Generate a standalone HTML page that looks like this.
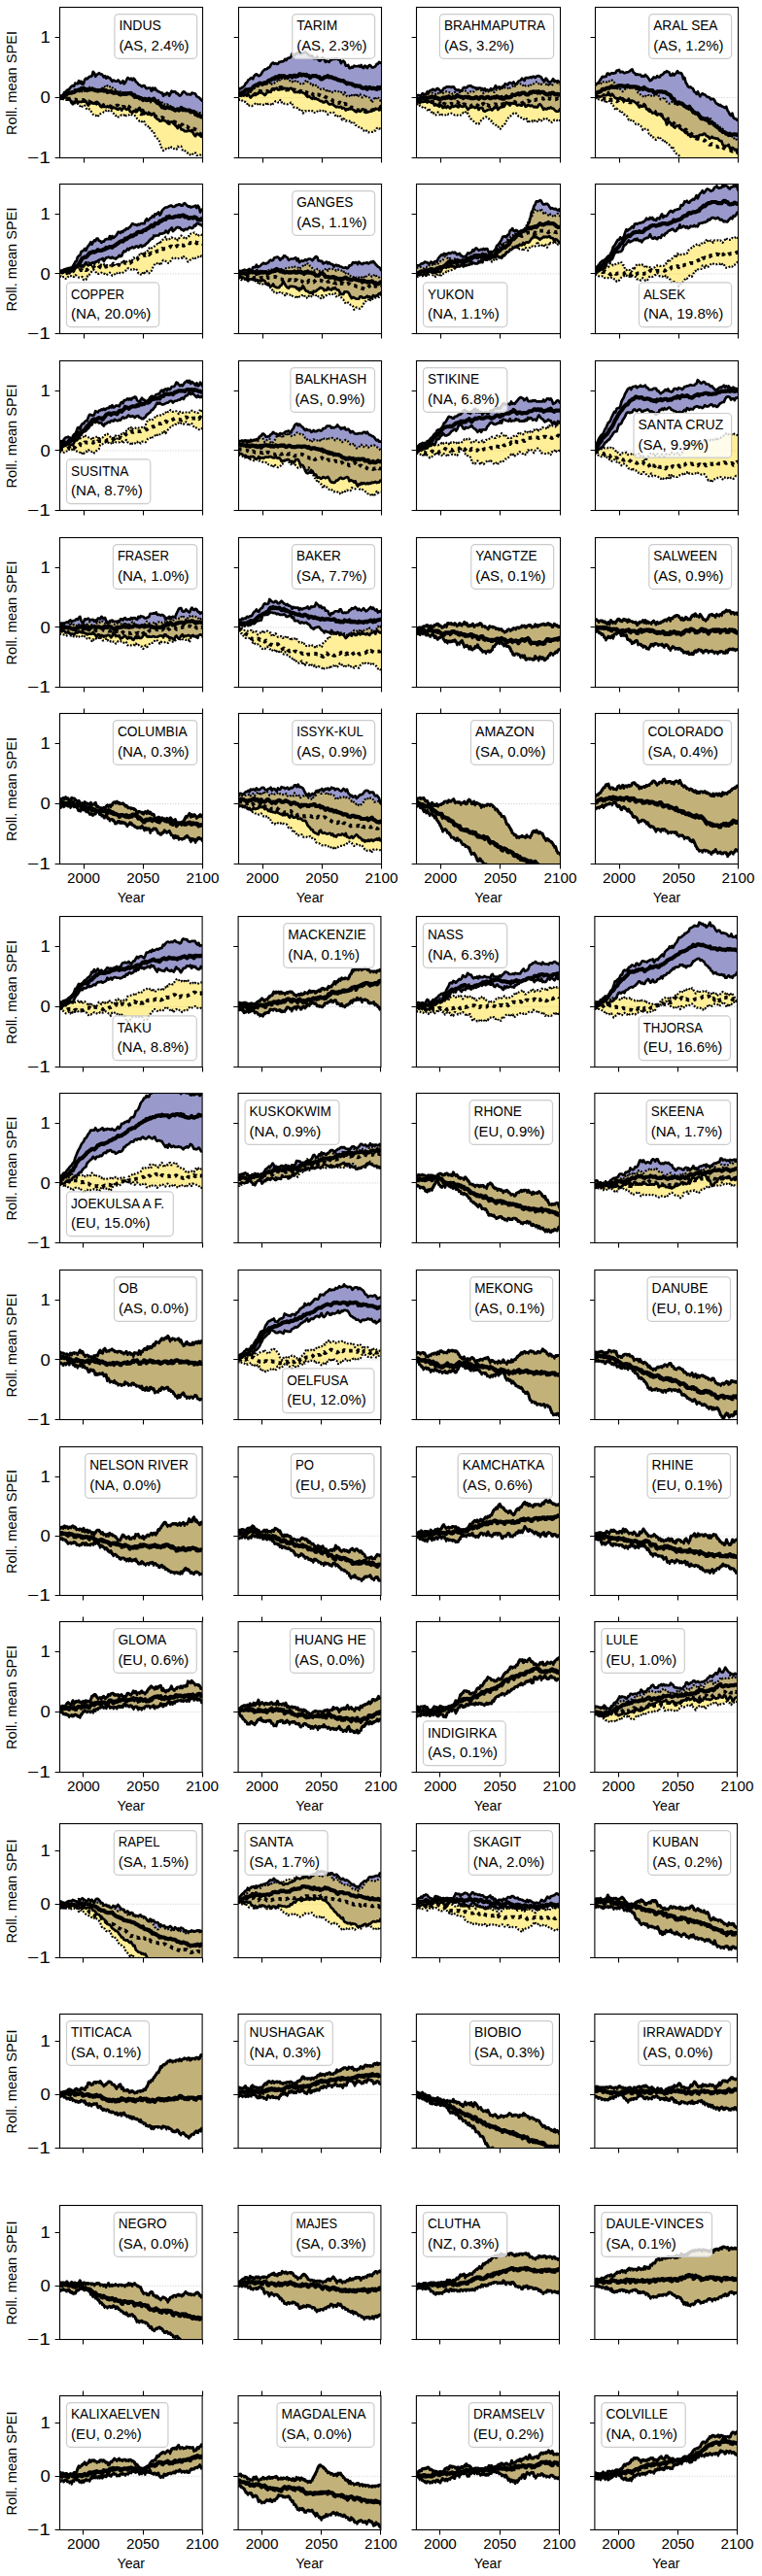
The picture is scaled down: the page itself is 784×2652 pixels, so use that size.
<!DOCTYPE html>
<html><head><meta charset="utf-8"><title>SPEI</title>
<style>html,body{margin:0;padding:0;background:#fff;width:784px;height:2652px;overflow:hidden}
svg{display:block;font-family:"Liberation Sans",sans-serif;fill:#000}
.s1,.s2,.d1,.d2{fill:none;stroke:#000;stroke-linejoin:round;vector-effect:non-scaling-stroke}
.s1{stroke-width:2.7}.s2{stroke-width:4.2}.s1.t{stroke-width:3}.s2.t{stroke-width:4.4}.d1{stroke-width:2.2;stroke-dasharray:1.8 1.7}.d2{stroke-width:3.8;stroke-dasharray:3.6 4.4}</style></head>
<body><svg width="784" height="2652" viewBox="0 0 784 2652">
<rect width="784" height="2652" fill="#fff"/>
<clipPath id="c0_0"><rect x="61.5" y="7.5" width="147.0" height="155.0"/></clipPath>
<g clip-path="url(#c0_0)">
<line x1="61.5" y1="100.5" x2="208.5" y2="100.5" stroke="#aaa" stroke-width="0.6" stroke-dasharray="1,1.7"/>
<g transform="matrix(1.2250 0 0 0.6200 61.50 100.50)">
<path d="M0 0l 1-3 1 0 1-2 1-4 1 0 1-3 1-1 1-1 1-3 1-2 1-1 1 1 1-5 1 1 1 0 1-5 1 4 1-3 1 5 1-1 1-7 1-2 1 1 1-2 1-2 1 0 1-1 1-7 1 2 1 6 1-3 1-1 1-2 1 2 1 0 1 2 1 3 1-2 1 4 1-3 1 2 1 0 1 3 1 3 1-2 1 1 1 1 1 0 1-2 1 2 1 3 1-1 1-3 1 5 1-2 1-4 1-4 1 1 1 2 1-2 1 3 1-3 1 2 1 4 1 1 1 3 1 1 1 1 1 2 1-2 1 0 1 3 1 2 1-1 1 0 1 0 1 5 1-5 1 3 1-3 1 3 1 2 1 1 1 1 1 1 1 0 1 5 1-3 1 1 1-3 1 1 1 4 1-4 1-4 1 2 1-1 1 0 1 3 1 0 1 3 1 1 1-2 1-3 1-2 1 1 1 2 1 2 1-1 1 1 1 0 1-3 1 1 1 0 1 1 1 4 1 1 1 1 1 2 1 2 1 2 0 56-1 3-1-2-1-1-1-2-1 0-1 4-1-2-1-3-1-5-1 2-1-1-1-1-1 2-1 0-1 0-1-2-1-1-1 0-1-5-1-2-1 5-1-3-1-2-1-2-1-2-1-2-1 1-1 0-1-2-1 2-1-2-1-1-1 0-1-1-1 2-1 0-1-3-1 0-1-2-1-2-1-6-1 1-1 2-1-2-1-1-1 2-1-2-1-1-1 2-1-6-1-1-1 2-1-5-1 2-1 4-1 1-1-1-1-1-1 3-1-1-1-1-1-5-1 1-1 1-1-2-1-1-1 1-1 3-1-3-1 0-1 2-1-1-1-1-1-1-1-1-1 2-1-1-1-2-1 1-1-2-1 2-1-1-1 0-1 0-1 1-1-2-1-4-1-1-1 2-1-1-1-1-1 1-1-2-1-1-1 2-1 4-1-3-1-4-1-1-1 1-1 1-1 0-1 0-1 0-1 2-1-4-1 3-1-1-1 4-1-2-1-4-1-3-1 1-1-3-1 0-1 0-1 1-1 1-1-1-1 0z" fill="#9999cc"/>
<path d="M0 1l 1-2 1-1 1-3 1 3 1-2 1-1 1-2 1-2 1-3 1 2 1-2 1-1 1 0 1 3 1-2 1 0 1 3 1-2 1 1 1-2 1 1 1-1 1-3 1-2 1 0 1-1 1 0 1 4 1 0 1 0 1 2 1-2 1 2 1-3 1-1 1 1 1-3 1 0 1 1 1-3 1 2 1 0 1-1 1 2 1 2 1 0 1 3 1 3 1-1 1 0 1 0 1 0 1 2 1-1 1 1 1 1 1 2 1-1 1-3 1 0 1 5 1 0 1-2 1 4 1 2 1-1 1 4 1-4 1 3 1 1 1 1 1 1 1 1 1-2 1 4 1 0 1-1 1 0 1-2 1 2 1-3 1 2 1-2 1 3 1 3 1-2 1 3 1 0 1 1 1-1 1 1 1 2 1 0 1 6 1-1 1 1 1-1 1 1 1 0 1 0 1-2 1 2 1 2 1 0 1-2 1 2 1 1 1-1 1-1 1 2 1 1 1-1 1-1 1 2 1 0 1 1 1 1 1-1 1 2 1 3 0 69-1-2-1-2-1 1-1 0-1 0-1-4-1-1-1 2-1 2-1 1-1-2-1 0-1-3-1-1-1-2-1-2-1 1-1-6-1 0-1 1-1-1-1 5-1 0-1-1-1-2-1 0-1-2-1 2-1 2-1 1-1-1-1 1-1 2-1-3-1-4-1-6-1-6-1-1-1-2-1-2-1-7-1 0-1-3-1-2-1-5-1 1-1-2-1-1-1-5-1-2-1 2-1-2-1 1-1-2-1-2-1-4-1-1-1 0-1-1-1-1-1-1-1 2-1 0-1 0-1 3-1-3-1 1-1-1-1 1-1 2-1 0-1-3-1 1-1-3-1-1-1-2-1-3-1 1-1 0-1-2-1 1-1 3-1 0-1 1-1 1-1 1-1 0-1 5-1-1-1-2-1 0-1-1-1-3-1-3-1-3-1 1-1 0-1-3-1-4-1 2-1 0-1-3-1 2-1-1-1-3-1 0-1 0-1-2-1-1-1-1-1-2-1-1-1-1-1 2-1 0-1 0-1-1-1-3-1 0-1 0z" fill="#ffd700" fill-opacity="0.4"/>
<path class="d1" d="M0 1l 1-2 1-1 1-3 1 3 1-2 1-1 1-2 1-2 1-3 1 2 1-2 1-1 1 0 1 3 1-2 1 0 1 3 1-2 1 1 1-2 1 1 1-1 1-3 1-2 1 0 1-1 1 0 1 4 1 0 1 0 1 2 1-2 1 2 1-3 1-1 1 1 1-3 1 0 1 1 1-3 1 2 1 0 1-1 1 2 1 2 1 0 1 3 1 3 1-1 1 0 1 0 1 0 1 2 1-1 1 1 1 1 1 2 1-1 1-3 1 0 1 5 1 0 1-2 1 4 1 2 1-1 1 4 1-4 1 3 1 1 1 1 1 1 1 1 1-2 1 4 1 0 1-1 1 0 1-2 1 2 1-3 1 2 1-2 1 3 1 3 1-2 1 3 1 0 1 1 1-1 1 1 1 2 1 0 1 6 1-1 1 1 1-1 1 1 1 0 1 0 1-2 1 2 1 2 1 0 1-2 1 2 1 1 1-1 1-1 1 2 1 1 1-1 1-1 1 2 1 0 1 1 1 1 1-1 1 2 1 3"/>
<path class="d1" d="M0 0l 1 0 1 0 1 3 1 1 1 0 1 0 1-2 1 1 1 1 1 2 1 1 1 1 1 2 1 0 1 0 1 3 1 1 1-2 1 3 1 0 1-2 1 4 1 3 1 0 1-1 1 3 1 3 1 3 1 1 1 0 1 2 1 1 1-5 1 0 1-1 1-1 1-1 1 0 1-3 1-1 1 2 1 0 1-1 1 3 1 2 1 1 1 3 1-1 1 3 1 0 1-2 1-1 1 1 1-1 1 3 1-3 1 0 1 0 1-2 1 1 1 1 1 1 1 0 1 1 1 4 1 2 1 2 1-1 1 2 1-2 1 2 1 5 1 1 1 2 1-1 1 5 1 2 1 3 1 0 1 7 1 2 1 2 1 1 1 6 1 6 1 4 1 3 1-2 1-1 1 1 1-1 1-2 1-2 1 2 1 0 1 2 1 1 1 0 1-5 1 1 1-1 1 0 1 6 1-1 1 2 1 2 1 1 1 3 1 0 1 2 1-1 1-2 1-2 1 1 1 4 1 0 1 0 1-1 1 2 1 2"/>
<path class="d2" d="M0 0l 1 1 1-1 1 1 1 0 1 1 1 0 1 0 1 0 1 0 1 0 1 0 1 1 1 0 1 1 1 0 1-1 1 1 1 0 1 0 1 0 1 2 1-2 1 2 1 0 1 1 1 2 1 0 1 0 1 1 1-1 1-1 1 1 1 1 1-1 1 1 1 2 1 1 1 0 1 1 1 0 1-1 1 1 1 1 1 1 1-2 1 0 1 0 1-1 1 0 1 2 1-1 1 2 1-1 1 0 1 3 1-2 1-2 1 1 1 2 1 2 1 0 1 0 1 2 1 0 1 3 1 0 1 2 1 1 1 0 1-1 1-1 1 0 1-1 1 1 1 1 1 1 1 0 1 2 1 0 1 1 1 2 1 1 1 1 1 0 1 0 1-1 1 1 1 1 1 2 1 2 1 3 1 1 1-2 1 1 1-1 1-1 1 1 1 1 1 0 1 0 1 2 1 1 1 0 1 3 1-1 1 1 1 0 1 2 1 1 1 0 1-1 1 2 1 0 1 1 1 1 1 2 1 3 1 1 1 2 1 1"/>
<path class="s1" d="M0 0l 1-3 1 0 1-2 1-4 1 0 1-3 1-1 1-1 1-3 1-2 1-1 1 1 1-5 1 1 1 0 1-5 1 4 1-3 1 5 1-1 1-7 1-2 1 1 1-2 1-2 1 0 1-1 1-7 1 2 1 6 1-3 1-1 1-2 1 2 1 0 1 2 1 3 1-2 1 4 1-3 1 2 1 0 1 3 1 3 1-2 1 1 1 1 1 0 1-2 1 2 1 3 1-1 1-3 1 5 1-2 1-4 1-4 1 1 1 2 1-2 1 3 1-3 1 2 1 4 1 1 1 3 1 1 1 1 1 2 1-2 1 0 1 3 1 2 1-1 1 0 1 0 1 5 1-5 1 3 1-3 1 3 1 2 1 1 1 1 1 1 1 0 1 5 1-3 1 1 1-3 1 1 1 4 1-4 1-4 1 2 1-1 1 0 1 3 1 0 1 3 1 1 1-2 1-3 1-2 1 1 1 2 1 2 1-1 1 1 1 0 1-3 1 1 1 0 1 1 1 4 1 1 1 1 1 2 1 2 1 2"/>
<path class="s1" d="M0 1l 1 0 1 1 1-1 1-1 1 0 1 0 1 3 1-1 1 3 1 4 1 2 1-4 1 1 1-3 1 4 1-2 1 0 1 0 1 0 1-1 1-1 1 1 1 4 1 3 1-4 1-2 1 1 1 2 1-1 1 1 1 1 1-2 1 1 1 4 1 2 1-1 1 0 1 0 1 1 1-2 1 2 1-1 1 2 1 1 1-2 1 1 1 1 1 1 1 1 1-2 1 0 1 3 1-3 1-1 1 1 1 2 1-1 1-1 1 5 1 1 1 1 1-3 1 1 1 1 1-1 1-4 1-2 1 5 1-2 1 1 1 6 1-2 1 1 1 2 1-2 1 1 1 2 1-2 1-1 1 6 1 2 1 2 1 0 1 3 1 0 1-2 1 1 1 0 1 1 1 2 1-2 1 2 1 0 1-1 1 2 1 2 1 2 1 2 1 3 1-5 1 2 1 5 1 0 1 1 1 2 1 0 1 0 1-2 1 1 1 1 1-2 1 5 1 3 1 2 1-4 1 0 1 2 1 1 1 2 1-3"/>
<path class="s2" d="M0 -1l 1 0 1-1 1-1 1-1 1-1 1-1 1-1 1-1 1 0 1 0 1-1 1 0 1-2 1-1 1 0 1-1 1 1 1-3 1 0 1-1 1 3 1-1 1 2 1-2 1 1 1-1 1 0 1 1 1 0 1 1 1 0 1 1 1-1 1 0 1 0 1-2 1 3 1-1 1 0 1 3 1-1 1 0 1-1 1 2 1 1 1 0 1-1 1 1 1 0 1 2 1 1 1-1 1-1 1 1 1-1 1 1 1-1 1 0 1 0 1 0 1 2 1 1 1 3 1-1 1 1 1 0 1 2 1 0 1 1 1 2 1-2 1 0 1 2 1 0 1-2 1 2 1 0 1-1 1-1 1 3 1 2 1 2 1-1 1 3 1 2 1 3 1-1 1 2 1 0 1-1 1 0 1 1 1 0 1 0 1 1 1 2 1 1 1-1 1-1 1 2 1-1 1-3 1 2 1 0 1 1 1 1 1 0 1 0 1 0 1 3 1-1 1 0 1 1 1 4 1 0 1 2 1-1 1 2 1 1 1-2"/>
</g></g>
<rect x="61.5" y="7.5" width="147.0" height="155.0" fill="none" stroke="#000" stroke-width="1.1"/>
<path d="M56.6 38.5H61.5 M56.6 100.5H61.5 M56.6 162.5H61.5 M86.5 162.5V167.4 M147.5 162.5V167.4 M208.5 162.5V167.4" stroke="#000" stroke-width="1.1" fill="none"/>
<text x="51.8" y="44.1" text-anchor="end" font-size="16.67" textLength="10.3" lengthAdjust="spacingAndGlyphs">1</text>
<text x="51.8" y="106.1" text-anchor="end" font-size="16.67" textLength="10.3" lengthAdjust="spacingAndGlyphs">0</text>
<text x="51.8" y="168.1" text-anchor="end" font-size="16.67" textLength="23.8" lengthAdjust="spacingAndGlyphs">−1</text>
<text transform="translate(17.2,85.5) rotate(-90)" text-anchor="middle" font-size="13.89" textLength="106.9" lengthAdjust="spacingAndGlyphs">Roll. mean SPEI</text>
<rect x="117.9" y="14.6" width="84.8" height="45.7" rx="4" ry="4" fill="#fff" fill-opacity="0.8" stroke="#cccccc" stroke-width="1.2"/>
<text x="122.4" y="31.2" font-size="13.89" textLength="43.5" lengthAdjust="spacingAndGlyphs">INDUS</text>
<text x="122.4" y="52.0" font-size="13.89" textLength="72.2" lengthAdjust="spacingAndGlyphs">(AS, 2.4%)</text>
<clipPath id="c0_1"><rect x="245.5" y="7.5" width="147.0" height="155.0"/></clipPath>
<g clip-path="url(#c0_1)">
<line x1="245.5" y1="100.5" x2="392.5" y2="100.5" stroke="#aaa" stroke-width="0.6" stroke-dasharray="1,1.7"/>
<g transform="matrix(1.2250 0 0 0.6200 245.50 100.50)">
<path d="M0 -12l 1-3 1 0 1-2 1-1 1-2 1-4 1-1 1-4 1-1 1-2 1-1 1 2 1-5 1-2 1-1 1 2 1 1 1-1 1-2 1-4 1-2 1-2 1 0 1-1 1-2 1 0 1-4 1-3 1-1 1 2 1-1 1 1 1 0 1-3 1 0 1-1 1 0 1-1 1-3 1 2 1-3 1-1 1 0 1-2 1-5 1 4 1-1 1-3 1 0 1-2 1 0 1 3 1-2 1 0 1-1 1-1 1 2 1 1 1 3 1 0 1 1 1 0 1 4 1 0 1 0 1-3 1 5 1 2 1-1 1-4 1 0 1 3 1 4 1-2 1 1 1 1 1-3 1-1 1-1 1 0 1 0 1-1 1 1 1 1 1 0 1 6 1-3 1-1 1 2 1 6 1 0 1-1 1 5 1 0 1-2 1 1 1-3 1 1 1 0 1 0 1-1 1 2 1-3 1 4 1 1 1-4 1 1 1 3 1-3 1-2 1 1 1 3 1 0 1-1 1-1 1-4 1 0 1-3 1 1 1 1 0 70-1 2-1 3-1 1-1 0-1-1-1 3-1 0-1 1-1 1-1 0-1 1-1 0-1-3-1-1-1 0-1-1-1 3-1 1-1-2-1 0-1 3-1-1-1-2-1-1-1-2-1 1-1-1-1 2-1-1-1 2-1-3-1-1-1 1-1-3-1 1-1 0-1-1-1 1-1-2-1-1-1-3-1 1-1 0-1 0-1-2-1-3-1 0-1 2-1 0-1-2-1 0-1-1-1-2-1 0-1-2-1 1-1-3-1 3-1-1-1-2-1-1-1 1-1-2-1-3-1-1-1-1-1-1-1 0-1-1-1 1-1 0-1 0-1 0-1-3-1-2-1-2-1 1-1 1-1-1-1 0-1 0-1-1-1 2-1 0-1 0-1 1-1 0-1-3-1 1-1 1-1-1-1 1-1 5-1-1-1 0-1 1-1 3-1 2-1-2-1-1-1-2-1 1-1-1-1 3-1 0-1-1-1 2-1 1-1 2-1 2-1-3-1-2-1-1-1 1-1 1-1 1-1-2-1 0-1 2-1-1z" fill="#9999cc"/>
<path d="M0 -5l 1-1 1-1 1 0 1-1 1-1 1 2 1 0 1-2 1-2 1 2 1-6 1 0 1 0 1-2 1 0 1-4 1 0 1-3 1-1 1 2 1 0 1 1 1-2 1 1 1 1 1-2 1-2 1 4 1-1 1-1 1-2 1-1 1-1 1 1 1-5 1 1 1-1 1 0 1 1 1-1 1 0 1 4 1 0 1 0 1 2 1-2 1-1 1 3 1-1 1 1 1 2 1 1 1-1 1 1 1-1 1-3 1-2 1 3 1 1 1 1 1 2 1 2 1-2 1 0 1 2 1 3 1 0 1 0 1 3 1-1 1 0 1 1 1 0 1 5 1-3 1-1 1 4 1 1 1-1 1 0 1-2 1 1 1 0 1 0 1 2 1-1 1 1 1 3 1-4 1 3 1 4 1 0 1-1 1 2 1-3 1 2 1-2 1 2 1-5 1 6 1-3 1-2 1 5 1 1 1-1 1-4 1 3 1 2 1 0 1 0 1 3 1 5 1-3 1-4 1 2 1-4 1 1 1 2 1 3 1-5 0 51-1 0-1 1-1-2-1 1-1 4-1 0-1 2-1 0-1 0-1 0-1 1-1-1-1-3-1-1-1 2-1-2-1-3-1 0-1-1-1-2-1-1-1 0-1-4-1 0-1 1-1-5-1 1-1-1-1 0-1 1-1-3-1-1-1 2-1-4-1-4-1 1-1 1-1 1-1-3-1-4-1-1-1 1-1 0-1 1-1 2-1-2-1-3-1 1-1-2-1 1-1 0-1-2-1 0-1 2-1 2-1 0-1 0-1-3-1 1-1-1-1 0-1 1-1 0-1-1-1 2-1 2-1-6-1-1-1 1-1-3-1 0-1-1-1 0-1 0-1-6-1-2-1 2-1 0-1 1-1-1-1 0-1 0-1-3-1 1-1-4-1 4-1 0-1-2-1 0-1 3-1 1-1 3-1-2-1-1-1 0-1 3-1-3-1 2-1 0-1 0-1 0-1-1-1 2-1-2-1 1-1-2-1 2-1 1-1 1-1-1-1 0-1 1-1-5-1-2-1 0-1 0-1-2-1-1-1-1-1 2z" fill="#ffd700" fill-opacity="0.4"/>
<path class="d1" d="M0 -5l 1-1 1-1 1 0 1-1 1-1 1 2 1 0 1-2 1-2 1 2 1-6 1 0 1 0 1-2 1 0 1-4 1 0 1-3 1-1 1 2 1 0 1 1 1-2 1 1 1 1 1-2 1-2 1 4 1-1 1-1 1-2 1-1 1-1 1 1 1-5 1 1 1-1 1 0 1 1 1-1 1 0 1 4 1 0 1 0 1 2 1-2 1-1 1 3 1-1 1 1 1 2 1 1 1-1 1 1 1-1 1-3 1-2 1 3 1 1 1 1 1 2 1 2 1-2 1 0 1 2 1 3 1 0 1 0 1 3 1-1 1 0 1 1 1 0 1 5 1-3 1-1 1 4 1 1 1-1 1 0 1-2 1 1 1 0 1 0 1 2 1-1 1 1 1 3 1-4 1 3 1 4 1 0 1-1 1 2 1-3 1 2 1-2 1 2 1-5 1 6 1-3 1-2 1 5 1 1 1-1 1-4 1 3 1 2 1 0 1 0 1 3 1 5 1-3 1-4 1 2 1-4 1 1 1 2 1 3 1-5"/>
<path class="d1" d="M0 5l 1-2 1 1 1 1 1 2 1 0 1 0 1 2 1 5 1-1 1 0 1 1 1-1 1-1 1-2 1 2 1-1 1 2 1-2 1 1 1 0 1 0 1 0 1-2 1 3 1-3 1 0 1 1 1 2 1-3 1-1 1-3 1 0 1 2 1 0 1-4 1 4 1-1 1 3 1 0 1 0 1 1 1-1 1 0 1-2 1 2 1 6 1 0 1 0 1 1 1 0 1 3 1-1 1 1 1 6 1-2 1-2 1 1 1 0 1-1 1 0 1 1 1-1 1 3 1 0 1 0 1-2 1-2 1 0 1 2 1 0 1-1 1 2 1-1 1 3 1 2 1-2 1-1 1 0 1-1 1 1 1 4 1 3 1-1 1-1 1-1 1 4 1 4 1-2 1 1 1 3 1-1 1 0 1 1 1-1 1 5 1-1 1 0 1 4 1 0 1 1 1 2 1 1 1 0 1 3 1 2 1-2 1 1 1 3 1 1 1-1 1 0 1 0 1 0 1-2 1 0 1-4 1-1 1 2 1-1 1 0"/>
<path class="d2" d="M0 -3l 1-1 1 0 1-1 1 0 1 0 1 0 1 1 1-2 1 1 1 0 1 0 1-1 1 1 1 0 1-3 1-2 1 0 1-1 1 1 1 0 1 1 1 0 1-1 1-1 1 1 1-2 1 1 1-3 1 0 1 0 1 1 1-1 1-1 1 0 1-2 1 0 1 2 1 0 1 0 1 2 1-1 1 1 1-1 1 1 1 2 1-2 1 0 1 2 1 1 1 1 1 0 1-2 1 1 1 1 1-2 1 2 1 0 1 2 1-1 1 2 1-1 1 1 1 2 1-1 1 2 1-2 1 0 1 1 1 1 1-1 1 0 1 2 1 1 1 1 1 1 1 1 1 0 1 1 1 2 1 1 1 0 1 1 1 2 1 0 1-1 1 1 1 3 1-1 1-1 1 1 1 0 1 0 1 5 1 1 1-1 1 2 1 0 1 1 1 1 1 1 1 0 1 0 1 1 1 0 1 0 1 1 1 1 1-1 1 0 1 0 1-1 1-1 1-1 1 1 1-1 1 0 1 0 1 0 1-1 1 1"/>
<path class="s1" d="M0 -12l 1-3 1 0 1-2 1-1 1-2 1-4 1-1 1-4 1-1 1-2 1-1 1 2 1-5 1-2 1-1 1 2 1 1 1-1 1-2 1-4 1-2 1-2 1 0 1-1 1-2 1 0 1-4 1-3 1-1 1 2 1-1 1 1 1 0 1-3 1 0 1-1 1 0 1-1 1-3 1 2 1-3 1-1 1 0 1-2 1-5 1 4 1-1 1-3 1 0 1-2 1 0 1 3 1-2 1 0 1-1 1-1 1 2 1 1 1 3 1 0 1 1 1 0 1 4 1 0 1 0 1-3 1 5 1 2 1-1 1-4 1 0 1 3 1 4 1-2 1 1 1 1 1-3 1-1 1-1 1 0 1 0 1-1 1 1 1 1 1 0 1 6 1-3 1-1 1 2 1 6 1 0 1-1 1 5 1 0 1-2 1 1 1-3 1 1 1 0 1 0 1-1 1 2 1-3 1 4 1 1 1-4 1 1 1 3 1-3 1-2 1 1 1 3 1 0 1-1 1-1 1-4 1 0 1-3 1 1 1 1"/>
<path class="s1" d="M0 -4l 1 1 1-2 1 0 1 2 1-1 1-1 1-1 1 1 1 2 1 3 1-2 1-2 1-1 1-2 1 1 1 0 1-3 1 1 1-1 1 2 1 1 1 2 1-2 1-3 1-1 1 0 1 1 1-5 1-1 1 1 1-1 1-1 1 3 1 0 1-1 1 0 1 0 1-2 1 1 1 0 1 0 1 1 1-1 1-1 1 2 1 2 1 3 1 0 1 0 1 0 1-1 1 1 1 0 1 1 1 1 1 1 1 3 1 2 1-1 1 1 1 2 1 1 1-3 1 3 1-1 1 2 1 0 1 2 1 1 1 0 1 2 1 0 1-2 1 0 1 3 1 2 1 0 1 0 1-1 1 3 1 1 1 2 1-1 1 1 1 0 1-1 1 3 1-1 1 1 1 3 1-2 1 1 1-2 1 1 1-1 1 2 1 1 1 2 1 1 1-3 1 0 1 2 1-1 1-3 1 1 1 0 1 1 1 3 1 0 1-1 1 0 1-1 1-1 1 0 1-3 1 1 1 0 1-1 1-3 1-2"/>
<path class="s2" d="M0 -6l 1 0 1-2 1 0 1-1 1-2 1-2 1 0 1 0 1-1 1 2 1-3 1-2 1-2 1-1 1-1 1 1 1-3 1-1 1 1 1 1 1-2 1-1 1 1 1-2 1-2 1-1 1 0 1-2 1-1 1 1 1-3 1 0 1 1 1-3 1 1 1-1 1 1 1-1 1 1 1 1 1 0 1-1 1-1 1 0 1 2 1-2 1-1 1 2 1-1 1 0 1-3 1 0 1 2 1-1 1 0 1 1 1-1 1 2 1 0 1 3 1-2 1-1 1 0 1 0 1 0 1 1 1 1 1 0 1 3 1 0 1-1 1-2 1 0 1-1 1-1 1 2 1 0 1 0 1 1 1 1 1 0 1 1 1 1 1 1 1 0 1 1 1 0 1 0 1 2 1 1 1 2 1-1 1 1 1 0 1 0 1 2 1 0 1 2 1-1 1 1 1 0 1 0 1 2 1 1 1 0 1 0 1-1 1 3 1-2 1-1 1 1 1 1 1-1 1 1 1 0 1 1 1-3 1 2 1-2 1 2"/>
</g></g>
<rect x="245.5" y="7.5" width="147.0" height="155.0" fill="none" stroke="#000" stroke-width="1.1"/>
<path d="M240.6 38.5H245.5 M240.6 100.5H245.5 M240.6 162.5H245.5 M270.5 162.5V167.4 M331.5 162.5V167.4 M392.5 162.5V167.4" stroke="#000" stroke-width="1.1" fill="none"/>
<rect x="300.8" y="14.6" width="84.8" height="45.7" rx="4" ry="4" fill="#fff" fill-opacity="0.8" stroke="#cccccc" stroke-width="1.2"/>
<text x="305.2" y="31.2" font-size="13.89" textLength="42.0" lengthAdjust="spacingAndGlyphs">TARIM</text>
<text x="305.2" y="52.0" font-size="13.89" textLength="72.2" lengthAdjust="spacingAndGlyphs">(AS, 2.3%)</text>
<clipPath id="c0_2"><rect x="428.5" y="7.5" width="148.0" height="155.0"/></clipPath>
<g clip-path="url(#c0_2)">
<line x1="428.5" y1="100.5" x2="576.5" y2="100.5" stroke="#aaa" stroke-width="0.6" stroke-dasharray="1,1.7"/>
<g transform="matrix(1.2333 0 0 0.6200 428.50 100.50)">
<path d="M0 -3l 1-1 1 0 1 1 1-1 1-3 1 1 1 1 1-1 1-4 1 3 1-4 1-1 1-1 1-1 1 2 1 0 1-3 1 0 1 2 1 2 1 1 1-3 1-3 1 0 1-2 1 0 1 0 1 0 1 1 1-1 1 0 1 3 1 2 1 1 1-1 1 1 1 1 1-1 1-4 1-1 1 1 1-1 1-2 1 0 1-1 1 1 1 2 1 0 1 1 1 0 1 1 1-1 1 0 1 1 1 0 1 3 1-3 1 3 1-1 1 1 1 0 1-3 1 2 1-1 1-2 1-4 1 4 1-1 1-1 1 1 1 1 1-3 1 0 1-4 1 1 1 1 1-3 1-1 1 1 1 1 1-3 1 3 1 1 1-2 1-3 1-1 1-1 1-3 1 2 1 2 1-5 1 0 1 0 1 0 1-1 1 1 1-2 1 0 1 2 1-2 1-1 1 0 1 1 1 1 1 4 1 1 1 1 1-4 1 2 1 4 1 0 1 0 1-2 1-3 1 3 1 0 1 2 1-2 1 2 1 0 0 44-1 4-1 1-1 0-1-1-1-2-1-2-1 0-1-2-1 2-1-1-1 2-1 0-1-1-1 2-1-4-1-3-1-2-1 1-1 4-1 0-1-1-1 1-1-2-1-1-1 1-1-1-1-1-1 2-1 1-1-5-1-1-1 4-1 0-1-1-1 0-1 1-1-2-1-1-1 0-1-1-1 1-1 3-1-2-1-2-1-1-1 4-1 3-1 0-1 1-1 0-1 2-1 2-1-5-1 2-1-1-1 3-1 2-1-2-1 1-1 0-1 1-1 1-1 1-1-1-1-5-1 0-1 0-1 3-1-3-1-2-1 2-1-1-1-1-1 1-1 0-1 2-1 2-1-3-1-3-1-1-1 2-1 0-1-1-1-2-1 4-1-1-1-2-1 1-1 1-1 0-1 0-1 3-1-2-1-2-1 3-1-2-1 1-1 1-1-4-1 0-1 2-1-2-1 0-1-2-1 2-1-5-1-3-1 2-1 0-1-1-1 2-1-2-1 0-1 1-1 0-1-1-1 3-1-2-1 1-1 0z" fill="#9999cc"/>
<path d="M0 -1l 1 1 1 0 1-1 1-1 1-1 1-1 1 3 1-1 1-2 1-3 1-4 1 1 1 2 1 1 1 1 1 0 1-2 1 1 1-3 1 2 1 1 1 0 1-2 1-1 1 0 1 1 1 0 1 1 1 0 1 2 1-2 1-1 1 3 1 1 1-1 1-3 1-2 1 0 1 1 1-1 1 0 1 1 1 3 1-2 1-1 1 1 1-1 1 0 1-2 1-1 1-3 1 2 1 0 1 2 1 3 1 2 1-2 1-2 1 2 1-1 1-2 1 0 1 2 1 0 1 1 1-3 1-1 1 0 1-1 1 0 1-2 1 0 1-2 1 2 1 1 1 0 1-3 1 2 1-1 1-1 1-3 1 2 1-1 1-3 1 1 1 0 1-1 1 0 1 3 1 2 1-2 1-1 1 1 1 1 1 0 1-4 1 0 1 0 1-2 1-1 1 3 1 0 1-1 1 2 1-2 1-2 1 3 1 1 1-2 1 3 1-3 1 3 1 1 1-3 1-3 1 0 1 1 1 1 1 0 1 2 0 61-1-3-1 1-1 1-1-1-1 0-1 3-1 1-1 0-1-2-1-4-1 0-1 1-1 1-1-2-1 1-1 3-1 0-1-3-1 3-1 2-1-2-1-1-1 2-1-2-1 0-1 2-1 2-1-7-1 2-1 0-1-3-1 0-1-1-1-1-1-1-1-3-1-2-1 1-1-1-1 2-1 2-1 1-1 1-1 4-1 3-1 4-1 2-1 1-1 4-1 2-1 0-1-4-1 0-1-3-1-2-1 0-1-4-1 0-1-2-1-3-1-1-1-1-1 1-1 1-1 3-1 1-1 2-1 4-1 0-1-1-1-1-1-2-1-2-1-2-1-1-1-4-1-4-1-4-1 1-1 2-1-1-1 3-1 1-1 0-1 1-1-1-1-1-1 1-1-1-1-1-1-1-1 1-1 0-1 1-1-1-1 2-1 0-1 0-1-1-1 2-1-3-1-3-1 3-1 2-1 0-1-4-1 1-1-4-1-2-1 3-1-3-1-2-1-1-1 1-1-2-1-1-1-2-1 1-1-3-1 0z" fill="#ffd700" fill-opacity="0.4"/>
<path class="d1" d="M0 -1l 1 1 1 0 1-1 1-1 1-1 1-1 1 3 1-1 1-2 1-3 1-4 1 1 1 2 1 1 1 1 1 0 1-2 1 1 1-3 1 2 1 1 1 0 1-2 1-1 1 0 1 1 1 0 1 1 1 0 1 2 1-2 1-1 1 3 1 1 1-1 1-3 1-2 1 0 1 1 1-1 1 0 1 1 1 3 1-2 1-1 1 1 1-1 1 0 1-2 1-1 1-3 1 2 1 0 1 2 1 3 1 2 1-2 1-2 1 2 1-1 1-2 1 0 1 2 1 0 1 1 1-3 1-1 1 0 1-1 1 0 1-2 1 0 1-2 1 2 1 1 1 0 1-3 1 2 1-1 1-1 1-3 1 2 1-1 1-3 1 1 1 0 1-1 1 0 1 3 1 2 1-2 1-1 1 1 1 1 1 0 1-4 1 0 1 0 1-2 1-1 1 3 1 0 1-1 1 2 1-2 1-2 1 3 1 1 1-2 1 3 1-3 1 3 1 1 1-3 1-3 1 0 1 1 1 1 1 0 1 2"/>
<path class="d1" d="M0 11l 1 0 1 3 1-1 1 2 1 1 1 2 1-1 1 1 1 2 1 3 1-3 1 2 1 4 1-1 1 4 1 0 1-2 1-3 1 3 1 3 1-2 1 1 1 0 1 0 1-2 1 1 1-1 1 0 1-1 1 1 1 1 1 1 1-1 1 1 1 1 1-1 1 0 1-1 1-3 1 1 1-2 1-1 1 4 1 4 1 4 1 1 1 2 1 2 1 2 1 1 1 1 1 0 1-4 1-2 1-1 1-3 1-1 1-1 1 1 1 1 1 3 1 2 1 0 1 4 1 0 1 2 1 3 1 0 1 4 1 0 1-2 1-4 1-1 1-2 1-4 1-3 1-4 1-1 1-1 1-2 1-2 1 1 1-1 1 2 1 3 1 1 1 1 1 1 1 0 1 3 1 0 1-2 1 7 1-2 1-2 1 0 1 2 1-2 1 1 1 2 1-2 1-3 1 3 1 0 1-3 1-1 1 2 1-1 1-1 1 0 1 4 1 2 1 0 1-1 1-3 1 0 1 1 1-1 1-1 1 3"/>
<path class="d2" d="M0 3l 1 1 1 0 1-1 1 1 1-1 1 1 1 1 1 0 1 1 1 0 1 1 1 0 1 1 1-1 1 0 1 1 1 2 1 1 1 0 1-2 1 3 1 1 1-3 1 1 1 1 1-1 1 0 1 0 1-1 1 1 1 0 1-1 1-2 1-1 1 2 1 1 1 1 1 2 1-2 1 0 1 1 1 1 1 0 1 2 1 0 1-2 1-1 1 2 1-1 1 1 1-1 1-3 1 3 1-1 1-1 1-1 1 4 1 0 1-2 1 1 1 1 1-1 1 0 1-1 1-1 1 0 1 1 1-1 1 2 1-2 1 0 1 0 1-1 1 2 1 1 1-1 1-2 1 0 1 1 1-1 1-1 1-2 1 2 1 1 1 0 1-1 1 1 1-1 1-1 1-1 1 0 1 0 1-2 1 1 1-3 1 0 1 0 1 1 1 0 1-1 1 0 1-1 1-1 1 0 1 0 1 1 1-1 1-2 1 2 1 0 1 1 1-1 1 1 1 1 1 0 1 0 1-1 1-1 1 1 1 0"/>
<path class="s1" d="M0 -3l 1-1 1 0 1 1 1-1 1-3 1 1 1 1 1-1 1-4 1 3 1-4 1-1 1-1 1-1 1 2 1 0 1-3 1 0 1 2 1 2 1 1 1-3 1-3 1 0 1-2 1 0 1 0 1 0 1 1 1-1 1 0 1 3 1 2 1 1 1-1 1 1 1 1 1-1 1-4 1-1 1 1 1-1 1-2 1 0 1-1 1 1 1 2 1 0 1 1 1 0 1 1 1-1 1 0 1 1 1 0 1 3 1-3 1 3 1-1 1 1 1 0 1-3 1 2 1-1 1-2 1-4 1 4 1-1 1-1 1 1 1 1 1-3 1 0 1-4 1 1 1 1 1-3 1-1 1 1 1 1 1-3 1 3 1 1 1-2 1-3 1-1 1-1 1-3 1 2 1 2 1-5 1 0 1 0 1 0 1-1 1 1 1-2 1 0 1 2 1-2 1-1 1 0 1 1 1 1 1 4 1 1 1 1 1-4 1 2 1 4 1 0 1 0 1-2 1-3 1 3 1 0 1 2 1-2 1 2 1 0"/>
<path class="s1" d="M0 8l 1 0 1-1 1 2 1-3 1 1 1 0 1-1 1 0 1 2 1-2 1 1 1 0 1-2 1 3 1 5 1-2 1 2 1 0 1 2 1-2 1 0 1 4 1-1 1-1 1 2 1-3 1 2 1 2 1-3 1 0 1 0 1-1 1-1 1 2 1 1 1-4 1 2 1 1 1 0 1-2 1 1 1 3 1 3 1-2 1-2 1 0 1-1 1 1 1 1 1-2 1 2 1 3 1-3 1 0 1 0 1 5 1 1 1-1 1-1 1-1 1 0 1-1 1 2 1-2 1-3 1 1 1-2 1 5 1-2 1-2 1 0 1-1 1 0 1-3 1-4 1 1 1 2 1 2 1-3 1-1 1 1 1 0 1 1 1 2 1-1 1 0 1 1 1 0 1-4 1 1 1 5 1-1 1-2 1 1 1 1 1-1 1 1 1 2 1-1 1 1 1 0 1-4 1-1 1 2 1 3 1 4 1-2 1 1 1 0 1-2 1 1 1-2 1 2 1 0 1 2 1 2 1 1 1 0 1-1 1-4"/>
<path class="s2" d="M0 2l 1 0 1 0 1 0 1-1 1 0 1 0 1-1 1 0 1 1 1-1 1 0 1-1 1-1 1 1 1 2 1-2 1 2 1 0 1 2 1-1 1 0 1-2 1 0 1 1 1-2 1 1 1-2 1 2 1 1 1-1 1-1 1 1 1-2 1-2 1 2 1 0 1 1 1 0 1 2 1-2 1 0 1 0 1 1 1-1 1 2 1 0 1 0 1 0 1-1 1-1 1 2 1 1 1-2 1-1 1 0 1 2 1 0 1-1 1-1 1 0 1 2 1 0 1-1 1 0 1-1 1 1 1-2 1 1 1 1 1 1 1-2 1 3 1 0 1-2 1-2 1 2 1 0 1-1 1 0 1-4 1 1 1 0 1-1 1-1 1-1 1 2 1-1 1-2 1 0 1 0 1 2 1 1 1 0 1-2 1-2 1 1 1-2 1 0 1 1 1-1 1 2 1-2 1 2 1-1 1 0 1 0 1 2 1 1 1 1 1-1 1-1 1 1 1-2 1 0 1 2 1 1 1-1 1 0 1 1 1 0"/>
</g></g>
<rect x="428.5" y="7.5" width="148.0" height="155.0" fill="none" stroke="#000" stroke-width="1.1"/>
<path d="M423.6 38.5H428.5 M423.6 100.5H428.5 M423.6 162.5H428.5 M453.5 162.5V167.4 M514.5 162.5V167.4 M576.5 162.5V167.4" stroke="#000" stroke-width="1.1" fill="none"/>
<rect x="452.4" y="14.6" width="117.2" height="45.7" rx="4" ry="4" fill="#fff" fill-opacity="0.8" stroke="#cccccc" stroke-width="1.2"/>
<text x="456.9" y="31.2" font-size="13.89" textLength="104.1" lengthAdjust="spacingAndGlyphs">BRAHMAPUTRA</text>
<text x="456.9" y="52.0" font-size="13.89" textLength="72.2" lengthAdjust="spacingAndGlyphs">(AS, 3.2%)</text>
<clipPath id="c0_3"><rect x="612.5" y="7.5" width="147.0" height="155.0"/></clipPath>
<g clip-path="url(#c0_3)">
<line x1="612.5" y1="100.5" x2="759.5" y2="100.5" stroke="#aaa" stroke-width="0.6" stroke-dasharray="1,1.7"/>
<g transform="matrix(1.2250 0 0 0.6200 612.50 100.50)">
<path d="M0 -21l 1-2 1-1 1-2 1-3 1-3 1-3 1 1 1-1 1 0 1-5 1 0 1 2 1-2 1-1 1 1 1-1 1 0 1-4 1 0 1-1 1 4 1-1 1 0 1 2 1 0 1-1 1 0 1-1 1-1 1-2 1-1 1 5 1 1 1 3 1-1 1 1 1 0 1 0 1 3 1-1 1 1 1-3 1 2 1 2 1 3 1 3 1-1 1-2 1-3 1 1 1 0 1-3 1 2 1 0 1-3 1-1 1-1 1-3 1 0 1-2 1 1 1 1 1 5 1 0 1-3 1 3 1-2 1-2 1-3 1 3 1 0 1 0 1 3 1 7 1-2 1 8 1 3 1 4 1 1 1-1 1 2 1 1 1 5 1 1 1 3 1-4 1 4 1 4 1-3 1-2 1 2 1 0 1 2 1 2 1 0 1 1 1 3 1-1 1 0 1 2 1 4 1 2 1 1 1 2 1-1 1 2 1 1 1 1 1 1 1-2 1 6 1 3 1 4 1 2 1-4 1 7 1 2 1 0 1 2 1 1 0 50-1-1-1-1-1 1-1-3-1-1-1 4-1-3-1-6-1 2-1 0-1 0-1 0-1-2-1-6-1 0-1-1-1-3-1 0-1 0-1-1-1 0-1-2-1 2-1 1-1-3-1-1-1-1-1-3-1 0-1 2-1 0-1 0-1 1-1 6-1-5-1 1-1 0-1-1-1 0-1 1-1-3-1 0-1-5-1 2-1-2-1-3-1 0-1-2-1-1-1-4-1 0-1 0-1 3-1-1-1-4-1 1-1-4-1-2-1 2-1 3-1-7-1-2-1-2-1-5-1-2-1 1-1-1-1 2-1-2-1-1-1-1-1 1-1-3-1-1-1 0-1-3-1 0-1-6-1-2-1 3-1 1-1-2-1 3-1-3-1-3-1-1-1-2-1-1-1-1-1 0-1 2-1-5-1 3-1 0-1-1-1-1-1-2-1 2-1-3-1 1-1 1-1-1-1 0-1-2-1-3-1-2-1 3-1-1-1-5-1 5-1 0-1 0-1-1-1 2-1 1-1 1-1-1-1 0-1 1-1 0z" fill="#9999cc"/>
<path d="M0 -21l 1 0 1 0 1-3 1 2 1-2 1-3 1 1 1-1 1 1 1 0 1-2 1 1 1 0 1-2 1 3 1 1 1 2 1 5 1 4 1 1 1-1 1 2 1 2 1-2 1-2 1-3 1 1 1 2 1-2 1 2 1-4 1 1 1-1 1 3 1 4 1 3 1 1 1 2 1 2 1 1 1-1 1 1 1-3 1 1 1 0 1 2 1-1 1 0 1-1 1 2 1-2 1-2 1 2 1 5 1 2 1-1 1-1 1-2 1 5 1 3 1 1 1 2 1-1 1-2 1 1 1 1 1 2 1 1 1 0 1-1 1-1 1-3 1 3 1 0 1 4 1 1 1 5 1-1 1 1 1 1 1 0 1 5 1-1 1 0 1 3 1-1 1 2 1 2 1 4 1-3 1 0 1 2 1 0 1 0 1 3 1 0 1-2 1 4 1 1 1 2 1 1 1 1 1 3 1 0 1 3 1 1 1 1 1 3 1 3 1 0 1 2 1 0 1-1 1 4 1 2 1 0 1 4 1-1 1 3 1 0 0 54-1-6-1 1-1 1-1 4-1-1-1-3-1 1-1-1-1-1-1-2-1 0-1-1-1 3-1-2-1-1-1 0-1 0-1 3-1-2-1 3-1-5-1-2-1 3-1-1-1-2-1 1-1 3-1 0-1 0-1 1-1-1-1 0-1-2-1-1-1-1-1-1-1-2-1 0-1-3-1 2-1-3-1 0-1 5-1-4-1-1-1-3-1 0-1 0-1-3-1-6-1-1-1-1-1-3-1-2-1-7-1 2-1-2-1-3-1-1-1-2-1 1-1-5-1 1-1-3-1 0-1-4-1 1-1 2-1 2-1-1-1-3-1 0-1-2-1-4-1 0-1-7-1-1-1 0-1 0-1 2-1-5-1-2-1-1-1-2-1-1-1 1-1-2-1-3-1 1-1-2-1-2-1 1-1-5-1-3-1-1-1 0-1-2-1-4-1 1-1-2-1-1-1-2-1 2-1-3-1-4-1-1-1-5-1-1-1-1-1 0-1 4-1-3-1-1-1 0-1-1-1-1-1 0-1-2-1 0-1-2z" fill="#ffd700" fill-opacity="0.4"/>
<path class="d1" d="M0 -21l 1 0 1 0 1-3 1 2 1-2 1-3 1 1 1-1 1 1 1 0 1-2 1 1 1 0 1-2 1 3 1 1 1 2 1 5 1 4 1 1 1-1 1 2 1 2 1-2 1-2 1-3 1 1 1 2 1-2 1 2 1-4 1 1 1-1 1 3 1 4 1 3 1 1 1 2 1 2 1 1 1-1 1 1 1-3 1 1 1 0 1 2 1-1 1 0 1-1 1 2 1-2 1-2 1 2 1 5 1 2 1-1 1-1 1-2 1 5 1 3 1 1 1 2 1-1 1-2 1 1 1 1 1 2 1 1 1 0 1-1 1-1 1-3 1 3 1 0 1 4 1 1 1 5 1-1 1 1 1 1 1 0 1 5 1-1 1 0 1 3 1-1 1 2 1 2 1 4 1-3 1 0 1 2 1 0 1 0 1 3 1 0 1-2 1 4 1 1 1 2 1 1 1 1 1 3 1 0 1 3 1 1 1 1 1 3 1 3 1 0 1 2 1 0 1-1 1 4 1 2 1 0 1 4 1-1 1 3 1 0"/>
<path class="d1" d="M0 -1l 1 2 1 0 1 2 1 0 1 1 1 1 1 0 1 1 1 3 1-4 1 0 1 1 1 1 1 5 1 1 1 4 1 3 1-2 1 2 1 1 1 2 1-1 1 4 1 2 1 0 1 1 1 3 1 5 1-1 1 2 1 2 1-1 1 3 1 2 1-1 1 1 1 2 1 1 1 2 1 5 1-2 1 0 1 0 1 1 1 7 1 0 1 4 1 2 1 0 1 3 1 1 1-2 1-2 1-1 1 4 1 0 1 3 1-1 1 5 1-1 1 2 1 1 1 3 1 2 1-2 1 7 1 2 1 3 1 1 1 1 1 6 1 3 1 0 1 0 1 3 1 1 1 4 1-5 1 0 1 3 1-2 1 3 1 0 1 2 1 1 1 1 1 1 1 2 1 0 1 1 1-1 1 0 1 0 1-3 1-1 1 2 1 1 1-3 1 2 1 5 1-3 1 2 1-3 1 0 1 0 1 1 1 2 1-3 1 1 1 0 1 2 1 1 1 1 1-1 1 3 1 1 1-4 1-1 1-1 1 6"/>
<path class="d2" d="M0 -2l 1 0 1 1 1 1 1 1 1 0 1 1 1 0 1-1 1 0 1 0 1 2 1 1 1-1 1 1 1 0 1-1 1 2 1 1 1-1 1-1 1 3 1 1 1-1 1-2 1 2 1 0 1-1 1 1 1 1 1 0 1 0 1 1 1 2 1 0 1-1 1-1 1 1 1-1 1 1 1 1 1 2 1 4 1 1 1 1 1 1 1 2 1-2 1 2 1 0 1 1 1 3 1-1 1 2 1 0 1 1 1 2 1 0 1 0 1 1 1 2 1 3 1 1 1 1 1 2 1 0 1 3 1 2 1-2 1 1 1 2 1 2 1 2 1 1 1 2 1 1 1-1 1 2 1 0 1 1 1 3 1 2 1 1 1 2 1 2 1 2 1 0 1 0 1 0 1 1 1 1 1 1 1 0 1 3 1 1 1 1 1 2 1 0 1-1 1 1 1 1 1 2 1 0 1 1 1-1 1-1 1 2 1 0 1 2 1 0 1 1 1 1 1 1 1 0 1 1 1 1 1-1 1 2 1 2 1-1 1 1"/>
<path class="s1" d="M0 -21l 1-2 1-1 1-2 1-3 1-3 1-3 1 1 1-1 1 0 1-5 1 0 1 2 1-2 1-1 1 1 1-1 1 0 1-4 1 0 1-1 1 4 1-1 1 0 1 2 1 0 1-1 1 0 1-1 1-1 1-2 1-1 1 5 1 1 1 3 1-1 1 1 1 0 1 0 1 3 1-1 1 1 1-3 1 2 1 2 1 3 1 3 1-1 1-2 1-3 1 1 1 0 1-3 1 2 1 0 1-3 1-1 1-1 1-3 1 0 1-2 1 1 1 1 1 5 1 0 1-3 1 3 1-2 1-2 1-3 1 3 1 0 1 0 1 3 1 7 1-2 1 8 1 3 1 4 1 1 1-1 1 2 1 1 1 5 1 1 1 3 1-4 1 4 1 4 1-3 1-2 1 2 1 0 1 2 1 2 1 0 1 1 1 3 1-1 1 0 1 2 1 4 1 2 1 1 1 2 1-1 1 2 1 1 1 1 1 1 1-2 1 6 1 3 1 4 1 2 1-4 1 7 1 2 1 0 1 2 1 1"/>
<path class="s1" d="M0 -1l 1 0 1-1 1 0 1 1 1-1 1-1 1-2 1 1 1 0 1 0 1-5 1 5 1 1 1-3 1 2 1 3 1 2 1 0 1 1 1-1 1-1 1 3 1-2 1 2 1 1 1 1 1 0 1-3 1 5 1-2 1 0 1 1 1 1 1 2 1 1 1 3 1 3 1-3 1 2 1-1 1-3 1 2 1 6 1 0 1 3 1 0 1 1 1 3 1-1 1 1 1 1 1 2 1-2 1 1 1-1 1 2 1 5 1 2 1 2 1 7 1-3 1-2 1 2 1 4 1-1 1 4 1 1 1-3 1 0 1 0 1 4 1 1 1 2 1 0 1 3 1 2 1-2 1 5 1 0 1 3 1-1 1 0 1 1 1 0 1-1 1 5 1-6 1-1 1 0 1 0 1-2 1 0 1 3 1 1 1 1 1 3 1-1 1-2 1 2 1 0 1 1 1 0 1 0 1 3 1 1 1 0 1 6 1 2 1 0 1 0 1 0 1-2 1 6 1 3 1-4 1 1 1 3 1-1 1 1 1 1"/>
<path class="s2" d="M0 -6l 1-1 1-2 1 0 1-1 1-1 1-3 1 0 1 0 1-1 1-1 1 0 1 0 1-2 1-1 1 2 1 0 1-1 1 1 1-2 1-1 1 1 1-1 1 1 1 0 1 1 1-1 1-1 1 1 1 1 1 0 1 0 1 0 1 0 1 0 1 2 1-1 1 3 1-1 1 0 1 1 1-3 1 2 1 1 1 1 1 1 1 0 1 0 1 0 1 3 1 1 1 0 1-2 1 0 1 0 1 0 1 0 1 1 1 0 1 0 1 2 1 1 1 1 1 1 1 4 1 2 1 0 1 5 1 1 1 2 1-2 1 1 1 1 1 0 1 2 1 2 1 1 1 1 1 1 1-2 1 3 1 2 1 3 1 1 1 2 1 0 1 0 1 3 1 3 1 3 1 0 1 0 1 1 1 1 1-2 1 4 1 3 1-1 1 1 1 1 1 2 1 2 1 1 1 2 1 1 1 3 1 0 1 3 1 0 1 1 1 2 1 0 1 2 1-2 1 2 1 0 1-1 1 0 1 0 1 1 1-1"/>
</g></g>
<rect x="612.5" y="7.5" width="147.0" height="155.0" fill="none" stroke="#000" stroke-width="1.1"/>
<path d="M607.6 38.5H612.5 M607.6 100.5H612.5 M607.6 162.5H612.5 M637.5 162.5V167.4 M698.5 162.5V167.4 M759.5 162.5V167.4" stroke="#000" stroke-width="1.1" fill="none"/>
<rect x="667.8" y="14.6" width="84.8" height="45.7" rx="4" ry="4" fill="#fff" fill-opacity="0.8" stroke="#cccccc" stroke-width="1.2"/>
<text x="672.2" y="31.2" font-size="13.89" textLength="66.3" lengthAdjust="spacingAndGlyphs">ARAL SEA</text>
<text x="672.2" y="52.0" font-size="13.89" textLength="72.2" lengthAdjust="spacingAndGlyphs">(AS, 1.2%)</text>
<clipPath id="c1_0"><rect x="61.5" y="189.5" width="147.0" height="154.0"/></clipPath>
<g clip-path="url(#c1_0)">
<line x1="61.5" y1="281.9" x2="208.5" y2="281.9" stroke="#aaa" stroke-width="0.6" stroke-dasharray="1,1.7"/>
<g transform="matrix(1.2250 0 0 0.6160 61.50 281.90)">
<path d="M0 -3l 1 0 1-1 1-1 1-2 1-1 1 1 1 0 1 0 1-1 1 0 1-5 1-3 1-4 1-1 1-7 1-2 1-1 1-6 1-1 1-1 1-3 1 3 1-5 1-3 1-2 1-4 1 4 1-4 1-3 1 1 1-4 1 0 1 4 1 0 1 3 1-2 1 0 1-3 1-1 1 0 1 0 1-5 1 5 1-5 1 3 1-2 1-1 1-3 1-4 1 0 1 2 1-3 1 1 1-3 1 0 1-3 1 1 1-2 1-1 1-3 1-3 1 1 1 1 1 0 1 1 1-2 1 1 1-2 1 0 1 0 1 0 1-5 1-3 1 3 1-2 1-2 1-1 1-3 1 2 1-5 1 1 1-2 1-2 1 5 1-3 1-5 1-2 1-2 1-1 1 0 1-1 1-1 1-1 1 0 1 2 1 0 1-1 1-2 1 0 1-1 1 0 1 2 1 0 1-3 1-1 1 2 1 2 1 2 1-1 1 2 1-1 1 0 1-1 1-1 1 4 1-4 1 3 1 8 1-4 1-1 0 29-1-3-1 0-1-1-1-1-1 0-1 4-1-1-1 4-1 1-1-1-1-1-1 2-1 2-1-1-1 1-1 2-1-2-1 0-1-3-1 0-1-1-1 1-1 2-1 2-1 2-1-6-1 3-1 1-1 5-1-2-1-2-1 4-1 0-1 1-1 0-1 0-1 3-1 0-1 0-1 1-1-1-1 5-1 0-1 2-1 2-1 3-1 1-1 2-1 2-1 0-1 2-1-3-1 2-1 2-1-2-1 0-1 2-1 1-1-2-1 2-1 0-1 3-1-2-1 3-1 2-1-1-1 3-1 5-1 1-1-2-1 3-1 1-1 2-1-1-1 0-1-2-1 2-1-1-1-1-1 1-1 0-1 3-1 3-1-5-1 2-1 0-1 1-1 1-1 2-1 0-1 3-1-2-1 1-1 1-1 2-1 1-1-1-1-4-1 3-1 4-1-2-1 3-1-2-1 0-1 1-1 0-1 3-1 2-1 1-1 2-1 0-1 3-1-2-1 1-1-1-1-1-1 2-1 0-1-1-1 0z" fill="#9999cc"/>
<path d="M0 -2l 1-3 1 2 1-1 1 0 1 1 1-1 1 0 1-2 1 1 1-1 1-3 1-2 1-2 1-1 1 3 1 1 1-1 1-3 1-1 1 1 1 1 1-1 1-2 1-3 1 1 1 3 1 1 1-1 1 0 1-5 1 1 1 1 1-1 1 7 1-4 1-1 1 1 1-1 1 2 1 1 1 0 1 0 1 0 1 1 1-4 1 2 1 2 1-3 1 0 1 2 1-3 1-2 1 2 1-1 1-3 1 1 1-1 1-1 1 0 1-2 1 1 1-4 1 1 1 0 1-1 1-1 1-4 1 1 1-5 1 2 1 2 1-4 1 0 1-3 1-4 1 2 1-2 1-1 1-1 1-2 1-1 1-2 1 1 1-6 1 2 1-3 1-2 1-2 1-2 1 5 1-1 1 0 1-2 1-1 1 2 1 0 1 0 1-1 1 4 1-3 1-3 1-2 1 2 1 1 1 3 1-1 1-3 1-1 1 0 1-4 1 0 1-1 1-1 1 1 1 3 1 2 1-2 1-1 1 1 1-1 0 38-1-2-1 1-1-1-1 2-1 0-1 2-1-2-1 2-1 0-1 2-1 2-1 2-1-1-1-5-1 0-1-3-1 3-1-1-1 0-1 1-1 1-1-1-1 0-1-1-1 0-1 3-1 3-1 3-1 0-1-3-1 0-1-1-1-1-1 2-1 6-1-2-1 2-1-2-1-1-1 1-1 4-1 3-1 5-1 1-1 3-1 0-1-4-1 2-1 2-1-2-1 5-1-1-1-2-1 0-1-5-1-2-1-1-1 2-1-1-1 1-1-1-1-1-1 0-1 3-1 1-1 1-1 2-1 1-1 0-1-1-1-1-1 2-1-1-1 3-1 1-1 1-1-4-1-1-1 1-1 2-1 1-1-2-1 0-1 0-1-2-1 1-1 1-1 0-1 0-1-4-1-2-1-1-1 2-1 4-1 2-1 4-1-1-1 6-1 0-1 0-1-5-1 1-1 0-1 0-1-1-1-2-1-1-1 3-1-1-1 1-1-2-1 0-1 2-1 3-1 0-1-3-1 0-1 1-1-2-1 1z" fill="#ffd700" fill-opacity="0.4"/>
<path class="d1" d="M0 -2l 1-3 1 2 1-1 1 0 1 1 1-1 1 0 1-2 1 1 1-1 1-3 1-2 1-2 1-1 1 3 1 1 1-1 1-3 1-1 1 1 1 1 1-1 1-2 1-3 1 1 1 3 1 1 1-1 1 0 1-5 1 1 1 1 1-1 1 7 1-4 1-1 1 1 1-1 1 2 1 1 1 0 1 0 1 0 1 1 1-4 1 2 1 2 1-3 1 0 1 2 1-3 1-2 1 2 1-1 1-3 1 1 1-1 1-1 1 0 1-2 1 1 1-4 1 1 1 0 1-1 1-1 1-4 1 1 1-5 1 2 1 2 1-4 1 0 1-3 1-4 1 2 1-2 1-1 1-1 1-2 1-1 1-2 1 1 1-6 1 2 1-3 1-2 1-2 1-2 1 5 1-1 1 0 1-2 1-1 1 2 1 0 1 0 1-1 1 4 1-3 1-3 1-2 1 2 1 1 1 3 1-1 1-3 1-1 1 0 1-4 1 0 1-1 1-1 1 1 1 3 1 2 1-2 1-1 1 1 1-1"/>
<path class="d1" d="M0 5l 1-1 1 2 1-1 1 0 1 3 1 0 1-3 1-2 1 0 1 2 1-1 1 1 1-3 1 1 1 2 1 1 1 0 1 0 1-1 1 5 1 0 1 0 1-6 1 1 1-4 1-2 1-4 1-2 1 1 1 2 1 4 1 0 1 0 1-1 1-1 1 2 1 0 1 0 1 2 1-1 1-2 1-1 1 1 1 4 1-1 1-1 1-3 1 1 1-2 1 1 1 1 1 0 1-1 1-2 1-1 1-1 1-3 1 0 1 1 1 1 1-1 1 1 1-2 1 1 1 2 1 5 1 0 1 2 1 1 1-5 1 2 1-2 1-2 1 4 1 0 1-3 1-1 1-5 1-3 1-4 1-1 1 1 1 2 1-2 1 2 1-6 1-2 1 1 1 1 1 0 1 3 1 0 1-3 1-3 1-3 1 0 1 1 1 0 1 1 1-1 1-1 1 0 1 1 1-3 1 3 1 0 1 5 1 1 1-2 1-2 1-2 1 0 1-2 1 2 1-2 1 0 1-2 1 1 1-1 1 2"/>
<path class="d2" d="M0 -3l 1 0 1 1 1-2 1 0 1 2 1 1 1-2 1 0 1 2 1-2 1-1 1-2 1 1 1 1 1-1 1 0 1-1 1 0 1 0 1 2 1-3 1 1 1-1 1-2 1-1 1 1 1-1 1-1 1 0 1 2 1 0 1 1 1-3 1 0 1 1 1 2 1-3 1-1 1 0 1-1 1 1 1 0 1-2 1 0 1-3 1 2 1 0 1 1 1-1 1 0 1 1 1-3 1 0 1-3 1 2 1-1 1 1 1 0 1 0 1-2 1-1 1-1 1 0 1-1 1-1 1-3 1-1 1-1 1 0 1-1 1-2 1 1 1-1 1-2 1 2 1-2 1-1 1 1 1-2 1 0 1-1 1-1 1 0 1-1 1-1 1-2 1 1 1-1 1 0 1 0 1-1 1-1 1-2 1 0 1 1 1-2 1 2 1-1 1-1 1 2 1-2 1-1 1 0 1 1 1-1 1-1 1-2 1-1 1 1 1-1 1 0 1 1 1-2 1 0 1 2 1-1 1 1 1 1 1-1 1 1"/>
<path class="s1" d="M0 -3l 1 0 1-1 1-1 1-2 1-1 1 1 1 0 1 0 1-1 1 0 1-5 1-3 1-4 1-1 1-7 1-2 1-1 1-6 1-1 1-1 1-3 1 3 1-5 1-3 1-2 1-4 1 4 1-4 1-3 1 1 1-4 1 0 1 4 1 0 1 3 1-2 1 0 1-3 1-1 1 0 1 0 1-5 1 5 1-5 1 3 1-2 1-1 1-3 1-4 1 0 1 2 1-3 1 1 1-3 1 0 1-3 1 1 1-2 1-1 1-3 1-3 1 1 1 1 1 0 1 1 1-2 1 1 1-2 1 0 1 0 1 0 1-5 1-3 1 3 1-2 1-2 1-1 1-3 1 2 1-5 1 1 1-2 1-2 1 5 1-3 1-5 1-2 1-2 1-1 1 0 1-1 1-1 1-1 1 0 1 2 1 0 1-1 1-2 1 0 1-1 1 0 1 2 1 0 1-3 1-1 1 2 1 2 1 2 1-1 1 2 1-1 1 0 1-1 1-1 1 4 1-4 1 3 1 8 1-4 1-1"/>
<path class="s1" d="M0 -3l 1 0 1 1 1 0 1-2 1 1 1 1 1-1 1 2 1-3 1 0 1-2 1-1 1-2 1-3 1 0 1-1 1 0 1 2 1-3 1 2 1-4 1-3 1 4 1 1 1-1 1-2 1-1 1-1 1 2 1-3 1 0 1-2 1-1 1-1 1 0 1-2 1 5 1-3 1-3 1 0 1-1 1 1 1 1 1-2 1 2 1 0 1 1 1-2 1-1 1-3 1 2 1-1 1-5 1-3 1 1 1-2 1-3 1 2 1-3 1 0 1-2 1 2 1-1 1-2 1 0 1 2 1-2 1-2 1 3 1-2 1 0 1-2 1-2 1-1 1-3 1-2 1-2 1 0 1-5 1 1 1-1 1 0 1 0 1-3 1 0 1 0 1-1 1 0 1-4 1 2 1 2 1-5 1-1 1-3 1 6 1-2 1-2 1-2 1-1 1 1 1 0 1 3 1 0 1 2 1-2 1-1 1 1 1-2 1-2 1 1 1 1 1-1 1-4 1 1 1-4 1 0 1 1 1 1 1 0 1 3"/>
<path class="s2" d="M0 -3l 1-1 1 0 1-1 1-1 1 0 1-1 1-1 1 0 1-1 1 0 1-1 1-1 1-1 1 0 1-2 1-2 1-3 1-4 1-3 1-1 1-1 1 0 1-2 1-2 1-3 1 0 1-1 1-1 1 1 1-1 1-1 1-2 1 1 1 0 1 0 1-1 1-1 1 0 1-3 1 1 1-1 1-1 1 0 1 1 1-2 1-1 1-1 1-2 1-1 1-2 1-1 1-1 1 1 1-2 1-3 1 1 1-2 1-1 1-1 1-2 1 1 1-1 1-2 1 0 1-3 1-1 1 0 1 0 1 0 1-2 1-1 1 0 1-2 1-1 1-1 1-2 1-2 1 2 1-1 1-4 1 0 1 0 1-1 1-3 1 0 1-1 1-2 1 0 1 0 1-4 1 1 1-2 1 2 1 0 1 0 1-1 1-1 1 0 1 0 1-1 1 1 1-1 1-1 1 0 1 3 1-1 1 1 1 2 1 0 1-1 1 0 1 1 1-2 1 1 1 1 1 3 1 0 1 0 1-2 1 1"/>
</g></g>
<rect x="61.5" y="189.5" width="147.0" height="154.0" fill="none" stroke="#000" stroke-width="1.1"/>
<path d="M56.6 220.5H61.5 M56.6 281.5H61.5 M56.6 343.5H61.5 M86.5 343.5V348.4 M147.5 343.5V348.4 M208.5 343.5V348.4" stroke="#000" stroke-width="1.1" fill="none"/>
<text x="51.8" y="225.9" text-anchor="end" font-size="16.67" textLength="10.3" lengthAdjust="spacingAndGlyphs">1</text>
<text x="51.8" y="287.5" text-anchor="end" font-size="16.67" textLength="10.3" lengthAdjust="spacingAndGlyphs">0</text>
<text x="51.8" y="349.1" text-anchor="end" font-size="16.67" textLength="23.8" lengthAdjust="spacingAndGlyphs">−1</text>
<text transform="translate(17.2,267.0) rotate(-90)" text-anchor="middle" font-size="13.89" textLength="106.9" lengthAdjust="spacingAndGlyphs">Roll. mean SPEI</text>
<rect x="68.5" y="290.9" width="95.2" height="45.7" rx="4" ry="4" fill="#fff" fill-opacity="0.8" stroke="#cccccc" stroke-width="1.2"/>
<text x="73.0" y="307.5" font-size="13.89" textLength="55.0" lengthAdjust="spacingAndGlyphs">COPPER</text>
<text x="73.0" y="328.3" font-size="13.89" textLength="82.4" lengthAdjust="spacingAndGlyphs">(NA, 20.0%)</text>
<clipPath id="c1_1"><rect x="245.5" y="189.5" width="147.0" height="154.0"/></clipPath>
<g clip-path="url(#c1_1)">
<line x1="245.5" y1="281.9" x2="392.5" y2="281.9" stroke="#aaa" stroke-width="0.6" stroke-dasharray="1,1.7"/>
<g transform="matrix(1.2250 0 0 0.6160 245.50 281.90)">
<path d="M0 -3l 1-2 1 1 1-1 1-1 1-1 1 1 1 2 1-3 1-1 1 4 1-2 1-5 1 0 1 0 1-4 1 4 1-1 1-1 1-2 1-2 1-1 1 1 1 0 1-1 1-1 1-3 1-1 1 1 1-1 1-4 1 0 1-1 1 0 1 2 1 3 1-3 1 0 1-4 1 0 1 2 1 1 1 4 1-1 1-1 1 0 1 0 1-1 1-1 1 5 1-3 1 6 1-2 1-1 1 1 1-1 1-2 1 2 1-2 1-1 1 0 1 1 1 2 1-3 1-2 1-2 1 1 1 6 1 0 1 1 1 0 1 4 1-1 1-1 1-1 1 3 1-2 1 2 1 1 1 0 1 4 1-2 1-1 1 2 1-1 1 2 1 0 1 1 1 1 1 0 1-1 1 2 1-1 1-4 1 0 1-1 1-4 1 1 1-1 1 0 1 3 1-4 1 2 1 1 1 1 1-2 1 0 1 0 1-1 1 2 1-1 1-2 1 1 1-2 1 2 1 3 1 2 1 2 1 1 1 2 1 4 0 35-1 4-1-1-1 2-1 2-1 0-1 1-1-2-1 4-1 1-1-3-1 1-1-2-1 2-1 1-1 0-1 0-1-2-1 0-1 4-1 0-1 0-1-1-1-1-1-1-1 2-1-3-1-4-1-3-1-1-1 0-1 0-1 4-1 0-1 0-1-3-1-4-1 0-1-1-1-3-1 2-1-1-1 3-1-1-1 0-1-3-1 4-1 0-1 1-1-3-1-1-1-1-1 1-1 2-1 1-1 2-1 1-1-1-1 4-1-2-1 1-1-1-1-2-1 0-1-2-1-4-1-3-1 5-1-1-1 4-1-4-1 1-1-3-1 0-1-1-1 0-1 0-1 0-1 3-1-1-1-2-1-3-1-4-1 1-1 4-1 1-1 3-1 0-1 0-1-1-1-1-1-4-1 3-1 1-1-1-1-4-1 2-1-2-1-4-1-1-1-1-1 2-1 0-1-1-1 0-1-1-1 1-1-1-1-2-1 1-1 0-1 0-1 3-1-2-1-2-1 0-1-2-1 0-1-1-1-1-1-1z" fill="#9999cc"/>
<path d="M0 -3l 1 0 1-1 1 1 1 1 1 1 1 0 1 0 1-1 1-4 1 3 1 2 1 0 1-1 1 1 1-5 1 0 1-1 1 2 1 1 1-1 1 2 1-1 1 0 1 0 1-2 1 1 1-2 1 0 1 0 1-1 1 0 1 1 1-1 1 0 1 1 1-1 1 2 1 0 1-4 1 1 1-1 1 0 1-1 1 1 1-1 1-2 1 1 1 1 1 0 1 1 1 2 1-2 1-1 1-2 1-3 1 1 1 1 1-3 1 0 1 4 1 1 1 3 1 2 1 2 1-1 1-2 1 0 1 3 1 0 1 0 1 0 1 0 1-3 1-1 1 4 1-3 1-1 1 1 1 0 1 1 1 0 1 2 1-2 1 0 1 0 1 1 1 2 1-1 1 5 1-1 1 2 1-1 1 0 1 4 1 1 1 0 1 1 1 2 1-2 1 1 1-1 1 1 1 0 1-3 1 0 1 3 1-2 1-3 1 0 1-1 1 2 1 2 1-1 1-2 1-1 1 4 1 0 1 1 1-2 1 1 0 31-1-1-1 4-1-1-1 1-1 1-1 1-1 0-1 3-1-1-1 3-1-3-1 1-1 2-1 0-1 4-1 4-1 2-1 2-1 0-1-1-1-1-1 3-1 1-1-6-1-2-1 0-1-3-1-1-1 1-1 1-1-3-1-4-1-1-1-3-1-1-1-3-1 2-1 1-1-6-1 1-1 1-1-1-1 1-1 0-1 1-1 1-1 0-1 2-1 2-1-4-1 5-1-3-1 0-1-3-1 1-1-2-1 1-1-1-1 4-1 1-1-2-1 4-1-1-1 0-1-5-1 1-1 0-1 2-1 0-1-2-1 5-1-2-1-1-1 0-1-1-1 1-1-3-1 0-1-1-1-1-1 3-1-3-1-1-1 1-1-2-1 0-1-1-1 2-1-2-1 0-1 1-1-6-1-1-1-3-1-2-1-2-1 0-1 0-1 2-1-2-1 1-1-1-1-4-1 2-1-2-1-1-1 0-1-2-1 2-1-3-1-2-1 2-1 0-1 0-1 1-1 1-1-1-1 0-1-3-1 1z" fill="#ffd700" fill-opacity="0.4"/>
<path class="d1" d="M0 -3l 1 0 1-1 1 1 1 1 1 1 1 0 1 0 1-1 1-4 1 3 1 2 1 0 1-1 1 1 1-5 1 0 1-1 1 2 1 1 1-1 1 2 1-1 1 0 1 0 1-2 1 1 1-2 1 0 1 0 1-1 1 0 1 1 1-1 1 0 1 1 1-1 1 2 1 0 1-4 1 1 1-1 1 0 1-1 1 1 1-1 1-2 1 1 1 1 1 0 1 1 1 2 1-2 1-1 1-2 1-3 1 1 1 1 1-3 1 0 1 4 1 1 1 3 1 2 1 2 1-1 1-2 1 0 1 3 1 0 1 0 1 0 1 0 1-3 1-1 1 4 1-3 1-1 1 1 1 0 1 1 1 0 1 2 1-2 1 0 1 0 1 1 1 2 1-1 1 5 1-1 1 2 1-1 1 0 1 4 1 1 1 0 1 1 1 2 1-2 1 1 1-1 1 1 1 0 1-3 1 0 1 3 1-2 1-3 1 0 1-1 1 2 1 2 1-1 1-2 1-1 1 4 1 0 1 1 1-2 1 1"/>
<path class="d1" d="M0 8l 1-1 1 3 1 0 1 1 1-1 1-1 1 0 1 0 1-2 1 2 1 3 1-2 1 2 1 0 1 1 1 2 1-2 1 4 1 1 1-1 1 2 1-2 1 0 1 0 1 2 1 2 1 3 1 1 1 6 1-1 1 0 1 2 1-2 1 1 1 0 1 2 1-1 1 1 1 3 1-3 1 1 1 1 1 0 1 3 1-1 1 1 1 0 1 1 1 2 1-5 1 2 1 0 1-2 1 0 1-1 1 5 1 0 1 1 1-4 1 2 1-1 1-4 1 1 1-1 1 2 1-1 1 3 1 0 1 3 1-5 1 4 1-2 1-2 1 0 1-1 1-1 1 0 1-1 1 1 1-1 1-1 1 6 1-1 1-2 1 3 1 1 1 3 1 1 1 4 1 3 1-1 1-1 1 1 1 3 1 0 1 2 1 6 1-1 1-3 1 1 1 1 1 0 1-2 1-2 1-4 1-4 1 0 1-2 1-1 1 3 1-3 1 1 1-3 1 0 1-1 1-1 1-1 1 1 1-4 1 1"/>
<path class="d2" d="M0 4l 1 1 1 0 1-1 1 0 1 1 1 1 1 0 1-1 1 1 1 1 1-2 1 1 1 1 1-1 1 0 1 1 1 1 1-1 1 0 1-1 1 0 1 0 1 1 1-2 1 2 1 0 1 0 1-1 1-1 1 0 1 0 1 1 1 1 1 2 1 0 1 0 1 1 1 0 1-1 1 0 1 1 1 1 1-1 1 0 1 2 1-2 1 1 1-1 1 1 1 2 1-2 1 1 1 0 1 2 1 1 1-2 1 0 1 1 1-3 1 1 1 0 1 2 1 0 1-2 1-2 1 1 1 1 1-1 1 0 1 1 1 1 1 0 1-1 1-1 1 2 1 0 1-1 1 0 1 1 1 2 1 0 1 1 1-2 1 0 1 2 1 0 1 0 1 0 1 2 1-1 1 0 1-1 1 1 1 2 1 1 1 0 1 0 1 0 1 1 1 0 1 1 1 1 1 1 1 0 1 1 1 1 1-1 1-1 1-2 1-2 1-1 1-1 1 3 1-1 1 1 1-1 1 1 1 1 1 1 1-1"/>
<path class="s1" d="M0 -3l 1-2 1 1 1-1 1-1 1-1 1 1 1 2 1-3 1-1 1 4 1-2 1-5 1 0 1 0 1-4 1 4 1-1 1-1 1-2 1-2 1-1 1 1 1 0 1-1 1-1 1-3 1-1 1 1 1-1 1-4 1 0 1-1 1 0 1 2 1 3 1-3 1 0 1-4 1 0 1 2 1 1 1 4 1-1 1-1 1 0 1 0 1-1 1-1 1 5 1-3 1 6 1-2 1-1 1 1 1-1 1-2 1 2 1-2 1-1 1 0 1 1 1 2 1-3 1-2 1-2 1 1 1 6 1 0 1 1 1 0 1 4 1-1 1-1 1-1 1 3 1-2 1 2 1 1 1 0 1 4 1-2 1-1 1 2 1-1 1 2 1 0 1 1 1 1 1 0 1-1 1 2 1-1 1-4 1 0 1-1 1-4 1 1 1-1 1 0 1 3 1-4 1 2 1 1 1 1 1-2 1 0 1 0 1-1 1 2 1-1 1-2 1 1 1-2 1 2 1 3 1 2 1 2 1 1 1 2 1 4"/>
<path class="s1" d="M0 3l 1 1 1 1 1 1 1 0 1 2 1 0 1 2 1 2 1-3 1 0 1 0 1-1 1 2 1 1 1-1 1 1 1 0 1 1 1 0 1-2 1 1 1 1 1 4 1 2 1-2 1 4 1 1 1-1 1-3 1 4 1 1 1 1 1 0 1 0 1-3 1-1 1-4 1-1 1 4 1 3 1 2 1 1 1-3 1 0 1 0 1 0 1 1 1 0 1 3 1-1 1 4 1-4 1 1 1-5 1 3 1 4 1 2 1 0 1 2 1 1 1-1 1 2 1-4 1 1 1-1 1-2 1-1 1-2 1-1 1 1 1 1 1 3 1-1 1 0 1-4 1 3 1 0 1 1 1-3 1 1 1-2 1 3 1 1 1 0 1 4 1 3 1 0 1 0 1-4 1 0 1 0 1 1 1 3 1 4 1 3 1-2 1 1 1 1 1 1 1 0 1 0 1-4 1 0 1 2 1 0 1 0 1-1 1-2 1 2 1-1 1 3 1-1 1-4 1 2 1-1 1 0 1-2 1-2 1 1 1-4"/>
<path class="s2" d="M0 -1l 1 0 1 0 1 0 1 0 1 0 1 1 1 0 1-2 1 0 1-1 1 0 1 0 1 0 1 0 1 3 1-3 1 2 1-2 1 1 1-1 1 1 1-1 1 0 1 2 1 0 1-1 1-1 1-1 1 0 1-2 1 1 1-3 1 2 1 0 1 2 1-1 1 2 1 0 1 1 1-1 1 0 1 1 1-1 1 1 1-1 1 0 1-1 1 2 1 0 1-2 1 1 1-1 1 2 1 0 1 2 1-3 1 1 1-2 1 2 1 0 1 0 1 1 1 0 1 2 1 2 1 0 1 0 1-2 1-2 1 0 1 1 1 2 1 3 1 0 1 0 1 1 1 0 1 0 1-1 1 0 1 3 1-1 1 1 1 1 1-1 1 3 1-3 1 0 1-1 1-1 1 2 1 1 1 0 1 1 1 0 1-1 1 0 1 0 1 1 1 0 1 1 1 0 1 0 1 3 1-3 1 1 1 1 1 1 1-1 1 1 1-1 1-1 1 2 1 1 1 0 1 1 1 1 1-1 1-2 1-1"/>
</g></g>
<rect x="245.5" y="189.5" width="147.0" height="154.0" fill="none" stroke="#000" stroke-width="1.1"/>
<path d="M240.6 220.5H245.5 M240.6 281.5H245.5 M240.6 343.5H245.5 M270.5 343.5V348.4 M331.5 343.5V348.4 M392.5 343.5V348.4" stroke="#000" stroke-width="1.1" fill="none"/>
<rect x="300.8" y="196.6" width="84.8" height="45.7" rx="4" ry="4" fill="#fff" fill-opacity="0.8" stroke="#cccccc" stroke-width="1.2"/>
<text x="305.2" y="213.2" font-size="13.89" textLength="58.1" lengthAdjust="spacingAndGlyphs">GANGES</text>
<text x="305.2" y="234.0" font-size="13.89" textLength="72.2" lengthAdjust="spacingAndGlyphs">(AS, 1.1%)</text>
<clipPath id="c1_2"><rect x="428.5" y="189.5" width="148.0" height="154.0"/></clipPath>
<g clip-path="url(#c1_2)">
<line x1="428.5" y1="281.9" x2="576.5" y2="281.9" stroke="#aaa" stroke-width="0.6" stroke-dasharray="1,1.7"/>
<g transform="matrix(1.2333 0 0 0.6160 428.50 281.90)">
<path d="M0 -13l 1-1 1 0 1-1 1-2 1 0 1-1 1-2 1 1 1 0 1 2 1 0 1-3 1 1 1 2 1-3 1-1 1 1 1-5 1-3 1-2 1-2 1 1 1-3 1 1 1 1 1-2 1-1 1 1 1-1 1-1 1 1 1-1 1 2 1 2 1-1 1-1 1 4 1 0 1 2 1-1 1 0 1-3 1-3 1 1 1-1 1-1 1-4 1 2 1-4 1-1 1 2 1 2 1-1 1-1 1 1 1-2 1 2 1-2 1 0 1 5 1 2 1-2 1 1 1-1 1-2 1-2 1-6 1-1 1-3 1-3 1-3 1-5 1 0 1-1 1 2 1-4 1 0 1-7 1-1 1-3 1 4 1 1 1-2 1 1 1 2 1 0 1-2 1 1 1 1 1-3 1 0 1-4 1-6 1-3 1-8 1-9 1-3 1-7 1-3 1-5 1 0 1 0 1-2 1 1 1 4 1 2 1 0 1-1 1 0 1 2 1 3 1 3 1-1 1 1 1 1 1-1 1 2 1 1 1-2 1 4 0 52-1-1-1-2-1-2-1-1-1 4-1-5-1-1-1 0-1-3-1 1-1 1-1-1-1 1-1-1-1 2-1 1-1 2-1-2-1-1-1-2-1 1-1-4-1 5-1 1-1 3-1 3-1 1-1-1-1 1-1 3-1-3-1 4-1 0-1-1-1 3-1-1-1 2-1 1-1 1-1 1-1 2-1 0-1 3-1 1-1 0-1 4-1 2-1 0-1 4-1-2-1 1-1-2-1-2-1 3-1 1-1 0-1-1-1 3-1 1-1-2-1 3-1 0-1-3-1 2-1 5-1-2-1 2-1-2-1 4-1 0-1 0-1-1-1 0-1 2-1-2-1 3-1 0-1 1-1 0-1 1-1 1-1-4-1 2-1 2-1 0-1 0-1 1-1 1-1-3-1 1-1 0-1-2-1 3-1-3-1 4-1-1-1 0-1-1-1 5-1 4-1 0-1-1-1 0-1 3-1-1-1 0-1-1-1-2-1 1-1 1-1 3-1 3-1-3-1 1-1 1-1-1-1 0-1 1-1 0-1 1z" fill="#9999cc"/>
<path d="M0 -10l 1 0 1 0 1-1 1 0 1 1 1 1 1-2 1 0 1-1 1 0 1-3 1 0 1 0 1-1 1 1 1-2 1-1 1 1 1-3 1-1 1 0 1-2 1-4 1-2 1 1 1 2 1 2 1-2 1 3 1 1 1-2 1-1 1-2 1 3 1 0 1 2 1-3 1 1 1 2 1 1 1 1 1-1 1 2 1 1 1-4 1-1 1-3 1-2 1 1 1-4 1 4 1 0 1-1 1 1 1-4 1-1 1-2 1 1 1 1 1-1 1-1 1-1 1 1 1-1 1-4 1 3 1-3 1-3 1 0 1-8 1 1 1-1 1-1 1 1 1-4 1-3 1-2 1-2 1-1 1-1 1-3 1 0 1-3 1 2 1-3 1 0 1 0 1-3 1 1 1-3 1-2 1-5 1-4 1-4 1-5 1 2 1-8 1-3 1-3 1-1 1 3 1 1 1-1 1-4 1 4 1 4 1-2 1 2 1 2 1 1 1-3 1 2 1 0 1 3 1 1 1-3 1-1 1-2 1 3 1 2 0 46-1-2-1 3-1-4-1 1-1 2-1-2-1 0-1 1-1-2-1 7-1 2-1-4-1-2-1 5-1-2-1-2-1 0-1 2-1-7-1 6-1 2-1 1-1-1-1 0-1 0-1 4-1 3-1-1-1-4-1 1-1 5-1-3-1-1-1 0-1 2-1-4-1 1-1-3-1 2-1-1-1 2-1 2-1 1-1 4-1 2-1 3-1-1-1 1-1 3-1-2-1 2-1 1-1 3-1-2-1 2-1 2-1 2-1-3-1-2-1 2-1 0-1-2-1 0-1-1-1 1-1 2-1-1-1-2-1-1-1-1-1 1-1-5-1 1-1 4-1 2-1-1-1 4-1-2-1 1-1-1-1-1-1 3-1 1-1 4-1-2-1 3-1 4-1 3-1 2-1 0-1 1-1 1-1 0-1 2-1-1-1 3-1 0-1 1-1 0-1 5-1-5-1 1-1 1-1 3-1-2-1 1-1-6-1 2-1 0-1 2-1 1-1-1-1 1-1 0-1 1-1-1-1 0-1-1-1 3-1-1z" fill="#ffd700" fill-opacity="0.4"/>
<path class="d1" d="M0 -10l 1 0 1 0 1-1 1 0 1 1 1 1 1-2 1 0 1-1 1 0 1-3 1 0 1 0 1-1 1 1 1-2 1-1 1 1 1-3 1-1 1 0 1-2 1-4 1-2 1 1 1 2 1 2 1-2 1 3 1 1 1-2 1-1 1-2 1 3 1 0 1 2 1-3 1 1 1 2 1 1 1 1 1-1 1 2 1 1 1-4 1-1 1-3 1-2 1 1 1-4 1 4 1 0 1-1 1 1 1-4 1-1 1-2 1 1 1 1 1-1 1-1 1-1 1 1 1-1 1-4 1 3 1-3 1-3 1 0 1-8 1 1 1-1 1-1 1 1 1-4 1-3 1-2 1-2 1-1 1-1 1-3 1 0 1-3 1 2 1-3 1 0 1 0 1-3 1 1 1-3 1-2 1-5 1-4 1-4 1-5 1 2 1-8 1-3 1-3 1-1 1 3 1 1 1-1 1-4 1 4 1 4 1-2 1 2 1 2 1 1 1-3 1 2 1 0 1 3 1 1 1-3 1-1 1-2 1 3 1 2"/>
<path class="d1" d="M0 4l 1 1 1-3 1 1 1 0 1 1 1-1 1 0 1-1 1 1 1-1 1-2 1 0 1-2 1 6 1-1 1 2 1-3 1-1 1-1 1 5 1-5 1 0 1-1 1 0 1-3 1 1 1-2 1 0 1-1 1-1 1 0 1-2 1-3 1-4 1-3 1 2 1-4 1-1 1-3 1 1 1 1 1-1 1 2 1-4 1 1 1-2 1-4 1-1 1 5 1-1 1 1 1 1 1 2 1 1 1-2 1-1 1 1 1 0 1 2 1 0 1-2 1 2 1 3 1-2 1-2 1-2 1 2 1-3 1-1 1-2 1 2 1-3 1-1 1 1 1-3 1-2 1-4 1-1 1-2 1-2 1 1 1-2 1 3 1-1 1 4 1-2 1 0 1 1 1 3 1-5 1-1 1 4 1 1 1-3 1-4 1 0 1 0 1 1 1-1 1-2 1-6 1 7 1-2 1 0 1 2 1 2 1-5 1 2 1 4 1-2 1-7 1 2 1-1 1 0 1 2 1-2 1-1 1 4 1-3 1 2"/>
<path class="d2" d="M0 0l 1 0 1-1 1 0 1 0 1-1 1 0 1-2 1-1 1 0 1-1 1 0 1-2 1 0 1 2 1 0 1-2 1 1 1-1 1-2 1 1 1-3 1-1 1 0 1 0 1-3 1-1 1 2 1-1 1 0 1-1 1 0 1 2 1 1 1-2 1-2 1-1 1 0 1 1 1 0 1 1 1-1 1 0 1-2 1 0 1 0 1 0 1-1 1-2 1 0 1-3 1-2 1 1 1-2 1-2 1-2 1 1 1 0 1-1 1 0 1 0 1-2 1-1 1 0 1-2 1 0 1-2 1-1 1 0 1-3 1-1 1-2 1-1 1 0 1-4 1 0 1-1 1-2 1-3 1 0 1-2 1-1 1-2 1-1 1 0 1-1 1 0 1 1 1 1 1-1 1-1 1-2 1-1 1-1 1 0 1 0 1-2 1 1 1 1 1 0 1 1 1-1 1-3 1 0 1 0 1 0 1 0 1 0 1 0 1 1 1 2 1-2 1 0 1 0 1 0 1 1 1 0 1 1 1-1 1 0 1-1"/>
<path class="s1" d="M0 -13l 1-1 1 0 1-1 1-2 1 0 1-1 1-2 1 1 1 0 1 2 1 0 1-3 1 1 1 2 1-3 1-1 1 1 1-5 1-3 1-2 1-2 1 1 1-3 1 1 1 1 1-2 1-1 1 1 1-1 1-1 1 1 1-1 1 2 1 2 1-1 1-1 1 4 1 0 1 2 1-1 1 0 1-3 1-3 1 1 1-1 1-1 1-4 1 2 1-4 1-1 1 2 1 2 1-1 1-1 1 1 1-2 1 2 1-2 1 0 1 5 1 2 1-2 1 1 1-1 1-2 1-2 1-6 1-1 1-3 1-3 1-3 1-5 1 0 1-1 1 2 1-4 1 0 1-7 1-1 1-3 1 4 1 1 1-2 1 1 1 2 1 0 1-2 1 1 1 1 1-3 1 0 1-4 1-6 1-3 1-8 1-9 1-3 1-7 1-3 1-5 1 0 1 0 1-2 1 1 1 4 1 2 1 0 1-1 1 0 1 2 1 3 1 3 1-1 1 1 1 1 1-1 1 2 1 1 1-2 1 4"/>
<path class="s1" d="M0 3l 1-1 1 0 1-1 1 0 1 1 1-1 1-1 1 3 1-3 1-3 1-1 1-1 1 2 1 1 1 0 1 1 1-3 1 0 1 1 1 0 1-4 1-5 1 1 1 0 1 1 1-4 1 3 1-3 1 2 1 0 1-1 1 3 1-1 1-1 1 0 1 0 1-2 1-2 1 4 1-1 1-1 1 0 1-1 1 0 1-3 1 2 1-2 1 0 1 1 1 0 1 0 1-4 1 2 1-2 1 2 1-5 1-2 1 3 1 0 1-3 1 2 1-1 1-3 1 1 1 0 1-1 1-3 1 2 1 2 1-1 1 2 1-4 1 0 1-2 1-4 1 0 1-1 1-3 1 0 1-2 1-1 1-1 1-1 1-2 1 1 1-3 1 1 1 0 1-4 1 3 1-3 1-1 1 1 1-1 1-3 1-3 1-1 1-5 1 4 1-1 1 2 1 1 1 2 1-2 1-1 1-2 1 1 1-1 1 1 1-1 1-1 1 3 1 0 1 1 1 5 1-4 1 1 1 2 1 2 1 1"/>
<path class="s2" d="M0 -1l 1 0 1-1 1-1 1-1 1 0 1 0 1 0 1-2 1 1 1-1 1-1 1 2 1-1 1-1 1 1 1-1 1-2 1 0 1-1 1-1 1 0 1 0 1-2 1-1 1-2 1-2 1-2 1-1 1 1 1 0 1 1 1-2 1 1 1-2 1 0 1 1 1 0 1 0 1-1 1 1 1 0 1-5 1 2 1-1 1-2 1-1 1 1 1-2 1 0 1-2 1 1 1-1 1 1 1 2 1 0 1-3 1 0 1 2 1-1 1 1 1 0 1-1 1 0 1 0 1 0 1-3 1-2 1-4 1 1 1-2 1-2 1-1 1-3 1 2 1-2 1-2 1-1 1-3 1-4 1-2 1 0 1-2 1-2 1-3 1 0 1-3 1-1 1-2 1-1 1 0 1-3 1 0 1-2 1 1 1-1 1 1 1-2 1 0 1-1 1 1 1-2 1-2 1-2 1 1 1 1 1 0 1-1 1-1 1 0 1-2 1 2 1 0 1 0 1 0 1 1 1 2 1 2 1 1 1 0 1 0"/>
</g></g>
<rect x="428.5" y="189.5" width="148.0" height="154.0" fill="none" stroke="#000" stroke-width="1.1"/>
<path d="M423.6 220.5H428.5 M423.6 281.5H428.5 M423.6 343.5H428.5 M453.5 343.5V348.4 M514.5 343.5V348.4 M576.5 343.5V348.4" stroke="#000" stroke-width="1.1" fill="none"/>
<rect x="435.5" y="290.9" width="86.3" height="45.7" rx="4" ry="4" fill="#fff" fill-opacity="0.8" stroke="#cccccc" stroke-width="1.2"/>
<text x="440.0" y="307.5" font-size="13.89" textLength="47.6" lengthAdjust="spacingAndGlyphs">YUKON</text>
<text x="440.0" y="328.3" font-size="13.89" textLength="73.7" lengthAdjust="spacingAndGlyphs">(NA, 1.1%)</text>
<clipPath id="c1_3"><rect x="612.5" y="189.5" width="147.0" height="154.0"/></clipPath>
<g clip-path="url(#c1_3)">
<line x1="612.5" y1="281.9" x2="759.5" y2="281.9" stroke="#aaa" stroke-width="0.6" stroke-dasharray="1,1.7"/>
<g transform="matrix(1.2250 0 0 0.6160 612.50 281.90)">
<path d="M0 -8l 1-3 1-2 1-2 1-3 1-2 1-2 1 0 1-2 1-1 1-3 1-2 1 1 1-5 1-4 1-7 1-2 1-3 1-4 1-3 1 0 1-4 1 3 1-2 1-2 1-7 1-5 1 2 1-2 1-1 1-2 1-2 1 2 1-6 1-1 1 1 1-1 1-1 1 0 1-1 1 0 1-2 1-1 1-4 1 2 1 0 1-3 1 2 1-2 1 4 1-1 1 2 1-4 1 0 1 1 1-5 1-3 1 6 1-3 1 1 1-1 1-3 1-3 1-2 1 0 1 2 1-2 1-2 1 0 1-1 1 0 1-1 1-6 1 1 1-2 1-5 1 1 1-2 1 3 1 0 1-3 1-1 1-2 1 1 1-3 1-4 1 5 1-5 1-3 1-2 1-3 1 4 1-2 1-3 1-2 1 1 1 1 1 2 1-1 1-1 1-4 1-1 1-2 1 3 1 1 1-1 1 0 1-4 1 2 1-3 1 2 1 1 1 3 1 1 1-3 1 0 1-2 1 1 1-2 1 2 1 7 0 36-1 1-1 4-1 2-1-1-1 5-1-2-1 2-1 2-1 3-1 0-1-1-1 1-1-2-1-2-1 1-1-2-1-2-1 1-1 1-1-1-1-1-1 0-1 2-1 2-1-1-1 3-1 1-1 1-1 0-1 1-1 0-1 1-1 0-1 5-1-1-1 1-1-2-1 2-1 0-1-1-1 3-1 1-1-3-1 2-1-2-1-1-1 2-1 1-1-5-1 6-1 0-1 4-1 1-1-2-1-2-1 1-1 1-1 1-1 1-1 3-1 0-1 4-1-1-1 0-1 5-1-1-1 0-1 3-1-1-1-2-1 2-1 0-1-2-1-5-1 4-1 2-1 0-1 1-1 1-1 2-1 3-1-3-1 1-1-1-1-3-1 3-1-2-1 2-1 1-1 1-1 1-1-3-1 3-1 3-1 2-1 0-1 7-1 3-1 1-1 0-1 1-1-1-1 2-1 1-1 6-1 4-1 0-1 4-1-1-1 1-1 6-1 5-1 0-1 1-1 1-1 1-1 1-1 0-1 2-1 2z" fill="#9999cc"/>
<path d="M0 -4l 1 1 1-2 1 1 1-1 1-2 1-1 1-3 1-3 1 1 1 2 1 0 1-5 1-2 1 2 1 2 1-1 1-1 1-1 1 0 1-2 1-1 1 1 1 4 1 1 1 6 1 2 1-2 1 1 1 1 1 3 1-2 1-6 1 2 1-4 1-3 1 0 1 1 1-1 1 0 1 2 1 0 1 4 1-2 1 1 1-1 1 1 1 4 1-2 1-1 1-1 1-2 1-1 1 0 1 1 1 0 1 0 1 0 1-1 1-3 1 0 1-5 1 2 1-3 1-1 1-3 1-1 1-3 1 2 1-5 1 2 1-1 1 1 1 0 1-1 1 0 1-1 1 0 1-5 1-1 1-1 1-3 1 0 1-3 1-1 1-1 1-1 1 2 1 0 1-3 1 0 1-2 1 1 1-4 1-2 1 5 1-1 1-2 1 1 1 3 1-4 1 0 1 0 1 0 1 1 1-1 1 2 1 2 1-4 1-1 1-3 1 3 1 0 1 0 1 0 1-3 1 1 1-1 1-2 1 2 1 0 0 40-1 1-1 2-1 2-1 0-1 3-1-1-1 1-1 1-1 1-1 0-1-1-1-5-1 1-1-3-1 2-1-1-1 0-1 1-1 0-1 0-1-1-1-1-1 2-1 2-1 2-1 1-1-3-1 4-1-4-1 0-1 6-1 0-1 0-1 1-1 3-1-1-1 2-1 5-1 3-1-1-1-1-1 3-1 2-1-1-1 3-1 3-1 2-1 2-1 0-1 4-1-5-1-1-1 0-1-2-1 1-1 1-1-5-1-3-1-1-1 0-1-3-1 3-1-1-1-1-1 0-1 0-1-4-1-1-1 3-1 0-1 2-1 1-1 0-1-1-1 2-1 4-1-1-1 2-1-2-1-2-1 1-1 3-1-2-1 0-1 0-1-4-1 0-1-1-1-1-1 1-1 1-1-1-1 1-1-3-1 0-1 2-1 1-1 1-1 2-1 3-1 1-1 1-1-4-1 0-1-2-1 0-1-1-1 1-1 0-1 0-1 0-1 0-1-3-1 0-1 0-1 0-1 0-1-1-1-2-1 1z" fill="#ffd700" fill-opacity="0.4"/>
<path class="d1" d="M0 -4l 1 1 1-2 1 1 1-1 1-2 1-1 1-3 1-3 1 1 1 2 1 0 1-5 1-2 1 2 1 2 1-1 1-1 1-1 1 0 1-2 1-1 1 1 1 4 1 1 1 6 1 2 1-2 1 1 1 1 1 3 1-2 1-6 1 2 1-4 1-3 1 0 1 1 1-1 1 0 1 2 1 0 1 4 1-2 1 1 1-1 1 1 1 4 1-2 1-1 1-1 1-2 1-1 1 0 1 1 1 0 1 0 1 0 1-1 1-3 1 0 1-5 1 2 1-3 1-1 1-3 1-1 1-3 1 2 1-5 1 2 1-1 1 1 1 0 1-1 1 0 1-1 1 0 1-5 1-1 1-1 1-3 1 0 1-3 1-1 1-1 1-1 1 2 1 0 1-3 1 0 1-2 1 1 1-4 1-2 1 5 1-1 1-2 1 1 1 3 1-4 1 0 1 0 1 0 1 1 1-1 1 2 1 2 1-4 1-1 1-3 1 3 1 0 1 0 1 0 1-3 1 1 1-1 1-2 1 2 1 0"/>
<path class="d1" d="M0 2l 1-1 1 2 1 1 1 0 1 0 1 0 1 0 1 3 1 0 1 0 1 0 1 0 1-1 1 1 1 0 1 2 1 0 1 4 1-1 1-1 1-3 1-2 1-1 1-1 1-2 1 0 1 3 1-1 1 1 1-1 1-1 1 1 1 1 1 0 1 4 1 0 1 0 1 2 1-3 1-1 1 2 1 2 1-2 1 1 1-4 1-2 1 1 1 0 1-1 1-2 1 0 1-3 1 1 1 4 1 0 1 0 1 1 1 1 1-3 1 3 1 0 1 1 1 3 1 5 1-1 1-1 1 2 1 0 1 1 1 5 1-4 1 0 1-2 1-2 1-3 1-3 1 1 1-2 1-3 1 1 1 1 1-3 1-5 1-2 1 1 1-3 1-1 1 0 1 0 1-6 1 0 1 4 1-4 1 3 1-1 1-2 1-2 1-2 1 1 1 1 1 0 1 0 1-1 1 0 1 1 1-2 1 3 1-1 1 5 1 1 1 0 1-1 1-1 1-1 1 1 1-3 1 0 1-2 1-2 1-1"/>
<path class="d2" d="M0 -3l 1 0 1-1 1 1 1-1 1-1 1 2 1 0 1-1 1 2 1 0 1 0 1 2 1 1 1-1 1 0 1-2 1 2 1 0 1-1 1 0 1 0 1 1 1 0 1 0 1-2 1-1 1 2 1 0 1 1 1 3 1-1 1-1 1 0 1 0 1-1 1-1 1 0 1 2 1-1 1 0 1 0 1-1 1 0 1-3 1 1 1-2 1-1 1 1 1 0 1 1 1-1 1 0 1 0 1 0 1 0 1 0 1-1 1 1 1-1 1-2 1 0 1 1 1-1 1-3 1 0 1-1 1 1 1-1 1-1 1 2 1-3 1 0 1 0 1 0 1-1 1 0 1 0 1-2 1 0 1-1 1 0 1 0 1 0 1-1 1-2 1-1 1-1 1-1 1 2 1-4 1 0 1-1 1 1 1-2 1-1 1 0 1-2 1 0 1-1 1 0 1 0 1-1 1 1 1 0 1 3 1-3 1 0 1-1 1-2 1 1 1 2 1-1 1 0 1-1 1 0 1 1 1-1 1-1 1-1 1 3"/>
<path class="s1" d="M0 -8l 1-3 1-2 1-2 1-3 1-2 1-2 1 0 1-2 1-1 1-3 1-2 1 1 1-5 1-4 1-7 1-2 1-3 1-4 1-3 1 0 1-4 1 3 1-2 1-2 1-7 1-5 1 2 1-2 1-1 1-2 1-2 1 2 1-6 1-1 1 1 1-1 1-1 1 0 1-1 1 0 1-2 1-1 1-4 1 2 1 0 1-3 1 2 1-2 1 4 1-1 1 2 1-4 1 0 1 1 1-5 1-3 1 6 1-3 1 1 1-1 1-3 1-3 1-2 1 0 1 2 1-2 1-2 1 0 1-1 1 0 1-1 1-6 1 1 1-2 1-5 1 1 1-2 1 3 1 0 1-3 1-1 1-2 1 1 1-3 1-4 1 5 1-5 1-3 1-2 1-3 1 4 1-2 1-3 1-2 1 1 1 1 1 2 1-1 1-1 1-4 1-1 1-2 1 3 1 1 1-1 1 0 1-4 1 2 1-3 1 2 1 1 1 3 1 1 1-3 1 0 1-2 1 1 1-2 1 2 1 7"/>
<path class="s1" d="M0 -1l 1-2 1-2 1 0 1-1 1-1 1-1 1-1 1 0 1-5 1-6 1-1 1 1 1-4 1 0 1-4 1-6 1-1 1-2 1 1 1-1 1 0 1-1 1-3 1-7 1 0 1-2 1-3 1-3 1 3 1-1 1-1 1-1 1-2 1 2 1-3 1 3 1 1 1-1 1 3 1-3 1-2 1-1 1-1 1 0 1-2 1-4 1 5 1 2 1 0 1-2 1 2 1 1 1-3 1 0 1 1 1-5 1 0 1 1 1-4 1 0 1-3 1-1 1-1 1-1 1-1 1 2 1 2 1-1 1-4 1 0 1-6 1 5 1-1 1-2 1 1 1 2 1-2 1 3 1-1 1-3 1 1 1 0 1-2 1 2 1-1 1 1 1-5 1 0 1-1 1 0 1-1 1 0 1-1 1-1 1-3 1 1 1-2 1-2 1 0 1 1 1 1 1-1 1-1 1 2 1 2 1-1 1 2 1 2 1-1 1 1 1 0 1-3 1-2 1-2 1 2 1-5 1 1 1-2 1-4 1-1"/>
<path class="s2" d="M0 -3l 1-2 1-2 1-2 1-1 1-2 1-2 1-2 1-2 1-4 1-3 1-2 1-1 1-3 1-4 1-1 1-2 1-3 1-1 1-2 1-2 1-4 1-1 1-2 1-3 1-3 1-2 1-2 1-1 1 1 1-2 1-2 1-2 1 0 1-1 1 0 1 0 1-1 1 1 1 0 1 0 1-2 1-3 1 0 1-1 1-1 1-2 1-1 1-1 1 0 1 0 1 1 1-1 1 0 1-2 1 1 1-2 1 0 1 0 1 0 1 1 1 0 1-2 1 0 1-1 1-1 1-3 1 2 1-1 1-1 1 0 1-1 1-1 1-2 1-2 1-1 1 0 1-1 1-3 1-1 1 1 1-1 1-1 1 0 1 0 1-1 1-1 1 0 1-4 1-1 1-2 1-2 1 1 1-2 1-2 1-1 1 0 1-1 1-1 1 0 1 0 1 0 1 1 1 1 1 0 1 0 1 0 1-2 1-2 1 0 1 2 1 0 1 3 1 1 1 0 1-1 1 0 1-2 1 1 1 1 1 0"/>
</g></g>
<rect x="612.5" y="189.5" width="147.0" height="154.0" fill="none" stroke="#000" stroke-width="1.1"/>
<path d="M607.6 220.5H612.5 M607.6 281.5H612.5 M607.6 343.5H612.5 M637.5 343.5V348.4 M698.5 343.5V348.4 M759.5 343.5V348.4" stroke="#000" stroke-width="1.1" fill="none"/>
<rect x="657.4" y="290.9" width="95.2" height="45.7" rx="4" ry="4" fill="#fff" fill-opacity="0.8" stroke="#cccccc" stroke-width="1.2"/>
<text x="661.9" y="307.5" font-size="13.89" textLength="43.3" lengthAdjust="spacingAndGlyphs">ALSEK</text>
<text x="661.9" y="328.3" font-size="13.89" textLength="82.4" lengthAdjust="spacingAndGlyphs">(NA, 19.8%)</text>
<clipPath id="c2_0"><rect x="61.5" y="371.5" width="147.0" height="154.0"/></clipPath>
<g clip-path="url(#c2_0)">
<line x1="61.5" y1="463.9" x2="208.5" y2="463.9" stroke="#aaa" stroke-width="0.6" stroke-dasharray="1,1.7"/>
<g transform="matrix(1.2250 0 0 0.6160 61.50 463.90)">
<path d="M0 -13l 1-3 1 1 1-2 1-3 1-2 1 0 1-1 1 1 1 1 1 4 1-7 1-3 1-1 1-4 1-6 1-1 1 3 1-6 1-3 1 0 1-3 1-2 1 0 1-6 1-4 1 0 1 1 1 0 1-1 1-6 1 1 1 1 1-3 1 0 1-2 1 1 1-2 1 2 1-2 1-1 1 0 1-3 1 2 1-4 1 4 1-1 1-2 1 0 1 0 1 1 1-5 1-2 1 2 1-5 1 0 1-1 1-2 1 2 1-2 1 2 1-3 1 0 1-2 1 1 1 5 1 2 1 0 1-3 1-3 1 3 1 0 1 3 1-1 1-1 1-2 1-3 1-2 1 0 1 1 1-1 1-3 1 0 1-1 1-1 1-4 1-1 1 3 1-4 1-1 1 2 1-3 1 2 1-1 1-4 1 0 1 0 1-3 1-4 1 1 1 3 1 2 1-2 1 2 1-3 1-3 1-1 1-2 1 3 1-3 1 5 1-3 1 2 1 1 1 3 1-4 1 5 1-1 1-5 1 2 1 5 0 19-1-3-1 2-1-1-1-2-1 3-1-2-1-2-1-2-1-1-1 2-1-4-1 3-1 3-1 0-1 2-1 4-1-2-1 1-1 2-1 0-1 1-1 1-1 0-1 1-1 2-1-3-1 0-1 1-1 2-1 0-1 1-1 1-1 1-1 0-1-1-1-2-1 2-1-2-1 3-1 4-1 2-1 3-1 0-1 4-1 1-1 2-1 1-1 4-1 1-1 2-1 0-1-2-1 0-1-3-1 0-1 1-1 2-1-2-1-1-1 1-1 0-1-2-1 1-1 3-1 0-1 1-1-2-1 2-1 3-1-1-1 2-1 0-1-1-1-1-1 3-1-1-1 0-1 3-1-1-1 1-1 2-1 0-1 4-1-2-1-3-1-1-1 1-1-2-1-1-1 2-1-2-1 1-1 5-1-1-1 4-1 3-1 1-1 3-1 1-1 0-1 2-1 4-1 1-1 4-1 2-1 2-1 0-1 3-1 5-1-1-1 1-1-2-1 0-1 1-1 1-1 1-1 1-1 0-1 1-1 1z" fill="#9999cc"/>
<path d="M0 -3l 1-3 1 1 1-2 1 0 1-1 1-3 1-2 1-1 1 0 1 1 1 0 1 0 1-1 1-5 1-3 1 2 1 0 1-2 1-1 1 0 1-3 1 2 1 1 1 1 1 1 1 0 1 3 1-3 1-1 1-1 1 0 1-1 1 6 1-3 1-1 1 0 1-3 1-1 1 0 1-2 1 2 1 2 1 2 1 2 1-4 1 3 1-4 1 5 1-4 1-1 1 0 1-3 1 1 1-3 1-2 1-1 1 0 1-4 1 1 1-3 1 3 1-2 1 1 1-1 1-1 1 1 1 0 1 0 1-1 1-1 1 2 1-4 1-6 1-2 1-2 1 1 1 1 1-2 1-2 1-2 1-3 1 1 1 0 1-1 1 0 1 0 1-2 1-3 1 0 1 2 1-3 1 0 1-3 1 1 1 2 1 0 1-1 1 0 1 3 1 2 1-4 1 0 1 2 1-1 1 0 1 0 1 0 1 1 1-1 1 0 1-3 1 1 1 1 1 1 1 0 1 1 1-1 1-5 1 2 1 3 0 27-1 0-1 0-1 2-1-2-1-1-1 0-1 0-1-4-1-3-1-1-1 2-1 3-1-6-1-1-1 0-1 4-1-1-1-1-1 2-1-2-1 0-1 2-1 0-1 2-1 0-1 3-1 0-1 2-1 2-1 2-1 4-1-3-1 4-1-2-1 1-1 2-1-1-1 2-1-2-1 3-1 2-1 1-1-2-1 3-1 0-1 1-1 4-1 2-1-1-1 0-1 0-1 3-1-1-1 1-1-3-1 2-1 1-1 1-1-1-1 3-1-4-1 0-1-1-1-4-1 2-1 1-1 3-1-4-1 0-1 2-1 0-1 0-1 0-1 2-1-1-1-2-1 3-1 1-1-2-1-1-1 1-1-1-1 2-1 1-1 1-1 0-1 7-1 2-1 1-1 2-1 2-1-3-1 1-1 0-1-2-1-1-1 3-1-1-1 2-1 2-1-2-1 3-1-3-1 0-1-1-1-1-1 0-1-3-1-2-1 3-1 0-1-1-1 3-1 0-1 0-1 2-1 0-1 0-1-1-1 1z" fill="#ffd700" fill-opacity="0.4"/>
<path class="d1" d="M0 -3l 1-3 1 1 1-2 1 0 1-1 1-3 1-2 1-1 1 0 1 1 1 0 1 0 1-1 1-5 1-3 1 2 1 0 1-2 1-1 1 0 1-3 1 2 1 1 1 1 1 1 1 0 1 3 1-3 1-1 1-1 1 0 1-1 1 6 1-3 1-1 1 0 1-3 1-1 1 0 1-2 1 2 1 2 1 2 1 2 1-4 1 3 1-4 1 5 1-4 1-1 1 0 1-3 1 1 1-3 1-2 1-1 1 0 1-4 1 1 1-3 1 3 1-2 1 1 1-1 1-1 1 1 1 0 1 0 1-1 1-1 1 2 1-4 1-6 1-2 1-2 1 1 1 1 1-2 1-2 1-2 1-3 1 1 1 0 1-1 1 0 1 0 1-2 1-3 1 0 1 2 1-3 1 0 1-3 1 1 1 2 1 0 1-1 1 0 1 3 1 2 1-4 1 0 1 2 1-1 1 0 1 0 1 0 1 1 1-1 1 0 1-3 1 1 1 1 1 1 1 0 1 1 1-1 1-5 1 2 1 3"/>
<path class="d1" d="M0 3l 1-1 1 1 1 0 1 0 1-2 1 0 1 0 1-3 1 1 1 0 1-3 1 2 1 3 1 0 1 1 1 1 1 0 1 3 1-3 1 2 1-2 1-2 1 1 1-3 1 1 1 2 1 0 1-1 1 3 1-2 1-2 1-1 1-2 1-7 1 0 1-1 1-1 1-2 1 1 1-1 1 1 1 2 1-1 1-3 1 2 1 1 1-2 1 0 1 0 1 0 1-2 1 0 1 4 1-3 1-1 1-2 1 4 1 1 1 0 1 4 1-3 1 1 1-1 1-1 1-2 1 3 1-1 1 1 1-3 1 0 1 0 1 1 1-2 1-4 1-1 1 0 1-3 1 2 1-1 1-2 1-3 1 2 1-2 1 1 1-2 1-1 1 2 1-4 1 3 1-4 1-2 1-2 1-2 1 0 1-3 1 0 1-2 1 0 1-2 1 0 1 2 1-2 1 1 1 1 1-4 1 0 1 1 1 6 1-3 1-2 1 1 1 3 1 4 1 0 1 0 1 1 1 2 1-2 1 0 1 0"/>
<path class="d2" d="M0 -1l 1-1 1 0 1 0 1 0 1-1 1 0 1-1 1-1 1 3 1-3 1 0 1 0 1-1 1-3 1 1 1-1 1-2 1 2 1 0 1-1 1-4 1 0 1 1 1 0 1-1 1 0 1 0 1 1 1-2 1 0 1 2 1-3 1 0 1 0 1 0 1 0 1 0 1 1 1-1 1-2 1 0 1 0 1 0 1 1 1-2 1-1 1-2 1-1 1 1 1 1 1-1 1 1 1-3 1 0 1-2 1-2 1-1 1 1 1-2 1-2 1 1 1 0 1-1 1 1 1-1 1 0 1 0 1 0 1-1 1 0 1-1 1-1 1 0 1-2 1-2 1 0 1 0 1-1 1 0 1-1 1-2 1-2 1 0 1 0 1 0 1-1 1 0 1 0 1-3 1 1 1 1 1-2 1-1 1-1 1-1 1-1 1-1 1 1 1 1 1 0 1 0 1 1 1-2 1 0 1-2 1-1 1 1 1 2 1-1 1 1 1-1 1 0 1 0 1 0 1 0 1-1 1 2 1-3 1 4 1-1"/>
<path class="s1" d="M0 -13l 1-3 1 1 1-2 1-3 1-2 1 0 1-1 1 1 1 1 1 4 1-7 1-3 1-1 1-4 1-6 1-1 1 3 1-6 1-3 1 0 1-3 1-2 1 0 1-6 1-4 1 0 1 1 1 0 1-1 1-6 1 1 1 1 1-3 1 0 1-2 1 1 1-2 1 2 1-2 1-1 1 0 1-3 1 2 1-4 1 4 1-1 1-2 1 0 1 0 1 1 1-5 1-2 1 2 1-5 1 0 1-1 1-2 1 2 1-2 1 2 1-3 1 0 1-2 1 1 1 5 1 2 1 0 1-3 1-3 1 3 1 0 1 3 1-1 1-1 1-2 1-3 1-2 1 0 1 1 1-1 1-3 1 0 1-1 1-1 1-4 1-1 1 3 1-4 1-1 1 2 1-3 1 2 1-1 1-4 1 0 1 0 1-3 1-4 1 1 1 3 1 2 1-2 1 2 1-3 1-3 1-1 1-2 1 3 1-3 1 5 1-3 1 2 1 1 1 3 1-4 1 5 1-1 1-5 1 2 1 5"/>
<path class="s1" d="M0 -5l 1-1 1-1 1 0 1-1 1-1 1-1 1-1 1 0 1 2 1-1 1 1 1-5 1-3 1 0 1-2 1-2 1-4 1-1 1-4 1-2 1 0 1-1 1-3 1-1 1-3 1-4 1 1 1-5 1-1 1 2 1-2 1 1 1 2 1-1 1 1 1 3 1 2 1-4 1 0 1-2 1-1 1 1 1-3 1 0 1 1 1-3 1 1 1 1 1 0 1-2 1 1 1-3 1-2 1 2 1-1 1 0 1-3 1-1 1 2 1 0 1-1 1 1 1 2 1-2 1-1 1 0 1 3 1 0 1 2 1 0 1-2 1-1 1-4 1-1 1-2 1-1 1-4 1 0 1-3 1-2 1-4 1-3 1 2 1-2 1 2 1 1 1 0 1-1 1-1 1-1 1 0 1-2 1-1 1 0 1 3 1-2 1-1 1 0 1-1 1-1 1 0 1-2 1-1 1 2 1-4 1-2 1 0 1-3 1-3 1 4 1-2 1 1 1 2 1 2 1 2 1-3 1 2 1 1 1-2 1 3"/>
<path class="s2" d="M0 -8l 1-1 1-1 1-1 1-3 1 1 1 0 1 1 1-5 1 0 1-1 1 0 1-2 1-3 1-4 1 0 1-3 1 1 1-1 1-3 1 0 1-2 1-3 1-3 1-1 1-4 1-1 1-3 1-2 1-1 1 1 1 0 1-2 1-1 1 1 1 0 1 2 1-3 1-2 1-3 1-1 1-1 1 0 1 2 1-2 1 0 1-1 1 1 1 1 1-3 1-2 1-1 1 2 1-3 1-1 1-4 1 1 1 0 1 2 1-2 1-1 1-1 1 0 1 0 1 0 1-2 1 1 1-2 1-2 1 2 1-1 1 0 1-2 1-1 1 1 1-1 1-2 1-3 1 0 1 0 1-1 1 0 1 0 1-1 1 1 1-4 1 0 1 0 1-3 1 0 1-1 1 1 1 0 1-1 1 0 1 1 1-2 1-2 1 0 1-1 1-1 1 0 1 0 1 0 1 0 1 1 1-2 1-1 1 0 1 1 1-1 1 0 1 2 1-2 1 1 1 0 1 1 1 1 1 0 1 1 1-1"/>
</g></g>
<rect x="61.5" y="371.5" width="147.0" height="154.0" fill="none" stroke="#000" stroke-width="1.1"/>
<path d="M56.6 402.5H61.5 M56.6 463.5H61.5 M56.6 525.5H61.5 M86.5 525.5V530.4 M147.5 525.5V530.4 M208.5 525.5V530.4" stroke="#000" stroke-width="1.1" fill="none"/>
<text x="51.8" y="407.9" text-anchor="end" font-size="16.67" textLength="10.3" lengthAdjust="spacingAndGlyphs">1</text>
<text x="51.8" y="469.5" text-anchor="end" font-size="16.67" textLength="10.3" lengthAdjust="spacingAndGlyphs">0</text>
<text x="51.8" y="531.1" text-anchor="end" font-size="16.67" textLength="23.8" lengthAdjust="spacingAndGlyphs">−1</text>
<text transform="translate(17.2,449.0) rotate(-90)" text-anchor="middle" font-size="13.89" textLength="106.9" lengthAdjust="spacingAndGlyphs">Roll. mean SPEI</text>
<rect x="68.5" y="472.9" width="86.3" height="45.7" rx="4" ry="4" fill="#fff" fill-opacity="0.8" stroke="#cccccc" stroke-width="1.2"/>
<text x="73.0" y="489.5" font-size="13.89" textLength="59.4" lengthAdjust="spacingAndGlyphs">SUSITNA</text>
<text x="73.0" y="510.3" font-size="13.89" textLength="73.7" lengthAdjust="spacingAndGlyphs">(NA, 8.7%)</text>
<clipPath id="c2_1"><rect x="245.5" y="371.5" width="147.0" height="154.0"/></clipPath>
<g clip-path="url(#c2_1)">
<line x1="245.5" y1="463.9" x2="392.5" y2="463.9" stroke="#aaa" stroke-width="0.6" stroke-dasharray="1,1.7"/>
<g transform="matrix(1.2250 0 0 0.6160 245.50 463.90)">
<path d="M0 -16l 1 0 1 0 1-1 1 2 1-2 1 0 1 4 1-3 1 2 1-4 1 2 1-1 1-1 1 1 1-2 1 1 1-4 1-2 1-1 1-3 1 0 1 2 1 3 1 0 1-1 1 0 1-3 1-1 1-3 1 2 1 1 1 0 1 3 1-2 1-2 1 1 1 0 1-1 1-2 1-1 1 0 1-1 1 2 1 1 1-5 1-2 1-5 1-2 1-1 1 3 1-2 1 2 1 2 1 1 1 3 1 2 1-2 1 2 1 0 1 0 1 3 1-1 1-2 1 2 1 0 1-1 1-1 1 0 1 1 1-1 1-3 1 0 1-1 1-3 1 0 1 0 1 0 1 3 1-1 1 1 1-1 1-1 1-3 1 3 1 1 1 3 1-2 1 1 1-2 1 4 1 0 1-1 1 2 1 4 1-2 1 0 1 3 1 1 1 0 1 0 1-1 1 0 1 0 1 0 1-2 1 0 1 2 1-2 1 3 1 2 1 0 1 2 1 0 1 2 1 3 1 2 1-1 1 3 1 0 1 0 0 66-1-1-1 3-1 0-1 1-1-2-1 1-1 1-1-1-1 2-1-1-1 2-1-2-1 2-1-1-1-1-1 2-1-2-1 3-1-1-1 3-1-3-1-5-1 2-1-2-1-1-1-1-1 2-1-6-1-1-1 1-1 1-1 1-1 0-1-2-1 1-1 2-1 2-1 0-1 3-1 1-1-1-1 0-1-2-1-4-1-3-1 1-1 1-1-1-1-1-1 2-1 1-1-2-1 0-1 0-1-5-1 1-1-3-1-4-1 3-1-1-1 1-1 1-1-1-1-3-1-6-1-3-1-1-1 1-1-6-1-4-1 0-1 0-1 4-1 1-1-2-1 1-1-2-1-2-1 0-1 1-1 0-1 1-1 0-1 1-1-4-1-2-1 1-1-1-1-1-1 1-1 0-1-1-1-1-1 0-1 1-1 0-1 0-1 0-1 2-1-1-1 0-1 1-1-3-1 3-1 1-1 0-1-3-1-1-1 0-1 0-1 3-1-2-1 0-1-3-1 1-1-1-1-2-1-1-1 0-1-2z" fill="#9999cc"/>
<path d="M0 -14l 1 1 1 0 1 1 1-3 1 0 1-2 1 0 1 0 1-1 1 3 1-3 1 2 1-2 1 0 1 2 1 0 1-1 1-6 1-2 1 2 1 6 1 3 1-2 1-2 1-1 1-1 1 7 1 1 1-2 1-3 1-2 1-5 1-2 1 4 1-3 1-1 1 5 1-5 1 0 1-3 1 2 1-3 1 5 1 1 1-1 1 0 1-1 1-1 1-3 1 0 1 1 1 2 1 0 1 0 1 3 1 3 1 0 1 4 1 0 1 0 1 3 1-2 1-3 1 2 1 0 1 0 1 2 1-1 1-4 1 3 1-2 1-1 1 1 1 0 1-3 1 2 1 0 1-1 1 0 1 1 1 3 1-2 1-1 1 2 1 0 1 2 1 2 1-2 1-1 1-1 1 1 1 2 1 3 1 2 1 0 1-1 1-1 1 6 1 2 1 0 1-1 1-4 1-1 1 3 1 1 1-3 1 0 1 2 1 2 1-3 1 0 1 0 1 0 1-1 1 2 1 1 1 1 1 1 1 3 1 1 0 69-1 0-1 1-1 1-1-3-1 5-1 1-1-2-1 4-1-2-1 0-1 0-1-4-1-1-1-1-1-1-1-2-1 1-1-1-1-2-1-3-1 2-1 2-1 0-1-1-1-1-1 5-1 1-1-1-1-1-1 2-1 0-1-1-1 3-1-1-1 3-1-1-1-2-1-1-1 0-1 1-1-1-1-3-1-1-1 1-1-3-1-1-1 0-1-2-1 4-1-4-1-4-1-2-1-1-1 1-1-7-1 0-1-4-1-2-1-8-1 1-1-5-1 5-1 2-1-3-1-3-1-1-1-1-1 1-1 0-1 1-1-2-1-2-1-5-1 2-1-1-1 2-1-3-1-1-1-2-1-2-1 0-1 6-1 1-1 0-1 4-1 1-1 1-1-1-1-2-1-2-1 5-1-2-1-2-1-1-1 0-1-3-1 0-1 0-1 0-1-1-1-1-1-1-1 0-1-2-1 0-1 1-1 1-1-1-1 0-1-1-1-3-1-2-1 1-1 0-1 1-1-1-1-2-1 0-1-1-1-1z" fill="#ffd700" fill-opacity="0.4"/>
<path class="d1" d="M0 -14l 1 1 1 0 1 1 1-3 1 0 1-2 1 0 1 0 1-1 1 3 1-3 1 2 1-2 1 0 1 2 1 0 1-1 1-6 1-2 1 2 1 6 1 3 1-2 1-2 1-1 1-1 1 7 1 1 1-2 1-3 1-2 1-5 1-2 1 4 1-3 1-1 1 5 1-5 1 0 1-3 1 2 1-3 1 5 1 1 1-1 1 0 1-1 1-1 1-3 1 0 1 1 1 2 1 0 1 0 1 3 1 3 1 0 1 4 1 0 1 0 1 3 1-2 1-3 1 2 1 0 1 0 1 2 1-1 1-4 1 3 1-2 1-1 1 1 1 0 1-3 1 2 1 0 1-1 1 0 1 1 1 3 1-2 1-1 1 2 1 0 1 2 1 2 1-2 1-1 1-1 1 1 1 2 1 3 1 2 1 0 1-1 1-1 1 6 1 2 1 0 1-1 1-4 1-1 1 3 1 1 1-3 1 0 1 2 1 2 1-3 1 0 1 0 1 0 1-1 1 2 1 1 1 1 1 1 1 3 1 1"/>
<path class="d1" d="M0 7l 1 1 1 1 1 0 1 2 1 1 1-1 1 0 1-1 1 2 1 3 1 1 1 0 1 1 1-1 1-1 1 0 1 2 1 0 1 1 1 1 1 1 1 0 1 0 1 0 1 3 1 0 1 1 1 2 1 2 1-5 1 2 1 2 1 1 1-1 1-1 1-4 1 0 1-1 1-6 1 0 1 2 1 2 1 1 1 3 1-2 1 1 1-2 1 5 1 2 1 2 1-1 1 0 1-1 1 1 1 1 1 3 1 3 1-2 1-5 1 5 1-1 1 8 1 2 1 4 1 0 1 7 1-1 1 1 1 2 1 4 1 4 1-4 1 2 1 0 1 1 1 3 1-1 1 1 1 3 1 1 1-1 1 0 1 1 1 2 1 1 1-3 1 1 1-3 1 1 1 0 1-2 1 1 1 1 1-1 1-5 1 1 1 1 1 0 1-2 1-2 1 3 1 2 1 1 1-1 1 2 1 1 1 1 1 1 1 4 1 0 1 0 1 2 1-4 1 2 1-1 1-5 1 3 1-1 1-1 1 0"/>
<path class="d2" d="M0 -4l 1 2 1 0 1 0 1 0 1 1 1 0 1 0 1 2 1 1 1 1 1-1 1-1 1 1 1 1 1 0 1 1 1-1 1 0 1 0 1 1 1-2 1 2 1 0 1-1 1 0 1 1 1 0 1 0 1 2 1 0 1 1 1-1 1 0 1-2 1 2 1 0 1-1 1-1 1-1 1 2 1 1 1 0 1-1 1 1 1 0 1 1 1 2 1-1 1 0 1-2 1 0 1 0 1 0 1 1 1 1 1 1 1 2 1 0 1 1 1 1 1 0 1-2 1 2 1 2 1-1 1-1 1 0 1 1 1-1 1-1 1 2 1 1 1 1 1 1 1-2 1 1 1 0 1 1 1 0 1 1 1-1 1 1 1 0 1 3 1 0 1-1 1 0 1 3 1 1 1-1 1 0 1 0 1 2 1-1 1-1 1-1 1-2 1 1 1 2 1 4 1 0 1-2 1 0 1 2 1 1 1-1 1 1 1 2 1 1 1 0 1-1 1 0 1 1 1-1 1 0 1-2 1 0 1 2 1 0 1 0"/>
<path class="s1" d="M0 -16l 1 0 1 0 1-1 1 2 1-2 1 0 1 4 1-3 1 2 1-4 1 2 1-1 1-1 1 1 1-2 1 1 1-4 1-2 1-1 1-3 1 0 1 2 1 3 1 0 1-1 1 0 1-3 1-1 1-3 1 2 1 1 1 0 1 3 1-2 1-2 1 1 1 0 1-1 1-2 1-1 1 0 1-1 1 2 1 1 1-5 1-2 1-5 1-2 1-1 1 3 1-2 1 2 1 2 1 1 1 3 1 2 1-2 1 2 1 0 1 0 1 3 1-1 1-2 1 2 1 0 1-1 1-1 1 0 1 1 1-1 1-3 1 0 1-1 1-3 1 0 1 0 1 0 1 3 1-1 1 1 1-1 1-1 1-3 1 3 1 1 1 3 1-2 1 1 1-2 1 4 1 0 1-1 1 2 1 4 1-2 1 0 1 3 1 1 1 0 1 0 1-1 1 0 1 0 1 0 1-2 1 0 1 2 1-2 1 3 1 2 1 0 1 2 1 0 1 2 1 3 1 2 1-1 1 3 1 0 1 0"/>
<path class="s1" d="M0 3l 1 2 1 0 1 1 1 2 1 1 1-1 1 3 1 0 1 2 1-3 1 0 1 0 1 1 1 3 1 0 1-1 1-3 1 3 1-1 1 0 1 1 1-2 1 0 1 0 1 0 1-1 1 0 1 1 1 1 1 0 1-1 1 1 1 1 1-1 1 2 1 4 1-1 1 0 1-1 1 0 1-1 1 0 1 2 1 2 1-1 1 2 1-1 1-4 1 0 1 0 1 4 1 6 1-1 1 1 1 3 1 6 1 3 1 1 1-1 1-1 1 1 1-3 1 4 1 3 1-1 1 5 1 0 1 0 1 2 1-1 1-2 1 1 1 1 1-1 1-1 1 3 1 4 1 2 1 0 1 1 1-1 1-3 1 0 1-2 1-2 1-1 1 2 1 0 1-1 1-1 1-1 1 1 1 6 1-2 1 1 1 1 1 2 1-2 1 5 1 3 1-3 1 1 1-3 1 2 1-2 1 1 1 1 1-2 1 2 1-2 1 1 1-2 1 1 1-1 1-1 1 2 1-1 1 0 1-3 1 1"/>
<path class="s2" d="M0 -9l 1-1 1 1 1-1 1 1 1 0 1 1 1 0 1 0 1 1 1 0 1-2 1 1 1 0 1 1 1-1 1 2 1-1 1-1 1 3 1-3 1 0 1-1 1 0 1 0 1 1 1-1 1 2 1-1 1 1 1 0 1-2 1 1 1 1 1-1 1 0 1-1 1 1 1-1 1 2 1 1 1-1 1-1 1 0 1 1 1 1 1 0 1 0 1 0 1-1 1 0 1 0 1 0 1 1 1-1 1 0 1 0 1 1 1 1 1-1 1 2 1 1 1-1 1 0 1 0 1 1 1 0 1 1 1 0 1 1 1-1 1 3 1-1 1 2 1 0 1 2 1-1 1 2 1-1 1 1 1 2 1-1 1 1 1 0 1 0 1 1 1 1 1 2 1 1 1 0 1 2 1-1 1 1 1-2 1 1 1 1 1-1 1 2 1-1 1 1 1-1 1 0 1 1 1-1 1 0 1 0 1 3 1 0 1-1 1 0 1 4 1 0 1-1 1-1 1 2 1 0 1-1 1-2 1 1 1 0 1 2"/>
</g></g>
<rect x="245.5" y="371.5" width="147.0" height="154.0" fill="none" stroke="#000" stroke-width="1.1"/>
<path d="M240.6 402.5H245.5 M240.6 463.5H245.5 M240.6 525.5H245.5 M270.5 525.5V530.4 M331.5 525.5V530.4 M392.5 525.5V530.4" stroke="#000" stroke-width="1.1" fill="none"/>
<rect x="298.9" y="378.6" width="86.6" height="45.7" rx="4" ry="4" fill="#fff" fill-opacity="0.8" stroke="#cccccc" stroke-width="1.2"/>
<text x="303.4" y="395.2" font-size="13.89" textLength="74.0" lengthAdjust="spacingAndGlyphs">BALKHASH</text>
<text x="303.4" y="416.0" font-size="13.89" textLength="72.2" lengthAdjust="spacingAndGlyphs">(AS, 0.9%)</text>
<clipPath id="c2_2"><rect x="428.5" y="371.5" width="148.0" height="154.0"/></clipPath>
<g clip-path="url(#c2_2)">
<line x1="428.5" y1="463.9" x2="576.5" y2="463.9" stroke="#aaa" stroke-width="0.6" stroke-dasharray="1,1.7"/>
<g transform="matrix(1.2333 0 0 0.6160 428.50 463.90)">
<path d="M0 -6l 1-1 1-2 1-2 1 0 1-2 1 1 1-1 1 2 1-5 1 0 1-2 1-3 1-1 1-3 1-3 1 0 1-5 1-2 1 0 1-1 1-2 1-3 1-5 1-1 1-3 1-4 1-3 1 1 1 0 1 2 1 0 1-3 1 0 1-1 1-2 1 0 1-1 1-2 1-3 1-2 1 2 1 0 1 3 1-1 1 2 1-4 1 1 1-4 1-1 1 6 1-4 1 4 1-1 1 0 1 5 1-3 1-1 1-1 1 3 1 0 1-3 1-2 1 0 1 0 1-3 1-1 1 1 1-2 1 2 1-1 1-4 1-3 1-1 1 2 1 0 1-1 1 0 1 1 1-5 1 4 1-1 1 1 1-3 1-2 1-3 1-2 1-1 1 1 1 1 1 3 1-2 1-2 1 5 1 1 1-1 1 1 1-2 1 1 1-1 1 2 1 0 1 0 1 0 1 0 1 0 1-3 1 3 1-2 1-3 1 0 1 2 1-2 1 3 1 6 1-1 1-1 1-3 1-1 1 2 1 3 0 34-1-3-1-1-1 5-1 0-1-4-1 3-1-1-1-4-1 0-1-2-1 2-1 1-1 1-1-3-1-2-1-1-1-3-1-2-1 4-1 5-1-2-1 0-1 1-1-3-1-1-1 2-1-2-1 5-1-2-1 3-1-1-1 1-1 0-1 0-1-3-1 1-1-2-1 3-1 0-1 0-1 1-1-4-1 4-1-1-1 0-1-1-1-1-1 0-1 6-1-4-1 4-1 0-1 1-1 1-1 0-1-1-1-2-1 0-1 2-1 3-1 2-1 5-1 0-1 0-1 0-1 4-1-4-1 2-1 2-1-3-1-2-1-1-1-2-1-3-1 2-1 1-1 1-1 0-1-1-1 3-1-1-1-4-1-2-1 0-1 2-1 5-1 3-1-3-1 1-1 2-1 1-1 3-1 2-1 1-1 1-1 0-1-2-1-2-1 4-1 1-1 4-1 1-1 0-1 6-1 4-1-2-1 1-1 2-1 0-1 1-1 3-1 0-1 1-1 0-1 1-1 2-1-1-1 1-1 0-1 2z" fill="#9999cc"/>
<path d="M0 -3l 1-1 1 1 1-1 1 0 1 0 1-3 1-1 1-3 1 1 1-4 1 2 1 1 1-2 1 1 1 2 1 0 1 0 1 1 1-1 1 0 1-3 1 2 1-2 1-1 1 1 1 0 1 2 1-4 1 2 1 0 1-1 1 2 1 0 1-3 1 2 1-1 1-1 1 1 1-1 1-4 1 1 1-1 1 0 1-1 1 4 1 3 1 0 1-2 1-3 1 1 1 1 1 2 1-1 1 0 1-2 1 3 1-1 1-3 1 0 1 0 1-2 1 0 1-3 1 1 1 1 1 0 1-4 1 1 1 1 1-2 1-4 1 2 1 2 1-2 1 3 1 3 1 0 1-1 1 1 1-1 1-2 1-2 1 1 1 1 1-5 1 2 1-2 1 0 1 2 1-4 1-1 1-1 1 3 1 1 1-3 1 2 1-2 1-3 1 2 1-1 1-3 1 4 1 0 1-4 1-2 1 1 1 1 1 0 1-4 1 2 1-3 1 2 1-2 1 1 1 1 1 0 1 1 1-8 1 2 1-1 0 46-1 0-1 2-1 0-1-4-1 3-1 2-1-1-1 5-1 0-1-3-1 1-1 0-1 0-1-1-1 0-1 0-1-4-1-2-1-2-1 2-1 2-1 4-1-3-1-2-1 2-1-1-1-1-1 6-1 2-1-3-1 1-1 0-1-2-1-1-1 3-1 1-1 0-1 3-1-3-1 2-1-2-1 3-1 2-1 1-1 2-1 0-1 2-1 3-1-1-1 1-1 3-1 0-1-3-1 3-1 1-1-2-1-2-1-2-1 2-1-3-1 1-1 2-1 2-1 2-1-1-1-3-1 3-1-3-1-2-1 2-1 3-1-2-1 1-1-5-1-5-1-1-1 0-1-4-1 0-1-3-1-5-1 0-1 0-1 2-1 4-1 4-1-2-1 1-1 0-1 0-1-2-1-3-1 4-1 4-1-2-1-2-1-1-1 4-1-1-1-2-1 0-1 1-1-1-1-3-1 4-1 1-1 2-1 0-1 2-1-3-1-1-1-2-1 0-1 4-1-4-1 1-1-1-1-1-1 0-1-1z" fill="#ffd700" fill-opacity="0.4"/>
<path class="d1" d="M0 -3l 1-1 1 1 1-1 1 0 1 0 1-3 1-1 1-3 1 1 1-4 1 2 1 1 1-2 1 1 1 2 1 0 1 0 1 1 1-1 1 0 1-3 1 2 1-2 1-1 1 1 1 0 1 2 1-4 1 2 1 0 1-1 1 2 1 0 1-3 1 2 1-1 1-1 1 1 1-1 1-4 1 1 1-1 1 0 1-1 1 4 1 3 1 0 1-2 1-3 1 1 1 1 1 2 1-1 1 0 1-2 1 3 1-1 1-3 1 0 1 0 1-2 1 0 1-3 1 1 1 1 1 0 1-4 1 1 1 1 1-2 1-4 1 2 1 2 1-2 1 3 1 3 1 0 1-1 1 1 1-1 1-2 1-2 1 1 1 1 1-5 1 2 1-2 1 0 1 2 1-4 1-1 1-1 1 3 1 1 1-3 1 2 1-2 1-3 1 2 1-1 1-3 1 4 1 0 1-4 1-2 1 1 1 1 1 0 1-4 1 2 1-3 1 2 1-2 1 1 1 1 1 0 1 1 1-8 1 2 1-1"/>
<path class="d1" d="M0 4l 1 1 1 0 1 1 1 1 1-1 1 4 1-4 1 0 1 2 1 1 1 3 1-2 1 0 1-2 1-1 1-4 1 3 1 1 1-1 1 0 1 2 1 1 1-4 1 1 1 2 1 2 1-4 1-4 1 3 1 2 1 0 1 0 1-1 1 2 1-4 1-4 1-2 1 0 1 0 1 5 1 3 1 0 1 4 1 0 1 1 1 5 1 5 1-1 1 2 1-3 1-2 1 2 1 3 1-3 1 3 1 1 1-2 1-2 1-2 1-1 1 3 1-2 1 2 1 2 1 2 1-1 1-3 1 3 1 0 1-3 1-1 1 1 1-3 1-2 1 0 1-2 1-1 1-2 1-3 1 2 1-2 1 3 1-3 1 0 1-1 1-3 1 1 1 2 1 0 1-1 1 3 1-2 1-6 1 1 1 1 1-2 1 2 1 3 1-4 1-2 1-2 1 2 1 2 1 4 1 0 1 0 1 1 1 0 1 0 1-1 1 3 1 0 1-5 1 1 1-2 1-3 1 4 1 0 1-2 1 0"/>
<path class="d2" d="M0 1l 1 0 1 0 1 1 1 0 1 1 1 0 1 0 1 2 1-1 1 0 1-1 1 0 1-2 1 1 1 1 1 1 1-2 1 1 1-1 1-1 1 0 1 0 1-1 1-3 1 1 1 1 1-1 1 0 1 0 1 2 1-1 1-2 1 0 1 0 1 0 1-1 1-2 1 2 1 2 1 1 1-2 1-2 1 3 1 0 1 1 1-2 1 1 1 0 1 2 1 0 1-1 1 2 1 1 1-2 1-1 1-1 1-1 1 0 1 0 1 0 1 0 1-2 1 1 1 0 1-3 1 0 1 0 1 0 1 1 1-1 1 1 1 0 1-3 1 0 1-1 1 1 1-2 1 0 1-3 1 1 1-3 1 1 1 0 1 1 1 0 1 0 1-1 1 0 1-2 1 1 1-2 1-2 1-1 1 0 1 0 1-1 1 0 1 0 1 0 1 0 1 0 1 1 1-1 1-1 1 1 1-1 1 0 1 0 1 1 1-2 1 1 1 1 1 1 1-1 1-1 1 0 1 1 1-3 1 0 1 2"/>
<path class="s1" d="M0 -6l 1-1 1-2 1-2 1 0 1-2 1 1 1-1 1 2 1-5 1 0 1-2 1-3 1-1 1-3 1-3 1 0 1-5 1-2 1 0 1-1 1-2 1-3 1-5 1-1 1-3 1-4 1-3 1 1 1 0 1 2 1 0 1-3 1 0 1-1 1-2 1 0 1-1 1-2 1-3 1-2 1 2 1 0 1 3 1-1 1 2 1-4 1 1 1-4 1-1 1 6 1-4 1 4 1-1 1 0 1 5 1-3 1-1 1-1 1 3 1 0 1-3 1-2 1 0 1 0 1-3 1-1 1 1 1-2 1 2 1-1 1-4 1-3 1-1 1 2 1 0 1-1 1 0 1 1 1-5 1 4 1-1 1 1 1-3 1-2 1-3 1-2 1-1 1 1 1 1 1 3 1-2 1-2 1 5 1 1 1-1 1 1 1-2 1 1 1-1 1 2 1 0 1 0 1 0 1 0 1 0 1-3 1 3 1-2 1-3 1 0 1 2 1-2 1 3 1 6 1-1 1-1 1-3 1-1 1 2 1 3"/>
<path class="s1" d="M0 2l 1-2 1 0 1-1 1 1 1-2 1-1 1 0 1-1 1 0 1-3 1-1 1 0 1-2 1-1 1 2 1-4 1-6 1 0 1-1 1-4 1-1 1-4 1 2 1 2 1 0 1-1 1-1 1-2 1-3 1-1 1-2 1-1 1 3 1-3 1-5 1-2 1 0 1 2 1 4 1 1 1-3 1 1 1 0 1-1 1-1 1-2 1 3 1 2 1 1 1 2 1 3 1-2 1-2 1 4 1-4 1 0 1 0 1 0 1-5 1-2 1-3 1-2 1 0 1 2 1 1 1 0 1-1 1-1 1 0 1-4 1 4 1-6 1 0 1 1 1 1 1 0 1 1 1-4 1 4 1-1 1 0 1 0 1-3 1 2 1-1 1 3 1 0 1 0 1-1 1 1 1-3 1 2 1-5 1 2 1-2 1 1 1 3 1-1 1 0 1 2 1-5 1-4 1 2 1 3 1 1 1 2 1 3 1-1 1-1 1-2 1 2 1 0 1 4 1 1 1-3 1 4 1 0 1-5 1 1 1 3"/>
<path class="s2" d="M0 -4l 1 1 1-1 1-1 1-1 1 0 1-2 1 1 1-2 1-2 1 1 1-2 1-4 1-1 1-3 1-3 1-1 1-1 1-2 1-2 1-3 1-2 1-3 1-1 1-1 1-1 1 0 1 0 1-1 1 1 1-1 1-2 1-1 1-2 1 0 1-1 1 0 1-2 1 2 1-2 1 1 1 0 1-3 1 0 1-2 1 3 1 2 1-3 1-1 1-2 1 1 1-1 1-1 1 0 1 1 1 0 1 0 1-1 1-1 1 0 1 0 1 0 1 2 1 0 1-1 1-1 1-2 1-1 1 0 1 2 1 0 1-3 1 1 1-2 1-1 1 0 1 0 1 0 1-1 1-2 1 0 1-3 1 2 1 2 1 2 1-2 1 0 1 1 1 1 1-1 1 0 1 0 1 0 1-1 1-2 1 0 1 0 1-1 1-2 1 0 1 1 1-1 1 0 1 2 1-2 1 2 1 2 1-1 1-1 1 0 1-2 1 2 1-3 1 3 1 1 1 1 1-2 1 0 1 0 1 0 1-1"/>
</g></g>
<rect x="428.5" y="371.5" width="148.0" height="154.0" fill="none" stroke="#000" stroke-width="1.1"/>
<path d="M423.6 402.5H428.5 M423.6 463.5H428.5 M423.6 525.5H428.5 M453.5 525.5V530.4 M514.5 525.5V530.4 M576.5 525.5V530.4" stroke="#000" stroke-width="1.1" fill="none"/>
<rect x="435.5" y="378.6" width="86.3" height="45.7" rx="4" ry="4" fill="#fff" fill-opacity="0.8" stroke="#cccccc" stroke-width="1.2"/>
<text x="440.0" y="395.2" font-size="13.89" textLength="53.0" lengthAdjust="spacingAndGlyphs">STIKINE</text>
<text x="440.0" y="416.0" font-size="13.89" textLength="73.7" lengthAdjust="spacingAndGlyphs">(NA, 6.8%)</text>
<clipPath id="c2_3"><rect x="612.5" y="371.5" width="147.0" height="154.0"/></clipPath>
<g clip-path="url(#c2_3)">
<line x1="612.5" y1="463.9" x2="759.5" y2="463.9" stroke="#aaa" stroke-width="0.6" stroke-dasharray="1,1.7"/>
<g transform="matrix(1.2250 0 0 0.6160 612.50 463.90)">
<path d="M0 -8l 1-4 1-3 1-5 1-3 1-3 1-1 1-3 1-5 1-3 1-5 1-4 1-1 1-4 1-5 1-4 1-4 1 1 1-6 1-1 1 0 1-3 1-8 1-4 1-3 1-6 1-3 1-4 1-2 1-1 1 3 1-4 1-1 1 0 1-1 1 3 1-2 1 0 1-2 1 2 1 0 1-1 1-1 1 4 1 0 1 3 1 0 1 0 1 0 1-2 1 0 1 0 1 4 1 0 1 3 1 2 1-2 1-1 1-2 1-2 1 2 1-3 1 4 1 0 1 1 1-1 1-4 1-1 1 1 1 1 1-3 1 1 1 0 1 2 1-2 1-3 1 0 1-1 1 0 1-1 1-1 1 1 1 0 1 0 1-2 1-1 1-6 1 2 1 2 1 2 1-2 1-1 1 1 1 3 1 0 1 0 1 2 1 2 1-1 1 3 1 2 1 2 1-1 1-1 1-2 1-1 1 0 1-1 1-2 1 3 1-2 1 2 1-2 1 3 1 4 1-4 1-1 1 2 1 0 1 4 1-5 0 16-1 1-1 0-1 4-1-3-1 0-1 2-1-4-1-1-1 0-1 1-1 3-1 5-1 0-1 1-1 1-1 2-1 3-1 1-1-2-1 0-1 1-1-3-1 0-1 1-1 2-1 0-1 0-1-2-1 3-1 2-1-1-1-1-1 1-1-2-1 0-1 1-1 1-1 3-1 0-1-1-1 2-1-2-1-1-1 5-1-2-1 2-1 2-1 1-1-2-1 1-1 0-1-1-1-1-1 0-1-2-1 0-1-3-1-1-1 1-1 2-1 0-1-2-1 3-1-2-1 2-1 0-1 6-1-1-1 3-1-2-1-2-1-1-1-1-1 1-1-2-1-2-1 1-1 1-1 0-1 2-1 0-1-3-1-1-1 1-1 2-1-1-1-2-1 1-1 4-1 0-1 1-1-1-1 0-1 2-1 5-1 3-1 3-1 5-1 2-1 0-1 5-1 7-1 0-1 1-1 2-1 4-1 2-1 4-1 1-1 2-1 2-1 1-1 4-1 3-1 1-1 1-1 2-1 0-1 3-1 0z" fill="#9999cc"/>
<path d="M0 -2l 1-2 1 1 1 1 1-2 1 1 1 0 1-2 1 1 1 0 1 0 1-1 1 1 1-1 1 2 1-1 1 2 1 2 1 4 1-1 1 2 1 2 1-3 1 0 1 0 1 0 1-1 1 3 1 1 1 0 1-1 1-2 1 1 1 4 1-2 1 0 1-1 1-1 1 4 1 1 1-1 1 4 1 4 1-3 1-2 1-4 1-3 1 0 1-1 1 2 1 3 1-4 1 0 1 4 1 1 1-2 1-2 1 3 1 1 1-3 1-1 1 1 1 0 1-2 1-2 1 3 1 0 1 0 1 0 1-2 1 3 1 0 1-2 1-2 1-4 1-2 1-4 1-1 1 0 1-1 1-3 1 1 1 0 1-1 1-4 1 1 1-2 1 3 1-1 1 1 1-1 1-1 1 0 1 1 1-2 1 0 1 0 1-1 1 1 1-1 1-2 1 0 1 3 1-2 1-2 1 0 1-2 1-1 1-1 1 0 1-4 1 1 1 1 1 1 1 0 1-3 1 0 1 2 1 0 1 1 1 3 0 66-1 0-1-1-1 3-1 2-1-2-1 0-1 2-1 0-1-2-1-1-1 1-1 0-1 3-1-4-1 0-1 0-1 1-1 2-1 0-1 1-1 0-1 5-1-2-1-2-1 1-1-3-1-4-1-3-1-1-1 0-1 1-1-1-1 0-1-2-1 2-1-1-1 0-1 1-1 0-1 0-1-1-1 2-1-4-1 2-1 1-1-2-1 3-1 1-1 0-1 1-1 2-1 0-1-1-1 0-1 2-1-4-1 5-1-5-1 7-1-1-1-2-1 0-1 2-1-2-1 2-1-2-1-1-1-1-1 0-1-1-1 1-1 0-1-5-1 3-1 2-1-1-1-1-1-4-1-1-1 0-1 3-1 0-1-2-1 0-1-1-1-3-1-1-1-1-1 3-1-4-1 0-1 0-1-3-1-2-1-1-1-2-1 1-1 2-1-4-1-1-1-2-1 1-1-3-1-1-1 2-1 1-1-3-1 0-1-2-1-2-1 1-1-3-1 1-1 0-1 0-1-2-1 0-1-1-1-3-1 1z" fill="#ffd700" fill-opacity="0.4"/>
<path class="d1" d="M0 -2l 1-2 1 1 1 1 1-2 1 1 1 0 1-2 1 1 1 0 1 0 1-1 1 1 1-1 1 2 1-1 1 2 1 2 1 4 1-1 1 2 1 2 1-3 1 0 1 0 1 0 1-1 1 3 1 1 1 0 1-1 1-2 1 1 1 4 1-2 1 0 1-1 1-1 1 4 1 1 1-1 1 4 1 4 1-3 1-2 1-4 1-3 1 0 1-1 1 2 1 3 1-4 1 0 1 4 1 1 1-2 1-2 1 3 1 1 1-3 1-1 1 1 1 0 1-2 1-2 1 3 1 0 1 0 1 0 1-2 1 3 1 0 1-2 1-2 1-4 1-2 1-4 1-1 1 0 1-1 1-3 1 1 1 0 1-1 1-4 1 1 1-2 1 3 1-1 1 1 1-1 1-1 1 0 1 1 1-2 1 0 1 0 1-1 1 1 1-1 1-2 1 0 1 3 1-2 1-2 1 0 1-2 1-1 1-1 1 0 1-4 1 1 1 1 1 1 1 0 1-3 1 0 1 2 1 0 1 1 1 3"/>
<path class="d1" d="M0 5l 1-1 1 3 1 1 1 0 1 2 1 0 1 0 1-1 1 3 1-1 1 2 1 2 1 0 1 3 1-1 1-2 1 1 1 3 1-1 1 2 1 1 1 4 1-2 1-1 1 2 1 1 1 2 1 3 1 0 1 0 1 4 1-3 1 1 1 1 1 3 1 1 1 0 1 2 1 0 1-3 1 0 1 1 1 4 1 1 1 1 1-2 1-3 1 5 1 0 1-1 1 1 1 0 1 1 1 1 1 2 1-2 1 2 1-2 1 0 1 2 1 1 1-7 1 5 1-5 1 4 1-2 1 0 1 1 1 0 1-2 1-1 1 0 1-1 1-3 1 2 1-1 1-2 1 4 1-2 1 1 1 0 1 0 1-1 1 0 1 1 1-2 1 2 1 0 1 1 1-1 1 0 1 1 1 3 1 4 1 3 1-1 1 2 1 2 1-5 1 0 1-1 1 0 1-2 1-1 1 0 1 0 1 4 1-3 1 0 1-1 1 1 1 2 1 0 1-2 1 0 1 2 1-2 1-3 1 1 1 0"/>
<path class="d2" d="M0 1l 1 1 1 0 1 0 1 1 1 0 1 2 1 0 1 1 1-1 1 2 1 1 1 0 1 4 1 1 1 0 1 0 1-1 1 0 1 3 1-1 1 0 1 0 1 1 1 1 1-1 1-1 1 1 1 0 1 2 1 1 1 2 1-1 1 0 1 1 1 1 1-1 1-1 1 0 1 1 1-1 1 3 1 1 1 1 1-2 1 2 1 4 1-4 1 1 1 0 1 1 1-3 1 2 1 2 1 0 1 1 1 0 1-1 1 1 1 2 1-2 1 1 1 2 1-2 1-1 1-2 1 1 1 1 1-1 1 0 1-2 1 2 1-3 1 0 1 0 1 0 1-2 1-1 1 1 1 1 1-1 1 0 1 1 1-1 1 1 1 1 1 1 1-2 1 0 1 1 1 2 1-2 1-1 1 2 1-2 1 0 1-1 1 0 1 1 1-1 1 0 1 0 1-2 1 2 1 0 1 0 1 0 1 0 1-2 1 0 1 1 1-1 1 1 1 1 1-1 1 0 1 3 1-1 1-1 1-3 1 0"/>
<path class="s1" d="M0 -8l 1-4 1-3 1-5 1-3 1-3 1-1 1-3 1-5 1-3 1-5 1-4 1-1 1-4 1-5 1-4 1-4 1 1 1-6 1-1 1 0 1-3 1-8 1-4 1-3 1-6 1-3 1-4 1-2 1-1 1 3 1-4 1-1 1 0 1-1 1 3 1-2 1 0 1-2 1 2 1 0 1-1 1-1 1 4 1 0 1 3 1 0 1 0 1 0 1-2 1 0 1 0 1 4 1 0 1 3 1 2 1-2 1-1 1-2 1-2 1 2 1-3 1 4 1 0 1 1 1-1 1-4 1-1 1 1 1 1 1-3 1 1 1 0 1 2 1-2 1-3 1 0 1-1 1 0 1-1 1-1 1 1 1 0 1 0 1-2 1-1 1-6 1 2 1 2 1 2 1-2 1-1 1 1 1 3 1 0 1 0 1 2 1 2 1-1 1 3 1 2 1 2 1-1 1-1 1-2 1-1 1 0 1-1 1-2 1 3 1-2 1 2 1-2 1 3 1 4 1-4 1-1 1 2 1 0 1 4 1-5"/>
<path class="s1" d="M0 1l 1 0 1-3 1 0 1-2 1-1 1-1 1-3 1-4 1-1 1-2 1-2 1-1 1-4 1-2 1-4 1-2 1-1 1 0 1-7 1-5 1 0 1-2 1-5 1-3 1-3 1-5 1-2 1 0 1 1 1-1 1 0 1-4 1-1 1 2 1 1 1-2 1-1 1 1 1 3 1 0 1-2 1 0 1-1 1-1 1 2 1 2 1-1 1 1 1 1 1 2 1 2 1-3 1 1 1-6 1 0 1-2 1 2 1-3 1 2 1 0 1-2 1-1 1 1 1 3 1 0 1 2 1 0 1 1 1 1 1 0 1-1 1 2 1-1 1-2 1-2 1 2 1-5 1 1 1 2 1-2 1 1 1 0 1-3 1-1 1-1 1 0 1 2 1-1 1 1 1 1 1-2 1-3 1 2 1 0 1 0 1-2 1-1 1 0 1 3 1-1 1 0 1 2 1-1 1-3 1-2 1-1 1-1 1 0 1-5 1-3 1-1 1 0 1 1 1 4 1-2 1 0 1 3 1-4 1 0 1-1"/>
<path class="s2" d="M0 -3l 1-2 1-3 1-3 1-3 1-2 1-5 1-1 1-2 1-2 1-2 1-3 1-4 1-2 1-3 1-3 1-5 1-4 1-3 1-4 1-3 1-3 1-2 1-3 1-3 1-2 1-2 1 0 1-3 1-3 1-1 1-2 1 0 1-2 1-2 1 1 1 0 1 1 1-1 1 0 1 2 1 1 1 0 1-1 1 0 1 1 1 0 1 2 1 0 1 1 1-1 1 2 1-3 1 1 1-1 1-1 1 2 1-1 1-1 1 0 1 0 1 2 1-1 1-1 1 1 1-2 1-1 1-1 1 1 1-3 1 1 1 2 1-3 1-1 1 1 1 0 1 0 1-1 1 1 1 2 1 0 1 1 1-1 1-2 1-1 1-1 1-1 1 2 1-2 1 0 1 0 1-1 1-1 1 0 1 0 1 2 1-1 1 1 1 0 1-1 1 0 1 0 1-1 1-1 1-1 1 0 1-2 1 1 1 0 1-1 1 1 1-1 1-1 1 2 1-1 1 0 1-1 1 2 1-1 1 0 1 0"/>
</g></g>
<rect x="612.5" y="371.5" width="147.0" height="154.0" fill="none" stroke="#000" stroke-width="1.1"/>
<path d="M607.6 402.5H612.5 M607.6 463.5H612.5 M607.6 525.5H612.5 M637.5 525.5V530.4 M698.5 525.5V530.4 M759.5 525.5V530.4" stroke="#000" stroke-width="1.1" fill="none"/>
<rect x="652.0" y="425.5" width="100.6" height="45.7" rx="4" ry="4" fill="#fff" fill-opacity="0.8" stroke="#cccccc" stroke-width="1.2"/>
<text x="656.5" y="442.1" font-size="13.89" textLength="87.7" lengthAdjust="spacingAndGlyphs">SANTA CRUZ</text>
<text x="656.5" y="462.9" font-size="13.89" textLength="72.4" lengthAdjust="spacingAndGlyphs">(SA, 9.9%)</text>
<clipPath id="c3_0"><rect x="61.5" y="553.5" width="147.0" height="154.0"/></clipPath>
<g clip-path="url(#c3_0)">
<line x1="61.5" y1="645.9" x2="208.5" y2="645.9" stroke="#aaa" stroke-width="0.6" stroke-dasharray="1,1.7"/>
<g transform="matrix(1.2250 0 0 0.6160 61.50 645.90)">
<path d="M0 -5l 1-2 1 0 1 0 1 0 1-1 1-1 1 1 1-3 1-1 1 3 1-2 1 0 1-1 1-2 1 1 1-3 1-2 1 7 1 3 1-1 1-5 1 1 1-1 1-1 1 2 1 1 1-1 1 0 1 3 1-2 1 2 1-5 1 0 1 1 1-4 1 2 1 2 1-2 1 5 1 4 1-1 1-3 1 0 1-1 1 2 1 0 1 0 1 1 1-2 1 2 1-5 1 0 1 2 1-3 1-1 1 3 1 0 1-1 1 1 1-3 1 2 1-2 1 0 1 2 1 1 1-5 1 2 1-3 1 1 1 0 1 2 1 1 1-1 1-1 1-1 1-5 1 0 1 0 1-1 1 1 1-2 1 4 1 0 1 0 1 1 1-1 1 1 1 2 1 5 1-3 1 0 1-2 1 2 1-1 1-1 1 1 1-1 1-5 1-4 1-4 1-1 1 0 1 5 1 1 1-1 1-3 1 2 1 2 1 1 1-5 1-3 1 3 1 1 1-2 1 1 1 4 1 0 1 3 1-2 1 1 0 37-1 0-1-1-1 1-1 2-1 2-1-2-1 0-1-2-1 1-1 2-1-2-1-1-1 1-1 1-1-1-1 2-1-4-1 2-1 3-1 2-1-2-1-3-1 2-1 5-1-2-1-1-1-1-1 1-1-3-1 0-1-3-1 0-1 5-1-3-1 0-1 0-1 1-1 1-1 0-1 0-1-1-1 0-1 1-1 0-1-1-1 1-1-1-1-4-1 0-1 3-1 3-1 1-1 0-1-3-1 3-1-3-1 3-1 3-1-1-1-3-1 1-1-2-1 3-1-2-1-3-1 1-1 2-1 1-1 1-1-5-1 1-1-1-1 1-1-4-1-2-1 6-1 2-1-3-1-1-1 0-1 2-1-1-1 2-1-2-1-1-1 3-1-4-1 0-1 4-1-3-1-2-1-3-1 3-1 0-1 0-1 0-1 1-1-2-1 0-1-2-1 1-1-1-1 0-1-2-1 3-1-1-1 2-1 2-1-1-1 0-1 0-1-2-1-2-1 2-1 0-1-3-1-1-1 2-1-1-1-2z" fill="#9999cc"/>
<path d="M0 -3l 1-2 1 2 1-3 1 3 1 0 1 1 1 1 1-3 1-4 1 4 1 1 1-2 1 1 1 1 1 1 1-3 1 0 1 5 1-7 1 1 1-1 1 5 1-3 1-3 1-1 1 3 1 2 1-1 1 2 1-2 1-2 1-2 1 0 1 1 1-2 1 0 1 1 1 2 1 2 1-2 1-2 1 2 1-2 1-1 1 4 1 1 1-1 1 0 1-2 1-3 1 4 1 2 1-2 1 1 1 2 1-4 1 5 1-1 1-3 1 0 1-2 1 3 1-1 1 3 1 1 1 2 1 0 1-1 1 0 1 0 1-3 1-1 1-4 1 0 1 3 1 2 1 2 1-2 1-3 1-1 1 6 1-5 1-1 1 1 1-1 1 1 1-1 1 0 1 2 1-1 1-4 1-2 1-2 1 5 1-1 1 0 1-3 1 0 1-1 1 1 1 0 1-3 1 2 1-2 1 3 1 3 1-2 1-3 1-2 1 2 1 0 1-2 1 0 1 1 1 1 1 0 1 4 1-1 1-1 1-2 0 33-1 0-1-3-1 0-1 5-1-4-1 1-1 0-1 1-1 2-1 0-1 7-1-5-1 1-1 0-1-1-1 0-1 0-1-2-1 2-1-3-1 2-1 1-1 2-1 0-1 2-1 0-1-2-1 0-1 4-1-1-1-1-1 1-1 0-1 0-1-1-1 3-1-3-1-2-1-1-1 0-1 4-1 1-1 0-1 0-1 3-1 3-1 1-1-3-1 3-1 3-1-4-1 0-1-1-1-2-1 1-1-3-1 3-1-1-1 1-1 0-1 0-1-1-1 1-1-5-1 2-1-1-1-2-1 0-1-1-1 0-1 0-1 4-1 0-1-3-1 0-1-1-1 1-1-2-1-2-1 2-1-3-1 2-1 1-1 0-1-3-1-3-1 2-1-1-1 0-1 3-1 2-1-2-1 3-1-2-1-3-1 2-1-1-1-3-1-1-1 2-1-2-1-1-1 0-1 2-1 1-1-2-1 1-1 0-1-3-1 1-1 0-1-4-1 2-1 2-1-2-1 0-1 0-1-1-1 0-1-1z" fill="#ffd700" fill-opacity="0.4"/>
<path class="d1" d="M0 -3l 1-2 1 2 1-3 1 3 1 0 1 1 1 1 1-3 1-4 1 4 1 1 1-2 1 1 1 1 1 1 1-3 1 0 1 5 1-7 1 1 1-1 1 5 1-3 1-3 1-1 1 3 1 2 1-1 1 2 1-2 1-2 1-2 1 0 1 1 1-2 1 0 1 1 1 2 1 2 1-2 1-2 1 2 1-2 1-1 1 4 1 1 1-1 1 0 1-2 1-3 1 4 1 2 1-2 1 1 1 2 1-4 1 5 1-1 1-3 1 0 1-2 1 3 1-1 1 3 1 1 1 2 1 0 1-1 1 0 1 0 1-3 1-1 1-4 1 0 1 3 1 2 1 2 1-2 1-3 1-1 1 6 1-5 1-1 1 1 1-1 1 1 1-1 1 0 1 2 1-1 1-4 1-2 1-2 1 5 1-1 1 0 1-3 1 0 1-1 1 1 1 0 1-3 1 2 1-2 1 3 1 3 1-2 1-3 1-2 1 2 1 0 1-2 1 0 1 1 1 1 1 0 1 4 1-1 1-1 1-2"/>
<path class="d1" d="M0 10l 1 1 1 0 1 1 1 0 1 0 1 2 1-2 1-2 1 4 1 0 1-1 1 3 1 0 1-1 1 2 1-1 1-2 1 0 1 1 1 2 1-2 1 1 1 3 1 1 1-2 1 3 1 2 1-3 1 2 1-2 1-3 1 0 1 1 1-2 1 3 1 3 1 0 1-1 1-2 1 3 1-2 1 2 1 2 1-1 1 1 1 0 1 3 1 0 1-4 1 0 1 0 1 1 1 0 1 2 1 1 1-2 1 5 1-1 1 1 1 0 1 0 1-1 1 1 1-3 1 3 1-1 1 2 1 1 1 0 1 4 1-3 1-3 1 3 1-1 1-3 1-3 1 0 1 0 1-1 1-4 1 0 1 1 1 2 1 3 1-3 1 1 1 0 1 0 1-1 1 1 1 1 1-4 1 0 1 2 1 0 1-2 1 0 1-2 1-1 1-2 1 3 1-2 1 2 1 0 1 0 1 1 1 0 1-1 1 5 1-7 1 0 1-2 1-1 1 0 1-1 1 4 1-5 1 0 1 3 1 0"/>
<path class="d2" d="M0 2l 1 0 1 0 1 1 1 0 1 0 1-1 1-1 1-1 1 1 1 1 1 0 1 0 1 1 1-1 1 1 1 2 1-1 1 0 1 0 1-3 1 0 1 1 1 1 1 1 1 0 1 1 1 2 1-1 1 1 1-2 1 0 1 0 1 0 1 0 1-1 1-1 1 2 1 1 1 0 1-1 1 1 1 0 1 0 1-2 1 0 1 1 1 2 1-1 1 1 1 0 1 1 1 2 1-2 1 2 1 0 1-1 1 0 1 0 1 1 1 0 1-1 1 0 1 2 1-1 1 0 1-1 1 2 1 1 1 0 1-2 1-1 1-1 1-2 1 2 1-2 1-1 1 0 1 1 1-1 1-2 1 0 1 1 1-1 1 0 1 0 1 1 1-2 1 4 1-1 1 0 1-2 1 0 1-2 1 0 1 1 1-1 1 0 1 2 1-1 1 0 1-2 1 0 1 0 1-1 1 1 1-1 1-1 1 0 1 0 1 0 1 1 1 0 1-2 1 2 1 2 1-1 1-1 1 0 1 1 1-1"/>
<path class="s1" d="M0 -5l 1-2 1 0 1 0 1 0 1-1 1-1 1 1 1-3 1-1 1 3 1-2 1 0 1-1 1-2 1 1 1-3 1-2 1 7 1 3 1-1 1-5 1 1 1-1 1-1 1 2 1 1 1-1 1 0 1 3 1-2 1 2 1-5 1 0 1 1 1-4 1 2 1 2 1-2 1 5 1 4 1-1 1-3 1 0 1-1 1 2 1 0 1 0 1 1 1-2 1 2 1-5 1 0 1 2 1-3 1-1 1 3 1 0 1-1 1 1 1-3 1 2 1-2 1 0 1 2 1 1 1-5 1 2 1-3 1 1 1 0 1 2 1 1 1-1 1-1 1-1 1-5 1 0 1 0 1-1 1 1 1-2 1 4 1 0 1 0 1 1 1-1 1 1 1 2 1 5 1-3 1 0 1-2 1 2 1-1 1-1 1 1 1-1 1-5 1-4 1-4 1-1 1 0 1 5 1 1 1-1 1-3 1 2 1 2 1 1 1-5 1-3 1 3 1 1 1-2 1 1 1 4 1 0 1 3 1-2 1 1"/>
<path class="s1" d="M0 4l 1 2 1 1 1-2 1 1 1 3 1 0 1-2 1 2 1 2 1 0 1 0 1 1 1-2 1-2 1 1 1-3 1 2 1 0 1 1 1-1 1 2 1 0 1 2 1-1 1 0 1 0 1 0 1-3 1 3 1 2 1 3 1-4 1 0 1 4 1-3 1 1 1 2 1-2 1 1 1-2 1 0 1 1 1 3 1-2 1-6 1 2 1 4 1-1 1 1 1-1 1 5 1-1 1-1 1-2 1-1 1 3 1 2 1-3 1 2 1-1 1 3 1 1 1-3 1-3 1 3 1-3 1 3 1 0 1-1 1-3 1-3 1 0 1 4 1 1 1-1 1 1 1 0 1-1 1 0 1 1 1 0 1 0 1-1 1-1 1 0 1 0 1 3 1-5 1 0 1 3 1 0 1 3 1-1 1 1 1 1 1 2 1-5 1-2 1 3 1 2 1-2 1-3 1-2 1 4 1-2 1 1 1-1 1-1 1 1 1 2 1-2 1-1 1 2 1 0 1 2 1-2 1-2 1-1 1 1 1 0"/>
<path class="s2" d="M0 1l 1-2 1 1 1 0 1 0 1 0 1 0 1 1 1 0 1 0 1 1 1 1 1-1 1 2 1-2 1-2 1 0 1-1 1-1 1 0 1 0 1 3 1 1 1-2 1-1 1 2 1-1 1-1 1 0 1 0 1 0 1 1 1-1 1 0 1 1 1 1 1 0 1-2 1-1 1 2 1 0 1-2 1 1 1 0 1 2 1 1 1 2 1-3 1-1 1 0 1 0 1 0 1-1 1 0 1-1 1 1 1 0 1 0 1 1 1-2 1 1 1 0 1-1 1-1 1 0 1 1 1 0 1 1 1-1 1-1 1 1 1 1 1-1 1 0 1 0 1-1 1 1 1 1 1 0 1 1 1 0 1-1 1 1 1 0 1 0 1 0 1-1 1-2 1 1 1-1 1-2 1 1 1-2 1-2 1 2 1 2 1-1 1 0 1-2 1 0 1-1 1 0 1 0 1 0 1 2 1-2 1-1 1-1 1 0 1 0 1 0 1-1 1 1 1 1 1 2 1-2 1 1 1-1 1 0 1 1 1 0"/>
</g></g>
<rect x="61.5" y="553.5" width="147.0" height="154.0" fill="none" stroke="#000" stroke-width="1.1"/>
<path d="M56.6 584.5H61.5 M56.6 645.5H61.5 M56.6 707.5H61.5 M86.5 707.5V712.4 M147.5 707.5V712.4 M208.5 707.5V712.4" stroke="#000" stroke-width="1.1" fill="none"/>
<text x="51.8" y="589.9" text-anchor="end" font-size="16.67" textLength="10.3" lengthAdjust="spacingAndGlyphs">1</text>
<text x="51.8" y="651.5" text-anchor="end" font-size="16.67" textLength="10.3" lengthAdjust="spacingAndGlyphs">0</text>
<text x="51.8" y="713.1" text-anchor="end" font-size="16.67" textLength="23.8" lengthAdjust="spacingAndGlyphs">−1</text>
<text transform="translate(17.2,631.0) rotate(-90)" text-anchor="middle" font-size="13.89" textLength="106.9" lengthAdjust="spacingAndGlyphs">Roll. mean SPEI</text>
<rect x="116.4" y="560.6" width="86.3" height="45.7" rx="4" ry="4" fill="#fff" fill-opacity="0.8" stroke="#cccccc" stroke-width="1.2"/>
<text x="120.9" y="577.2" font-size="13.89" textLength="53.0" lengthAdjust="spacingAndGlyphs">FRASER</text>
<text x="120.9" y="598.0" font-size="13.89" textLength="73.7" lengthAdjust="spacingAndGlyphs">(NA, 1.0%)</text>
<clipPath id="c3_1"><rect x="245.5" y="553.5" width="147.0" height="154.0"/></clipPath>
<g clip-path="url(#c3_1)">
<line x1="245.5" y1="645.9" x2="392.5" y2="645.9" stroke="#aaa" stroke-width="0.6" stroke-dasharray="1,1.7"/>
<g transform="matrix(1.2250 0 0 0.6160 245.50 645.90)">
<path d="M0 -11l 1-2 1 1 1-3 1 1 1-1 1 0 1-3 1 1 1-1 1-1 1 0 1-4 1-3 1-1 1-3 1 3 1 1 1-4 1-2 1-1 1-5 1-2 1 1 1 0 1-1 1-7 1 2 1 2 1 1 1 0 1-2 1 1 1 3 1 0 1-2 1-2 1 2 1 2 1 1 1 2 1-2 1 3 1 0 1 1 1 4 1-3 1 1 1 0 1 0 1 0 1 4 1-3 1 2 1-1 1-1 1 0 1-1 1-2 1 4 1-1 1-3 1 1 1-1 1 0 1-6 1 2 1 2 1 3 1-2 1 4 1-1 1 0 1 5 1 0 1 1 1 5 1 2 1-4 1 1 1-2 1-2 1 0 1 0 1 1 1-4 1 0 1 5 1 1 1-1 1 1 1-1 1 0 1-4 1 0 1-3 1 1 1-1 1-2 1 2 1 3 1-2 1 2 1 1 1-2 1-2 1 3 1 2 1-1 1-2 1-2 1-2 1 3 1-2 1 3 1 2 1-2 1 5 1-2 1 1 1-3 0 37-1 1-1-1-1-2-1-1-1 6-1-3-1 0-1 1-1 1-1 3-1-1-1-2-1 2-1-1-1 0-1-3-1 3-1 1-1-3-1 1-1 3-1 0-1-3-1 0-1 4-1-1-1-2-1 3-1 2-1 2-1-3-1-3-1 0-1-1-1 2-1-4-1-1-1 3-1-2-1 2-1-3-1-3-1 5-1-2-1 0-1-1-1-1-1 3-1-3-1-1-1-2-1-3-1-1-1 1-1 0-1 1-1 2-1-2-1 0-1-4-1-2-1-1-1-2-1 0-1 1-1-1-1-1-1 2-1-1-1-3-1 0-1 0-1 0-1-6-1 1-1-4-1 1-1 0-1 1-1 0-1-3-1-1-1 1-1 0-1 0-1-1-1-1-1 1-1-2-1 0-1 0-1-1-1 0-1 1-1 2-1 1-1-2-1 1-1 0-1 3-1 7-1 0-1 1-1 0-1 1-1 2-1 2-1 0-1-1-1 3-1 0-1 1-1-2-1 0-1 3-1-2-1 1-1-1-1 0-1 1z" fill="#9999cc"/>
<path d="M0 -1l 1 2 1 1 1-1 1 1 1 3 1 0 1 1 1 0 1 0 1-1 1 0 1 3 1-2 1 1 1 0 1 5 1-2 1-1 1 1 1-3 1 3 1-3 1-1 1 0 1 2 1 1 1 0 1 6 1-2 1 0 1-3 1 2 1 4 1-1 1 0 1 0 1 3 1-1 1 1 1-4 1 2 1 2 1 0 1 4 1-3 1 1 1-1 1-2 1 3 1 2 1 3 1 0 1 0 1 3 1-1 1 4 1 0 1 0 1-1 1 2 1-1 1-1 1 0 1 3 1-3 1 2 1-1 1-1 1-1 1 3 1-6 1-2 1-1 1-2 1-3 1 1 1-4 1-4 1 0 1-3 1 3 1-1 1 2 1-1 1 1 1-3 1 1 1 0 1 0 1 0 1 3 1 2 1-3 1-1 1-3 1-1 1-2 1 1 1 0 1 1 1 0 1-4 1 3 1-2 1 1 1-1 1-1 1 0 1 1 1-3 1 3 1 1 1 2 1-1 1-3 1-1 1-4 1 2 1-2 1 3 0 74-1-5-1-2-1 1-1-3-1-3-1-1-1-1-1 2-1-2-1 1-1-2-1 0-1 1-1-2-1-1-1 3-1 1-1 2-1 4-1-1-1-2-1 0-1 3-1-2-1 1-1-2-1 1-1-3-1 2-1 0-1 2-1-4-1 1-1-4-1 0-1 4-1 2-1 1-1-5-1 2-1 0-1 0-1 5-1-3-1 0-1 2-1 0-1 0-1 3-1-3-1-1-1-1-1-1-1 2-1-1-1-3-1 2-1-2-1 0-1 2-1-3-1-2-1-1-1 4-1-4-1 4-1-7-1 2-1 2-1-1-1 0-1-4-1 1-1-5-1 1-1-3-1 0-1-1-1-1-1-5-1-1-1 4-1-1-1-3-1-2-1 2-1-3-1 2-1-3-1 3-1 0-1-3-1 1-1-3-1-1-1-2-1 2-1 2-1-1-1 1-1-2-1-3-1 0-1-3-1 0-1 0-1-3-1 1-1-5-1-4-1 1-1 0-1 0-1 0-1-2-1-2-1-4-1 0-1-3-1-2z" fill="#ffd700" fill-opacity="0.4"/>
<path class="d1" d="M0 -1l 1 2 1 1 1-1 1 1 1 3 1 0 1 1 1 0 1 0 1-1 1 0 1 3 1-2 1 1 1 0 1 5 1-2 1-1 1 1 1-3 1 3 1-3 1-1 1 0 1 2 1 1 1 0 1 6 1-2 1 0 1-3 1 2 1 4 1-1 1 0 1 0 1 3 1-1 1 1 1-4 1 2 1 2 1 0 1 4 1-3 1 1 1-1 1-2 1 3 1 2 1 3 1 0 1 0 1 3 1-1 1 4 1 0 1 0 1-1 1 2 1-1 1-1 1 0 1 3 1-3 1 2 1-1 1-1 1-1 1 3 1-6 1-2 1-1 1-2 1-3 1 1 1-4 1-4 1 0 1-3 1 3 1-1 1 2 1-1 1 1 1-3 1 1 1 0 1 0 1 0 1 3 1 2 1-3 1-1 1-3 1-1 1-2 1 1 1 0 1 1 1 0 1-4 1 3 1-2 1 1 1-1 1-1 1 0 1 1 1-3 1 3 1 1 1 2 1-1 1-3 1-1 1-4 1 2 1-2 1 3"/>
<path class="d1" d="M0 5l 1 2 1 3 1 0 1 4 1 2 1 2 1 0 1 0 1 0 1-1 1 4 1 5 1-1 1 3 1 0 1 0 1 3 1 0 1 3 1 2 1-1 1 1 1-2 1-2 1 2 1 1 1 3 1-1 1 3 1 0 1-3 1 3 1-2 1 3 1-2 1 2 1 3 1 1 1-4 1 1 1 5 1 1 1 1 1 0 1 3 1-1 1 5 1-1 1 4 1 0 1 1 1-2 1-2 1 7 1-4 1 4 1-4 1 1 1 2 1 3 1-2 1 0 1 2 1-2 1 3 1 1 1-2 1 1 1 1 1 1 1 3 1-3 1 0 1 0 1-2 1 0 1 3 1-5 1 0 1 0 1-2 1 5 1-1 1-2 1-4 1 0 1 4 1-1 1 4 1-2 1 0 1-2 1 3 1-1 1 2 1-1 1 2 1-3 1 0 1 2 1 1 1-4 1-2 1-1 1-3 1 1 1 2 1-1 1 0 1 2 1-1 1 2 1-2 1 1 1 1 1 3 1 3 1-1 1 2 1 5"/>
<path class="d2" d="M0 2l 1 1 1 2 1 2 1 1 1 1 1 2 1 1 1 1 1 0 1 4 1 2 1 1 1-1 1-1 1 1 1 0 1 0 1 2 1-1 1 1 1 2 1 1 1-2 1 1 1 3 1 2 1 1 1 0 1 1 1 0 1-2 1 0 1 0 1 3 1 3 1-1 1 3 1-1 1 2 1 0 1-1 1 3 1 1 1-1 1 2 1 1 1-2 1 0 1 1 1 3 1 0 1-1 1 0 1 1 1-1 1 2 1 1 1-1 1 0 1 0 1 0 1 0 1-1 1 0 1 0 1 1 1 0 1 3 1-1 1 1 1 1 1-4 1-1 1-1 1 2 1-2 1 0 1 1 1 2 1 1 1 0 1-1 1-2 1-1 1 1 1-2 1 0 1 0 1 0 1 3 1-2 1 1 1-1 1 2 1 1 1-2 1-1 1-1 1 1 1 3 1-2 1 1 1-1 1 0 1-1 1 0 1-1 1-2 1 2 1-2 1-1 1 1 1 1 1 1 1 0 1-2 1 0 1 0 1 0 1-2"/>
<path class="s1" d="M0 -11l 1-2 1 1 1-3 1 1 1-1 1 0 1-3 1 1 1-1 1-1 1 0 1-4 1-3 1-1 1-3 1 3 1 1 1-4 1-2 1-1 1-5 1-2 1 1 1 0 1-1 1-7 1 2 1 2 1 1 1 0 1-2 1 1 1 3 1 0 1-2 1-2 1 2 1 2 1 1 1 2 1-2 1 3 1 0 1 1 1 4 1-3 1 1 1 0 1 0 1 0 1 4 1-3 1 2 1-1 1-1 1 0 1-1 1-2 1 4 1-1 1-3 1 1 1-1 1 0 1-6 1 2 1 2 1 3 1-2 1 4 1-1 1 0 1 5 1 0 1 1 1 5 1 2 1-4 1 1 1-2 1-2 1 0 1 0 1 1 1-4 1 0 1 5 1 1 1-1 1 1 1-1 1 0 1-4 1 0 1-3 1 1 1-1 1-2 1 2 1 3 1-2 1 2 1 1 1-2 1-2 1 3 1 2 1-1 1-2 1-2 1-2 1 3 1-2 1 3 1 2 1-2 1 5 1-2 1 1 1-3"/>
<path class="s1" d="M0 -3l 1-1 1 0 1 1 1-1 1 2 1-3 1 0 1 2 1-1 1 0 1-3 1 1 1 0 1-2 1-2 1-1 1 0 1-1 1 0 1-7 1-3 1 0 1-1 1 2 1-1 1-2 1-1 1 0 1 1 1 0 1 0 1 2 1-1 1 1 1 1 1 0 1 0 1-1 1 1 1 3 1 0 1-1 1 0 1-1 1 4 1-1 1 6 1 0 1 0 1 0 1 3 1 1 1-2 1 1 1 1 1-1 1 0 1 2 1 1 1 2 1 4 1 0 1 2 1-2 1-1 1 0 1-1 1 1 1 3 1 2 1 1 1 3 1-3 1 1 1 1 1 0 1 2 1-5 1 3 1 3 1-2 1 2 1-3 1 1 1 4 1-2 1 1 1 0 1 3 1 3 1-2 1-2 1-3 1 2 1 1 1-4 1 0 1 3 1 0 1-3 1-1 1 3 1-1 1-3 1 3 1 0 1 1 1-2 1 2 1 1 1-3 1-1 1-1 1 0 1 3 1-6 1 1 1 2 1 1 1-1"/>
<path class="s2" d="M0 -6l 1 0 1-1 1 0 1 0 1 0 1 0 1 0 1-2 1 0 1-2 1 1 1-1 1 1 1-3 1-2 1-2 1-1 1-2 1 1 1-3 1-1 1 1 1-3 1-1 1-1 1-4 1-2 1 1 1-2 1 2 1-1 1 1 1 0 1-1 1 2 1 2 1 0 1-2 1 3 1-1 1 2 1 0 1 1 1 3 1-1 1 0 1 1 1 1 1 0 1 1 1-1 1 2 1 0 1 1 1-2 1 0 1 1 1 1 1 3 1-2 1 0 1 1 1 1 1-1 1 1 1 1 1 0 1 1 1 1 1-2 1 1 1 1 1-1 1 0 1 0 1 0 1 1 1 0 1 0 1-1 1 1 1 3 1 0 1-1 1 2 1-1 1 1 1 0 1-3 1 1 1 1 1 0 1-2 1 3 1-1 1 1 1-1 1 1 1 0 1 1 1-2 1 1 1 0 1 0 1 1 1-2 1 0 1 1 1-1 1-1 1-1 1 2 1 1 1-3 1 2 1-2 1 0 1-1 1 0 1-1"/>
</g></g>
<rect x="245.5" y="553.5" width="147.0" height="154.0" fill="none" stroke="#000" stroke-width="1.1"/>
<path d="M240.6 584.5H245.5 M240.6 645.5H245.5 M240.6 707.5H245.5 M270.5 707.5V712.4 M331.5 707.5V712.4 M392.5 707.5V712.4" stroke="#000" stroke-width="1.1" fill="none"/>
<rect x="300.5" y="560.6" width="85.0" height="45.7" rx="4" ry="4" fill="#fff" fill-opacity="0.8" stroke="#cccccc" stroke-width="1.2"/>
<text x="305.0" y="577.2" font-size="13.89" textLength="45.9" lengthAdjust="spacingAndGlyphs">BAKER</text>
<text x="305.0" y="598.0" font-size="13.89" textLength="72.4" lengthAdjust="spacingAndGlyphs">(SA, 7.7%)</text>
<clipPath id="c3_2"><rect x="428.5" y="553.5" width="148.0" height="154.0"/></clipPath>
<g clip-path="url(#c3_2)">
<line x1="428.5" y1="645.9" x2="576.5" y2="645.9" stroke="#aaa" stroke-width="0.6" stroke-dasharray="1,1.7"/>
<g transform="matrix(1.2333 0 0 0.6160 428.50 645.90)">
<path d="M0 1l 1 1 1-2 1 0 1 0 1 0 1-2 1 0 1-1 1-1 1 3 1-1 1-1 1 2 1 0 1-3 1 0 1-2 1 0 1 3 1 0 1 2 1 1 1-2 1-2 1 2 1-5 1 0 1 1 1-1 1 2 1 0 1-2 1 2 1 2 1-1 1-3 1 2 1 1 1-2 1-3 1 3 1-1 1 4 1 1 1-2 1 1 1-3 1 4 1-1 1-1 1-1 1 1 1-3 1 1 1 4 1 0 1 0 1 2 1 1 1 1 1-4 1 1 1 0 1 0 1 1 1 1 1 1 1 0 1 1 1 0 1 0 1 3 1 1 1 0 1 0 1-3 1-1 1 1 1 1 1-2 1-2 1 1 1 0 1-2 1 0 1 0 1 0 1-3 1 1 1-1 1 3 1-2 1-1 1-1 1 0 1 3 1 0 1 0 1-4 1 1 1 3 1-3 1 1 1-2 1 0 1-1 1 1 1 1 1-2 1-1 1 2 1 0 1 3 1 0 1-4 1 3 1-1 1 3 1-1 1 2 0 36-1 1-1 1-1 4-1-1-1 3-1 1-1-1-1-1-1 3-1 2-1 4-1 0-1 3-1-4-1-1-1 2-1-3-1 5-1-3-1 0-1-3-1 6-1-1-1 0-1-1-1 0-1 0-1 1-1 0-1-6-1 2-1-2-1 2-1-3-1-1-1-1-1 0-1 1-1 1-1-4-1-3-1-5-1-2-1 0-1-2-1-2-1 2-1-2-1-3-1-1-1 2-1-1-1 0-1 4-1 2-1 1-1 6-1 1-1 2-1-2-1 1-1 2-1-2-1 0-1 0-1-3-1-2-1-1-1-5-1 4-1-1-1 4-1 0-1 1-1-5-1 3-1-3-1-2-1 2-1 0-1-5-1-5-1 2-1 3-1-1-1 2-1-4-1-3-1 2-1-1-1 2-1-1-1 0-1 2-1-3-1 1-1-2-1-4-1-1-1 0-1 1-1 2-1-1-1-3-1 1-1-4-1 0-1 2-1 0-1-1-1-2-1 2-1-4-1 0-1 1-1-1-1 2-1 0-1-1-1-2z" fill="#c2b27a"/>
</g><g transform="matrix(1.2333 0 0 0.6160 428.50 647.10)">
<path class="d1" d="M0 1l 1 1 1-2 1 0 1 0 1 0 1-2 1 0 1-1 1-1 1 3 1-1 1-1 1 2 1 0 1-3 1 0 1-2 1 0 1 3 1 0 1 2 1 1 1-2 1-2 1 2 1-5 1 0 1 1 1-1 1 2 1 0 1-2 1 2 1 2 1-1 1-3 1 2 1 1 1-2 1-3 1 3 1-1 1 4 1 1 1-2 1 1 1-3 1 4 1-1 1-1 1-1 1 1 1-3 1 1 1 4 1 0 1 0 1 2 1 1 1 1 1-4 1 1 1 0 1 0 1 1 1 1 1 1 1 0 1 1 1 0 1 0 1 3 1 1 1 0 1 0 1-3 1-1 1 1 1 1 1-2 1-2 1 1 1 0 1-2 1 0 1 0 1 0 1-3 1 1 1-1 1 3 1-2 1-1 1-1 1 0 1 3 1 0 1 0 1-4 1 1 1 3 1-3 1 1 1-2 1 0 1-1 1 1 1 1 1-2 1-1 1 2 1 0 1 3 1 0 1-4 1 3 1-1 1 3 1-1 1 2"/>
<path class="d1" d="M0 8l 1 2 1 1 1 0 1-2 1 1 1-1 1 0 1 4 1-2 1 2 1 1 1 0 1-2 1 0 1 4 1-1 1 3 1 1 1-2 1-1 1 0 1 1 1 4 1 2 1-1 1 3 1-2 1 0 1 1 1-2 1 1 1-2 1 3 1 4 1-2 1 1 1-3 1-2 1 5 1 5 1 0 1-2 1 2 1 3 1-3 1 5 1-1 1 0 1-4 1 1 1-4 1 5 1 1 1 2 1 3 1 0 1 0 1 2 1-2 1-1 1 2 1-2 1-1 1-6 1-1 1-2 1-4 1 0 1 1 1-2 1 1 1 3 1 2 1-2 1 2 1 2 1 0 1 2 1 5 1 3 1 4 1-1 1-1 1 0 1 1 1 1 1 3 1-2 1 2 1-2 1 6 1 0 1-1 1 0 1 0 1 1 1 0 1 1 1-6 1 3 1 0 1 3 1-5 1 3 1-2 1 1 1 4 1-3 1 0 1-4 1-2 1-3 1 1 1 1 1-1 1-3 1 1 1-4 1-1 1-1"/>
<path class="d2" d="M0 4l 1 2 1-1 1 0 1 0 1 0 1-1 1 3 1 1 1-1 1-2 1-1 1-1 1 2 1 2 1-1 1 0 1 0 1 0 1 2 1 1 1 2 1 0 1 0 1-2 1 0 1 0 1 0 1 1 1-2 1-1 1 0 1 1 1 1 1 0 1 1 1 1 1-1 1 2 1 0 1 0 1 1 1 0 1 1 1-1 1-1 1 0 1 3 1-1 1 1 1 0 1 2 1 1 1-1 1-2 1 0 1 3 1 1 1 0 1 1 1 1 1 0 1 0 1 0 1 0 1 0 1 0 1-2 1 0 1 1 1-1 1-1 1 2 1 0 1 1 1 3 1 0 1-1 1-1 1-1 1 2 1 0 1 0 1-1 1 1 1 2 1-2 1-1 1-2 1 1 1 0 1-1 1 0 1-2 1 3 1 3 1 2 1 0 1 0 1 0 1 0 1 1 1-2 1 0 1 2 1-1 1 0 1-1 1-2 1-3 1 0 1 1 1 0 1 0 1 0 1-1 1 0 1-1 1 0 1-1 1 1"/>
</g><g transform="matrix(1.2333 0 0 0.6160 428.50 645.90)">
<path class="s1 t" d="M0 1l 1 1 1-2 1 0 1 0 1 0 1-2 1 0 1-1 1-1 1 3 1-1 1-1 1 2 1 0 1-3 1 0 1-2 1 0 1 3 1 0 1 2 1 1 1-2 1-2 1 2 1-5 1 0 1 1 1-1 1 2 1 0 1-2 1 2 1 2 1-1 1-3 1 2 1 1 1-2 1-3 1 3 1-1 1 4 1 1 1-2 1 1 1-3 1 4 1-1 1-1 1-1 1 1 1-3 1 1 1 4 1 0 1 0 1 2 1 1 1 1 1-4 1 1 1 0 1 0 1 1 1 1 1 1 1 0 1 1 1 0 1 0 1 3 1 1 1 0 1 0 1-3 1-1 1 1 1 1 1-2 1-2 1 1 1 0 1-2 1 0 1 0 1 0 1-3 1 1 1-1 1 3 1-2 1-1 1-1 1 0 1 3 1 0 1 0 1-4 1 1 1 3 1-3 1 1 1-2 1 0 1-1 1 1 1 1 1-2 1-1 1 2 1 0 1 3 1 0 1-4 1 3 1-1 1 3 1-1 1 2"/>
<path class="s1 t" d="M0 8l 1 2 1 1 1 0 1-2 1 1 1-1 1 0 1 4 1-2 1 2 1 1 1 0 1-2 1 0 1 4 1-1 1 3 1 1 1-2 1-1 1 0 1 1 1 4 1 2 1-1 1 3 1-2 1 0 1 1 1-2 1 1 1-2 1 3 1 4 1-2 1 1 1-3 1-2 1 5 1 5 1 0 1-2 1 2 1 3 1-3 1 5 1-1 1 0 1-4 1 1 1-4 1 5 1 1 1 2 1 3 1 0 1 0 1 2 1-2 1-1 1 2 1-2 1-1 1-6 1-1 1-2 1-4 1 0 1 1 1-2 1 1 1 3 1 2 1-2 1 2 1 2 1 0 1 2 1 5 1 3 1 4 1-1 1-1 1 0 1 1 1 1 1 3 1-2 1 2 1-2 1 6 1 0 1-1 1 0 1 0 1 1 1 0 1 1 1-6 1 3 1 0 1 3 1-5 1 3 1-2 1 1 1 4 1-3 1 0 1-4 1-2 1-3 1 1 1 1 1-1 1-3 1 1 1-4 1-1 1-1"/>
<path class="s2 t" d="M0 4l 1 2 1-1 1 0 1 0 1 0 1-1 1 3 1 1 1-1 1-2 1-1 1-1 1 2 1 2 1-1 1 0 1 0 1 0 1 2 1 1 1 2 1 0 1 0 1-2 1 0 1 0 1 0 1 1 1-2 1-1 1 0 1 1 1 1 1 0 1 1 1 1 1-1 1 2 1 0 1 0 1 1 1 0 1 1 1-1 1-1 1 0 1 3 1-1 1 1 1 0 1 2 1 1 1-1 1-2 1 0 1 3 1 1 1 0 1 1 1 1 1 0 1 0 1 0 1 0 1 0 1 0 1-2 1 0 1 1 1-1 1-1 1 2 1 0 1 1 1 3 1 0 1-1 1-1 1-1 1 2 1 0 1 0 1-1 1 1 1 2 1-2 1-1 1-2 1 1 1 0 1-1 1 0 1-2 1 3 1 3 1 2 1 0 1 0 1 0 1 0 1 1 1-2 1 0 1 2 1-1 1 0 1-1 1-2 1-3 1 0 1 1 1 0 1 0 1 0 1-1 1 0 1-1 1 0 1-1 1 1"/>
</g></g>
<rect x="428.5" y="553.5" width="148.0" height="154.0" fill="none" stroke="#000" stroke-width="1.1"/>
<path d="M423.6 584.5H428.5 M423.6 645.5H428.5 M423.6 707.5H428.5 M453.5 707.5V712.4 M514.5 707.5V712.4 M576.5 707.5V712.4" stroke="#000" stroke-width="1.1" fill="none"/>
<rect x="484.8" y="560.6" width="84.8" height="45.7" rx="4" ry="4" fill="#fff" fill-opacity="0.8" stroke="#cccccc" stroke-width="1.2"/>
<text x="489.2" y="577.2" font-size="13.89" textLength="63.4" lengthAdjust="spacingAndGlyphs">YANGTZE</text>
<text x="489.2" y="598.0" font-size="13.89" textLength="72.2" lengthAdjust="spacingAndGlyphs">(AS, 0.1%)</text>
<clipPath id="c3_3"><rect x="612.5" y="553.5" width="147.0" height="154.0"/></clipPath>
<g clip-path="url(#c3_3)">
<line x1="612.5" y1="645.9" x2="759.5" y2="645.9" stroke="#aaa" stroke-width="0.6" stroke-dasharray="1,1.7"/>
<g transform="matrix(1.2250 0 0 0.6160 612.50 645.90)">
<path d="M0 -14l 1 1 1 2 1 1 1-1 1 0 1 0 1 2 1-1 1 3 1 0 1-2 1 3 1-6 1 2 1 2 1-1 1 1 1-3 1-3 1 0 1 2 1 2 1-2 1-2 1 1 1 0 1 3 1-3 1 2 1 1 1 0 1 1 1 1 1-1 1 4 1-1 1-3 1 0 1 0 1-3 1 3 1-3 1 4 1-2 1 2 1 0 1 1 1-2 1-2 1 3 1 2 1-3 1 2 1 0 1-2 1 0 1-2 1-1 1-1 1 1 1-2 1-2 1 4 1-3 1-1 1-2 1-1 1-1 1 0 1 1 1 3 1 2 1-2 1 3 1 0 1-4 1 1 1 2 1 1 1-2 1-4 1-2 1 1 1-3 1 3 1 1 1 1 1-4 1 3 1 3 1 3 1 0 1 1 1-2 1-3 1-4 1 0 1-1 1 2 1 0 1 2 1-4 1 2 1 0 1-2 1 1 1-4 1-1 1 0 1-3 1 2 1-1 1 0 1 4 1-1 1 0 1 2 1-1 1 0 1 4 0 57-1 0-1 0-1 1-1-2-1 0-1 1-1-1-1 1-1 4-1-2-1 4-1-1-1-1-1-1-1 0-1 1-1 2-1-2-1 0-1 1-1-1-1-2-1 1-1 0-1 1-1-2-1-1-1 1-1 2-1 0-1-3-1 0-1-1-1 1-1 3-1-2-1 2-1 4-1-2-1 2-1 0-1-4-1 1-1-1-1 1-1-1-1-3-1-1-1-2-1 0-1 1-1-1-1 0-1-2-1-1-1 3-1 2-1-2-1-4-1-2-1 0-1 3-1-1-1-3-1 1-1 0-1 0-1-1-1-1-1 0-1 3-1-2-1 0-1 4-1 3-1 1-1-2-1-2-1-1-1 1-1-2-1-2-1 0-1 0-1-6-1 0-1 2-1 1-1 2-1-4-1-2-1 0-1-2-1-6-1 1-1-1-1-1-1 2-1-4-1-2-1-1-1 3-1 1-1 0-1 6-1-3-1 2-1 1-1-2-1 3-1 2-1-3-1-3-1-3-1 0-1-2-1-1-1-1-1-1-1-1z" fill="#c2b27a"/>
</g><g transform="matrix(1.2250 0 0 0.6160 612.50 647.10)">
<path class="d1" d="M0 -14l 1 1 1 2 1 1 1-1 1 0 1 0 1 2 1-1 1 3 1 0 1-2 1 3 1-6 1 2 1 2 1-1 1 1 1-3 1-3 1 0 1 2 1 2 1-2 1-2 1 1 1 0 1 3 1-3 1 2 1 1 1 0 1 1 1 1 1-1 1 4 1-1 1-3 1 0 1 0 1-3 1 3 1-3 1 4 1-2 1 2 1 0 1 1 1-2 1-2 1 3 1 2 1-3 1 2 1 0 1-2 1 0 1-2 1-1 1-1 1 1 1-2 1-2 1 4 1-3 1-1 1-2 1-1 1-1 1 0 1 1 1 3 1 2 1-2 1 3 1 0 1-4 1 1 1 2 1 1 1-2 1-4 1-2 1 1 1-3 1 3 1 1 1 1 1-4 1 3 1 3 1 3 1 0 1 1 1-2 1-3 1-4 1 0 1-1 1 2 1 0 1 2 1-4 1 2 1 0 1-2 1 1 1-4 1-1 1 0 1-3 1 2 1-1 1 0 1 4 1-1 1 0 1 2 1-1 1 0 1 4"/>
<path class="d1" d="M0 5l 1 1 1 1 1 1 1 1 1 2 1 0 1 3 1 3 1 3 1-2 1-3 1 2 1-1 1-2 1 3 1-6 1 0 1-1 1-3 1 1 1 2 1 4 1-2 1 1 1 1 1-1 1 6 1 2 1 0 1 2 1 4 1-2 1-1 1-2 1 0 1 6 1 0 1 0 1 2 1 2 1-1 1 1 1 2 1 2 1-1 1-3 1-4 1 0 1 2 1-3 1 0 1 1 1 1 1 0 1 0 1-1 1 3 1 1 1-3 1 0 1 2 1 4 1 2 1-2 1-3 1 1 1 2 1 0 1 1 1-1 1 0 1 2 1 1 1 3 1 1 1-1 1 1 1-1 1 4 1 0 1-2 1 2 1-4 1-2 1 2 1-3 1-1 1 1 1 0 1 3 1 0 1-2 1-1 1 1 1 2 1-1 1 0 1-1 1 2 1 1 1-1 1 0 1 2 1-2 1-1 1 0 1 1 1 1 1 1 1-4 1 2 1-4 1-1 1 1 1-1 1 0 1 2 1-1 1 0 1 0"/>
<path class="d2" d="M0 -1l 1 1 1 0 1 1 1-1 1 1 1-1 1 0 1 0 1 1 1 0 1 2 1-1 1 1 1 1 1-1 1 0 1 1 1-1 1 2 1 2 1-1 1 2 1-3 1 1 1 1 1-2 1 0 1-1 1 2 1 1 1-1 1 0 1 0 1 1 1 1 1 0 1-3 1-1 1 2 1-1 1 0 1 0 1-1 1 1 1-1 1 1 1 0 1 0 1 1 1 2 1 0 1 0 1 0 1 1 1 0 1-1 1-1 1 2 1 2 1-1 1 1 1 0 1-3 1 1 1 0 1-2 1 1 1 1 1 0 1 0 1 1 1 2 1-2 1-2 1-1 1-2 1 0 1 1 1-1 1-2 1 0 1 1 1 1 1 2 1 0 1 0 1 0 1-2 1-2 1 0 1 2 1-1 1 1 1 3 1 1 1-3 1 0 1-1 1-1 1 1 1-1 1 2 1-2 1 0 1 3 1-2 1 0 1 0 1-1 1 2 1 0 1 0 1-2 1 1 1-1 1 1 1 0 1 3 1 1 1-2"/>
</g><g transform="matrix(1.2250 0 0 0.6160 612.50 645.90)">
<path class="s1 t" d="M0 -14l 1 1 1 2 1 1 1-1 1 0 1 0 1 2 1-1 1 3 1 0 1-2 1 3 1-6 1 2 1 2 1-1 1 1 1-3 1-3 1 0 1 2 1 2 1-2 1-2 1 1 1 0 1 3 1-3 1 2 1 1 1 0 1 1 1 1 1-1 1 4 1-1 1-3 1 0 1 0 1-3 1 3 1-3 1 4 1-2 1 2 1 0 1 1 1-2 1-2 1 3 1 2 1-3 1 2 1 0 1-2 1 0 1-2 1-1 1-1 1 1 1-2 1-2 1 4 1-3 1-1 1-2 1-1 1-1 1 0 1 1 1 3 1 2 1-2 1 3 1 0 1-4 1 1 1 2 1 1 1-2 1-4 1-2 1 1 1-3 1 3 1 1 1 1 1-4 1 3 1 3 1 3 1 0 1 1 1-2 1-3 1-4 1 0 1-1 1 2 1 0 1 2 1-4 1 2 1 0 1-2 1 1 1-4 1-1 1 0 1-3 1 2 1-1 1 0 1 4 1-1 1 0 1 2 1-1 1 0 1 4"/>
<path class="s1 t" d="M0 5l 1 1 1 1 1 1 1 1 1 2 1 0 1 3 1 3 1 3 1-2 1-3 1 2 1-1 1-2 1 3 1-6 1 0 1-1 1-3 1 1 1 2 1 4 1-2 1 1 1 1 1-1 1 6 1 2 1 0 1 2 1 4 1-2 1-1 1-2 1 0 1 6 1 0 1 0 1 2 1 2 1-1 1 1 1 2 1 2 1-1 1-3 1-4 1 0 1 2 1-3 1 0 1 1 1 1 1 0 1 0 1-1 1 3 1 1 1-3 1 0 1 2 1 4 1 2 1-2 1-3 1 1 1 2 1 0 1 1 1-1 1 0 1 2 1 1 1 3 1 1 1-1 1 1 1-1 1 4 1 0 1-2 1 2 1-4 1-2 1 2 1-3 1-1 1 1 1 0 1 3 1 0 1-2 1-1 1 1 1 2 1-1 1 0 1-1 1 2 1 1 1-1 1 0 1 2 1-2 1-1 1 0 1 1 1 1 1 1 1-4 1 2 1-4 1-1 1 1 1-1 1 0 1 2 1-1 1 0 1 0"/>
<path class="s2 t" d="M0 -1l 1 1 1 0 1 1 1-1 1 1 1-1 1 0 1 0 1 1 1 0 1 2 1-1 1 1 1 1 1-1 1 0 1 1 1-1 1 2 1 2 1-1 1 2 1-3 1 1 1 1 1-2 1 0 1-1 1 2 1 1 1-1 1 0 1 0 1 1 1 1 1 0 1-3 1-1 1 2 1-1 1 0 1 0 1-1 1 1 1-1 1 1 1 0 1 0 1 1 1 2 1 0 1 0 1 0 1 1 1 0 1-1 1-1 1 2 1 2 1-1 1 1 1 0 1-3 1 1 1 0 1-2 1 1 1 1 1 0 1 0 1 1 1 2 1-2 1-2 1-1 1-2 1 0 1 1 1-1 1-2 1 0 1 1 1 1 1 2 1 0 1 0 1 0 1-2 1-2 1 0 1 2 1-1 1 1 1 3 1 1 1-3 1 0 1-1 1-1 1 1 1-1 1 2 1-2 1 0 1 3 1-2 1 0 1 0 1-1 1 2 1 0 1 0 1-2 1 1 1-1 1 1 1 0 1 3 1 1 1-2"/>
</g></g>
<rect x="612.5" y="553.5" width="147.0" height="154.0" fill="none" stroke="#000" stroke-width="1.1"/>
<path d="M607.6 584.5H612.5 M607.6 645.5H612.5 M607.6 707.5H612.5 M637.5 707.5V712.4 M698.5 707.5V712.4 M759.5 707.5V712.4" stroke="#000" stroke-width="1.1" fill="none"/>
<rect x="667.8" y="560.6" width="84.8" height="45.7" rx="4" ry="4" fill="#fff" fill-opacity="0.8" stroke="#cccccc" stroke-width="1.2"/>
<text x="672.2" y="577.2" font-size="13.89" textLength="65.7" lengthAdjust="spacingAndGlyphs">SALWEEN</text>
<text x="672.2" y="598.0" font-size="13.89" textLength="72.2" lengthAdjust="spacingAndGlyphs">(AS, 0.9%)</text>
<clipPath id="c4_0"><rect x="61.5" y="734.5" width="147.0" height="155.0"/></clipPath>
<g clip-path="url(#c4_0)">
<line x1="61.5" y1="827.5" x2="208.5" y2="827.5" stroke="#aaa" stroke-width="0.6" stroke-dasharray="1,1.7"/>
<g transform="matrix(1.2250 0 0 0.6200 61.50 827.50)">
<path d="M0 -8l 1 0 1 0 1-2 1 2 1-3 1 3 1-1 1 4 1-1 1-4 1 1 1 0 1 2 1 2 1 4 1-4 1 3 1 2 1-1 1 1 1-3 1 2 1 0 1 2 1 0 1-3 1 4 1-1 1-1 1-2 1 7 1-1 1 2 1 1 1 0 1 1 1-2 1 1 1-3 1-2 1 2 1-2 1 2 1-3 1-3 1-1 1 1 1-2 1 3 1-1 1 2 1 0 1-1 1 2 1 2 1 0 1 2 1 2 1 0 1 0 1 1 1 0 1 1 1 2 1 4 1-2 1 0 1 1 1 0 1 3 1-3 1-1 1 2 1-3 1 4 1-2 1 3 1 0 1 1 1 6 1 3 1-4 1-1 1 1 1 2 1-2 1 3 1-1 1 2 1-3 1 2 1-1 1-2 1 3 1 2 1-1 1-1 1 5 1 2 1 0 1 1 1 0 1-1 1-4 1-4 1-4 1 0 1-2 1-3 1 5 1-3 1 3 1-3 1 2 1 3 1-1 1-2 1-2 1 2 1 0 0 42-1-4-1 0-1-2-1 1-1 3-1 3-1-4-1 0-1-1-1 4-1-5-1-1-1-3-1 1-1 2-1 2-1 0-1 0-1 0-1 0-1-4-1 1-1-2-1 4-1-4-1-1-1-3-1-4-1 2-1 0-1-1-1-2-1 4-1 0-1 3-1-2-1 0-1-3-1-4-1-1-1 0-1 2-1 1-1 3-1-6-1 0-1 1-1-2-1 3-1-4-1-2-1 2-1 0-1 1-1-1-1 0-1-2-1-1-1-1-1-3-1-1-1 3-1 2-1-1-1-3-1-1-1 1-1-2-1 2-1-3-1 0-1 2-1 2-1-3-1-3-1-1-1 0-1 1-1-3-1-1-1-5-1 4-1 0-1-3-1 0-1-1-1-3-1-3-1-1-1 5-1 1-1 1-1 0-1-1-1-1-1-2-1-5-1 3-1-2-1-1-1 1-1 0-1 2-1-1-1-3-1-4-1 1-1-1-1-1-1 0-1 2-1-3-1 1-1 0-1-3-1 3-1 1-1 0-1 1-1 0z" fill="#c2b27a"/>
</g><g transform="matrix(1.2250 0 0 0.6200 61.50 828.70)">
<path class="d1" d="M0 -8l 1 0 1 0 1-2 1 2 1-3 1 3 1-1 1 4 1-1 1-4 1 1 1 0 1 2 1 2 1 4 1-4 1 3 1 2 1-1 1 1 1-3 1 2 1 0 1 2 1 0 1-3 1 4 1-1 1-1 1-2 1 7 1-1 1 2 1 1 1 0 1 1 1-2 1 1 1-3 1-2 1 2 1-2 1 2 1-3 1-3 1-1 1 1 1-2 1 3 1-1 1 2 1 0 1-1 1 2 1 2 1 0 1 2 1 2 1 0 1 0 1 1 1 0 1 1 1 2 1 4 1-2 1 0 1 1 1 0 1 3 1-3 1-1 1 2 1-3 1 4 1-2 1 3 1 0 1 1 1 6 1 3 1-4 1-1 1 1 1 2 1-2 1 3 1-1 1 2 1-3 1 2 1-1 1-2 1 3 1 2 1-1 1-1 1 5 1 2 1 0 1 1 1 0 1-1 1-4 1-4 1-4 1 0 1-2 1-3 1 5 1-3 1 3 1-3 1 2 1 3 1-1 1-2 1-2 1 2 1 0"/>
<path class="d1" d="M0 5l 1 0 1-1 1 0 1-1 1-3 1 3 1 0 1-1 1 3 1-2 1 0 1 1 1 1 1-1 1 4 1 3 1 1 1-2 1 0 1-1 1 1 1 2 1-3 1 5 1 2 1 1 1 1 1 0 1-1 1-1 1-5 1 1 1 3 1 3 1 1 1 0 1 3 1 0 1-4 1 5 1 1 1 3 1-1 1 0 1 1 1 3 1 3 1-2 1-2 1 0 1 3 1-2 1 2 1-1 1 1 1 3 1 1 1-2 1-3 1 1 1 3 1 1 1 1 1 2 1 0 1 1 1-1 1 0 1-2 1 2 1 4 1-3 1 2 1-1 1 0 1 6 1-3 1-1 1-2 1 0 1 1 1 4 1 3 1 0 1 2 1-3 1 0 1-4 1 2 1 1 1 0 1-2 1 4 1 3 1 1 1 4 1-4 1 2 1-1 1 4 1 0 1 0 1 0 1 0 1-2 1-2 1-1 1 3 1 1 1 5 1-4 1 1 1 0 1 4 1-3 1-3 1-1 1 2 1 0 1 4"/>
<path class="d2" d="M0 -3l 1 0 1 1 1 0 1 1 1 1 1-1 1 2 1-1 1-2 1 1 1-1 1 3 1 1 1 0 1 0 1 1 1 0 1 1 1 1 1 1 1-2 1 2 1 3 1-1 1-2 1 2 1 2 1-1 1 1 1 1 1 1 1 0 1 0 1 0 1 0 1 0 1 0 1 0 1 0 1 2 1-3 1 1 1 3 1-1 1 1 1 2 1 0 1 1 1 1 1 1 1-1 1 0 1 0 1 1 1 1 1-2 1 2 1 1 1-2 1 1 1-3 1 0 1 0 1 2 1 0 1 3 1 0 1 2 1 2 1 2 1 0 1-2 1-1 1 1 1-1 1-1 1 1 1 1 1-1 1 0 1 2 1 0 1 0 1 1 1-2 1-1 1 0 1 0 1 1 1 2 1-1 1 1 1 2 1 1 1 1 1-2 1 2 1 2 1-3 1 0 1 0 1 0 1-1 1 1 1 1 1 1 1-2 1 0 1-1 1 1 1 1 1-1 1 1 1 0 1 0 1 1 1 2 1 0 1-1 1 1"/>
</g><g transform="matrix(1.2250 0 0 0.6200 61.50 827.50)">
<path class="s1 t" d="M0 -8l 1 0 1 0 1-2 1 2 1-3 1 3 1-1 1 4 1-1 1-4 1 1 1 0 1 2 1 2 1 4 1-4 1 3 1 2 1-1 1 1 1-3 1 2 1 0 1 2 1 0 1-3 1 4 1-1 1-1 1-2 1 7 1-1 1 2 1 1 1 0 1 1 1-2 1 1 1-3 1-2 1 2 1-2 1 2 1-3 1-3 1-1 1 1 1-2 1 3 1-1 1 2 1 0 1-1 1 2 1 2 1 0 1 2 1 2 1 0 1 0 1 1 1 0 1 1 1 2 1 4 1-2 1 0 1 1 1 0 1 3 1-3 1-1 1 2 1-3 1 4 1-2 1 3 1 0 1 1 1 6 1 3 1-4 1-1 1 1 1 2 1-2 1 3 1-1 1 2 1-3 1 2 1-1 1-2 1 3 1 2 1-1 1-1 1 5 1 2 1 0 1 1 1 0 1-1 1-4 1-4 1-4 1 0 1-2 1-3 1 5 1-3 1 3 1-3 1 2 1 3 1-1 1-2 1-2 1 2 1 0"/>
<path class="s1 t" d="M0 5l 1 0 1-1 1 0 1-1 1-3 1 3 1 0 1-1 1 3 1-2 1 0 1 1 1 1 1-1 1 4 1 3 1 1 1-2 1 0 1-1 1 1 1 2 1-3 1 5 1 2 1 1 1 1 1 0 1-1 1-1 1-5 1 1 1 3 1 3 1 1 1 0 1 3 1 0 1-4 1 5 1 1 1 3 1-1 1 0 1 1 1 3 1 3 1-2 1-2 1 0 1 3 1-2 1 2 1-1 1 1 1 3 1 1 1-2 1-3 1 1 1 3 1 1 1 1 1 2 1 0 1 1 1-1 1 0 1-2 1 2 1 4 1-3 1 2 1-1 1 0 1 6 1-3 1-1 1-2 1 0 1 1 1 4 1 3 1 0 1 2 1-3 1 0 1-4 1 2 1 1 1 0 1-2 1 4 1 3 1 1 1 4 1-4 1 2 1-1 1 4 1 0 1 0 1 0 1 0 1-2 1-2 1-1 1 3 1 1 1 5 1-4 1 1 1 0 1 4 1-3 1-3 1-1 1 2 1 0 1 4"/>
<path class="s2 t" d="M0 -3l 1 0 1 1 1 0 1 1 1 1 1-1 1 2 1-1 1-2 1 1 1-1 1 3 1 1 1 0 1 0 1 1 1 0 1 1 1 1 1 1 1-2 1 2 1 3 1-1 1-2 1 2 1 2 1-1 1 1 1 1 1 1 1 0 1 0 1 0 1 0 1 0 1 0 1 0 1 0 1 2 1-3 1 1 1 3 1-1 1 1 1 2 1 0 1 1 1 1 1 1 1-1 1 0 1 0 1 1 1 1 1-2 1 2 1 1 1-2 1 1 1-3 1 0 1 0 1 2 1 0 1 3 1 0 1 2 1 2 1 2 1 0 1-2 1-1 1 1 1-1 1-1 1 1 1 1 1-1 1 0 1 2 1 0 1 0 1 1 1-2 1-1 1 0 1 0 1 1 1 2 1-1 1 1 1 2 1 1 1 1 1-2 1 2 1 2 1-3 1 0 1 0 1 0 1-1 1 1 1 1 1 1 1-2 1 0 1-1 1 1 1 1 1-1 1 1 1 0 1 0 1 1 1 2 1 0 1-1 1 1"/>
</g></g>
<rect x="61.5" y="734.5" width="147.0" height="155.0" fill="none" stroke="#000" stroke-width="1.1"/>
<path d="M56.6 765.5H61.5 M56.6 827.5H61.5 M56.6 889.5H61.5 M86.5 889.5V894.4 M86.5 729.6V734.5 M147.5 889.5V894.4 M147.5 729.6V734.5 M208.5 889.5V894.4 M208.5 729.6V734.5" stroke="#000" stroke-width="1.1" fill="none"/>
<text x="51.8" y="771.1" text-anchor="end" font-size="16.67" textLength="10.3" lengthAdjust="spacingAndGlyphs">1</text>
<text x="51.8" y="833.1" text-anchor="end" font-size="16.67" textLength="10.3" lengthAdjust="spacingAndGlyphs">0</text>
<text x="51.8" y="895.1" text-anchor="end" font-size="16.67" textLength="23.8" lengthAdjust="spacingAndGlyphs">−1</text>
<text transform="translate(17.2,812.5) rotate(-90)" text-anchor="middle" font-size="13.89" textLength="106.9" lengthAdjust="spacingAndGlyphs">Roll. mean SPEI</text>
<text x="86.0" y="909.0" text-anchor="middle" font-size="13.89" textLength="33.9" lengthAdjust="spacingAndGlyphs">2000</text>
<text x="147.2" y="909.0" text-anchor="middle" font-size="13.89" textLength="33.9" lengthAdjust="spacingAndGlyphs">2050</text>
<text x="208.5" y="909.0" text-anchor="middle" font-size="13.89" textLength="33.9" lengthAdjust="spacingAndGlyphs">2100</text>
<text x="135.0" y="929.0" text-anchor="middle" font-size="13.89" textLength="28.5" lengthAdjust="spacingAndGlyphs">Year</text>
<rect x="116.4" y="741.6" width="86.3" height="45.7" rx="4" ry="4" fill="#fff" fill-opacity="0.8" stroke="#cccccc" stroke-width="1.2"/>
<text x="120.9" y="758.2" font-size="13.89" textLength="71.9" lengthAdjust="spacingAndGlyphs">COLUMBIA</text>
<text x="120.9" y="779.0" font-size="13.89" textLength="73.7" lengthAdjust="spacingAndGlyphs">(NA, 0.3%)</text>
<clipPath id="c4_1"><rect x="245.5" y="734.5" width="147.0" height="155.0"/></clipPath>
<g clip-path="url(#c4_1)">
<line x1="245.5" y1="827.5" x2="392.5" y2="827.5" stroke="#aaa" stroke-width="0.6" stroke-dasharray="1,1.7"/>
<g transform="matrix(1.2250 0 0 0.6200 245.50 827.50)">
<path d="M0 -15l 1-2 1 0 1 1 1 0 1-2 1-2 1 0 1-2 1 2 1-4 1 1 1-1 1 0 1 2 1-4 1 2 1 1 1-1 1-2 1-1 1 0 1 3 1 1 1 0 1-2 1 0 1-2 1 5 1-3 1 0 1 2 1 2 1-5 1 2 1 0 1-4 1 1 1 0 1 2 1-1 1-1 1 3 1-1 1-2 1 1 1-2 1-3 1 0 1 3 1-4 1 4 1 0 1 1 1 1 1 4 1 4 1 3 1 2 1-4 1 4 1-2 1-2 1 2 1-2 1-4 1-1 1 1 1-2 1 0 1-2 1 3 1-1 1-2 1 1 1-2 1 3 1-1 1-3 1 1 1 0 1 3 1-2 1 0 1 1 1 2 1 1 1-1 1-3 1 1 1 3 1-3 1 6 1 2 1 3 1-1 1 3 1-1 1-1 1 4 1-2 1-2 1-2 1 0 1-1 1-2 1-3 1-1 1 0 1 1 1 3 1-1 1 0 1 0 1 4 1 2 1-1 1 2 1 3 1 7 1 3 0 60-1 0-1-4-1 3-1-2-1 2-1 0-1 2-1-2-1 0-1 2-1-2-1 2-1-1-1 2-1-3-1 1-1-3-1-2-1 0-1-3-1-2-1 2-1 2-1 2-1-3-1 2-1 1-1-2-1 0-1-6-1 4-1-2-1-1-1 2-1 0-1-1-1 1-1 3-1-2-1 1-1-4-1 2-1-3-1 0-1 1-1 0-1-1-1-1-1 1-1-1-1-4-1 1-1 6-1-1-1-1-1-1-1-1-1-4-1 0-1-3-1-2-1-2-1-5-1-3-1 0-1 0-1-2-1-2-1 1-1 0-1-3-1 0-1 1-1 0-1-3-1-1-1 4-1-2-1-4-1 0-1 2-1-1-1 1-1-2-1 0-1-1-1-1-1-3-1 3-1-1-1 0-1-1-1 0-1-1-1 0-1-3-1-1-1 1-1-4-1 1-1-1-1 1-1 0-1 2-1 0-1 1-1-2-1 1-1 3-1-1-1-3-1 2-1-3-1 0-1 0-1-2-1-1-1 1-1-1-1-1z" fill="#9999cc"/>
<path d="M0 -13l 1-1 1-1 1 2 1 0 1-1 1 0 1-1 1 0 1-1 1 3 1-3 1-1 1 4 1-1 1-2 1-3 1 0 1 5 1-4 1-1 1 3 1-3 1 1 1-2 1 3 1 3 1-1 1-2 1-1 1 2 1 0 1 0 1-2 1-1 1 3 1 1 1 0 1-1 1 1 1-2 1 4 1 0 1 1 1-2 1-1 1 2 1-5 1 3 1 3 1 0 1-2 1 4 1-2 1-1 1 0 1-2 1 2 1 2 1 2 1 1 1 0 1 1 1-5 1-1 1-1 1-7 1 2 1-1 1 3 1 0 1-3 1 0 1 3 1 0 1 2 1-3 1 1 1 2 1 1 1 0 1 4 1 3 1-2 1 0 1-2 1 1 1-1 1 0 1-1 1 2 1-1 1 2 1 0 1 1 1 4 1-1 1 3 1 0 1 3 1-1 1 3 1 0 1-2 1-2 1-2 1-4 1-1 1 1 1-3 1-1 1 2 1 0 1 2 1 4 1 0 1 0 1-1 1 1 1 1 1 3 0 77-1-1-1 0-1 0-1-1-1-1-1 1-1 0-1 4-1-4-1 2-1 0-1 0-1-2-1 0-1-4-1-2-1-2-1 1-1 0-1 0-1-2-1 1-1 2-1-1-1-4-1-1-1-1-1 0-1 3-1 2-1 0-1 2-1 0-1 0-1 0-1 1-1 2-1-1-1 3-1-2-1 2-1-1-1-3-1 1-1-2-1 0-1-1-1 1-1-1-1 0-1-1-1-2-1 0-1-1-1-1-1-5-1 0-1-2-1 0-1-3-1 1-1 1-1-1-1-1-1 1-1 0-1-4-1 0-1 0-1 2-1-1-1-5-1-1-1 2-1-4-1-4-1-1-1 1-1-5-1-1-1 0-1-1-1 0-1-2-1 2-1 0-1-1-1 2-1-1-1 1-1-1-1-2-1-4-1 0-1-4-1-3-1 1-1-1-1 1-1-4-1-1-1 1-1 1-1-2-1 0-1 0-1-2-1 0-1-2-1-2-1 0-1 0-1-2-1-2-1-3-1 1-1 2-1 0-1-1-1-1z" fill="#ffd700" fill-opacity="0.4"/>
<path class="d1" d="M0 -13l 1-1 1-1 1 2 1 0 1-1 1 0 1-1 1 0 1-1 1 3 1-3 1-1 1 4 1-1 1-2 1-3 1 0 1 5 1-4 1-1 1 3 1-3 1 1 1-2 1 3 1 3 1-1 1-2 1-1 1 2 1 0 1 0 1-2 1-1 1 3 1 1 1 0 1-1 1 1 1-2 1 4 1 0 1 1 1-2 1-1 1 2 1-5 1 3 1 3 1 0 1-2 1 4 1-2 1-1 1 0 1-2 1 2 1 2 1 2 1 1 1 0 1 1 1-5 1-1 1-1 1-7 1 2 1-1 1 3 1 0 1-3 1 0 1 3 1 0 1 2 1-3 1 1 1 2 1 1 1 0 1 4 1 3 1-2 1 0 1-2 1 1 1-1 1 0 1-1 1 2 1-1 1 2 1 0 1 1 1 4 1-1 1 3 1 0 1 3 1-1 1 3 1 0 1-2 1-2 1-2 1-4 1-1 1 1 1-3 1-1 1 2 1 0 1 2 1 4 1 0 1 0 1-1 1 1 1 1 1 3"/>
<path class="d1" d="M0 4l 1 1 1 1 1 0 1-2 1-1 1 3 1 2 1 2 1 0 1 0 1 2 1 2 1 0 1 2 1 0 1 0 1 2 1-1 1-1 1 1 1 4 1-1 1 1 1-1 1 3 1 4 1 0 1 4 1 2 1 1 1-1 1 1 1-2 1 1 1 0 1-2 1 2 1 0 1 1 1 0 1 1 1 5 1-1 1 1 1 4 1 4 1-2 1 1 1 5 1 1 1-2 1 0 1 0 1 4 1 0 1-1 1 1 1 1 1-1 1-1 1 3 1 0 1 2 1 0 1 5 1 1 1 1 1 0 1 2 1 1 1 0 1 1 1-1 1 1 1 0 1 2 1-1 1 3 1 1 1-2 1 2 1-3 1 1 1-2 1-1 1 0 1 0 1 0 1-2 1 0 1-2 1-3 1 0 1 1 1 1 1 4 1 1 1-2 1-1 1 2 1 0 1 0 1-1 1 2 1 2 1 4 1 0 1 2 1 0 1 0 1-2 1 4 1-4 1 0 1-1 1 1 1 1 1 0 1 0 1 1"/>
<path class="d2" d="M0 -3l 1 0 1 0 1 0 1 3 1 0 1-1 1 1 1-1 1 1 1 0 1 2 1-2 1 3 1 0 1 0 1-1 1 1 1-1 1 0 1 2 1 3 1-3 1 2 1-1 1 0 1 3 1 1 1-1 1 0 1-1 1-1 1 1 1 2 1 1 1 2 1 1 1 0 1 2 1-1 1 0 1-1 1 0 1-1 1 0 1 3 1-1 1 1 1 1 1 2 1 1 1-1 1 1 1 2 1 0 1-1 1 1 1-1 1 0 1 0 1 0 1 1 1 1 1-1 1-1 1 2 1 1 1-2 1 1 1 0 1 1 1 0 1-1 1 1 1 2 1 1 1 0 1 1 1 2 1 1 1 1 1-1 1 1 1 1 1-2 1 1 1 0 1-2 1 3 1 0 1 1 1 2 1-1 1 1 1 2 1-1 1 0 1 0 1 1 1 0 1 0 1-1 1 1 1-2 1 3 1 0 1 1 1 0 1 0 1-2 1 1 1 1 1-1 1-1 1 1 1 2 1 1 1 0 1-2 1 0 1 0"/>
<path class="s1" d="M0 -15l 1-2 1 0 1 1 1 0 1-2 1-2 1 0 1-2 1 2 1-4 1 1 1-1 1 0 1 2 1-4 1 2 1 1 1-1 1-2 1-1 1 0 1 3 1 1 1 0 1-2 1 0 1-2 1 5 1-3 1 0 1 2 1 2 1-5 1 2 1 0 1-4 1 1 1 0 1 2 1-1 1-1 1 3 1-1 1-2 1 1 1-2 1-3 1 0 1 3 1-4 1 4 1 0 1 1 1 1 1 4 1 4 1 3 1 2 1-4 1 4 1-2 1-2 1 2 1-2 1-4 1-1 1 1 1-2 1 0 1-2 1 3 1-1 1-2 1 1 1-2 1 3 1-1 1-3 1 1 1 0 1 3 1-2 1 0 1 1 1 2 1 1 1-1 1-3 1 1 1 3 1-3 1 6 1 2 1 3 1-1 1 3 1-1 1-1 1 4 1-2 1-2 1-2 1 0 1-1 1-2 1-3 1-1 1 0 1 1 1 3 1-1 1 0 1 0 1 4 1 2 1-1 1 2 1 3 1 7 1 3"/>
<path class="s1" d="M0 2l 1 1 1 1 1-1 1 1 1 2 1 0 1 0 1 3 1-2 1 3 1 1 1-3 1-1 1 2 1-1 1 0 1-2 1 0 1-1 1 1 1-1 1 4 1-1 1 1 1 3 1 0 1 1 1 0 1 1 1 0 1 1 1-3 1 3 1 1 1 1 1 0 1 2 1-1 1 1 1-2 1 0 1 4 1 2 1-4 1 1 1 3 1 0 1-1 1 0 1 3 1 0 1-1 1 2 1 2 1 0 1 0 1 3 1 5 1 2 1 2 1 3 1 0 1 4 1 1 1 1 1 1 1 1 1-6 1-1 1 4 1 1 1-1 1 1 1 1 1 0 1-1 1 0 1 3 1-2 1 4 1-1 1 2 1-3 1-1 1 1 1 0 1-2 1 1 1 2 1-4 1 6 1 0 1 2 1-1 1-2 1 3 1-2 1-2 1-2 1 2 1 3 1 0 1 2 1 3 1-1 1 3 1-2 1 1 1-2 1 2 1-2 1 0 1 2 1-2 1 0 1-2 1 2 1-3 1 4 1 0"/>
<path class="s2" d="M0 -8l 1 1 1-1 1 1 1 0 1 1 1 1 1 0 1 1 1-2 1 0 1 0 1-2 1-1 1 3 1-1 1 0 1 3 1 0 1-3 1 3 1 0 1 1 1-2 1-2 1 0 1 2 1 2 1 2 1-2 1 0 1 2 1-3 1-1 1-1 1 1 1 2 1 0 1 0 1-2 1 0 1 1 1 1 1 1 1 3 1-2 1-1 1 0 1 2 1 0 1 1 1 2 1 2 1-3 1 1 1-1 1 0 1 0 1 2 1 0 1-2 1 0 1 0 1-1 1 0 1 3 1 0 1 0 1-1 1 3 1-1 1 1 1 2 1 2 1-2 1 0 1 2 1 1 1-1 1 1 1 2 1-1 1 0 1 2 1 0 1 1 1 0 1 2 1 1 1-1 1 1 1 0 1 3 1 0 1 1 1-2 1 0 1 0 1 2 1-1 1 1 1 0 1 1 1 2 1 0 1 0 1 0 1 0 1-1 1 3 1-1 1-2 1-1 1 3 1 1 1 1 1 2 1 0 1 1 1-2 1 0"/>
</g></g>
<rect x="245.5" y="734.5" width="147.0" height="155.0" fill="none" stroke="#000" stroke-width="1.1"/>
<path d="M240.6 765.5H245.5 M240.6 827.5H245.5 M240.6 889.5H245.5 M270.5 889.5V894.4 M270.5 729.6V734.5 M331.5 889.5V894.4 M331.5 729.6V734.5 M392.5 889.5V894.4 M392.5 729.6V734.5" stroke="#000" stroke-width="1.1" fill="none"/>
<text x="270.0" y="909.0" text-anchor="middle" font-size="13.89" textLength="33.9" lengthAdjust="spacingAndGlyphs">2000</text>
<text x="331.2" y="909.0" text-anchor="middle" font-size="13.89" textLength="33.9" lengthAdjust="spacingAndGlyphs">2050</text>
<text x="392.5" y="909.0" text-anchor="middle" font-size="13.89" textLength="33.9" lengthAdjust="spacingAndGlyphs">2100</text>
<text x="319.0" y="929.0" text-anchor="middle" font-size="13.89" textLength="28.5" lengthAdjust="spacingAndGlyphs">Year</text>
<rect x="300.8" y="741.6" width="84.8" height="45.7" rx="4" ry="4" fill="#fff" fill-opacity="0.8" stroke="#cccccc" stroke-width="1.2"/>
<text x="305.2" y="758.2" font-size="13.89" textLength="68.5" lengthAdjust="spacingAndGlyphs">ISSYK-KUL</text>
<text x="305.2" y="779.0" font-size="13.89" textLength="72.2" lengthAdjust="spacingAndGlyphs">(AS, 0.9%)</text>
<clipPath id="c4_2"><rect x="428.5" y="734.5" width="148.0" height="155.0"/></clipPath>
<g clip-path="url(#c4_2)">
<line x1="428.5" y1="827.5" x2="576.5" y2="827.5" stroke="#aaa" stroke-width="0.6" stroke-dasharray="1,1.7"/>
<g transform="matrix(1.2333 0 0 0.6200 428.50 827.50)">
<path d="M0 -9l 1 0 1 0 1-1 1 1 1 0 1-1 1 4 1 1 1 0 1 5 1 2 1-2 1-2 1 4 1-1 1 2 1-3 1 3 1-1 1-1 1-1 1 0 1-3 1-1 1 0 1 2 1-4 1 2 1-1 1-1 1-2 1 5 1 1 1-1 1 0 1 0 1 3 1-1 1-1 1-2 1 3 1 1 1-5 1-2 1 2 1 4 1 1 1-4 1 5 1-3 1 1 1 1 1 1 1 4 1-3 1 1 1 0 1 0 1-2 1 0 1 1 1-1 1 1 1 2 1 2 1 3 1 0 1 3 1 3 1 1 1 4 1 1 1 0 1 4 1 7 1 2 1 2 1 4 1 3 1 5 1 2 1 1 1 1 1 4 1-1 1 0 1 0 1-2 1 1 1 1 1 0 1-3 1 3 1 0 1 0 1-4 1-5 1-1 1 2 1-3 1 2 1 3 1-2 1 2 1 0 1 5 1 3 1 3 1-2 1 1 1 3 1 0 1 2 1 3 1 4 1 0 1 7 1 3 1 1 1 2 0 55-1 4-1-3-1 2-1-2-1 0-1-3-1 2-1 1-1-2-1 3-1-1-1 1-1 4-1 0-1-1-1-5-1 2-1 0-1-1-1 0-1-2-1 0-1-1-1-1-1 2-1 2-1 0-1 2-1-1-1 0-1-3-1-1-1 4-1-3-1-5-1-2-1 1-1-3-1-1-1 4-1 1-1-5-1-1-1 0-1 1-1-1-1-4-1-2-1 2-1 0-1 0-1-2-1-2-1-3-1-2-1-3-1-2-1-1-1-1-1-3-1 1-1-5-1 1-1-2-1-3-1-2-1-3-1 3-1 1-1-6-1-4-1-3-1 1-1 0-1-4-1-6-1-1-1-1-1-1-1-2-1-1-1-1-1-4-1-2-1 0-1-3-1 3-1-1-1-3-1 0-1-1-1-4-1-3-1 0-1-4-1-2-1 1-1 2-1-5-1-4-1-4-1-3-1-2-1-6-1 1-1-3-1-3-1 1-1 1-1-3-1-4-1 3-1-3-1 1-1-5-1 0-1-2-1-2-1 0-1-1z" fill="#c2b27a"/>
</g><g transform="matrix(1.2333 0 0 0.6200 428.50 828.70)">
<path class="d1" d="M0 -9l 1 0 1 0 1-1 1 1 1 0 1-1 1 4 1 1 1 0 1 5 1 2 1-2 1-2 1 4 1-1 1 2 1-3 1 3 1-1 1-1 1-1 1 0 1-3 1-1 1 0 1 2 1-4 1 2 1-1 1-1 1-2 1 5 1 1 1-1 1 0 1 0 1 3 1-1 1-1 1-2 1 3 1 1 1-5 1-2 1 2 1 4 1 1 1-4 1 5 1-3 1 1 1 1 1 1 1 4 1-3 1 1 1 0 1 0 1-2 1 0 1 1 1-1 1 1 1 2 1 2 1 3 1 0 1 3 1 3 1 1 1 4 1 1 1 0 1 4 1 7 1 2 1 2 1 4 1 3 1 5 1 2 1 1 1 1 1 4 1-1 1 0 1 0 1-2 1 1 1 1 1 0 1-3 1 3 1 0 1 0 1-4 1-5 1-1 1 2 1-3 1 2 1 3 1-2 1 2 1 0 1 5 1 3 1 3 1-2 1 1 1 3 1 0 1 2 1 3 1 4 1 0 1 7 1 3 1 1 1 2"/>
<path class="d1" d="M0 2l 1 1 1 0 1 2 1 2 1 0 1 5 1-1 1 3 1-3 1 4 1 3 1-1 1-1 1 3 1 3 1-1 1 6 1 2 1 3 1 4 1 4 1 5 1-2 1-1 1 2 1 4 1 0 1 3 1 4 1 1 1 0 1 3 1 1 1-3 1 3 1 0 1 2 1 4 1 1 1 1 1 2 1 1 1 1 1 1 1 6 1 4 1 0 1-1 1 3 1 4 1 6 1-1 1-3 1 3 1 2 1 3 1 2 1-1 1 5 1-1 1 3 1 1 1 1 1 2 1 3 1 2 1 3 1 2 1 2 1 0 1 0 1-2 1 2 1 4 1 1 1-1 1 0 1 1 1 5 1-1 1-4 1 1 1 3 1-1 1 2 1 5 1 3 1-4 1 1 1 3 1 0 1 1 1-2 1 0 1-2 1-2 1 1 1 1 1 0 1 2 1 0 1 1 1 0 1-2 1 5 1 1 1 0 1-4 1-1 1 1 1-3 1 2 1-1 1-2 1 3 1 0 1 2 1-2 1 3 1-4"/>
<path class="d2" d="M0 -3l 1 1 1 1 1 2 1 0 1 0 1 2 1 0 1 1 1 1 1 0 1-1 1 2 1 5 1-1 1 2 1 1 1 2 1 1 1 1 1 0 1 0 1 5 1 0 1 1 1 1 1 0 1 2 1 1 1 2 1 0 1 3 1 2 1 1 1 1 1 2 1-1 1 5 1 1 1 0 1 1 1-1 1 0 1 2 1 2 1 1 1-1 1 0 1 2 1-1 1 4 1 1 1 0 1 2 1 0 1 1 1-2 1 3 1-1 1 0 1 3 1 3 1 2 1 0 1 0 1 2 1 1 1 1 1 3 1 1 1 0 1 3 1 1 1-2 1 1 1 1 1 2 1 1 1 0 1 1 1 1 1 3 1 1 1 0 1 1 1 3 1-1 1 3 1 0 1 2 1-1 1 1 1 1 1 1 1 2 1-2 1 1 1 2 1 0 1-2 1 3 1 2 1 1 1 1 1 1 1 0 1 1 1 0 1 4 1 0 1 3 1 1 1 1 1 1 1 1 1-2 1 1 1 1 1 1 1 2 1-1"/>
</g><g transform="matrix(1.2333 0 0 0.6200 428.50 827.50)">
<path class="s1 t" d="M0 -9l 1 0 1 0 1-1 1 1 1 0 1-1 1 4 1 1 1 0 1 5 1 2 1-2 1-2 1 4 1-1 1 2 1-3 1 3 1-1 1-1 1-1 1 0 1-3 1-1 1 0 1 2 1-4 1 2 1-1 1-1 1-2 1 5 1 1 1-1 1 0 1 0 1 3 1-1 1-1 1-2 1 3 1 1 1-5 1-2 1 2 1 4 1 1 1-4 1 5 1-3 1 1 1 1 1 1 1 4 1-3 1 1 1 0 1 0 1-2 1 0 1 1 1-1 1 1 1 2 1 2 1 3 1 0 1 3 1 3 1 1 1 4 1 1 1 0 1 4 1 7 1 2 1 2 1 4 1 3 1 5 1 2 1 1 1 1 1 4 1-1 1 0 1 0 1-2 1 1 1 1 1 0 1-3 1 3 1 0 1 0 1-4 1-5 1-1 1 2 1-3 1 2 1 3 1-2 1 2 1 0 1 5 1 3 1 3 1-2 1 1 1 3 1 0 1 2 1 3 1 4 1 0 1 7 1 3 1 1 1 2"/>
<path class="s1 t" d="M0 2l 1 1 1 0 1 2 1 2 1 0 1 5 1-1 1 3 1-3 1 4 1 3 1-1 1-1 1 3 1 3 1-1 1 6 1 2 1 3 1 4 1 4 1 5 1-2 1-1 1 2 1 4 1 0 1 3 1 4 1 1 1 0 1 3 1 1 1-3 1 3 1 0 1 2 1 4 1 1 1 1 1 2 1 1 1 1 1 1 1 6 1 4 1 0 1-1 1 3 1 4 1 6 1-1 1-3 1 3 1 2 1 3 1 2 1-1 1 5 1-1 1 3 1 1 1 1 1 2 1 3 1 2 1 3 1 2 1 2 1 0 1 0 1-2 1 2 1 4 1 1 1-1 1 0 1 1 1 5 1-1 1-4 1 1 1 3 1-1 1 2 1 5 1 3 1-4 1 1 1 3 1 0 1 1 1-2 1 0 1-2 1-2 1 1 1 1 1 0 1 2 1 0 1 1 1 0 1-2 1 5 1 1 1 0 1-4 1-1 1 1 1-3 1 2 1-1 1-2 1 3 1 0 1 2 1-2 1 3 1-4"/>
<path class="s2 t" d="M0 -3l 1 1 1 1 1 2 1 0 1 0 1 2 1 0 1 1 1 1 1 0 1-1 1 2 1 5 1-1 1 2 1 1 1 2 1 1 1 1 1 0 1 0 1 5 1 0 1 1 1 1 1 0 1 2 1 1 1 2 1 0 1 3 1 2 1 1 1 1 1 2 1-1 1 5 1 1 1 0 1 1 1-1 1 0 1 2 1 2 1 1 1-1 1 0 1 2 1-1 1 4 1 1 1 0 1 2 1 0 1 1 1-2 1 3 1-1 1 0 1 3 1 3 1 2 1 0 1 0 1 2 1 1 1 1 1 3 1 1 1 0 1 3 1 1 1-2 1 1 1 1 1 2 1 1 1 0 1 1 1 1 1 3 1 1 1 0 1 1 1 3 1-1 1 3 1 0 1 2 1-1 1 1 1 1 1 1 1 2 1-2 1 1 1 2 1 0 1-2 1 3 1 2 1 1 1 1 1 1 1 0 1 1 1 0 1 4 1 0 1 3 1 1 1 1 1 1 1 1 1-2 1 1 1 1 1 1 1 2 1-1"/>
</g></g>
<rect x="428.5" y="734.5" width="148.0" height="155.0" fill="none" stroke="#000" stroke-width="1.1"/>
<path d="M423.6 765.5H428.5 M423.6 827.5H428.5 M423.6 889.5H428.5 M453.5 889.5V894.4 M453.5 729.6V734.5 M514.5 889.5V894.4 M514.5 729.6V734.5 M576.5 889.5V894.4 M576.5 729.6V734.5" stroke="#000" stroke-width="1.1" fill="none"/>
<text x="453.2" y="909.0" text-anchor="middle" font-size="13.89" textLength="33.9" lengthAdjust="spacingAndGlyphs">2000</text>
<text x="514.8" y="909.0" text-anchor="middle" font-size="13.89" textLength="33.9" lengthAdjust="spacingAndGlyphs">2050</text>
<text x="576.5" y="909.0" text-anchor="middle" font-size="13.89" textLength="33.9" lengthAdjust="spacingAndGlyphs">2100</text>
<text x="502.5" y="929.0" text-anchor="middle" font-size="13.89" textLength="28.5" lengthAdjust="spacingAndGlyphs">Year</text>
<rect x="484.5" y="741.6" width="85.0" height="45.7" rx="4" ry="4" fill="#fff" fill-opacity="0.8" stroke="#cccccc" stroke-width="1.2"/>
<text x="489.0" y="758.2" font-size="13.89" textLength="60.9" lengthAdjust="spacingAndGlyphs">AMAZON</text>
<text x="489.0" y="779.0" font-size="13.89" textLength="72.4" lengthAdjust="spacingAndGlyphs">(SA, 0.0%)</text>
<clipPath id="c4_3"><rect x="612.5" y="734.5" width="147.0" height="155.0"/></clipPath>
<g clip-path="url(#c4_3)">
<line x1="612.5" y1="827.5" x2="759.5" y2="827.5" stroke="#aaa" stroke-width="0.6" stroke-dasharray="1,1.7"/>
<g transform="matrix(1.2250 0 0 0.6200 612.50 827.50)">
<path d="M0 -12l 1-3 1 0 1-2 1-1 1-3 1-3 1-3 1-1 1-4 1 0 1-1 1 7 1 0 1-1 1 1 1 2 1 0 1-1 1-4 1-1 1 3 1 0 1-4 1 4 1-3 1 0 1 1 1-2 1 1 1 0 1-4 1-1 1 0 1 3 1 1 1 1 1 4 1-2 1 1 1-1 1-1 1 1 1-3 1 1 1-1 1-2 1-1 1-3 1-1 1 1 1 3 1 2 1-1 1-3 1 0 1 0 1-4 1-1 1 4 1 2 1-2 1 0 1 0 1 2 1-1 1 2 1-3 1-1 1 1 1 2 1-4 1 5 1 3 1 2 1-1 1 2 1 2 1 1 1 1 1-1 1 1 1 2 1 2 1-2 1 3 1-1 1 2 1-2 1 0 1 0 1 1 1-2 1 3 1-1 1 2 1 0 1 3 1 1 1-4 1 3 1-2 1-1 1 3 1-3 1 1 1 3 1-6 1 2 1-1 1 1 1-1 1-2 1-1 1-1 1-3 1 0 1-2 1 0 1-3 1 0 0 107-1 0-1-1-1 3-1 3-1-1-1-1-1 2-1 3-1 1-1-5-1 0-1 0-1 1-1 1-1-3-1 1-1 0-1-1-1-4-1 3-1 0-1 3-1 0-1-2-1-1-1-1-1 0-1-1-1 0-1 2-1-1-1 0-1-1-1-2-1-3-1-4-1-5-1-3-1 2-1 0-1-4-1-2-1 0-1 0-1 1-1-3-1-2-1 1-1-1-1 1-1-1-1-5-1 0-1 0-1 0-1 0-1 0-1 1-1 0-1-3-1-1-1-2-1 1-1-1-1 3-1-2-1-1-1 0-1 3-1-3-1-3-1-1-1-1-1 1-1-3-1-4-1 1-1-3-1-1-1-1-1 0-1 2-1 1-1-1-1-5-1-2-1-1-1 1-1-4-1-4-1 0-1-5-1 2-1-2-1-2-1-2-1 1-1 4-1-4-1-3-1 2-1-3-1-4-1-1-1 2-1 2-1-1-1-1-1 2-1 0-1 0-1 2-1 2-1-3-1 3-1 0-1 1-1 0-1 1-1 0z" fill="#c2b27a"/>
</g><g transform="matrix(1.2250 0 0 0.6200 612.50 828.70)">
<path class="d1" d="M0 -12l 1-3 1 0 1-2 1-1 1-3 1-3 1-3 1-1 1-4 1 0 1-1 1 7 1 0 1-1 1 1 1 2 1 0 1-1 1-4 1-1 1 3 1 0 1-4 1 4 1-3 1 0 1 1 1-2 1 1 1 0 1-4 1-1 1 0 1 3 1 1 1 1 1 4 1-2 1 1 1-1 1-1 1 1 1-3 1 1 1-1 1-2 1-1 1-3 1-1 1 1 1 3 1 2 1-1 1-3 1 0 1 0 1-4 1-1 1 4 1 2 1-2 1 0 1 0 1 2 1-1 1 2 1-3 1-1 1 1 1 2 1-4 1 5 1 3 1 2 1-1 1 2 1 2 1 1 1 1 1-1 1 1 1 2 1 2 1-2 1 3 1-1 1 2 1-2 1 0 1 0 1 1 1-2 1 3 1-1 1 2 1 0 1 3 1 1 1-4 1 3 1-2 1-1 1 3 1-3 1 1 1 3 1-6 1 2 1-1 1 1 1-1 1-2 1-1 1-1 1-3 1 0 1-2 1 0 1-3 1 0"/>
<path class="d1" d="M0 7l 1 0 1-1 1 0 1-1 1 0 1-3 1 3 1-2 1-2 1 0 1 0 1-2 1 1 1 1 1-2 1-2 1 1 1 4 1 3 1-2 1 3 1 4 1-4 1-1 1 2 1 2 1 2 1-2 1 5 1 0 1 4 1 4 1-1 1 1 1 2 1 5 1 1 1-1 1-2 1 0 1 1 1 1 1 3 1-1 1 4 1 3 1-1 1 1 1 1 1 3 1 3 1-3 1 0 1 1 1 2 1-3 1 1 1-1 1 2 1 1 1 3 1 0 1-1 1 0 1 0 1 0 1 0 1 0 1 5 1 1 1-1 1 1 1-1 1 2 1 3 1-1 1 0 1 0 1 2 1 4 1 0 1-2 1 3 1 5 1 4 1 3 1 2 1 1 1 0 1 1 1-2 1 0 1 1 1 0 1 1 1 1 1 2 1 0 1-3 1 0 1-3 1 4 1 1 1 0 1-1 1 3 1-1 1-1 1 0 1 0 1 5 1-1 1-3 1-2 1 1 1 1 1-3 1-3 1 1 1 0"/>
<path class="d2" d="M0 -2l 1-2 1-1 1-1 1-1 1-1 1 1 1 0 1 0 1-1 1 0 1-1 1-1 1 0 1 1 1-2 1 2 1-1 1 1 1 0 1 1 1-2 1 3 1-2 1 1 1-1 1-1 1 0 1 2 1 1 1-2 1 1 1-1 1 2 1 2 1 0 1 0 1 0 1 0 1 0 1 2 1 0 1 1 1-2 1 0 1 1 1 0 1 0 1 0 1 1 1 2 1-1 1 1 1 0 1-2 1 0 1 3 1 2 1 1 1-1 1 0 1 0 1 2 1 0 1 1 1 1 1 1 1 1 1-2 1 4 1 1 1 0 1 0 1 1 1 0 1 2 1 2 1 0 1-1 1 1 1 1 1 2 1 1 1-1 1 1 1-2 1 2 1 2 1-2 1 0 1 2 1 2 1 3 1 2 1 2 1 0 1 0 1 3 1-1 1 1 1 1 1 0 1 0 1 0 1 1 1 0 1-2 1 0 1-2 1 1 1-1 1 2 1 1 1-3 1-1 1-2 1-2 1 1 1 2 1-1 1-1"/>
</g><g transform="matrix(1.2250 0 0 0.6200 612.50 827.50)">
<path class="s1 t" d="M0 -12l 1-3 1 0 1-2 1-1 1-3 1-3 1-3 1-1 1-4 1 0 1-1 1 7 1 0 1-1 1 1 1 2 1 0 1-1 1-4 1-1 1 3 1 0 1-4 1 4 1-3 1 0 1 1 1-2 1 1 1 0 1-4 1-1 1 0 1 3 1 1 1 1 1 4 1-2 1 1 1-1 1-1 1 1 1-3 1 1 1-1 1-2 1-1 1-3 1-1 1 1 1 3 1 2 1-1 1-3 1 0 1 0 1-4 1-1 1 4 1 2 1-2 1 0 1 0 1 2 1-1 1 2 1-3 1-1 1 1 1 2 1-4 1 5 1 3 1 2 1-1 1 2 1 2 1 1 1 1 1-1 1 1 1 2 1 2 1-2 1 3 1-1 1 2 1-2 1 0 1 0 1 1 1-2 1 3 1-1 1 2 1 0 1 3 1 1 1-4 1 3 1-2 1-1 1 3 1-3 1 1 1 3 1-6 1 2 1-1 1 1 1-1 1-2 1-1 1-1 1-3 1 0 1-2 1 0 1-3 1 0"/>
<path class="s1 t" d="M0 7l 1 0 1-1 1 0 1-1 1 0 1-3 1 3 1-2 1-2 1 0 1 0 1-2 1 1 1 1 1-2 1-2 1 1 1 4 1 3 1-2 1 3 1 4 1-4 1-1 1 2 1 2 1 2 1-2 1 5 1 0 1 4 1 4 1-1 1 1 1 2 1 5 1 1 1-1 1-2 1 0 1 1 1 1 1 3 1-1 1 4 1 3 1-1 1 1 1 1 1 3 1 3 1-3 1 0 1 1 1 2 1-3 1 1 1-1 1 2 1 1 1 3 1 0 1-1 1 0 1 0 1 0 1 0 1 0 1 5 1 1 1-1 1 1 1-1 1 2 1 3 1-1 1 0 1 0 1 2 1 4 1 0 1-2 1 3 1 5 1 4 1 3 1 2 1 1 1 0 1 1 1-2 1 0 1 1 1 0 1 1 1 1 1 2 1 0 1-3 1 0 1-3 1 4 1 1 1 0 1-1 1 3 1-1 1-1 1 0 1 0 1 5 1-1 1-3 1-2 1 1 1 1 1-3 1-3 1 1 1 0"/>
<path class="s2 t" d="M0 -2l 1-2 1-1 1-1 1-1 1-1 1 1 1 0 1 0 1-1 1 0 1-1 1-1 1 0 1 1 1-2 1 2 1-1 1 1 1 0 1 1 1-2 1 3 1-2 1 1 1-1 1-1 1 0 1 2 1 1 1-2 1 1 1-1 1 2 1 2 1 0 1 0 1 0 1 0 1 0 1 2 1 0 1 1 1-2 1 0 1 1 1 0 1 0 1 0 1 1 1 2 1-1 1 1 1 0 1-2 1 0 1 3 1 2 1 1 1-1 1 0 1 0 1 2 1 0 1 1 1 1 1 1 1 1 1-2 1 4 1 1 1 0 1 0 1 1 1 0 1 2 1 2 1 0 1-1 1 1 1 1 1 2 1 1 1-1 1 1 1-2 1 2 1 2 1-2 1 0 1 2 1 2 1 3 1 2 1 2 1 0 1 0 1 3 1-1 1 1 1 1 1 0 1 0 1 0 1 1 1 0 1-2 1 0 1-2 1 1 1-1 1 2 1 1 1-3 1-1 1-2 1-2 1 1 1 2 1-1 1-1"/>
</g></g>
<rect x="612.5" y="734.5" width="147.0" height="155.0" fill="none" stroke="#000" stroke-width="1.1"/>
<path d="M607.6 765.5H612.5 M607.6 827.5H612.5 M607.6 889.5H612.5 M637.5 889.5V894.4 M637.5 729.6V734.5 M698.5 889.5V894.4 M698.5 729.6V734.5 M759.5 889.5V894.4 M759.5 729.6V734.5" stroke="#000" stroke-width="1.1" fill="none"/>
<text x="637.0" y="909.0" text-anchor="middle" font-size="13.89" textLength="33.9" lengthAdjust="spacingAndGlyphs">2000</text>
<text x="698.2" y="909.0" text-anchor="middle" font-size="13.89" textLength="33.9" lengthAdjust="spacingAndGlyphs">2050</text>
<text x="759.5" y="909.0" text-anchor="middle" font-size="13.89" textLength="33.9" lengthAdjust="spacingAndGlyphs">2100</text>
<text x="686.0" y="929.0" text-anchor="middle" font-size="13.89" textLength="28.5" lengthAdjust="spacingAndGlyphs">Year</text>
<rect x="662.0" y="741.6" width="90.5" height="45.7" rx="4" ry="4" fill="#fff" fill-opacity="0.8" stroke="#cccccc" stroke-width="1.2"/>
<text x="666.5" y="758.2" font-size="13.89" textLength="77.8" lengthAdjust="spacingAndGlyphs">COLORADO</text>
<text x="666.5" y="779.0" font-size="13.89" textLength="72.4" lengthAdjust="spacingAndGlyphs">(SA, 0.4%)</text>
<clipPath id="c5_0"><rect x="61.5" y="943.5" width="146.6" height="155.0"/></clipPath>
<g clip-path="url(#c5_0)">
<line x1="61.5" y1="1036.5" x2="208.1" y2="1036.5" stroke="#aaa" stroke-width="0.6" stroke-dasharray="1,1.7"/>
<g transform="matrix(1.2217 0 0 0.6200 61.50 1036.50)">
<path d="M0 -7l 1-1 1 1 1-3 1 1 1-1 1-1 1 0 1-1 1-2 1-4 1-3 1-3 1-6 1 0 1-4 1-4 1 1 1-1 1-1 1-2 1-3 1 0 1-3 1-2 1-1 1-3 1-5 1 1 1-5 1 4 1-2 1-3 1 3 1 1 1-2 1 2 1 4 1-5 1-2 1-3 1 1 1 1 1-1 1 1 1-1 1-1 1-1 1-1 1 1 1 0 1 0 1-4 1-3 1 0 1-1 1 1 1 0 1-2 1 2 1 2 1-2 1-3 1 0 1-4 1-3 1 2 1-2 1-1 1 0 1 2 1 1 1-4 1-5 1 0 1-1 1-2 1 2 1-4 1 2 1-1 1-1 1-1 1 1 1-2 1 0 1-1 1-5 1 1 1-3 1-2 1-1 1 1 1 0 1-1 1 1 1-2 1-1 1 2 1 1 1 0 1 2 1-1 1-5 1-2 1 1 1 0 1 0 1 3 1 1 1 0 1-1 1 0 1 0 1 0 1 4 1 2 1-3 1 5 1-1 1 1 0 38-1-4-1 4-1 1-1-1-1-1-1-3-1 1-1-2-1 4-1-5-1 2-1-1-1 0-1 3-1 1-1 0-1 4-1 3-1-3-1-3-1 0-1-3-1 4-1 4-1-1-1-2-1 2-1-1-1-1-1-3-1 2-1 3-1-1-1 0-1-1-1-1-1-1-1 5-1-3-1-3-1-4-1 1-1-2-1 4-1-2-1 0-1 2-1 0-1 2-1-2-1 1-1-3-1 3-1 3-1-3-1 5-1-2-1 4-1 1-1 1-1-2-1 1-1 3-1-1-1 4-1-1-1 2-1 1-1 1-1-1-1 0-1 0-1-1-1 0-1 1-1 3-1-3-1 2-1 1-1-3-1 5-1 1-1 1-1 1-1-2-1 1-1 0-1 0-1 2-1 3-1-1-1 1-1 2-1 0-1 1-1-3-1 4-1 1-1 0-1 0-1 3-1 0-1 0-1 4-1 3-1 2-1 3-1 4-1 5-1 0-1-2-1 2-1 2-1 0-1 3-1 0-1 0-1 1-1 2-1-1z" fill="#9999cc"/>
<path d="M0 -6l 1 1 1-1 1 1 1-1 1-1 1 1 1 1 1-1 1-1 1 0 1 0 1 2 1-3 1 0 1-1 1-2 1 5 1-3 1 4 1-4 1 0 1 2 1 2 1 1 1-2 1 4 1-2 1 0 1 3 1 1 1-1 1-4 1-3 1 1 1 3 1-3 1-1 1 2 1-3 1 1 1 2 1-4 1 3 1 0 1-1 1 2 1-5 1 0 1-2 1 2 1 2 1-2 1-1 1 1 1-1 1 1 1-6 1 0 1-1 1-1 1 0 1-1 1-3 1 2 1 0 1-1 1-3 1 0 1 1 1-3 1-1 1-1 1-1 1 1 1 1 1-2 1 0 1 5 1-3 1 3 1-1 1-1 1-2 1 0 1-1 1 3 1-1 1-4 1 0 1-4 1 2 1-3 1-1 1-1 1 2 1-3 1-2 1-3 1-1 1 0 1 4 1 0 1-1 1 2 1-2 1 2 1-4 1 1 1 4 1 1 1 1 1-2 1 2 1-2 1 2 1 0 1-1 1-1 1 0 1-3 0 47-1-2-1 1-1-1-1 0-1 0-1-3-1 1-1 1-1 1-1 1-1-2-1 3-1 2-1 1-1-1-1 2-1 1-1-3-1 0-1-2-1 1-1-1-1 2-1 2-1-3-1 3-1-2-1-3-1-1-1 2-1-2-1 0-1 4-1-1-1 0-1 2-1 1-1-1-1-2-1-1-1 0-1 4-1 1-1 4-1 2-1 6-1 0-1 1-1 0-1-3-1-2-1 1-1-1-1 0-1-1-1 1-1 0-1 0-1 0-1 3-1 3-1 0-1 2-1-2-1-5-1-4-1 0-1-1-1 2-1-2-1 1-1-3-1-2-1 1-1 1-1-1-1 5-1-4-1 0-1-2-1-1-1 0-1 2-1 0-1 0-1-1-1 2-1 1-1-1-1-1-1-1-1 3-1 0-1 1-1-1-1 2-1-3-1-2-1 0-1-2-1-1-1 2-1 0-1 1-1-2-1 0-1 1-1 1-1 1-1-3-1 4-1-3-1 1-1 1-1 1-1-2-1-2-1-1-1-2-1-1z" fill="#ffd700" fill-opacity="0.4"/>
<path class="d1" d="M0 -6l 1 1 1-1 1 1 1-1 1-1 1 1 1 1 1-1 1-1 1 0 1 0 1 2 1-3 1 0 1-1 1-2 1 5 1-3 1 4 1-4 1 0 1 2 1 2 1 1 1-2 1 4 1-2 1 0 1 3 1 1 1-1 1-4 1-3 1 1 1 3 1-3 1-1 1 2 1-3 1 1 1 2 1-4 1 3 1 0 1-1 1 2 1-5 1 0 1-2 1 2 1 2 1-2 1-1 1 1 1-1 1 1 1-6 1 0 1-1 1-1 1 0 1-1 1-3 1 2 1 0 1-1 1-3 1 0 1 1 1-3 1-1 1-1 1-1 1 1 1 1 1-2 1 0 1 5 1-3 1 3 1-1 1-1 1-2 1 0 1-1 1 3 1-1 1-4 1 0 1-4 1 2 1-3 1-1 1-1 1 2 1-3 1-2 1-3 1-1 1 0 1 4 1 0 1-1 1 2 1-2 1 2 1-4 1 1 1 4 1 1 1 1 1-2 1 2 1-2 1 2 1 0 1-1 1-1 1 0 1-3"/>
<path class="d1" d="M0 3l 1 1 1 2 1 1 1 2 1 2 1-1 1-1 1-1 1 3 1-4 1 3 1-1 1-1 1-1 1 0 1 2 1-1 1 0 1-2 1 1 1 2 1 0 1 2 1 3 1-2 1 1 1-1 1 0 1-3 1 1 1 1 1 1 1-1 1-2 1 1 1 0 1 0 1-2 1 0 1 1 1 2 1 0 1 4 1-5 1 1 1-1 1-1 1 2 1 3 1-1 1 2 1-2 1 1 1 0 1 4 1 5 1 2 1-2 1 0 1-3 1-3 1 0 1 0 1 0 1-1 1 1 1 0 1 1 1-1 1 2 1 3 1 0 1-1 1 0 1-6 1-2 1-4 1-1 1-4 1 0 1 1 1 2 1 1 1-1 1-2 1 0 1 1 1-4 1 0 1 2 1-2 1 1 1 3 1 2 1-3 1 3 1-2 1-2 1 1 1-1 1 2 1 0 1 3 1-1 1-2 1 1 1-1 1-2 1-3 1 2 1-1 1-1 1-1 1-1 1 3 1 0 1 0 1 1 1-1 1 2"/>
<path class="d2" d="M0 1l 1 1 1 0 1 1 1 1 1 0 1 1 1-1 1 0 1 0 1 0 1 2 1 1 1-2 1 0 1 2 1 0 1 0 1-1 1 0 1-1 1-1 1 0 1-2 1 0 1-1 1 1 1 1 1 0 1-3 1 1 1 0 1 0 1 1 1 0 1 1 1 1 1 0 1-2 1 1 1 0 1-1 1-1 1 0 1-1 1 0 1 0 1-2 1-3 1 3 1-1 1 0 1-1 1-1 1 0 1 1 1 1 1 1 1-1 1-1 1-1 1-1 1-1 1-2 1 2 1 0 1 1 1-2 1 2 1-1 1 1 1-2 1-4 1 1 1 1 1-1 1 0 1 1 1-1 1 0 1-1 1-1 1 1 1-1 1 1 1 1 1-1 1-1 1-2 1 1 1-2 1 1 1-1 1 0 1-1 1-2 1-1 1 0 1 2 1-1 1 2 1 1 1-2 1 0 1 1 1-1 1 0 1 0 1-1 1-1 1-1 1 0 1-1 1-2 1 0 1 2 1 0 1 0 1 0 1-1 1 3"/>
<path class="s1" d="M0 -7l 1-1 1 1 1-3 1 1 1-1 1-1 1 0 1-1 1-2 1-4 1-3 1-3 1-6 1 0 1-4 1-4 1 1 1-1 1-1 1-2 1-3 1 0 1-3 1-2 1-1 1-3 1-5 1 1 1-5 1 4 1-2 1-3 1 3 1 1 1-2 1 2 1 4 1-5 1-2 1-3 1 1 1 1 1-1 1 1 1-1 1-1 1-1 1-1 1 1 1 0 1 0 1-4 1-3 1 0 1-1 1 1 1 0 1-2 1 2 1 2 1-2 1-3 1 0 1-4 1-3 1 2 1-2 1-1 1 0 1 2 1 1 1-4 1-5 1 0 1-1 1-2 1 2 1-4 1 2 1-1 1-1 1-1 1 1 1-2 1 0 1-1 1-5 1 1 1-3 1-2 1-1 1 1 1 0 1-1 1 1 1-2 1-1 1 2 1 1 1 0 1 2 1-1 1-5 1-2 1 1 1 0 1 0 1 3 1 1 1 0 1-1 1 0 1 0 1 0 1 4 1 2 1-3 1 5 1-1 1 1"/>
<path class="s1" d="M0 0l 1 1 1-2 1-1 1 0 1 0 1-3 1 0 1-2 1-2 1 2 1 0 1-5 1-4 1-3 1-2 1-3 1-4 1 0 1 0 1-3 1 0 1 0 1-1 1-4 1 3 1-1 1 0 1-2 1-1 1 1 1-3 1-2 1 0 1 0 1-1 1 2 1-1 1-1 1-1 1-5 1 3 1-1 1-2 1 3 1-3 1-1 1 0 1 1 1 0 1 0 1 1 1-1 1-1 1-2 1 1 1-4 1 1 1-3 1-1 1 2 1-1 1-1 1-4 1 2 1-5 1 3 1-3 1-3 1 3 1-1 1 2 1-2 1 0 1-2 1 0 1 2 1-4 1 2 1-1 1 4 1 3 1 3 1-5 1 1 1 1 1 1 1 0 1 1 1-3 1-2 1 3 1 1 1 1 1-2 1 2 1 1 1-4 1-4 1 3 1 0 1 3 1 3 1-3 1-4 1 0 1-1 1-3 1 0 1 1 1-2 1 5 1-4 1 2 1-1 1 3 1 1 1 1 1-1 1-4 1 4"/>
<path class="s2" d="M0 -4l 1 1 1-2 1-1 1-2 1-2 1 1 1-3 1-2 1-1 1-2 1-1 1-1 1-3 1 0 1-3 1-5 1-2 1-3 1-2 1-2 1-2 1 2 1 0 1-1 1-3 1-2 1 0 1-3 1-1 1-3 1 0 1-2 1-1 1-1 1-1 1 1 1-1 1 1 1-1 1 0 1-1 1 0 1-2 1 0 1-2 1 1 1-1 1 0 1-1 1 2 1-2 1 1 1-1 1 1 1 0 1-2 1 0 1-2 1 2 1-2 1 0 1 0 1 0 1-2 1-1 1 0 1 0 1-1 1-2 1-2 1 1 1-2 1 2 1-2 1 0 1-1 1-1 1-1 1-1 1 2 1 0 1 1 1-1 1 2 1-2 1-2 1-1 1-1 1 2 1 0 1-1 1-2 1 1 1 0 1 1 1-1 1 1 1 0 1 1 1-2 1 0 1 0 1-2 1 0 1-1 1 1 1 2 1-1 1-3 1 0 1 2 1-1 1 3 1-4 1 0 1 1 1-1 1 1 1-1 1 0"/>
</g></g>
<rect x="61.5" y="943.5" width="146.6" height="155.0" fill="none" stroke="#000" stroke-width="1.1"/>
<path d="M56.6 974.5H61.5 M56.6 1036.5H61.5 M56.6 1098.5H61.5 M85.5 1098.5V1103.4 M147.5 1098.5V1103.4 M208.5 1098.5V1103.4" stroke="#000" stroke-width="1.1" fill="none"/>
<text x="51.8" y="980.1" text-anchor="end" font-size="16.67" textLength="10.3" lengthAdjust="spacingAndGlyphs">1</text>
<text x="51.8" y="1042.1" text-anchor="end" font-size="16.67" textLength="10.3" lengthAdjust="spacingAndGlyphs">0</text>
<text x="51.8" y="1104.1" text-anchor="end" font-size="16.67" textLength="23.8" lengthAdjust="spacingAndGlyphs">−1</text>
<text transform="translate(17.2,1021.5) rotate(-90)" text-anchor="middle" font-size="13.89" textLength="106.9" lengthAdjust="spacingAndGlyphs">Roll. mean SPEI</text>
<rect x="116.0" y="1045.9" width="86.3" height="45.7" rx="4" ry="4" fill="#fff" fill-opacity="0.8" stroke="#cccccc" stroke-width="1.2"/>
<text x="120.5" y="1062.5" font-size="13.89" textLength="35.3" lengthAdjust="spacingAndGlyphs">TAKU</text>
<text x="120.5" y="1083.3" font-size="13.89" textLength="73.7" lengthAdjust="spacingAndGlyphs">(NA, 8.8%)</text>
<clipPath id="c5_1"><rect x="245.1" y="943.5" width="146.8" height="155.0"/></clipPath>
<g clip-path="url(#c5_1)">
<line x1="245.1" y1="1036.5" x2="391.9" y2="1036.5" stroke="#aaa" stroke-width="0.6" stroke-dasharray="1,1.7"/>
<g transform="matrix(1.2233 0 0 0.6200 245.10 1036.50)">
<path d="M0 -5l 1-2 1 1 1 0 1 0 1-1 1 0 1 1 1 1 1 0 1 0 1-1 1 1 1 0 1 1 1-2 1-2 1-1 1-1 1-2 1-2 1 2 1 2 1-2 1 0 1-2 1-3 1-1 1-1 1-2 1-4 1 2 1-2 1 1 1-1 1 2 1-2 1 2 1 0 1 1 1 0 1-2 1 0 1-1 1 0 1 0 1 2 1 2 1 2 1 0 1-1 1-1 1 1 1-2 1 1 1 0 1-3 1 1 1 0 1-1 1-3 1 3 1-2 1 0 1 0 1 3 1-3 1 0 1-2 1 2 1-4 1-1 1 1 1 1 1-1 1 0 1-4 1 1 1 0 1-3 1-2 1-4 1 3 1-3 1-1 1-3 1 1 1-3 1 2 1-1 1-1 1 1 1 0 1-1 1-5 1-2 1-6 1 1 1-3 1 1 1-1 1 1 1-1 1 0 1 1 1 0 1-2 1 0 1 1 1 1 1 1 1 2 1 0 1 0 1 0 1 0 1 1 1-2 1 0 1-1 1-2 0 63-1 3-1-3-1-2-1-2-1 0-1-4-1 2-1 0-1-1-1 1-1-4-1-1-1-1-1 0-1 1-1 2-1-5-1 2-1-1-1-2-1 4-1 0-1-1-1 4-1-2-1 3-1 3-1 0-1 1-1 2-1 0-1 0-1-4-1 2-1-1-1-2-1 0-1-5-1 0-1 2-1 0-1-2-1 2-1 1-1 1-1 1-1 0-1 4-1 1-1 1-1-1-1-1-1 1-1-2-1-3-1 0-1 0-1-1-1 1-1 3-1-1-1-1-1 6-1 0-1-2-1 1-1 4-1-2-1-2-1-1-1 4-1-3-1 1-1 1-1 4-1-3-1-1-1-1-1 0-1 4-1 2-1 1-1-1-1 1-1-3-1 1-1 0-1-1-1-1-1 0-1 1-1 0-1-1-1 4-1 1-1 1-1 0-1 1-1 3-1 1-1-2-1 1-1-2-1-2-1-1-1 0-1-2-1-3-1 3-1-1-1 3-1-3-1 1-1 1-1 2-1-6-1 1-1 0-1-1-1 0z" fill="#c2b27a"/>
</g><g transform="matrix(1.2233 0 0 0.6200 245.10 1037.70)">
<path class="d1" d="M0 -5l 1-2 1 1 1 0 1 0 1-1 1 0 1 1 1 1 1 0 1 0 1-1 1 1 1 0 1 1 1-2 1-2 1-1 1-1 1-2 1-2 1 2 1 2 1-2 1 0 1-2 1-3 1-1 1-1 1-2 1-4 1 2 1-2 1 1 1-1 1 2 1-2 1 2 1 0 1 1 1 0 1-2 1 0 1-1 1 0 1 0 1 2 1 2 1 2 1 0 1-1 1-1 1 1 1-2 1 1 1 0 1-3 1 1 1 0 1-1 1-3 1 3 1-2 1 0 1 0 1 3 1-3 1 0 1-2 1 2 1-4 1-1 1 1 1 1 1-1 1 0 1-4 1 1 1 0 1-3 1-2 1-4 1 3 1-3 1-1 1-3 1 1 1-3 1 2 1-1 1-1 1 1 1 0 1-1 1-5 1-2 1-6 1 1 1-3 1 1 1-1 1 1 1-1 1 0 1 1 1 0 1-2 1 0 1 1 1 1 1 1 1 2 1 0 1 0 1 0 1 0 1 1 1-2 1 0 1-1 1-2"/>
<path class="d1" d="M0 4l 1 0 1 1 1 0 1-1 1 6 1-2 1-1 1-1 1 3 1-3 1 1 1-3 1 3 1 2 1 0 1 1 1 2 1 2 1-1 1 2 1-1 1-3 1-1 1 0 1-1 1-1 1-4 1 1 1 0 1-1 1 0 1 1 1 1 1 0 1-1 1 3 1-1 1 1 1-1 1-2 1-4 1 0 1 1 1 1 1 3 1-4 1-1 1-1 1 3 1-4 1 1 1 2 1 2 1-4 1-1 1 2 1 0 1-6 1 1 1 1 1-3 1-1 1 1 1 0 1 0 1 3 1 2 1-1 1 1 1 1 1-1 1-1 1-4 1 0 1-1 1-1 1-1 1-2 1 2 1 0 1-2 1 0 1 5 1 0 1 2 1 1 1-2 1 4 1 0 1 0 1-2 1-1 1 0 1-3 1-3 1 2 1-4 1 1 1 0 1-4 1 2 1 1 1-2 1 5 1-2 1-1 1 0 1 1 1 1 1 4 1-1 1 1 1 0 1-2 1 4 1 0 1 2 1 2 1 3 1-3"/>
<path class="d2" d="M0 -3l 1 1 1 0 1 0 1 2 1-1 1 0 1 0 1 3 1 2 1-4 1 1 1 0 1 1 1-1 1-1 1 0 1-3 1 0 1 0 1 1 1-1 1 1 1 1 1-3 1 0 1-2 1 0 1 1 1-2 1-1 1 1 1-1 1 1 1-2 1 2 1 0 1-2 1-1 1 0 1-1 1-1 1-1 1 1 1 1 1 1 1-2 1 1 1 0 1 1 1 1 1-3 1 0 1 2 1 1 1-1 1 1 1-1 1-1 1-1 1 0 1 1 1-1 1-2 1 1 1-1 1 0 1-1 1 0 1-1 1 1 1 0 1 0 1-1 1 0 1-1 1-4 1 0 1-2 1-2 1 0 1 2 1-1 1 0 1 0 1-1 1 1 1-1 1-2 1 0 1 0 1 1 1-1 1 0 1-2 1-1 1-2 1 0 1-1 1 3 1-3 1-1 1 0 1-2 1 0 1-2 1 0 1-1 1 0 1 0 1 1 1 1 1-1 1 1 1-1 1-1 1 0 1 0 1-2 1-2 1 0"/>
</g><g transform="matrix(1.2233 0 0 0.6200 245.10 1036.50)">
<path class="s1 t" d="M0 -5l 1-2 1 1 1 0 1 0 1-1 1 0 1 1 1 1 1 0 1 0 1-1 1 1 1 0 1 1 1-2 1-2 1-1 1-1 1-2 1-2 1 2 1 2 1-2 1 0 1-2 1-3 1-1 1-1 1-2 1-4 1 2 1-2 1 1 1-1 1 2 1-2 1 2 1 0 1 1 1 0 1-2 1 0 1-1 1 0 1 0 1 2 1 2 1 2 1 0 1-1 1-1 1 1 1-2 1 1 1 0 1-3 1 1 1 0 1-1 1-3 1 3 1-2 1 0 1 0 1 3 1-3 1 0 1-2 1 2 1-4 1-1 1 1 1 1 1-1 1 0 1-4 1 1 1 0 1-3 1-2 1-4 1 3 1-3 1-1 1-3 1 1 1-3 1 2 1-1 1-1 1 1 1 0 1-1 1-5 1-2 1-6 1 1 1-3 1 1 1-1 1 1 1-1 1 0 1 1 1 0 1-2 1 0 1 1 1 1 1 1 1 2 1 0 1 0 1 0 1 0 1 1 1-2 1 0 1-1 1-2"/>
<path class="s1 t" d="M0 4l 1 0 1 1 1 0 1-1 1 6 1-2 1-1 1-1 1 3 1-3 1 1 1-3 1 3 1 2 1 0 1 1 1 2 1 2 1-1 1 2 1-1 1-3 1-1 1 0 1-1 1-1 1-4 1 1 1 0 1-1 1 0 1 1 1 1 1 0 1-1 1 3 1-1 1 1 1-1 1-2 1-4 1 0 1 1 1 1 1 3 1-4 1-1 1-1 1 3 1-4 1 1 1 2 1 2 1-4 1-1 1 2 1 0 1-6 1 1 1 1 1-3 1-1 1 1 1 0 1 0 1 3 1 2 1-1 1 1 1 1 1-1 1-1 1-4 1 0 1-1 1-1 1-1 1-2 1 2 1 0 1-2 1 0 1 5 1 0 1 2 1 1 1-2 1 4 1 0 1 0 1-2 1-1 1 0 1-3 1-3 1 2 1-4 1 1 1 0 1-4 1 2 1 1 1-2 1 5 1-2 1-1 1 0 1 1 1 1 1 4 1-1 1 1 1 0 1-2 1 4 1 0 1 2 1 2 1 3 1-3"/>
<path class="s2 t" d="M0 -3l 1 1 1 0 1 0 1 2 1-1 1 0 1 0 1 3 1 2 1-4 1 1 1 0 1 1 1-1 1-1 1 0 1-3 1 0 1 0 1 1 1-1 1 1 1 1 1-3 1 0 1-2 1 0 1 1 1-2 1-1 1 1 1-1 1 1 1-2 1 2 1 0 1-2 1-1 1 0 1-1 1-1 1-1 1 1 1 1 1 1 1-2 1 1 1 0 1 1 1 1 1-3 1 0 1 2 1 1 1-1 1 1 1-1 1-1 1-1 1 0 1 1 1-1 1-2 1 1 1-1 1 0 1-1 1 0 1-1 1 1 1 0 1 0 1-1 1 0 1-1 1-4 1 0 1-2 1-2 1 0 1 2 1-1 1 0 1 0 1-1 1 1 1-1 1-2 1 0 1 0 1 1 1-1 1 0 1-2 1-1 1-2 1 0 1-1 1 3 1-3 1-1 1 0 1-2 1 0 1-2 1 0 1-1 1 0 1 0 1 1 1 1 1-1 1 1 1-1 1-1 1 0 1 0 1-2 1-2 1 0"/>
</g></g>
<rect x="245.1" y="943.5" width="146.8" height="155.0" fill="none" stroke="#000" stroke-width="1.1"/>
<path d="M240.2 974.5H245.1 M240.2 1036.5H245.1 M240.2 1098.5H245.1 M269.5 1098.5V1103.4 M330.5 1098.5V1103.4 M391.5 1098.5V1103.4" stroke="#000" stroke-width="1.1" fill="none"/>
<rect x="291.8" y="950.6" width="93.1" height="45.7" rx="4" ry="4" fill="#fff" fill-opacity="0.8" stroke="#cccccc" stroke-width="1.2"/>
<text x="296.3" y="967.2" font-size="13.89" textLength="80.4" lengthAdjust="spacingAndGlyphs">MACKENZIE</text>
<text x="296.3" y="988.0" font-size="13.89" textLength="73.7" lengthAdjust="spacingAndGlyphs">(NA, 0.1%)</text>
<clipPath id="c5_2"><rect x="428.4" y="943.5" width="147.1" height="155.0"/></clipPath>
<g clip-path="url(#c5_2)">
<line x1="428.4" y1="1036.5" x2="575.5" y2="1036.5" stroke="#aaa" stroke-width="0.6" stroke-dasharray="1,1.7"/>
<g transform="matrix(1.2258 0 0 0.6200 428.40 1036.50)">
<path d="M0 -5l 1-2 1 0 1 1 1 0 1-1 1 1 1 1 1-3 1-4 1 1 1 5 1-1 1 1 1-6 1 1 1-2 1-2 1-1 1-3 1-1 1-2 1 1 1-2 1 2 1-6 1-4 1-3 1-5 1-1 1 1 1-4 1 1 1 2 1-2 1-2 1-2 1 1 1-2 1-5 1 1 1 2 1-2 1-5 1 2 1 1 1 0 1 4 1 2 1-2 1 1 1-2 1 3 1-4 1 2 1 0 1 0 1-2 1 1 1 1 1 0 1 0 1 1 1-5 1-1 1 4 1 0 1 0 1 0 1 1 1-3 1 2 1-3 1-1 1-3 1-1 1 1 1 1 1 2 1 0 1 0 1-1 1 1 1-2 1 1 1 0 1 0 1 0 1-3 1-3 1-2 1 4 1-1 1-1 1-2 1-6 1-1 1-1 1-2 1 0 1-2 1 2 1 1 1 0 1 0 1 2 1-4 1 2 1 1 1 0 1 0 1 1 1-3 1 0 1 1 1-2 1-1 1 1 1 2 1 0 1 3 0 21-1 2-1-6-1 5-1 3-1-2-1-1-1-1-1 3-1-3-1 2-1 4-1 1-1-1-1 1-1-6-1 4-1-1-1-2-1 2-1 0-1 3-1-3-1-2-1 1-1-3-1 0-1 2-1 0-1 1-1 1-1 1-1 2-1-1-1 4-1 0-1 2-1 0-1 4-1-1-1 0-1-1-1 1-1 1-1-2-1 3-1-3-1 6-1-2-1-3-1 0-1-1-1-3-1 1-1 3-1-1-1-5-1 2-1 0-1-1-1-1-1 2-1 1-1-3-1 2-1 2-1-3-1 2-1 2-1 0-1 1-1-2-1 4-1-2-1 4-1-1-1-7-1 5-1 1-1 3-1-1-1 0-1 4-1-2-1-3-1 0-1 0-1 6-1-2-1 2-1-3-1 3-1 5-1 3-1-1-1-1-1-2-1 1-1 7-1 3-1 0-1-1-1 3-1 2-1 2-1-2-1 4-1 2-1 1-1 3-1-1-1 0-1 0-1-3-1-1-1 4-1-3-1 2-1 0-1-2-1 0z" fill="#9999cc"/>
<path d="M0 -3l 1 0 1 0 1 1 1-3 1 1 1 4 1-2 1-1 1 1 1 0 1 3 1 1 1-6 1-4 1 1 1-4 1 1 1-2 1-1 1-1 1 4 1 1 1 0 1-1 1 0 1-3 1 3 1-6 1 0 1-1 1-1 1-1 1 3 1 0 1-2 1 2 1-2 1 1 1 4 1-3 1-2 1-1 1 3 1-2 1 1 1 3 1-1 1 3 1-2 1 3 1 0 1-2 1-1 1-3 1 1 1-1 1 4 1 0 1 3 1 1 1 1 1 2 1-3 1 0 1 1 1-2 1-3 1 0 1-2 1 2 1 0 1-3 1 0 1-2 1 2 1 2 1 0 1-1 1-1 1 0 1-3 1-1 1-4 1 2 1-3 1 1 1-1 1-1 1-2 1 3 1 4 1 0 1-2 1-1 1-2 1 0 1-4 1 2 1 3 1-2 1 1 1-2 1 2 1 0 1-4 1 0 1 0 1 1 1-2 1 3 1-3 1-1 1 3 1-4 1 1 1-1 1-1 1 2 1-1 1 1 0 44-1 0-1-3-1 3-1-2-1 3-1 1-1 1-1-1-1 1-1 1-1-2-1 1-1-4-1 2-1-3-1-1-1 0-1-3-1 2-1-1-1-1-1-1-1 4-1-1-1 0-1 1-1 1-1 2-1-1-1 1-1-2-1 0-1 1-1 2-1 0-1 1-1 2-1 2-1-5-1 2-1-3-1 2-1-1-1-1-1 2-1 2-1 4-1-2-1 5-1-1-1 1-1-4-1 1-1 0-1-3-1 2-1-1-1 0-1 0-1 4-1-1-1 4-1-2-1-2-1 1-1 3-1-2-1-1-1 2-1-3-1 0-1-2-1 3-1-4-1-6-1 1-1-1-1 4-1-4-1-2-1-1-1 2-1 0-1 1-1 1-1-3-1-1-1 0-1 6-1-2-1 1-1-4-1 1-1-2-1 2-1 2-1-5-1 1-1-3-1-1-1 0-1 5-1-3-1 2-1 3-1-5-1 1-1 1-1-1-1 4-1-2-1-1-1 2-1-1-1 0-1 0-1-2-1 0-1 0-1-1z" fill="#ffd700" fill-opacity="0.4"/>
<path class="d1" d="M0 -3l 1 0 1 0 1 1 1-3 1 1 1 4 1-2 1-1 1 1 1 0 1 3 1 1 1-6 1-4 1 1 1-4 1 1 1-2 1-1 1-1 1 4 1 1 1 0 1-1 1 0 1-3 1 3 1-6 1 0 1-1 1-1 1-1 1 3 1 0 1-2 1 2 1-2 1 1 1 4 1-3 1-2 1-1 1 3 1-2 1 1 1 3 1-1 1 3 1-2 1 3 1 0 1-2 1-1 1-3 1 1 1-1 1 4 1 0 1 3 1 1 1 1 1 2 1-3 1 0 1 1 1-2 1-3 1 0 1-2 1 2 1 0 1-3 1 0 1-2 1 2 1 2 1 0 1-1 1-1 1 0 1-3 1-1 1-4 1 2 1-3 1 1 1-1 1-1 1-2 1 3 1 4 1 0 1-2 1-1 1-2 1 0 1-4 1 2 1 3 1-2 1 1 1-2 1 2 1 0 1-4 1 0 1 0 1 1 1-2 1 3 1-3 1-1 1 3 1-4 1 1 1-1 1-1 1 2 1-1 1 1"/>
<path class="d1" d="M0 7l 1 1 1 0 1 0 1 2 1 0 1 0 1 1 1-2 1 1 1 2 1-4 1 1 1-1 1-1 1 5 1-3 1-2 1 3 1-5 1 0 1 1 1 3 1-1 1 5 1-2 1-2 1 2 1-1 1 4 1-1 1 2 1-6 1 0 1 1 1 3 1-1 1-1 1 0 1-2 1 1 1 2 1 4 1-4 1 1 1-1 1 6 1 4 1-3 1 2 1 0 1 3 1-2 1 1 1 2 1-3 1-1 1 2 1 2 1-4 1 1 1-4 1 0 1 0 1 1 1-2 1 3 1 0 1-1 1 4 1-1 1 1 1-5 1 2 1-4 1-2 1-2 1 1 1 1 1-2 1 3 1-2 1 5 1-2 1-2 1-1 1 0 1-2 1-1 1 0 1 2 1-1 1 1 1-2 1-1 1-1 1 0 1 1 1-4 1 1 1 1 1 1 1-2 1 3 1 0 1 1 1 3 1-2 1 4 1-1 1 2 1-1 1-1 1 1 1-1 1-1 1-3 1 2 1-3 1 3 1 0"/>
<path class="d2" d="M0 1l 1 0 1 1 1 0 1 1 1 1 1 0 1 0 1 1 1-1 1 0 1 0 1-1 1 0 1 1 1 0 1 0 1-2 1 1 1-1 1 0 1 1 1 0 1 0 1-1 1 2 1 0 1-1 1-2 1 1 1 1 1-1 1 0 1-1 1-1 1-1 1 2 1 2 1-1 1-2 1 0 1 1 1-1 1 0 1-2 1 0 1 0 1 0 1 0 1 0 1 2 1-1 1 1 1 1 1-2 1 1 1 0 1-1 1 1 1 0 1-2 1 0 1-1 1 0 1 1 1 1 1 0 1 1 1-1 1 0 1-2 1 1 1-1 1 1 1 0 1 0 1-2 1 2 1-2 1-3 1 0 1-1 1 0 1 1 1 0 1-1 1 0 1-1 1 1 1-2 1 1 1 1 1-3 1 0 1 0 1 1 1 0 1-1 1 0 1-2 1 1 1 2 1-2 1 0 1 1 1-2 1-1 1 1 1 2 1 1 1-1 1-2 1-2 1 1 1 1 1-1 1-1 1-1 1 0 1-1 1 2"/>
<path class="s1" d="M0 -5l 1-2 1 0 1 1 1 0 1-1 1 1 1 1 1-3 1-4 1 1 1 5 1-1 1 1 1-6 1 1 1-2 1-2 1-1 1-3 1-1 1-2 1 1 1-2 1 2 1-6 1-4 1-3 1-5 1-1 1 1 1-4 1 1 1 2 1-2 1-2 1-2 1 1 1-2 1-5 1 1 1 2 1-2 1-5 1 2 1 1 1 0 1 4 1 2 1-2 1 1 1-2 1 3 1-4 1 2 1 0 1 0 1-2 1 1 1 1 1 0 1 0 1 1 1-5 1-1 1 4 1 0 1 0 1 0 1 1 1-3 1 2 1-3 1-1 1-3 1-1 1 1 1 1 1 2 1 0 1 0 1-1 1 1 1-2 1 1 1 0 1 0 1 0 1-3 1-3 1-2 1 4 1-1 1-1 1-2 1-6 1-1 1-1 1-2 1 0 1-2 1 2 1 1 1 0 1 0 1 2 1-4 1 2 1 1 1 0 1 0 1 1 1-3 1 0 1 1 1-2 1-1 1 1 1 2 1 0 1 3"/>
<path class="s1" d="M0 1l 1 0 1 2 1 0 1-2 1 3 1-4 1 1 1 3 1 0 1 0 1 1 1-3 1-1 1-2 1-4 1 2 1-2 1-2 1-3 1 1 1 0 1-3 1-7 1-1 1 2 1 1 1 1 1-3 1-5 1-3 1 3 1-2 1 2 1-6 1 0 1 0 1 3 1 2 1-4 1 0 1 1 1-3 1-1 1-5 1 7 1 1 1-4 1 2 1-4 1 2 1-1 1 0 1-2 1-2 1 3 1-2 1-2 1 3 1-1 1-2 1 1 1 1 1 0 1-2 1 5 1 1 1-3 1-1 1 3 1 1 1 0 1 3 1 2 1-6 1 3 1-3 1 2 1-1 1-1 1 1 1 0 1 1 1-4 1 0 1-2 1 0 1-4 1 1 1-2 1-1 1-1 1-1 1 0 1-2 1 0 1 3 1-1 1 2 1 3 1-3 1 0 1-2 1 2 1 1 1-4 1 6 1-1 1 1 1-1 1-4 1-2 1 3 1-3 1 1 1 1 1 2 1-3 1-5 1 6 1-2"/>
<path class="s2" d="M0 -2l 1 1 1-1 1 0 1-1 1 1 1 0 1-1 1 0 1 0 1 0 1 0 1 0 1-5 1 0 1-1 1 2 1-1 1 0 1-2 1 2 1-1 1-2 1-1 1-1 1-3 1-4 1-4 1-2 1-1 1-2 1 1 1 0 1-2 1 0 1-1 1-1 1-1 1-2 1 0 1-1 1 0 1 2 1 2 1-1 1 0 1 0 1 0 1 0 1-2 1 2 1-3 1 1 1-2 1-1 1-1 1-2 1 1 1-1 1-1 1 1 1 0 1-1 1-2 1-1 1 1 1-1 1 0 1 0 1 0 1 1 1 1 1 1 1 0 1 0 1 0 1 1 1 0 1 0 1 2 1-3 1 1 1-1 1-1 1-1 1 2 1-1 1 1 1 0 1-1 1-1 1 0 1-1 1-2 1 0 1-1 1 1 1-1 1 0 1-3 1 0 1 0 1 2 1-4 1 0 1-1 1 0 1 2 1-1 1 0 1 0 1 2 1 0 1-1 1 0 1-2 1 0 1 0 1-1 1 0 1 1"/>
</g></g>
<rect x="428.4" y="943.5" width="147.1" height="155.0" fill="none" stroke="#000" stroke-width="1.1"/>
<path d="M423.5 974.5H428.4 M423.5 1036.5H428.4 M423.5 1098.5H428.4 M452.5 1098.5V1103.4 M514.5 1098.5V1103.4 M575.5 1098.5V1103.4" stroke="#000" stroke-width="1.1" fill="none"/>
<rect x="435.4" y="950.6" width="86.3" height="45.7" rx="4" ry="4" fill="#fff" fill-opacity="0.8" stroke="#cccccc" stroke-width="1.2"/>
<text x="439.9" y="967.2" font-size="13.89" textLength="37.0" lengthAdjust="spacingAndGlyphs">NASS</text>
<text x="439.9" y="988.0" font-size="13.89" textLength="73.7" lengthAdjust="spacingAndGlyphs">(NA, 6.3%)</text>
<clipPath id="c5_3"><rect x="611.9" y="943.5" width="146.6" height="155.0"/></clipPath>
<g clip-path="url(#c5_3)">
<line x1="611.9" y1="1036.5" x2="758.5" y2="1036.5" stroke="#aaa" stroke-width="0.6" stroke-dasharray="1,1.7"/>
<g transform="matrix(1.2217 0 0 0.6200 611.90 1036.50)">
<path d="M0 -7l 1-1 1 0 1 2 1-3 1-1 1-2 1-2 1-2 1-2 1 3 1-1 1-2 1-3 1-4 1-5 1-5 1-7 1 0 1-3 1-1 1-3 1-4 1 0 1-6 1-2 1 1 1-1 1-2 1-3 1 0 1-3 1 0 1 1 1 1 1-5 1 0 1 3 1-1 1-3 1-3 1 0 1 1 1 0 1 1 1-2 1-1 1-1 1 0 1-1 1 5 1-3 1-2 1 1 1-3 1-2 1-2 1-2 1 3 1-7 1-2 1-2 1-1 1-4 1 2 1-3 1 3 1-4 1-3 1-2 1-4 1-4 1 0 1-1 1-2 1-1 1-3 1 0 1-2 1-1 1-5 1-1 1-1 1-1 1-2 1 1 1 0 1 0 1-6 1 1 1 2 1-1 1 3 1-1 1 4 1-2 1-2 1-4 1 6 1-1 1 1 1 3 1 4 1 2 1-2 1 0 1 3 1 2 1-1 1 1 1 0 1 1 1 2 1 2 1 0 1-4 1 5 1 0 1 0 1-2 1 5 0 55-1 4-1 2-1 0-1 4-1-2-1 1-1-3-1 1-1 3-1 0-1-5-1 1-1-2-1 1-1 0-1-1-1 0-1-3-1 1-1 1-1-4-1-1-1-4-1-1-1-3-1-1-1-2-1-4-1-1-1-2-1 1-1-3-1 0-1 1-1 1-1 2-1 0-1 4-1 3-1 1-1 0-1 0-1 3-1-3-1 1-1-3-1 1-1-1-1 3-1 1-1 0-1 0-1 3-1-1-1 3-1 1-1 3-1 1-1 0-1 3-1 1-1 0-1 5-1-3-1 3-1 1-1 0-1 4-1 1-1 0-1-4-1 3-1 2-1-3-1-3-1 2-1 2-1 4-1 0-1-2-1 1-1-3-1 0-1 3-1 2-1 2-1 1-1 2-1-1-1 1-1 1-1 2-1 1-1 1-1 4-1-2-1 1-1 2-1-2-1 1-1 4-1 5-1 0-1 3-1 2-1 0-1 1-1 1-1 4-1-5-1-1-1 0-1 2-1 1-1 2-1 2-1 1-1 1-1 0-1 1z" fill="#9999cc"/>
<path d="M0 -3l 1-2 1-2 1-2 1-2 1-1 1 0 1 0 1-2 1 1 1-4 1 3 1 1 1 1 1-1 1-2 1 4 1-2 1-3 1 2 1 1 1 1 1-3 1 1 1 1 1-3 1 3 1-1 1 0 1 0 1-2 1 4 1 1 1 0 1 1 1-1 1 1 1-2 1 2 1 2 1-3 1 0 1 1 1 4 1-2 1 2 1 0 1 0 1 0 1 2 1-1 1 1 1 1 1 0 1-2 1-2 1-5 1 0 1-1 1-2 1 1 1-1 1 1 1 2 1-3 1 1 1-1 1-3 1-1 1-3 1 1 1-3 1-1 1 2 1-2 1 1 1-5 1 1 1-2 1-1 1 2 1 1 1-3 1 3 1 2 1 4 1-2 1-3 1 2 1 0 1 0 1-1 1 1 1 1 1-2 1 2 1 1 1 2 1-1 1 2 1-3 1 2 1-1 1 4 1-2 1-2 1 1 1-3 1-1 1 1 1 2 1-2 1 5 1-1 1 2 1-5 1 2 1 2 1 4 1 4 1 1 0 1-1 0-1 3-1-2-1 2-1 2-1-1-1 4-1-2-1 4-1-6-1-1-1-2-1 3-1 1-1 3-1-2-1-1-1-1-1 0-1 2-1 1-1 2-1-1-1-3-1 3-1 0-1 4-1-1-1 3-1-1-1-2-1-1-1 0-1 1-1-1-1-2-1-2-1-2-1 0-1 2-1 1-1 1-1-1-1 3-1 0-1 1-1-3-1 5-1-4-1 0-1-1-1 4-1-1-1-1-1 0-1-2-1 0-1-4-1-3-1-1-1 4-1 0-1-3-1 5-1-1-1 3-1-2-1 4-1 4-1 3-1-2-1 0-1 2-1 1-1 1-1-1-1 0-1-4-1 2-1 3-1-3-1 1-1 1-1 1-1 0-1 3-1 0-1-1-1-1-1 1-1 1-1 2-1-3-1 0-1-2-1 1-1 3-1 0-1-2-1-3-1 4-1 1-1 3-1 1-1-3-1-4-1 2-1-1-1 1-1-2-1 1-1-4-1-2-1 0-1-1-1-1-1 0-1 0-1 0-1-1z" fill="#ffd700" fill-opacity="0.4"/>
<path class="d1" d="M0 -3l 1-2 1-2 1-2 1-2 1-1 1 0 1 0 1-2 1 1 1-4 1 3 1 1 1 1 1-1 1-2 1 4 1-2 1-3 1 2 1 1 1 1 1-3 1 1 1 1 1-3 1 3 1-1 1 0 1 0 1-2 1 4 1 1 1 0 1 1 1-1 1 1 1-2 1 2 1 2 1-3 1 0 1 1 1 4 1-2 1 2 1 0 1 0 1 0 1 2 1-1 1 1 1 1 1 0 1-2 1-2 1-5 1 0 1-1 1-2 1 1 1-1 1 1 1 2 1-3 1 1 1-1 1-3 1-1 1-3 1 1 1-3 1-1 1 2 1-2 1 1 1-5 1 1 1-2 1-1 1 2 1 1 1-3 1 3 1 2 1 4 1-2 1-3 1 2 1 0 1 0 1-1 1 1 1 1 1-2 1 2 1 1 1 2 1-1 1 2 1-3 1 2 1-1 1 4 1-2 1-2 1 1 1-3 1-1 1 1 1 2 1-2 1 5 1-1 1 2 1-5 1 2 1 2 1 4 1 4 1 1"/>
<path class="d1" d="M0 3l 1 1 1 0 1 0 1 0 1 1 1 1 1 0 1 2 1 4 1-1 1 2 1-1 1 1 1-2 1 4 1 3 1-1 1-3 1-1 1-4 1 3 1 2 1 0 1-3 1-1 1 2 1 0 1 3 1-2 1-1 1-1 1 1 1 1 1 0 1-3 1 0 1-1 1-1 1-1 1 3 1-3 1-2 1 4 1 0 1 1 1-1 1-1 1-2 1 0 1 2 1-3 1-4 1-4 1 2 1-3 1 1 1-5 1 3 1 0 1-4 1 1 1 3 1 4 1 0 1 2 1 0 1 1 1 1 1-4 1 1 1 0 1 4 1-5 1 3 1-1 1 0 1-3 1 1 1-1 1-1 1-2 1 0 1 2 1 2 1 2 1 1 1-1 1 0 1 1 1 2 1 1 1-3 1 1 1-4 1 0 1-3 1 3 1 1 1-2 1-1 1-2 1 0 1 1 1 1 1 2 1-3 1-1 1-3 1 2 1 1 1 6 1-4 1 2 1-4 1 1 1-2 1-2 1 2 1-3 1 0"/>
<path class="d2" d="M0 1l 1-1 1 1 1-1 1 0 1 1 1 0 1-2 1-1 1-1 1 0 1 2 1-2 1 1 1 0 1 1 1 2 1 0 1-1 1 1 1 0 1 1 1 1 1 0 1-1 1 1 1 0 1 1 1 0 1 1 1 0 1 0 1 1 1-1 1-2 1 0 1 1 1-2 1 2 1 0 1-1 1 1 1-2 1 0 1 0 1 0 1-2 1 2 1-1 1 0 1-2 1 0 1-2 1 0 1 2 1-2 1-1 1-1 1 0 1 1 1-1 1 0 1-2 1-2 1 2 1-3 1-1 1-2 1-2 1 1 1 3 1 0 1-1 1-3 1 0 1 2 1 1 1-1 1 1 1 1 1 0 1 0 1 1 1-1 1-1 1-1 1 0 1 0 1-1 1 0 1-1 1-2 1 0 1 1 1 0 1-1 1-1 1 3 1 2 1 1 1-2 1 3 1-1 1 3 1-2 1 1 1-2 1 0 1 0 1-3 1 0 1-1 1 0 1 2 1 0 1 0 1 2 1-2 1 0 1 0 1 1"/>
<path class="s1" d="M0 -7l 1-1 1 0 1 2 1-3 1-1 1-2 1-2 1-2 1-2 1 3 1-1 1-2 1-3 1-4 1-5 1-5 1-7 1 0 1-3 1-1 1-3 1-4 1 0 1-6 1-2 1 1 1-1 1-2 1-3 1 0 1-3 1 0 1 1 1 1 1-5 1 0 1 3 1-1 1-3 1-3 1 0 1 1 1 0 1 1 1-2 1-1 1-1 1 0 1-1 1 5 1-3 1-2 1 1 1-3 1-2 1-2 1-2 1 3 1-7 1-2 1-2 1-1 1-4 1 2 1-3 1 3 1-4 1-3 1-2 1-4 1-4 1 0 1-1 1-2 1-1 1-3 1 0 1-2 1-1 1-5 1-1 1-1 1-1 1-2 1 1 1 0 1 0 1-6 1 1 1 2 1-1 1 3 1-1 1 4 1-2 1-2 1-4 1 6 1-1 1 1 1 3 1 4 1 2 1-2 1 0 1 3 1 2 1-1 1 1 1 0 1 1 1 2 1 2 1 0 1-4 1 5 1 0 1 0 1-2 1 5"/>
<path class="s1" d="M0 1l 1-1 1 0 1-1 1-1 1-2 1-2 1-1 1-2 1 0 1 1 1 5 1-4 1-1 1-1 1 0 1-2 1-3 1 0 1-5 1-4 1-1 1 2 1-2 1-1 1 2 1-4 1-1 1-1 1-2 1-1 1-1 1 1 1-2 1-1 1-2 1-2 1-3 1 0 1 3 1-1 1 2 1 0 1-4 1-2 1-2 1 3 1 3 1-2 1-3 1 4 1 0 1-1 1-4 1 0 1-1 1-3 1 3 1-5 1 0 1-1 1-3 1 0 1-1 1-3 1-1 1-3 1 1 1-3 1 0 1 0 1-1 1-3 1 1 1-1 1 3 1-1 1 3 1-3 1 0 1 0 1-1 1-3 1-4 1 0 1-2 1-1 1-1 1 0 1 3 1-1 1 2 1 1 1 4 1 2 1 1 1 3 1 1 1 4 1 1 1 4 1-1 1-1 1 3 1 0 1 1 1 0 1-1 1 2 1-1 1 5 1 0 1-3 1-1 1 3 1-1 1 2 1-4 1 0 1-2 1-4"/>
<path class="s2" d="M0 -3l 1-1 1-1 1 0 1-2 1-1 1 0 1-1 1-2 1-2 1 0 1-3 1-3 1-3 1-4 1 0 1-2 1-4 1-2 1-1 1-4 1-2 1-2 1-3 1 0 1-2 1-2 1-2 1-2 1-5 1 1 1 0 1-1 1 1 1-1 1-2 1 1 1-2 1 0 1 0 1-1 1 1 1 3 1-2 1-1 1-1 1-1 1-3 1 2 1 0 1-2 1 0 1-1 1 2 1 0 1-3 1 0 1-2 1 0 1-2 1-1 1-3 1-1 1-1 1-1 1 0 1-2 1-1 1-2 1-1 1-1 1-1 1-3 1 0 1-1 1 0 1-1 1-1 1-1 1-2 1-1 1-1 1-1 1-3 1 2 1 0 1-2 1-1 1 1 1 0 1 1 1-1 1 1 1 1 1 1 1 0 1 1 1-1 1 3 1 0 1 0 1 0 1 0 1 2 1 0 1-2 1 1 1 1 1 0 1 0 1 1 1-1 1-1 1 1 1-1 1 1 1 0 1 0 1 0 1 1 1-3"/>
</g></g>
<rect x="611.9" y="943.5" width="146.6" height="155.0" fill="none" stroke="#000" stroke-width="1.1"/>
<path d="M607.0 974.5H611.9 M607.0 1036.5H611.9 M607.0 1098.5H611.9 M636.5 1098.5V1103.4 M697.5 1098.5V1103.4 M758.5 1098.5V1103.4" stroke="#000" stroke-width="1.1" fill="none"/>
<rect x="657.3" y="1045.9" width="94.2" height="45.7" rx="4" ry="4" fill="#fff" fill-opacity="0.8" stroke="#cccccc" stroke-width="1.2"/>
<text x="661.8" y="1062.5" font-size="13.89" textLength="61.2" lengthAdjust="spacingAndGlyphs">THJORSA</text>
<text x="661.8" y="1083.3" font-size="13.89" textLength="81.5" lengthAdjust="spacingAndGlyphs">(EU, 16.6%)</text>
<clipPath id="c6_0"><rect x="61.5" y="1125.5" width="146.6" height="154.0"/></clipPath>
<g clip-path="url(#c6_0)">
<line x1="61.5" y1="1217.9" x2="208.1" y2="1217.9" stroke="#aaa" stroke-width="0.6" stroke-dasharray="1,1.7"/>
<g transform="matrix(1.2217 0 0 0.6160 61.50 1217.90)">
<path d="M0 -8l 1-4 1-1 1-3 1-1 1 0 1-4 1-2 1-3 1-2 1-2 1-3 1-2 1-7 1-5 1-5 1-4 1-3 1-5 1-3 1-2 1-5 1-1 1-3 1-4 1-2 1-4 1 0 1 0 1 0 1-4 1 3 1 2 1-2 1 0 1-2 1-1 1 4 1-2 1 1 1-2 1 1 1 0 1 1 1-2 1 2 1 1 1-1 1-2 1-3 1 3 1-2 1-6 1 0 1-1 1-2 1 0 1-2 1 2 1-4 1-3 1-1 1 0 1-3 1-7 1-1 1-2 1-4 1-6 1-3 1-2 1-4 1 0 1-4 1 2 1 0 1-5 1-1 1-1 1-3 1-1 1 1 1-2 1 1 1-2 1-3 1 0 1-2 1-1 1 1 1 1 1 3 1 3 1 2 1-2 1-2 1-1 1 1 1 1 1 4 1 0 1 0 1 3 1-4 1 1 1 0 1 1 1 1 1-1 1 1 1 3 1 0 1-1 1 1 1-1 1-1 1 0 1 1 1 2 1-2 1-1 0 97-1-1-1-4-1-2-1 2-1 1-1-1-1 0-1-4-1-3-1-1-1 4-1 2-1-2-1 2-1 0-1 3-1-2-1-2-1 0-1-1-1 1-1 0-1 0-1-2-1 1-1 1-1-3-1-2-1 6-1-4-1 3-1-3-1-3-1-4-1 0-1-1-1 0-1 1-1-2-1-5-1 1-1 2-1-1-1-1-1-2-1 2-1 2-1 0-1-1-1-2-1 1-1 3-1-1-1 0-1 2-1-1-1 1-1 3-1 0-1 0-1 2-1 2-1 1-1 1-1 3-1 0-1 5-1 2-1 1-1-1-1 2-1 1-1 1-1-3-1 0-1 0-1-3-1 0-1 2-1-1-1 4-1-1-1 1-1 3-1 2-1-1-1 2-1 0-1 0-1 4-1-2-1-2-1 4-1 1-1 2-1 2-1 2-1 6-1 1-1 2-1 2-1 4-1 0-1 2-1 2-1 4-1-2-1 2-1 1-1 4-1 0-1 4-1-2-1 1-1 0-1 3-1 0-1 0-1-1-1 0z" fill="#9999cc"/>
<path d="M0 -5l 1-2 1 0 1-2 1 1 1-1 1 0 1-2 1 2 1-6 1-1 1 3 1 3 1 1 1 1 1-3 1-2 1 0 1 0 1 0 1 3 1-1 1 0 1-2 1 2 1 0 1-2 1-4 1 3 1 1 1-2 1 3 1 0 1 0 1 3 1 1 1-2 1 3 1 0 1 1 1-1 1-1 1 0 1 0 1 2 1-3 1 1 1-2 1 2 1 1 1 0 1 0 1-2 1 0 1 0 1 5 1-1 1 1 1-6 1-2 1-1 1-1 1-2 1 1 1-1 1-1 1 0 1-1 1-1 1-2 1-4 1 1 1-1 1-1 1 1 1-1 1-5 1 5 1-2 1-4 1 1 1 2 1 0 1 3 1-3 1-2 1-3 1 4 1 4 1-5 1 0 1 1 1-3 1-1 1 4 1 0 1-3 1-1 1 0 1 6 1 0 1 2 1 1 1 1 1 0 1 2 1 3 1-1 1 2 1-1 1-1 1 0 1 2 1 0 1-4 1-4 1 5 1-4 1-1 1 3 1 0 0 31-1 0-1 0-1-4-1-1-1 0-1 0-1-1-1-1-1 4-1-4-1 1-1 0-1 4-1 1-1-3-1-1-1 1-1 2-1-1-1 3-1-1-1 0-1-3-1-2-1 2-1 2-1 0-1-2-1-3-1 1-1 4-1-1-1-2-1-1-1 1-1 2-1 1-1 2-1-3-1-1-1-1-1 1-1 2-1-1-1 2-1 1-1-1-1-6-1 0-1 1-1-1-1 2-1-1-1-1-1-2-1 3-1 1-1-4-1-1-1 3-1-4-1 2-1-2-1 3-1-3-1 1-1 0-1 4-1 1-1 1-1 0-1 0-1 1-1-3-1 2-1 6-1 2-1 1-1-4-1 1-1-1-1-1-1 1-1-2-1 0-1 6-1-2-1 1-1-1-1-1-1 0-1 1-1 1-1 0-1 1-1 0-1-2-1 1-1 3-1 2-1-4-1-2-1-3-1 1-1 0-1-1-1 0-1 3-1 0-1 1-1-3-1 0-1-2-1-2-1-1-1 3-1-3-1 0-1-1-1 1z" fill="#ffd700" fill-opacity="0.4"/>
<path class="d1" d="M0 -5l 1-2 1 0 1-2 1 1 1-1 1 0 1-2 1 2 1-6 1-1 1 3 1 3 1 1 1 1 1-3 1-2 1 0 1 0 1 0 1 3 1-1 1 0 1-2 1 2 1 0 1-2 1-4 1 3 1 1 1-2 1 3 1 0 1 0 1 3 1 1 1-2 1 3 1 0 1 1 1-1 1-1 1 0 1 0 1 2 1-3 1 1 1-2 1 2 1 1 1 0 1 0 1-2 1 0 1 0 1 5 1-1 1 1 1-6 1-2 1-1 1-1 1-2 1 1 1-1 1-1 1 0 1-1 1-1 1-2 1-4 1 1 1-1 1-1 1 1 1-1 1-5 1 5 1-2 1-4 1 1 1 2 1 0 1 3 1-3 1-2 1-3 1 4 1 4 1-5 1 0 1 1 1-3 1-1 1 4 1 0 1-3 1-1 1 0 1 6 1 0 1 2 1 1 1 1 1 0 1 2 1 3 1-1 1 2 1-1 1-1 1 0 1 2 1 0 1-4 1-4 1 5 1-4 1-1 1 3 1 0"/>
<path class="d1" d="M0 4l 1-1 1 1 1 0 1 3 1-3 1 1 1 2 1 2 1 0 1 3 1-1 1 0 1-3 1 0 1 1 1 0 1-1 1 3 1 2 1 4 1-2 1-3 1-1 1 2 1 0 1-1 1 0 1-1 1-1 1 0 1 1 1 1 1-1 1 2 1-6 1 0 1 2 1-1 1 1 1 1 1-1 1 4 1-1 1-2 1-6 1-2 1 3 1-1 1 0 1 0 1-1 1-1 1-4 1 0 1-1 1 3 1-3 1 2 1-2 1 4 1-3 1 1 1 4 1-1 1-3 1 2 1 1 1 1 1-2 1 1 1-1 1 0 1 6 1 1 1-1 1-2 1 1 1-2 1-1 1 1 1 1 1 3 1-2 1-1 1-2 1-1 1 1 1 2 1 1 1-4 1-1 1 3 1 2 1 0 1-2 1-2 1 2 1 3 1 0 1 1 1-3 1 1 1-2 1-1 1 1 1 3 1-1 1-4 1 0 1-1 1 4 1-4 1 1 1 1 1 0 1 0 1 1 1 4 1 0 1 0"/>
<path class="d2" d="M0 0l 1 1 1-2 1 0 1 0 1 0 1-2 1 0 1-1 1-1 1 1 1 0 1 0 1 0 1 0 1 0 1 1 1 1 1 1 1-1 1 1 1-1 1 1 1 2 1 0 1 1 1 2 1 1 1 0 1 0 1 0 1 1 1-1 1 1 1 1 1 0 1-1 1-1 1-1 1 1 1-2 1 0 1 0 1 1 1 0 1 2 1-2 1-1 1-2 1-1 1-1 1-2 1 1 1-1 1 0 1 1 1-3 1 1 1 1 1-2 1 0 1-2 1 1 1 0 1-1 1 0 1 0 1 0 1-1 1-1 1-1 1 0 1-2 1 2 1 0 1-2 1 0 1-2 1 0 1 1 1 0 1-2 1 1 1 0 1 1 1 3 1-3 1 0 1 1 1 1 1 0 1 0 1-1 1 1 1 0 1 1 1 0 1-1 1-2 1 2 1-1 1 3 1 0 1 0 1 1 1-1 1 0 1 2 1-3 1 0 1 0 1 0 1-1 1-2 1 2 1-1 1 2 1-1 1-1 1 0 1 1"/>
<path class="s1" d="M0 -8l 1-4 1-1 1-3 1-1 1 0 1-4 1-2 1-3 1-2 1-2 1-3 1-2 1-7 1-5 1-5 1-4 1-3 1-5 1-3 1-2 1-5 1-1 1-3 1-4 1-2 1-4 1 0 1 0 1 0 1-4 1 3 1 2 1-2 1 0 1-2 1-1 1 4 1-2 1 1 1-2 1 1 1 0 1 1 1-2 1 2 1 1 1-1 1-2 1-3 1 3 1-2 1-6 1 0 1-1 1-2 1 0 1-2 1 2 1-4 1-3 1-1 1 0 1-3 1-7 1-1 1-2 1-4 1-6 1-3 1-2 1-4 1 0 1-4 1 2 1 0 1-5 1-1 1-1 1-3 1-1 1 1 1-2 1 1 1-2 1-3 1 0 1-2 1-1 1 1 1 1 1 3 1 3 1 2 1-2 1-2 1-1 1 1 1 1 1 4 1 0 1 0 1 3 1-4 1 1 1 0 1 1 1 1 1-1 1 1 1 3 1 0 1-1 1 1 1-1 1-1 1 0 1 1 1 2 1-2 1-1"/>
<path class="s1" d="M0 0l 1 0 1 1 1 0 1 0 1-3 1 0 1-1 1 2 1-4 1 0 1-4 1-1 1-2 1 2 1-4 1-2 1-2 1 0 1-4 1-2 1-2 1-1 1-6 1-2 1-2 1-2 1-1 1-4 1 2 1 2 1-4 1 0 1 0 1-2 1 1 1-2 1-3 1-1 1 1 1-4 1 1 1-2 1 0 1 3 1 0 1 0 1 3 1-1 1-1 1-2 1 1 1-1 1-2 1-5 1 0 1-3 1-1 1-1 1-2 1-2 1 0 1 0 1-3 1-1 1 1 1-2 1 0 1 1 1-3 1-1 1 2 1 1 1 0 1-2 1-2 1 2 1 1 1 1 1-2 1-1 1 5 1 2 1-1 1 0 1 1 1 0 1 4 1 3 1 3 1-3 1 4 1-6 1 2 1 3 1-1 1-1 1 2 1 0 1 0 1-1 1 1 1 0 1 2 1 2 1-3 1 0 1-2 1 2 1-2 1-4 1 1 1 3 1 4 1 0 1 1 1-1 1-2 1 2 1 4 1 1"/>
<path class="s2" d="M0 -2l 1-3 1-1 1-3 1-2 1 0 1-2 1-1 1-2 1-3 1-2 1 0 1-5 1-2 1-5 1-3 1-2 1-3 1 0 1-1 1-2 1-2 1-2 1-3 1-1 1-2 1-1 1-2 1 0 1 1 1-2 1-2 1-3 1 0 1-2 1 0 1-1 1 1 1-1 1-1 1-1 1-1 1-2 1 0 1-1 1-2 1 0 1-1 1-2 1-2 1 1 1-1 1 0 1-2 1-1 1-1 1-2 1-1 1-3 1-1 1 0 1-2 1 0 1 0 1-2 1-2 1-1 1-2 1-1 1-1 1-1 1-2 1 0 1-3 1 1 1-1 1-2 1 1 1-2 1 0 1 0 1-2 1 0 1-1 1 0 1 1 1-2 1 1 1 0 1 0 1 0 1 0 1 3 1-2 1-1 1-1 1 0 1 1 1-2 1 0 1 0 1 2 1-2 1 3 1-2 1 3 1 1 1 0 1 1 1 0 1-1 1-2 1 2 1 1 1-1 1-1 1 0 1-3 1 1 1 0 1-1"/>
</g></g>
<rect x="61.5" y="1125.5" width="146.6" height="154.0" fill="none" stroke="#000" stroke-width="1.1"/>
<path d="M56.6 1156.5H61.5 M56.6 1217.5H61.5 M56.6 1279.5H61.5 M85.5 1279.5V1284.4 M147.5 1279.5V1284.4 M208.5 1279.5V1284.4" stroke="#000" stroke-width="1.1" fill="none"/>
<text x="51.8" y="1161.9" text-anchor="end" font-size="16.67" textLength="10.3" lengthAdjust="spacingAndGlyphs">1</text>
<text x="51.8" y="1223.5" text-anchor="end" font-size="16.67" textLength="10.3" lengthAdjust="spacingAndGlyphs">0</text>
<text x="51.8" y="1285.1" text-anchor="end" font-size="16.67" textLength="23.8" lengthAdjust="spacingAndGlyphs">−1</text>
<text transform="translate(17.2,1203.0) rotate(-90)" text-anchor="middle" font-size="13.89" textLength="106.9" lengthAdjust="spacingAndGlyphs">Roll. mean SPEI</text>
<rect x="68.5" y="1226.9" width="109.8" height="45.7" rx="4" ry="4" fill="#fff" fill-opacity="0.8" stroke="#cccccc" stroke-width="1.2"/>
<text x="73.0" y="1243.5" font-size="13.89" textLength="96.1" lengthAdjust="spacingAndGlyphs">JOEKULSA A F.</text>
<text x="73.0" y="1264.3" font-size="13.89" textLength="81.5" lengthAdjust="spacingAndGlyphs">(EU, 15.0%)</text>
<clipPath id="c6_1"><rect x="245.1" y="1125.5" width="146.8" height="154.0"/></clipPath>
<g clip-path="url(#c6_1)">
<line x1="245.1" y1="1217.9" x2="391.9" y2="1217.9" stroke="#aaa" stroke-width="0.6" stroke-dasharray="1,1.7"/>
<g transform="matrix(1.2233 0 0 0.6160 245.10 1217.90)">
<path d="M0 -12l 1-2 1 0 1-1 1 0 1-1 1-1 1 2 1 0 1 5 1-2 1-1 1 0 1-1 1-2 1 1 1 1 1 2 1 0 1-3 1 1 1-3 1-2 1-4 1-1 1-2 1-2 1 1 1-3 1-3 1 3 1 4 1-2 1 2 1-1 1 1 1-3 1 0 1 2 1-1 1-2 1 2 1-1 1 2 1 0 1-3 1 1 1-1 1 0 1-7 1 0 1 1 1 0 1 3 1-1 1 0 1 1 1-3 1-1 1-1 1 1 1-2 1-2 1-5 1-1 1 3 1 1 1-1 1-4 1 1 1-4 1 2 1-1 1 2 1 1 1-3 1 0 1-3 1-2 1 0 1 1 1 3 1-3 1-1 1-2 1 0 1-2 1-1 1 1 1-1 1 2 1 1 1 0 1 0 1 1 1-3 1-2 1 0 1 1 1 2 1 0 1-2 1-2 1-3 1 0 1 2 1 0 1-1 1 3 1-1 1 0 1-4 1 3 1-1 1 1 1-1 1 0 1 1 1 0 1-2 1 1 0 41-1-4-1 0-1-1-1-1-1 1-1-1-1-1-1-1-1-1-1-1-1 0-1 1-1 6-1-2-1 1-1 0-1 2-1 1-1-1-1 2-1 0-1-4-1 1-1-1-1-2-1 3-1-6-1 1-1-1-1 3-1-5-1 1-1 1-1 1-1 2-1-1-1 0-1 2-1 1-1 0-1 1-1-4-1 3-1-1-1-1-1-1-1-1-1-1-1 4-1 1-1 2-1-1-1-1-1 1-1 0-1 2-1-1-1-3-1 3-1 1-1-1-1 2-1 1-1 1-1-1-1-1-1 2-1 1-1-1-1 3-1 2-1 1-1 3-1-2-1 3-1 1-1 2-1-2-1-1-1 1-1 0-1 0-1-3-1 5-1 1-1-1-1 1-1 2-1 0-1-2-1-1-1 0-1 3-1-2-1-1-1 1-1 4-1-1-1 3-1 2-1-5-1 0-1 0-1 1-1 3-1 4-1-2-1-2-1-1-1-3-1 0-1 3-1-1-1 2-1 0-1 0-1-1-1 2-1 0-1-1z" fill="#9999cc"/>
<path d="M0 -10l 1 1 1-1 1-4 1 1 1-1 1 2 1 0 1 1 1 1 1-1 1-2 1-2 1-1 1 0 1 1 1-2 1 2 1-1 1 1 1 0 1-2 1 3 1-3 1-1 1-2 1-4 1-1 1 4 1-1 1-4 1 0 1 1 1 2 1-1 1 0 1 0 1 0 1 0 1 0 1 0 1 2 1-1 1-4 1 3 1-3 1 2 1-1 1 0 1 2 1-1 1-5 1 2 1-1 1-2 1 1 1-1 1-6 1-3 1 4 1 0 1 0 1-8 1 2 1 0 1 1 1 2 1-1 1-2 1-3 1 2 1-3 1-1 1-1 1-1 1 1 1-2 1-2 1-1 1 2 1 2 1 0 1-1 1 2 1 3 1-4 1 1 1-2 1-2 1-1 1 2 1-3 1 3 1-1 1 0 1 2 1-1 1-5 1-1 1 0 1 2 1 1 1 0 1-3 1 1 1-1 1 0 1 3 1 2 1-4 1-2 1 0 1-1 1-1 1 1 1-2 1 2 1 1 1-3 1 0 1-4 0 39-1 2-1-3-1 2-1-1-1-1-1-2-1-3-1-1-1-3-1 2-1 4-1-2-1 2-1-1-1 5-1 0-1 3-1-3-1 1-1 2-1-4-1-3-1-2-1 0-1 1-1 0-1 2-1 1-1 0-1 1-1 1-1 1-1-1-1 0-1-1-1 1-1-3-1 2-1 0-1-2-1 3-1-1-1 1-1-3-1 2-1 2-1-2-1 0-1 2-1 2-1-3-1 1-1-3-1 3-1-2-1 4-1-1-1 0-1 0-1 3-1-1-1-1-1-3-1 2-1 3-1 3-1-1-1-1-1 6-1 4-1-2-1-2-1 2-1 0-1-1-1 2-1-1-1 5-1-1-1-2-1-2-1 0-1 2-1 4-1-3-1 2-1 1-1-6-1 6-1-1-1 1-1-4-1 3-1-1-1 3-1-1-1 2-1-1-1-4-1 2-1 0-1 1-1 0-1 4-1 1-1 0-1 2-1 2-1-6-1-2-1 0-1 1-1 4-1-1-1 2-1 1-1 1-1-1-1 3-1 0z" fill="#ffd700" fill-opacity="0.4"/>
<path class="d1" d="M0 -10l 1 1 1-1 1-4 1 1 1-1 1 2 1 0 1 1 1 1 1-1 1-2 1-2 1-1 1 0 1 1 1-2 1 2 1-1 1 1 1 0 1-2 1 3 1-3 1-1 1-2 1-4 1-1 1 4 1-1 1-4 1 0 1 1 1 2 1-1 1 0 1 0 1 0 1 0 1 0 1 0 1 2 1-1 1-4 1 3 1-3 1 2 1-1 1 0 1 2 1-1 1-5 1 2 1-1 1-2 1 1 1-1 1-6 1-3 1 4 1 0 1 0 1-8 1 2 1 0 1 1 1 2 1-1 1-2 1-3 1 2 1-3 1-1 1-1 1-1 1 1 1-2 1-2 1-1 1 2 1 2 1 0 1-1 1 2 1 3 1-4 1 1 1-2 1-2 1-1 1 2 1-3 1 3 1-1 1 0 1 2 1-1 1-5 1-1 1 0 1 2 1 1 1 0 1-3 1 1 1-1 1 0 1 3 1 2 1-4 1-2 1 0 1-1 1-1 1 1 1-2 1 2 1 1 1-3 1 0 1-4"/>
<path class="d1" d="M0 5l 1 0 1-3 1 1 1-1 1-1 1-2 1 1 1-4 1-1 1 0 1 2 1 6 1-2 1-2 1 0 1-1 1-4 1 0 1-1 1 0 1-2 1 4 1 1 1-2 1 1 1-3 1 1 1-3 1 4 1-1 1 1 1-6 1 6 1-1 1-2 1 3 1-4 1-2 1 0 1 2 1 2 1 1 1-5 1 1 1-2 1 1 1 0 1-2 1 2 1 2 1-4 1-6 1 1 1 1 1-3 1-3 1-2 1 3 1 1 1 1 1-3 1 0 1 0 1 1 1-4 1 2 1-3 1 3 1-1 1 3 1-2 1-2 1 0 1 2 1-2 1-2 1 3 1-1 1 1 1-3 1 2 1 0 1-2 1 3 1-1 1 1 1 0 1 1 1-1 1-1 1-1 1 0 1-1 1-2 1 0 1-1 1 0 1 2 1 3 1 4 1-2 1-1 1 3 1-3 1 0 1-5 1 1 1-2 1 2 1-4 1-2 1 3 1 1 1 3 1 2 1 1 1 1 1-2 1 3 1-2"/>
<path class="d2" d="M0 -6l 1 0 1 0 1 1 1 0 1 1 1 0 1-1 1 1 1-1 1-2 1-1 1-1 1-1 1 1 1 1 1 1 1-1 1-1 1 2 1-3 1 0 1-5 1 2 1 0 1 0 1-2 1 0 1 0 1 1 1-3 1 0 1-2 1 0 1 0 1 1 1 0 1 0 1-1 1 0 1 1 1-1 1 0 1 0 1 2 1-1 1-1 1 0 1-2 1 0 1-1 1-1 1 1 1-1 1 0 1 0 1-3 1 1 1-4 1-1 1 1 1-1 1 0 1-2 1 0 1 1 1 2 1-2 1-2 1 1 1 0 1-1 1-2 1 0 1 2 1-2 1-2 1-1 1-2 1 0 1-1 1 1 1 1 1-1 1 0 1 0 1-2 1-2 1-1 1 0 1 0 1 1 1 0 1 0 1 0 1-1 1 0 1 0 1 0 1 1 1 1 1 0 1-1 1-2 1 0 1-1 1 0 1 0 1 1 1 1 1-1 1-1 1 0 1 0 1-1 1 2 1-3 1 0 1 0 1 1 1-1"/>
<path class="s1" d="M0 -12l 1-2 1 0 1-1 1 0 1-1 1-1 1 2 1 0 1 5 1-2 1-1 1 0 1-1 1-2 1 1 1 1 1 2 1 0 1-3 1 1 1-3 1-2 1-4 1-1 1-2 1-2 1 1 1-3 1-3 1 3 1 4 1-2 1 2 1-1 1 1 1-3 1 0 1 2 1-1 1-2 1 2 1-1 1 2 1 0 1-3 1 1 1-1 1 0 1-7 1 0 1 1 1 0 1 3 1-1 1 0 1 1 1-3 1-1 1-1 1 1 1-2 1-2 1-5 1-1 1 3 1 1 1-1 1-4 1 1 1-4 1 2 1-1 1 2 1 1 1-3 1 0 1-3 1-2 1 0 1 1 1 3 1-3 1-1 1-2 1 0 1-2 1-1 1 1 1-1 1 2 1 1 1 0 1 0 1 1 1-3 1-2 1 0 1 1 1 2 1 0 1-2 1-2 1-3 1 0 1 2 1 0 1-1 1 3 1-1 1 0 1-4 1 3 1-1 1 1 1-1 1 0 1 1 1 0 1-2 1 1"/>
<path class="s1" d="M0 0l 1 1 1 0 1-2 1 1 1 0 1 0 1-2 1 1 1-3 1 0 1 3 1 1 1 2 1 2 1-4 1-3 1-1 1 0 1 0 1 5 1-2 1-3 1 1 1-4 1-1 1 1 1 2 1-3 1 0 1 1 1 2 1 0 1-2 1-1 1 1 1-1 1-5 1 3 1 0 1 0 1-1 1 1 1 2 1-2 1-1 1-3 1 2 1-3 1-1 1-2 1-3 1 1 1-1 1-2 1 1 1 1 1-1 1-1 1-2 1 1 1-1 1-3 1 3 1 1 1-2 1 0 1-1 1 1 1 1 1-2 1-1 1-4 1 1 1 1 1 1 1 1 1 1 1-3 1 4 1-1 1 0 1-1 1-2 1 0 1 1 1-2 1-1 1-1 1-1 1 5 1-3 1 1 1-1 1 6 1-3 1 2 1 1 1-1 1 4 1 0 1-2 1 1 1-1 1-2 1 0 1-1 1 2 1-6 1-1 1 0 1 1 1 1 1 1 1 1 1 1 1-1 1 1 1 1 1 0 1 4"/>
<path class="s2" d="M0 -8l 1 0 1 0 1-1 1 0 1 0 1 1 1 1 1 1 1 0 1-1 1-2 1-2 1 1 1-1 1-1 1 1 1-2 1 1 1 1 1 0 1-1 1-1 1-4 1-1 1 0 1-1 1 1 1 0 1-2 1-1 1-1 1 0 1 2 1-3 1 1 1 0 1 1 1 0 1-1 1-1 1-1 1 1 1-2 1 3 1 1 1-2 1-1 1-1 1 2 1-3 1 1 1-4 1 0 1-2 1 0 1 0 1-1 1 0 1 0 1-1 1 0 1-1 1 1 1-2 1 0 1-1 1 1 1-2 1-1 1-2 1 0 1-1 1 0 1 0 1 0 1 1 1-2 1 1 1-1 1 0 1-1 1-2 1 0 1-1 1-1 1 2 1-2 1 0 1-3 1 2 1 1 1-3 1-2 1 3 1-1 1 4 1-3 1-1 1-1 1 0 1 0 1 0 1-1 1 0 1 1 1 1 1-2 1 2 1-1 1 0 1-1 1-2 1 0 1 0 1 1 1-1 1-2 1 3 1-2 1-2"/>
</g></g>
<rect x="245.1" y="1125.5" width="146.8" height="154.0" fill="none" stroke="#000" stroke-width="1.1"/>
<path d="M240.2 1156.5H245.1 M240.2 1217.5H245.1 M240.2 1279.5H245.1 M269.5 1279.5V1284.4 M330.5 1279.5V1284.4 M391.5 1279.5V1284.4" stroke="#000" stroke-width="1.1" fill="none"/>
<rect x="252.1" y="1132.6" width="96.9" height="45.7" rx="4" ry="4" fill="#fff" fill-opacity="0.8" stroke="#cccccc" stroke-width="1.2"/>
<text x="256.6" y="1149.2" font-size="13.89" textLength="84.1" lengthAdjust="spacingAndGlyphs">KUSKOKWIM</text>
<text x="256.6" y="1170.0" font-size="13.89" textLength="73.7" lengthAdjust="spacingAndGlyphs">(NA, 0.9%)</text>
<clipPath id="c6_2"><rect x="428.4" y="1125.5" width="147.1" height="154.0"/></clipPath>
<g clip-path="url(#c6_2)">
<line x1="428.4" y1="1217.9" x2="575.5" y2="1217.9" stroke="#aaa" stroke-width="0.6" stroke-dasharray="1,1.7"/>
<g transform="matrix(1.2258 0 0 0.6160 428.40 1217.90)">
<path d="M0 -14l 1 2 1-2 1 1 1 0 1-1 1 1 1 0 1 2 1 1 1-3 1 1 1-1 1 0 1 1 1 1 1 0 1 1 1-4 1-1 1-1 1 1 1 1 1 1 1-2 1-1 1 0 1 3 1-1 1 0 1 2 1-6 1 4 1 1 1-1 1 3 1 3 1-1 1 1 1 0 1 1 1-3 1 2 1 3 1 2 1 4 1 1 1 0 1 1 1 2 1-1 1 0 1 0 1 2 1-2 1 1 1-1 1 2 1 1 1 1 1-6 1 0 1-2 1 1 1 3 1 4 1 0 1 1 1 2 1-1 1 1 1 0 1 2 1 2 1-2 1 0 1-1 1 2 1 2 1 2 1 1 1 0 1 1 1 1 1-4 1-1 1-1 1-1 1-2 1 2 1-2 1 0 1 0 1 2 1-2 1 3 1 1 1 2 1-3 1 2 1 0 1-1 1 0 1-2 1 2 1 2 1 4 1 1 1-1 1 6 1 0 1 5 1 3 1 0 1-1 1 1 1-1 1-1 1-1 1 1 1 7 0 31-1 4-1 3-1 0-1-2-1 3-1-1-1 3-1-2-1-2-1 2-1-2-1 2-1-2-1-3-1 1-1-1-1-3-1 2-1-3-1 1-1-1-1-2-1 2-1-3-1-3-1 1-1-2-1 2-1 0-1 0-1 2-1-2-1-1-1-2-1 0-1-3-1-1-1 0-1 0-1 2-1 0-1-2-1 0-1 3-1 0-1-2-1 0-1-2-1-2-1 0-1 1-1 2-1-1-1-1-1-3-1 1-1-2-1 0-1 1-1-4-1-4-1-3-1 0-1 0-1-1-1-4-1-2-1 3-1-1-1-3-1-1-1-2-1-1-1-1-1-4-1-2-1-2-1-3-1 0-1-2-1 1-1 0-1-4-1 0-1-3-1-1-1-1-1-1-1 0-1-1-1 0-1-5-1 2-1-4-1 3-1 3-1-1-1 0-1 2-1-3-1-1-1-7-1-1-1 5-1 3-1 4-1 4-1-1-1 2-1-1-1 3-1 0-1-4-1-3-1 1-1-1-1 0-1-2-1-1-1 0z" fill="#c2b27a"/>
</g><g transform="matrix(1.2258 0 0 0.6160 428.40 1219.10)">
<path class="d1" d="M0 -14l 1 2 1-2 1 1 1 0 1-1 1 1 1 0 1 2 1 1 1-3 1 1 1-1 1 0 1 1 1 1 1 0 1 1 1-4 1-1 1-1 1 1 1 1 1 1 1-2 1-1 1 0 1 3 1-1 1 0 1 2 1-6 1 4 1 1 1-1 1 3 1 3 1-1 1 1 1 0 1 1 1-3 1 2 1 3 1 2 1 4 1 1 1 0 1 1 1 2 1-1 1 0 1 0 1 2 1-2 1 1 1-1 1 2 1 1 1 1 1-6 1 0 1-2 1 1 1 3 1 4 1 0 1 1 1 2 1-1 1 1 1 0 1 2 1 2 1-2 1 0 1-1 1 2 1 2 1 2 1 1 1 0 1 1 1 1 1-4 1-1 1-1 1-1 1-2 1 2 1-2 1 0 1 0 1 2 1-2 1 3 1 1 1 2 1-3 1 2 1 0 1-1 1 0 1-2 1 2 1 2 1 4 1 1 1-1 1 6 1 0 1 5 1 3 1 0 1-1 1 1 1-1 1-1 1-1 1 1 1 7"/>
<path class="d1" d="M0 4l 1 0 1 1 1 2 1 0 1 1 1-1 1 3 1 4 1 0 1-3 1 1 1-2 1 1 1-4 1-4 1-3 1-5 1 1 1 7 1 1 1 3 1-2 1 0 1 1 1-3 1-3 1 4 1-2 1 5 1 0 1 1 1 0 1 1 1 1 1 1 1 3 1 0 1 4 1 0 1-1 1 2 1 0 1 3 1 2 1 2 1 4 1 1 1 1 1 2 1 1 1 3 1 1 1-3 1 2 1 4 1 1 1 0 1 0 1 3 1 4 1 4 1-1 1 0 1 2 1-1 1 3 1 1 1 1 1-2 1-1 1 0 1 2 1 2 1 0 1 2 1 0 1-3 1 0 1 2 1 0 1-2 1 0 1 0 1 1 1 3 1 0 1 2 1 1 1 2 1-2 1 0 1 0 1-2 1 2 1-1 1 3 1 3 1-2 1 2 1 1 1-1 1 3 1-2 1 3 1 1 1-1 1 3 1 2 1-2 1 2 1-2 1 2 1 2 1-3 1 1 1-3 1 2 1 0 1-3 1-4"/>
<path class="d2" d="M0 -6l 1 0 1 0 1 0 1 0 1 1 1-1 1 0 1-1 1 1 1-1 1 0 1-2 1 3 1-1 1-3 1 1 1 1 1 0 1 0 1 1 1 0 1 3 1 2 1 1 1 1 1 0 1 1 1-1 1 0 1 1 1-1 1 3 1 0 1 0 1 0 1 1 1 0 1 3 1-1 1 1 1 3 1 0 1 0 1 2 1 2 1 2 1 1 1 0 1 2 1 0 1 1 1 1 1 1 1-1 1 1 1 1 1 0 1-1 1 3 1 1 1 2 1-1 1 0 1 2 1 1 1 1 1 1 1-2 1 1 1-1 1 0 1 2 1-1 1 2 1 0 1 1 1 1 1-1 1 1 1 1 1-1 1 1 1 0 1 1 1 0 1 2 1-1 1 2 1 1 1 1 1-1 1 1 1 1 1-1 1 1 1 0 1 1 1-1 1 0 1 3 1-2 1 2 1 0 1-2 1-1 1 3 1-1 1 0 1 0 1 1 1 0 1 1 1 1 1 0 1 1 1 0 1 1 1 1 1 2 1 1"/>
</g><g transform="matrix(1.2258 0 0 0.6160 428.40 1217.90)">
<path class="s1 t" d="M0 -14l 1 2 1-2 1 1 1 0 1-1 1 1 1 0 1 2 1 1 1-3 1 1 1-1 1 0 1 1 1 1 1 0 1 1 1-4 1-1 1-1 1 1 1 1 1 1 1-2 1-1 1 0 1 3 1-1 1 0 1 2 1-6 1 4 1 1 1-1 1 3 1 3 1-1 1 1 1 0 1 1 1-3 1 2 1 3 1 2 1 4 1 1 1 0 1 1 1 2 1-1 1 0 1 0 1 2 1-2 1 1 1-1 1 2 1 1 1 1 1-6 1 0 1-2 1 1 1 3 1 4 1 0 1 1 1 2 1-1 1 1 1 0 1 2 1 2 1-2 1 0 1-1 1 2 1 2 1 2 1 1 1 0 1 1 1 1 1-4 1-1 1-1 1-1 1-2 1 2 1-2 1 0 1 0 1 2 1-2 1 3 1 1 1 2 1-3 1 2 1 0 1-1 1 0 1-2 1 2 1 2 1 4 1 1 1-1 1 6 1 0 1 5 1 3 1 0 1-1 1 1 1-1 1-1 1-1 1 1 1 7"/>
<path class="s1 t" d="M0 4l 1 0 1 1 1 2 1 0 1 1 1-1 1 3 1 4 1 0 1-3 1 1 1-2 1 1 1-4 1-4 1-3 1-5 1 1 1 7 1 1 1 3 1-2 1 0 1 1 1-3 1-3 1 4 1-2 1 5 1 0 1 1 1 0 1 1 1 1 1 1 1 3 1 0 1 4 1 0 1-1 1 2 1 0 1 3 1 2 1 2 1 4 1 1 1 1 1 2 1 1 1 3 1 1 1-3 1 2 1 4 1 1 1 0 1 0 1 3 1 4 1 4 1-1 1 0 1 2 1-1 1 3 1 1 1 1 1-2 1-1 1 0 1 2 1 2 1 0 1 2 1 0 1-3 1 0 1 2 1 0 1-2 1 0 1 0 1 1 1 3 1 0 1 2 1 1 1 2 1-2 1 0 1 0 1-2 1 2 1-1 1 3 1 3 1-2 1 2 1 1 1-1 1 3 1-2 1 3 1 1 1-1 1 3 1 2 1-2 1 2 1-2 1 2 1 2 1-3 1 1 1-3 1 2 1 0 1-3 1-4"/>
<path class="s2 t" d="M0 -6l 1 0 1 0 1 0 1 0 1 1 1-1 1 0 1-1 1 1 1-1 1 0 1-2 1 3 1-1 1-3 1 1 1 1 1 0 1 0 1 1 1 0 1 3 1 2 1 1 1 1 1 0 1 1 1-1 1 0 1 1 1-1 1 3 1 0 1 0 1 0 1 1 1 0 1 3 1-1 1 1 1 3 1 0 1 0 1 2 1 2 1 2 1 1 1 0 1 2 1 0 1 1 1 1 1 1 1-1 1 1 1 1 1 0 1-1 1 3 1 1 1 2 1-1 1 0 1 2 1 1 1 1 1 1 1-2 1 1 1-1 1 0 1 2 1-1 1 2 1 0 1 1 1 1 1-1 1 1 1 1 1-1 1 1 1 0 1 1 1 0 1 2 1-1 1 2 1 1 1 1 1-1 1 1 1 1 1-1 1 1 1 0 1 1 1-1 1 0 1 3 1-2 1 2 1 0 1-2 1-1 1 3 1-1 1 0 1 0 1 1 1 0 1 1 1 1 1 0 1 1 1 0 1 1 1 1 1 2 1 1"/>
</g></g>
<rect x="428.4" y="1125.5" width="147.1" height="154.0" fill="none" stroke="#000" stroke-width="1.1"/>
<path d="M423.5 1156.5H428.4 M423.5 1217.5H428.4 M423.5 1279.5H428.4 M452.5 1279.5V1284.4 M514.5 1279.5V1284.4 M575.5 1279.5V1284.4" stroke="#000" stroke-width="1.1" fill="none"/>
<rect x="483.1" y="1132.6" width="85.4" height="45.7" rx="4" ry="4" fill="#fff" fill-opacity="0.8" stroke="#cccccc" stroke-width="1.2"/>
<text x="487.6" y="1149.2" font-size="13.89" textLength="49.4" lengthAdjust="spacingAndGlyphs">RHONE</text>
<text x="487.6" y="1170.0" font-size="13.89" textLength="72.8" lengthAdjust="spacingAndGlyphs">(EU, 0.9%)</text>
<clipPath id="c6_3"><rect x="611.9" y="1125.5" width="146.6" height="154.0"/></clipPath>
<g clip-path="url(#c6_3)">
<line x1="611.9" y1="1217.9" x2="758.5" y2="1217.9" stroke="#aaa" stroke-width="0.6" stroke-dasharray="1,1.7"/>
<g transform="matrix(1.2217 0 0 0.6160 611.90 1217.90)">
<path d="M0 -2l 1-2 1 0 1 3 1 1 1-1 1 4 1-3 1 2 1-4 1 2 1-1 1 2 1-5 1-1 1-2 1-1 1 0 1-1 1 0 1-3 1-3 1 0 1 0 1 2 1-1 1-4 1 0 1-1 1 0 1-6 1 2 1 1 1-1 1-4 1 1 1-2 1-4 1-6 1 0 1 3 1-3 1 3 1 2 1-2 1 0 1 1 1 1 1-5 1-2 1 1 1 3 1-4 1 0 1 5 1 2 1 1 1-1 1 1 1-2 1 0 1 1 1-1 1 2 1 2 1 0 1 5 1 1 1 3 1-1 1-3 1 0 1 1 1 0 1 2 1 0 1-3 1-1 1 1 1 1 1 3 1-2 1-2 1-3 1 4 1-1 1 2 1-1 1-3 1-1 1 0 1-1 1-1 1 1 1-2 1 2 1 0 1 3 1-3 1-1 1-2 1-1 1 0 1-1 1-1 1 0 1-6 1 0 1 3 1-1 1 0 1 2 1-1 1 1 1-2 1 1 1 0 1-1 1 0 1 0 1 1 0 32-1 0-1 1-1-3-1 2-1 1-1-3-1-3-1 1-1 1-1 0-1 1-1 2-1 0-1-4-1 2-1 1-1 5-1 1-1 1-1 3-1 2-1-3-1-6-1 0-1-2-1-4-1-4-1 0-1 0-1 3-1 2-1-1-1 0-1 2-1 2-1-2-1-1-1 1-1 4-1 5-1-1-1 1-1 1-1-2-1 2-1-3-1 0-1 3-1 1-1 1-1 1-1-3-1 5-1 0-1 2-1-1-1 0-1-1-1 0-1 0-1-3-1 1-1-2-1 2-1 0-1 2-1-6-1 0-1 0-1 2-1-1-1 1-1-1-1 1-1 0-1 0-1-2-1 0-1 0-1 1-1 1-1-2-1 2-1-1-1-1-1-3-1 1-1 4-1 1-1-4-1-3-1 4-1 0-1 2-1-2-1 3-1 1-1 3-1-1-1-1-1-2-1 0-1 1-1 2-1 0-1-2-1 1-1 0-1-1-1 0-1-1-1-1-1 1-1 2-1 1-1-1-1-1-1 2-1 1-1 0z" fill="#9999cc"/>
<path d="M0 2l 1-1 1 1 1-2 1 2 1-1 1-2 1 2 1-3 1-1 1 0 1 1 1 1 1-1 1-2 1 0 1-1 1 0 1 2 1-5 1-2 1 3 1 0 1-2 1 1 1 1 1-5 1-2 1 2 1-3 1 2 1-1 1-2 1 2 1-3 1-1 1 2 1-5 1 1 1 1 1 0 1 3 1-1 1-3 1-2 1 0 1-1 1 2 1-2 1-1 1 1 1 1 1-2 1 3 1 2 1-1 1 1 1 2 1 5 1 3 1-1 1-4 1-1 1-1 1-1 1 5 1 0 1-1 1-1 1 0 1 2 1-1 1-1 1 2 1-2 1-2 1 1 1-2 1-4 1-4 1 1 1 0 1 0 1-5 1 4 1 3 1-3 1 5 1-1 1 1 1-2 1-2 1 2 1-2 1-2 1 1 1-3 1 3 1-4 1 1 1 0 1 2 1-4 1-5 1 1 1 0 1 2 1 2 1 4 1-4 1 0 1 1 1-1 1-1 1-3 1 2 1 0 1-4 1 0 1 3 1-4 0 42-1 0-1-1-1 0-1-2-1 2-1-3-1 1-1 1-1-2-1 1-1 0-1 1-1-4-1 5-1 0-1 1-1-1-1 1-1-1-1 1-1 0-1-2-1 3-1 1-1-2-1 2-1 0-1 3-1 1-1 0-1 3-1 2-1-2-1 1-1-2-1-1-1 1-1 0-1 0-1 3-1 2-1-4-1 2-1 0-1 0-1 6-1 0-1 3-1-1-1-3-1 0-1 0-1-2-1-1-1-2-1 1-1 1-1 0-1 5-1-1-1 1-1-1-1 0-1 0-1 0-1 2-1-2-1 0-1-1-1 0-1-1-1 0-1-1-1 1-1 0-1 0-1 0-1-1-1 0-1 3-1 0-1-2-1-5-1 0-1 2-1 1-1 1-1 1-1-2-1-4-1 0-1-1-1-2-1 1-1-1-1-2-1-3-1 2-1 2-1 0-1 4-1-2-1 2-1-1-1-2-1-2-1 1-1-1-1 3-1-1-1 1-1-1-1 1-1-1-1-3-1 1-1 0-1-2-1 1-1-1z" fill="#ffd700" fill-opacity="0.4"/>
<path class="d1" d="M0 2l 1-1 1 1 1-2 1 2 1-1 1-2 1 2 1-3 1-1 1 0 1 1 1 1 1-1 1-2 1 0 1-1 1 0 1 2 1-5 1-2 1 3 1 0 1-2 1 1 1 1 1-5 1-2 1 2 1-3 1 2 1-1 1-2 1 2 1-3 1-1 1 2 1-5 1 1 1 1 1 0 1 3 1-1 1-3 1-2 1 0 1-1 1 2 1-2 1-1 1 1 1 1 1-2 1 3 1 2 1-1 1 1 1 2 1 5 1 3 1-1 1-4 1-1 1-1 1-1 1 5 1 0 1-1 1-1 1 0 1 2 1-1 1-1 1 2 1-2 1-2 1 1 1-2 1-4 1-4 1 1 1 0 1 0 1-5 1 4 1 3 1-3 1 5 1-1 1 1 1-2 1-2 1 2 1-2 1-2 1 1 1-3 1 3 1-4 1 1 1 0 1 2 1-4 1-5 1 1 1 0 1 2 1 2 1 4 1-4 1 0 1 1 1-1 1-1 1-3 1 2 1 0 1-4 1 0 1 3 1-4"/>
<path class="d1" d="M0 7l 1 1 1-1 1 2 1 0 1-1 1 3 1 1 1-1 1 1 1-1 1 1 1-3 1 1 1-1 1 2 1 2 1 1 1-2 1 2 1-4 1 0 1-2 1-2 1 3 1 2 1 1 1-1 1 2 1 1 1 0 1 4 1 2 1-1 1-1 1-1 1-2 1 0 1 5 1 2 1 0 1-3 1 0 1 1 1 0 1 0 1 0 1-1 1 1 1 0 1 1 1 0 1 1 1 0 1 2 1-2 1 0 1 0 1 0 1 1 1-1 1 1 1-5 1 0 1-1 1-1 1 2 1 1 1 2 1 0 1 0 1 3 1 1 1-3 1 0 1-6 1 0 1 0 1-2 1 4 1-2 1-3 1 0 1 0 1-1 1 1 1 2 1-1 1 2 1-2 1-3 1 0 1-1 1-3 1 0 1-2 1 2 1-1 1-3 1 2 1 0 1-1 1 1 1-1 1 1 1-1 1 0 1-5 1 4 1-1 1 0 1-1 1 2 1-1 1-1 1 3 1-2 1 2 1 0 1 1 1 0"/>
<path class="d2" d="M0 4l 1 0 1 0 1 1 1-1 1 0 1 2 1 0 1 1 1 0 1-3 1 1 1 1 1 0 1-1 1 0 1 2 1-2 1 0 1-2 1 0 1-1 1 0 1 0 1-2 1 1 1 1 1 2 1 1 1 0 1 0 1 0 1-2 1-2 1 1 1-1 1 1 1 1 1 0 1-2 1 0 1-2 1 0 1 2 1-1 1-2 1-1 1 2 1-1 1 0 1 1 1 0 1 1 1-2 1 1 1 2 1 1 1 0 1 1 1-1 1 1 1 1 1 1 1-2 1 1 1-2 1 0 1 1 1 0 1-1 1 1 1-1 1 1 1-1 1-1 1-2 1-3 1 0 1 0 1 1 1-3 1 0 1-1 1 1 1 2 1-1 1 0 1 2 1-3 1-1 1 0 1 0 1 0 1-2 1 1 1 1 1-2 1 0 1-1 1 2 1 1 1 0 1 0 1 1 1-1 1-1 1 1 1-1 1-2 1 2 1-2 1 1 1 0 1-1 1 1 1 1 1-1 1 1 1 0 1-1 1 1"/>
<path class="s1" d="M0 -2l 1-2 1 0 1 3 1 1 1-1 1 4 1-3 1 2 1-4 1 2 1-1 1 2 1-5 1-1 1-2 1-1 1 0 1-1 1 0 1-3 1-3 1 0 1 0 1 2 1-1 1-4 1 0 1-1 1 0 1-6 1 2 1 1 1-1 1-4 1 1 1-2 1-4 1-6 1 0 1 3 1-3 1 3 1 2 1-2 1 0 1 1 1 1 1-5 1-2 1 1 1 3 1-4 1 0 1 5 1 2 1 1 1-1 1 1 1-2 1 0 1 1 1-1 1 2 1 2 1 0 1 5 1 1 1 3 1-1 1-3 1 0 1 1 1 0 1 2 1 0 1-3 1-1 1 1 1 1 1 3 1-2 1-2 1-3 1 4 1-1 1 2 1-1 1-3 1-1 1 0 1-1 1-1 1 1 1-2 1 2 1 0 1 3 1-3 1-1 1-2 1-1 1 0 1-1 1-1 1 0 1-6 1 0 1 3 1-1 1 0 1 2 1-1 1 1 1-2 1 1 1 0 1-1 1 0 1 0 1 1"/>
<path class="s1" d="M0 8l 1 0 1-1 1-2 1 1 1 1 1-1 1-2 1-1 1 1 1 1 1 0 1 1 1 0 1-1 1 2 1 0 1-2 1-1 1 0 1 2 1 1 1 1 1-3 1-1 1-3 1 2 1-2 1 0 1-4 1 3 1 4 1-1 1-4 1-1 1 3 1 1 1 1 1-2 1 2 1-1 1-1 1 0 1 0 1 2 1 0 1 0 1-1 1 1 1-1 1 1 1-2 1 0 1 0 1 6 1-2 1 0 1-2 1 2 1-1 1 3 1 0 1 0 1 1 1 0 1 1 1-2 1 0 1-5 1 3 1-1 1-1 1-1 1-3 1 0 1 3 1-2 1 2 1-1 1-1 1 1 1-5 1-4 1-1 1 1 1 2 1-2 1-2 1 0 1 1 1-2 1-3 1 0 1 0 1 4 1 4 1 2 1 0 1 6 1 3 1-2 1-3 1-1 1-1 1-5 1-1 1-2 1 4 1 0 1-2 1-1 1 0 1-1 1-1 1 3 1 3 1-1 1-2 1 3 1-1 1 0"/>
<path class="s2" d="M0 4l 1-1 1 1 1 0 1 0 1 0 1 0 1 0 1-1 1 0 1 0 1-1 1 0 1 0 1-3 1 3 1-2 1 1 1-1 1-3 1 0 1 0 1 1 1-1 1 2 1 0 1-1 1-3 1-1 1 1 1-1 1-2 1-1 1 1 1 0 1-2 1-1 1 0 1 0 1-1 1 2 1 1 1 1 1-2 1 0 1 0 1 0 1-2 1 1 1 1 1 0 1-1 1 2 1 1 1 0 1-1 1 1 1-1 1-1 1 0 1 2 1 1 1 0 1-2 1 1 1 0 1-1 1-1 1 0 1 1 1 1 1-1 1 2 1-3 1 0 1 1 1 1 1-2 1 1 1-3 1-2 1-1 1 2 1-1 1 0 1-2 1-1 1 1 1 1 1-3 1 2 1 1 1-2 1-1 1 1 1-1 1-1 1 2 1-2 1-1 1-1 1-1 1 1 1 0 1-1 1 0 1 1 1 1 1-1 1-2 1 0 1-1 1 2 1 0 1 2 1-1 1-1 1 0 1-1 1-1 1 1"/>
</g></g>
<rect x="611.9" y="1125.5" width="146.6" height="154.0" fill="none" stroke="#000" stroke-width="1.1"/>
<path d="M607.0 1156.5H611.9 M607.0 1217.5H611.9 M607.0 1279.5H611.9 M636.5 1279.5V1284.4 M697.5 1279.5V1284.4 M758.5 1279.5V1284.4" stroke="#000" stroke-width="1.1" fill="none"/>
<rect x="665.2" y="1132.6" width="86.3" height="45.7" rx="4" ry="4" fill="#fff" fill-opacity="0.8" stroke="#cccccc" stroke-width="1.2"/>
<text x="669.7" y="1149.2" font-size="13.89" textLength="54.5" lengthAdjust="spacingAndGlyphs">SKEENA</text>
<text x="669.7" y="1170.0" font-size="13.89" textLength="73.7" lengthAdjust="spacingAndGlyphs">(NA, 1.7%)</text>
<clipPath id="c7_0"><rect x="61.5" y="1307.5" width="146.6" height="154.0"/></clipPath>
<g clip-path="url(#c7_0)">
<line x1="61.5" y1="1399.9" x2="208.1" y2="1399.9" stroke="#aaa" stroke-width="0.6" stroke-dasharray="1,1.7"/>
<g transform="matrix(1.2217 0 0 0.6160 61.50 1399.90)">
<path d="M0 -13l 1 1 1 1 1 0 1 1 1 1 1-1 1 2 1 0 1-3 1 2 1-2 1-1 1 1 1 0 1 1 1-2 1-4 1 3 1-1 1 4 1 3 1 0 1-1 1 1 1 2 1 0 1 0 1 3 1-5 1 1 1-2 1 0 1-5 1-3 1 3 1 2 1-6 1-2 1 4 1 1 1-1 1-1 1 0 1-2 1 2 1 1 1 1 1 1 1-1 1 0 1 0 1 1 1 2 1 0 1 0 1-3 1 4 1-1 1-1 1 2 1 0 1 3 1-5 1 1 1 0 1 1 1-5 1 5 1-4 1-1 1-3 1-1 1 2 1-5 1 3 1-3 1 2 1-3 1-3 1 1 1-5 1 1 1 0 1-1 1-3 1-3 1 1 1 0 1-2 1 0 1-3 1 3 1 5 1-2 1-2 1 1 1 1 1 0 1 0 1-2 1 4 1-1 1 6 1 2 1 1 1-4 1-2 1 4 1-1 1 2 1 0 1-4 1 2 1-2 1-1 1 2 1-3 1 3 1-3 1-1 0 97-1 1-1 0-1 0-1-2-1-4-1-1-1 3-1 1-1-1-1 0-1 1-1-1-1 1-1-2-1-2-1-4-1 2-1 2-1 4-1-4-1 4-1-2-1-2-1-3-1-3-1 0-1-3-1 1-1-5-1 0-1 2-1 0-1-1-1-1-1 5-1-2-1 4-1 0-1 1-1 0-1-6-1 1-1-3-1 0-1 5-1-1-1-4-1 5-1-3-1 2-1-6-1 3-1-3-1 0-1 0-1-2-1 0-1-3-1 0-1 3-1 0-1 0-1-3-1 0-1-2-1 5-1 0-1 0-1-1-1 0-1 0-1-2-1-1-1-3-1 2-1 0-1-1-1 0-1-5-1 3-1-9-1 0-1 1-1-4-1 2-1-1-1 0-1 2-1-2-1 2-1-6-1-2-1 1-1-2-1 3-1 0-1-5-1 0-1-2-1-3-1 2-1-3-1 1-1 1-1 2-1-3-1 1-1-1-1-2-1-5-1 1-1 4-1-1-1 0-1 1-1-1-1 2-1-1-1-2-1 0z" fill="#c2b27a"/>
</g><g transform="matrix(1.2217 0 0 0.6160 61.50 1401.10)">
<path class="d1" d="M0 -13l 1 1 1 1 1 0 1 1 1 1 1-1 1 2 1 0 1-3 1 2 1-2 1-1 1 1 1 0 1 1 1-2 1-4 1 3 1-1 1 4 1 3 1 0 1-1 1 1 1 2 1 0 1 0 1 3 1-5 1 1 1-2 1 0 1-5 1-3 1 3 1 2 1-6 1-2 1 4 1 1 1-1 1-1 1 0 1-2 1 2 1 1 1 1 1 1 1-1 1 0 1 0 1 1 1 2 1 0 1 0 1-3 1 4 1-1 1-1 1 2 1 0 1 3 1-5 1 1 1 0 1 1 1-5 1 5 1-4 1-1 1-3 1-1 1 2 1-5 1 3 1-3 1 2 1-3 1-3 1 1 1-5 1 1 1 0 1-1 1-3 1-3 1 1 1 0 1-2 1 0 1-3 1 3 1 5 1-2 1-2 1 1 1 1 1 0 1 0 1-2 1 4 1-1 1 6 1 2 1 1 1-4 1-2 1 4 1-1 1 2 1 0 1-4 1 2 1-2 1-1 1 2 1-3 1 3 1-3 1-1"/>
<path class="d1" d="M0 5l 1 0 1 2 1 1 1-2 1 1 1-1 1 0 1 1 1-4 1-1 1 5 1 2 1 1 1-1 1 3 1-2 1-1 1-1 1 3 1-2 1 3 1 2 1 0 1 5 1 0 1-3 1 2 1-1 1 2 1 6 1-2 1 2 1-2 1 0 1 1 1-2 1 4 1-1 1 0 1 9 1-3 1 5 1 0 1 1 1 0 1-2 1 3 1 1 1 2 1 0 1 0 1 1 1 0 1 0 1-5 1 2 1 0 1 3 1 0 1 0 1-3 1 0 1 3 1 0 1 2 1 0 1 0 1 3 1-3 1 6 1-2 1 3 1-5 1 4 1 1 1-5 1 0 1 3 1-1 1 6 1 0 1-1 1 0 1-4 1 2 1-5 1 1 1 1 1 0 1-2 1 0 1 5 1-1 1 3 1 0 1 3 1 3 1 2 1 2 1-4 1 4 1-4 1-2 1-2 1 4 1 2 1 2 1-1 1 1 1-1 1 0 1 1 1-1 1-3 1 1 1 4 1 2 1 0 1 0 1-1"/>
<path class="d2" d="M0 -5l 1 0 1 0 1 1 1 1 1 0 1 0 1 2 1 0 1 0 1 2 1 0 1 1 1-1 1-2 1 3 1-1 1 1 1 0 1 0 1 1 1 0 1 0 1-1 1-1 1 3 1-2 1-2 1 0 1 1 1 1 1-2 1 4 1-2 1 2 1-1 1 0 1 2 1 0 1 1 1 1 1 0 1-1 1 1 1-1 1-1 1 2 1-1 1-1 1 1 1 0 1 1 1 0 1-1 1-1 1 0 1 0 1-1 1 2 1 0 1-1 1-2 1-2 1 1 1 0 1-1 1 3 1 1 1 0 1-1 1 0 1-3 1 1 1 2 1-1 1 0 1-2 1 1 1 0 1 1 1 1 1 0 1 0 1-1 1 1 1 1 1 0 1-1 1-1 1 0 1 0 1 1 1 0 1 1 1-3 1 2 1-1 1-1 1-1 1 0 1 1 1 1 1 0 1 0 1 1 1 0 1-1 1 0 1 0 1 2 1 0 1 0 1 0 1 1 1-1 1 1 1 1 1-1 1-2 1 1 1-1"/>
</g><g transform="matrix(1.2217 0 0 0.6160 61.50 1399.90)">
<path class="s1 t" d="M0 -13l 1 1 1 1 1 0 1 1 1 1 1-1 1 2 1 0 1-3 1 2 1-2 1-1 1 1 1 0 1 1 1-2 1-4 1 3 1-1 1 4 1 3 1 0 1-1 1 1 1 2 1 0 1 0 1 3 1-5 1 1 1-2 1 0 1-5 1-3 1 3 1 2 1-6 1-2 1 4 1 1 1-1 1-1 1 0 1-2 1 2 1 1 1 1 1 1 1-1 1 0 1 0 1 1 1 2 1 0 1 0 1-3 1 4 1-1 1-1 1 2 1 0 1 3 1-5 1 1 1 0 1 1 1-5 1 5 1-4 1-1 1-3 1-1 1 2 1-5 1 3 1-3 1 2 1-3 1-3 1 1 1-5 1 1 1 0 1-1 1-3 1-3 1 1 1 0 1-2 1 0 1-3 1 3 1 5 1-2 1-2 1 1 1 1 1 0 1 0 1-2 1 4 1-1 1 6 1 2 1 1 1-4 1-2 1 4 1-1 1 2 1 0 1-4 1 2 1-2 1-1 1 2 1-3 1 3 1-3 1-1"/>
<path class="s1 t" d="M0 5l 1 0 1 2 1 1 1-2 1 1 1-1 1 0 1 1 1-4 1-1 1 5 1 2 1 1 1-1 1 3 1-2 1-1 1-1 1 3 1-2 1 3 1 2 1 0 1 5 1 0 1-3 1 2 1-1 1 2 1 6 1-2 1 2 1-2 1 0 1 1 1-2 1 4 1-1 1 0 1 9 1-3 1 5 1 0 1 1 1 0 1-2 1 3 1 1 1 2 1 0 1 0 1 1 1 0 1 0 1-5 1 2 1 0 1 3 1 0 1 0 1-3 1 0 1 3 1 0 1 2 1 0 1 0 1 3 1-3 1 6 1-2 1 3 1-5 1 4 1 1 1-5 1 0 1 3 1-1 1 6 1 0 1-1 1 0 1-4 1 2 1-5 1 1 1 1 1 0 1-2 1 0 1 5 1-1 1 3 1 0 1 3 1 3 1 2 1 2 1-4 1 4 1-4 1-2 1-2 1 4 1 2 1 2 1-1 1 1 1-1 1 0 1 1 1-1 1-3 1 1 1 4 1 2 1 0 1 0 1-1"/>
<path class="s2 t" d="M0 -5l 1 0 1 0 1 1 1 1 1 0 1 0 1 2 1 0 1 0 1 2 1 0 1 1 1-1 1-2 1 3 1-1 1 1 1 0 1 0 1 1 1 0 1 0 1-1 1-1 1 3 1-2 1-2 1 0 1 1 1 1 1-2 1 4 1-2 1 2 1-1 1 0 1 2 1 0 1 1 1 1 1 0 1-1 1 1 1-1 1-1 1 2 1-1 1-1 1 1 1 0 1 1 1 0 1-1 1-1 1 0 1 0 1-1 1 2 1 0 1-1 1-2 1-2 1 1 1 0 1-1 1 3 1 1 1 0 1-1 1 0 1-3 1 1 1 2 1-1 1 0 1-2 1 1 1 0 1 1 1 1 1 0 1 0 1-1 1 1 1 1 1 0 1-1 1-1 1 0 1 0 1 1 1 0 1 1 1-3 1 2 1-1 1-1 1-1 1 0 1 1 1 1 1 0 1 0 1 1 1 0 1-1 1 0 1 0 1 2 1 0 1 0 1 0 1 1 1-1 1 1 1 1 1-1 1-2 1 1 1-1"/>
</g></g>
<rect x="61.5" y="1307.5" width="146.6" height="154.0" fill="none" stroke="#000" stroke-width="1.1"/>
<path d="M56.6 1338.5H61.5 M56.6 1399.5H61.5 M56.6 1461.5H61.5 M85.5 1461.5V1466.4 M147.5 1461.5V1466.4 M208.5 1461.5V1466.4" stroke="#000" stroke-width="1.1" fill="none"/>
<text x="51.8" y="1343.9" text-anchor="end" font-size="16.67" textLength="10.3" lengthAdjust="spacingAndGlyphs">1</text>
<text x="51.8" y="1405.5" text-anchor="end" font-size="16.67" textLength="10.3" lengthAdjust="spacingAndGlyphs">0</text>
<text x="51.8" y="1467.1" text-anchor="end" font-size="16.67" textLength="23.8" lengthAdjust="spacingAndGlyphs">−1</text>
<text transform="translate(17.2,1385.0) rotate(-90)" text-anchor="middle" font-size="13.89" textLength="106.9" lengthAdjust="spacingAndGlyphs">Roll. mean SPEI</text>
<rect x="117.5" y="1314.6" width="84.8" height="45.7" rx="4" ry="4" fill="#fff" fill-opacity="0.8" stroke="#cccccc" stroke-width="1.2"/>
<text x="122.0" y="1331.2" font-size="13.89" textLength="20.2" lengthAdjust="spacingAndGlyphs">OB</text>
<text x="122.0" y="1352.0" font-size="13.89" textLength="72.2" lengthAdjust="spacingAndGlyphs">(AS, 0.0%)</text>
<clipPath id="c7_1"><rect x="245.1" y="1307.5" width="146.8" height="154.0"/></clipPath>
<g clip-path="url(#c7_1)">
<line x1="245.1" y1="1399.9" x2="391.9" y2="1399.9" stroke="#aaa" stroke-width="0.6" stroke-dasharray="1,1.7"/>
<g transform="matrix(1.2233 0 0 0.6160 245.10 1399.90)">
<path d="M0 -7l 1-1 1-1 1-1 1-1 1-3 1-1 1-3 1 2 1-2 1 0 1-5 1-1 1-2 1-4 1-3 1-2 1-4 1-4 1-4 1-1 1 0 1-3 1-6 1-3 1-3 1-2 1 0 1-2 1 0 1-2 1 5 1 0 1 1 1-3 1-2 1-1 1 0 1-2 1-6 1 1 1 1 1 1 1 0 1 1 1-3 1 0 1 0 1 2 1-5 1 0 1-3 1-3 1-1 1-2 1 0 1-6 1 3 1-1 1-2 1 2 1-2 1-2 1-2 1-3 1-1 1 1 1 0 1-3 1-5 1 1 1-1 1 1 1-3 1-2 1-1 1-2 1-2 1 2 1-1 1 0 1 0 1-3 1 1 1-1 1-3 1 2 1-1 1 0 1-4 1 3 1 0 1 2 1-1 1 0 1 1 1 4 1-2 1-2 1 0 1 0 1 3 1-2 1 1 1 2 1 1 1 3 1 4 1 0 1 4 1-1 1-1 1 0 1 1 1-1 1-1 1 2 1 4 1-1 1-1 1-1 0 41-1-3-1 3-1 1-1 2-1-4-1 2-1-2-1-3-1 1-1-1-1-1-1 2-1 0-1 1-1-1-1 1-1 3-1-2-1-2-1 0-1 0-1-3-1 0-1-2-1-1-1-2-1-4-1-3-1 0-1-1-1 0-1 2-1-1-1 3-1 1-1-4-1 3-1 1-1 1-1 0-1-1-1 3-1 0-1-3-1-1-1 3-1 3-1 2-1-2-1-5-1 4-1 3-1-2-1 0-1 1-1 2-1 2-1-1-1 1-1 3-1 1-1-5-1 2-1 3-1 0-1 2-1 1-1 2-1 2-1 2-1 1-1-1-1 2-1 1-1 1-1 4-1 0-1 0-1-1-1 0-1-1-1 5-1-1-1-1-1-1-1 1-1 1-1 0-1-1-1-2-1-1-1-2-1 3-1 4-1 1-1 2-1 2-1 2-1 1-1 5-1 3-1 5-1 3-1 2-1 2-1-1-1 5-1 2-1 3-1-2-1 1-1 1-1-1-1-1-1 2-1 2-1 1-1 2-1-1-1 2z" fill="#9999cc"/>
<path d="M0 -1l 1-1 1-1 1 0 1-2 1 0 1-1 1 0 1-4 1 0 1-2 1-2 1 0 1 1 1 1 1 4 1 0 1-3 1-1 1-1 1 0 1-1 1-3 1 4 1 1 1 2 1-1 1-3 1-3 1 1 1-2 1 1 1 2 1 3 1 2 1 6 1 1 1 4 1-4 1-1 1 1 1-3 1 1 1 1 1 0 1-3 1 1 1 0 1 3 1 0 1 1 1-1 1 1 1-3 1-2 1-1 1-5 1-3 1 2 1-2 1 0 1 0 1-2 1 0 1 2 1-2 1-2 1-2 1 1 1-1 1 0 1-2 1-2 1 1 1-4 1 0 1-3 1 4 1-2 1-1 1 0 1 3 1 0 1-2 1 0 1 0 1 0 1-1 1 0 1 0 1 3 1 0 1 1 1 0 1 1 1-1 1-1 1 2 1 5 1-1 1-1 1-3 1 1 1 0 1 3 1 3 1-2 1 1 1 0 1-1 1 4 1 2 1 0 1-5 1 2 1-1 1 2 1 0 1 1 1 1 1 1 0 6-1 0-1 2-1 2-1 0-1-2-1-2-1 1-1 3-1-1-1 0-1 0-1-2-1-1-1-1-1 1-1 0-1 5-1 0-1 2-1-2-1 1-1 2-1-2-1 1-1 2-1 0-1 2-1-1-1-4-1 1-1 0-1 3-1-1-1 4-1 0-1 2-1-5-1-1-1-1-1-3-1 6-1-3-1-2-1 5-1 0-1 4-1-3-1 1-1 4-1 0-1-2-1-2-1-2-1 1-1 2-1-4-1 0-1 0-1-1-1 0-1 2-1-1-1-1-1 5-1-2-1 4-1 1-1-3-1 3-1 3-1-1-1 1-1-3-1 1-1 5-1-1-1-3-1-1-1-2-1 1-1-2-1 4-1 1-1 2-1 0-1-3-1 0-1 5-1 2-1-1-1-3-1 1-1 1-1 0-1 2-1 0-1 2-1-2-1 1-1-4-1 1-1-5-1 1-1-3-1 2-1-2-1 2-1-1-1-5-1 1-1 1-1 1-1-1-1 1-1-2-1-1-1 0-1-2-1 1-1-2z" fill="#ffd700" fill-opacity="0.4"/>
<path class="d1" d="M0 -1l 1-1 1-1 1 0 1-2 1 0 1-1 1 0 1-4 1 0 1-2 1-2 1 0 1 1 1 1 1 4 1 0 1-3 1-1 1-1 1 0 1-1 1-3 1 4 1 1 1 2 1-1 1-3 1-3 1 1 1-2 1 1 1 2 1 3 1 2 1 6 1 1 1 4 1-4 1-1 1 1 1-3 1 1 1 1 1 0 1-3 1 1 1 0 1 3 1 0 1 1 1-1 1 1 1-3 1-2 1-1 1-5 1-3 1 2 1-2 1 0 1 0 1-2 1 0 1 2 1-2 1-2 1-2 1 1 1-1 1 0 1-2 1-2 1 1 1-4 1 0 1-3 1 4 1-2 1-1 1 0 1 3 1 0 1-2 1 0 1 0 1 0 1-1 1 0 1 0 1 3 1 0 1 1 1 0 1 1 1-1 1-1 1 2 1 5 1-1 1-1 1-3 1 1 1 0 1 3 1 3 1-2 1 1 1 0 1-1 1 4 1 2 1 0 1-5 1 2 1-1 1 2 1 0 1 1 1 1 1 1"/>
<path class="d1" d="M0 2l 1 2 1-1 1 2 1 0 1 1 1 2 1-1 1 1 1-1 1-1 1-1 1 5 1 1 1-2 1 2 1-2 1 3 1-1 1 5 1-1 1 4 1-1 1 2 1-2 1 0 1-2 1 0 1-1 1-1 1 3 1 1 1-2 1-5 1 0 1 3 1 0 1-2 1-1 1-4 1 2 1-1 1 2 1 1 1 3 1 1 1-5 1-1 1 3 1-1 1 1 1-3 1-3 1 3 1-1 1-4 1 2 1-5 1 1 1 1 1-2 1 0 1 1 1 0 1 0 1 4 1-2 1-1 1 2 1 2 1 2 1 0 1-4 1-1 1 3 1-4 1 0 1-5 1 2 1 3 1-6 1 3 1 1 1 1 1 5 1-2 1 0 1-4 1 1 1-3 1 0 1-1 1 4 1 1 1-2 1 0 1-2 1-1 1 2 1-2 1-1 1 2 1-2 1 0 1-5 1 0 1-1 1 1 1 1 1 2 1 0 1 0 1 1 1-3 1-1 1 2 1 2 1 0 1-2 1-2 1 0"/>
<path class="d2" d="M0 0l 1-1 1 1 1-2 1 1 1 0 1 1 1-2 1 1 1-1 1-3 1 0 1 1 1 0 1 2 1 2 1 1 1 1 1 1 1 0 1-1 1-1 1 2 1-1 1 0 1 1 1-1 1 1 1-1 1 1 1 0 1 0 1 1 1 1 1 0 1 1 1-1 1 0 1 0 1-1 1-1 1 0 1 1 1-3 1 1 1 1 1 0 1 1 1-1 1-2 1 2 1 0 1-3 1-2 1 1 1 0 1-1 1-2 1 0 1 0 1-1 1 1 1-1 1-2 1-2 1 2 1 0 1-1 1 0 1 0 1-4 1 0 1-1 1 2 1-1 1-2 1-2 1 1 1-2 1 1 1 1 1 2 1 0 1 1 1-1 1-2 1 2 1-2 1 1 1-2 1 1 1 1 1-1 1 0 1 0 1 0 1 0 1 0 1 1 1 0 1 1 1-3 1 3 1-1 1 1 1 0 1-2 1 0 1 1 1 0 1 2 1 1 1-2 1 1 1 1 1-2 1 1 1 0 1-1 1-1 1 1"/>
<path class="s1" d="M0 -7l 1-1 1-1 1-1 1-1 1-3 1-1 1-3 1 2 1-2 1 0 1-5 1-1 1-2 1-4 1-3 1-2 1-4 1-4 1-4 1-1 1 0 1-3 1-6 1-3 1-3 1-2 1 0 1-2 1 0 1-2 1 5 1 0 1 1 1-3 1-2 1-1 1 0 1-2 1-6 1 1 1 1 1 1 1 0 1 1 1-3 1 0 1 0 1 2 1-5 1 0 1-3 1-3 1-1 1-2 1 0 1-6 1 3 1-1 1-2 1 2 1-2 1-2 1-2 1-3 1-1 1 1 1 0 1-3 1-5 1 1 1-1 1 1 1-3 1-2 1-1 1-2 1-2 1 2 1-1 1 0 1 0 1-3 1 1 1-1 1-3 1 2 1-1 1 0 1-4 1 3 1 0 1 2 1-1 1 0 1 1 1 4 1-2 1-2 1 0 1 0 1 3 1-2 1 1 1 2 1 1 1 3 1 4 1 0 1 4 1-1 1-1 1 0 1 1 1-1 1-1 1 2 1 4 1-1 1-1 1-1"/>
<path class="s1" d="M0 -1l 1-2 1 1 1-2 1-1 1-2 1-2 1 1 1 1 1-1 1-1 1 2 1-3 1-2 1-5 1 1 1-2 1-2 1-3 1-5 1-3 1-5 1-1 1-2 1-2 1-2 1-1 1-4 1-3 1 2 1 1 1 2 1 1 1 0 1-1 1-1 1 1 1 1 1 1 1-5 1 1 1 0 1 1 1 0 1 0 1-4 1-1 1-1 1-2 1 1 1-1 1-2 1-2 1-2 1-1 1-2 1 0 1-3 1-2 1 5 1-1 1-3 1-1 1 1 1-2 1-2 1-1 1 0 1 2 1-3 1-4 1 5 1 2 1-2 1-3 1-3 1 1 1 3 1 0 1-3 1 1 1 0 1-1 1-1 1-3 1 4 1-1 1-3 1 1 1-2 1 0 1 1 1 0 1 3 1 4 1 2 1 1 1 2 1 0 1 3 1 0 1 0 1 2 1 2 1-3 1-1 1 1 1-1 1 0 1-2 1 1 1 1 1-1 1 3 1 2 1-2 1 4 1-2 1-1 1-3 1 3"/>
<path class="s2" d="M0 -3l 1-1 1-1 1 0 1-2 1-1 1-1 1-1 1 0 1-2 1-3 1-3 1-3 1 0 1-2 1-4 1-3 1-1 1-2 1-3 1-5 1-2 1-3 1-1 1-1 1-2 1-3 1 1 1-2 1-1 1 0 1-2 1 1 1-1 1-1 1-1 1-1 1-2 1 0 1-1 1 0 1-1 1 1 1 0 1-2 1 0 1 0 1-1 1-2 1 1 1-1 1-2 1-1 1 1 1-2 1-3 1 1 1-2 1-1 1 0 1 0 1-2 1 0 1-1 1-1 1-2 1-2 1-1 1-1 1 0 1 0 1-2 1-1 1-1 1-1 1-1 1 1 1 0 1 1 1-2 1-2 1-1 1 1 1-1 1 1 1 1 1 0 1-1 1-1 1 0 1 1 1 0 1 3 1-2 1-2 1 1 1 0 1 0 1-1 1 0 1 1 1 4 1-2 1 2 1 0 1-2 1 1 1 0 1 0 1 2 1 0 1 0 1 0 1 0 1 1 1 1 1 0 1 2 1-1 1-1 1 0"/>
</g></g>
<rect x="245.1" y="1307.5" width="146.8" height="154.0" fill="none" stroke="#000" stroke-width="1.1"/>
<path d="M240.2 1338.5H245.1 M240.2 1399.5H245.1 M240.2 1461.5H245.1 M269.5 1461.5V1466.4 M330.5 1461.5V1466.4 M391.5 1461.5V1466.4" stroke="#000" stroke-width="1.1" fill="none"/>
<rect x="290.7" y="1408.9" width="94.2" height="45.7" rx="4" ry="4" fill="#fff" fill-opacity="0.8" stroke="#cccccc" stroke-width="1.2"/>
<text x="295.2" y="1425.5" font-size="13.89" textLength="63.2" lengthAdjust="spacingAndGlyphs">OELFUSA</text>
<text x="295.2" y="1446.3" font-size="13.89" textLength="81.5" lengthAdjust="spacingAndGlyphs">(EU, 12.0%)</text>
<clipPath id="c7_2"><rect x="428.4" y="1307.5" width="147.1" height="154.0"/></clipPath>
<g clip-path="url(#c7_2)">
<line x1="428.4" y1="1399.9" x2="575.5" y2="1399.9" stroke="#aaa" stroke-width="0.6" stroke-dasharray="1,1.7"/>
<g transform="matrix(1.2258 0 0 0.6160 428.40 1399.90)">
<path d="M0 -13l 1 1 1 0 1 1 1 0 1-1 1 0 1 1 1 4 1 2 1-1 1-2 1 0 1-2 1 0 1-1 1 0 1 1 1-3 1 2 1-4 1 0 1 2 1 0 1 1 1 0 1-1 1-3 1 1 1 0 1-1 1 1 1 1 1-1 1 1 1 3 1 3 1 4 1 0 1 3 1-4 1 4 1 2 1-3 1 1 1 0 1-2 1-1 1 2 1 3 1 3 1-3 1 0 1-1 1-1 1 1 1-1 1-1 1-1 1 0 1-1 1 4 1 4 1-3 1 0 1 2 1 1 1 0 1 1 1-3 1 1 1 2 1-2 1-3 1 4 1 1 1 1 1-4 1 1 1 1 1-4 1 2 1-2 1-1 1-2 1-3 1-1 1-2 1-3 1 1 1-2 1-1 1 2 1 0 1 0 1-2 1-1 1 1 1 0 1 2 1 1 1-1 1-2 1 1 1 0 1-1 1-4 1 2 1 1 1 2 1 3 1 2 1-2 1 1 1 3 1 0 1 2 1-3 1 0 1 0 1 0 0 101-1-4-1 0-1 1-1 1-1-1-1-2-1-4-1-6-1-1-1-2-1 0-1 2-1-4-1 1-1 1-1-2-1 0-1 0-1 0-1-3-1 0-1-1-1 0-1-2-1-3-1-8-1-3-1 2-1-2-1-1-1-4-1-3-1 1-1-2-1-1-1 0-1-3-1-2-1-3-1 2-1-4-1 0-1-2-1 1-1-2-1-8-1-1-1-1-1 0-1 3-1 1-1-1-1 0-1 2-1-1-1 2-1-1-1 2-1 0-1-1-1-2-1-3-1 0-1 0-1 1-1-2-1-3-1-1-1-2-1 2-1-1-1 1-1-4-1 4-1-1-1-4-1 2-1-4-1 3-1-3-1 0-1-3-1 1-1 3-1 4-1 3-1 3-1-2-1-3-1 2-1 2-1-2-1 2-1 1-1 1-1-3-1 1-1 1-1-1-1-1-1 0-1 0-1-2-1-2-1 2-1 1-1-1-1 2-1-3-1-2-1 1-1-2-1 1-1 1-1-3-1-2-1-2-1-3-1-3-1-1z" fill="#c2b27a"/>
</g><g transform="matrix(1.2258 0 0 0.6160 428.40 1401.10)">
<path class="d1" d="M0 -13l 1 1 1 0 1 1 1 0 1-1 1 0 1 1 1 4 1 2 1-1 1-2 1 0 1-2 1 0 1-1 1 0 1 1 1-3 1 2 1-4 1 0 1 2 1 0 1 1 1 0 1-1 1-3 1 1 1 0 1-1 1 1 1 1 1-1 1 1 1 3 1 3 1 4 1 0 1 3 1-4 1 4 1 2 1-3 1 1 1 0 1-2 1-1 1 2 1 3 1 3 1-3 1 0 1-1 1-1 1 1 1-1 1-1 1-1 1 0 1-1 1 4 1 4 1-3 1 0 1 2 1 1 1 0 1 1 1-3 1 1 1 2 1-2 1-3 1 4 1 1 1 1 1-4 1 1 1 1 1-4 1 2 1-2 1-1 1-2 1-3 1-1 1-2 1-3 1 1 1-2 1-1 1 2 1 0 1 0 1-2 1-1 1 1 1 0 1 2 1 1 1-1 1-2 1 1 1 0 1-1 1-4 1 2 1 1 1 2 1 3 1 2 1-2 1 1 1 3 1 0 1 2 1-3 1 0 1 0 1 0"/>
<path class="d1" d="M0 1l 1 1 1 3 1 3 1 2 1 2 1 3 1-1 1-1 1 2 1-1 1 2 1 3 1-2 1 1 1-1 1-2 1 2 1 2 1 0 1 0 1 1 1 1 1-1 1-1 1 3 1-1 1-1 1-2 1 2 1-2 1-2 1 3 1 2 1-3 1-3 1-4 1-3 1-1 1 3 1 0 1 3 1-3 1 4 1-2 1 4 1 1 1-4 1 4 1-1 1 1 1-2 1 2 1 1 1 3 1 2 1-1 1 0 1 0 1 3 1 2 1 1 1 0 1-2 1 1 1-2 1 1 1-2 1 0 1 1 1-1 1-3 1 0 1 1 1 1 1 8 1 2 1-1 1 2 1 0 1 4 1-2 1 3 1 2 1 3 1 0 1 1 1 2 1-1 1 3 1 4 1 1 1 2 1-2 1 3 1 8 1 3 1 2 1 0 1 1 1 0 1 3 1 0 1 0 1 0 1 2 1-1 1-1 1 4 1-2 1 0 1 2 1 1 1 6 1 4 1 2 1 1 1-1 1-1 1 0 1 4"/>
<path class="d2" d="M0 -3l 1 1 1 1 1 1 1 1 1 0 1 0 1-1 1 2 1 0 1 1 1-1 1 3 1 0 1-2 1 4 1 2 1-3 1 2 1 3 1 0 1 0 1 0 1 0 1-2 1 0 1-3 1 3 1 2 1-2 1 1 1 2 1-2 1 1 1-4 1-1 1-2 1 3 1-1 1 0 1-1 1 1 1-2 1 0 1 3 1 0 1 1 1 3 1-1 1 1 1-2 1-2 1 3 1 1 1 1 1-2 1 1 1 0 1 1 1 0 1 1 1 0 1-1 1 1 1 1 1 2 1 0 1 2 1 0 1 1 1 1 1-4 1 1 1 0 1 1 1 2 1 0 1-1 1 3 1-1 1 0 1 1 1-3 1 1 1 0 1-2 1-1 1 3 1-1 1 1 1 0 1-1 1-1 1 0 1 2 1 0 1 1 1 0 1 1 1 0 1-1 1-1 1 2 1 0 1 0 1-2 1 2 1-1 1 0 1 2 1 0 1 0 1 1 1-1 1-1 1 1 1-1 1 2 1 1 1 0 1 1"/>
</g><g transform="matrix(1.2258 0 0 0.6160 428.40 1399.90)">
<path class="s1 t" d="M0 -13l 1 1 1 0 1 1 1 0 1-1 1 0 1 1 1 4 1 2 1-1 1-2 1 0 1-2 1 0 1-1 1 0 1 1 1-3 1 2 1-4 1 0 1 2 1 0 1 1 1 0 1-1 1-3 1 1 1 0 1-1 1 1 1 1 1-1 1 1 1 3 1 3 1 4 1 0 1 3 1-4 1 4 1 2 1-3 1 1 1 0 1-2 1-1 1 2 1 3 1 3 1-3 1 0 1-1 1-1 1 1 1-1 1-1 1-1 1 0 1-1 1 4 1 4 1-3 1 0 1 2 1 1 1 0 1 1 1-3 1 1 1 2 1-2 1-3 1 4 1 1 1 1 1-4 1 1 1 1 1-4 1 2 1-2 1-1 1-2 1-3 1-1 1-2 1-3 1 1 1-2 1-1 1 2 1 0 1 0 1-2 1-1 1 1 1 0 1 2 1 1 1-1 1-2 1 1 1 0 1-1 1-4 1 2 1 1 1 2 1 3 1 2 1-2 1 1 1 3 1 0 1 2 1-3 1 0 1 0 1 0"/>
<path class="s1 t" d="M0 1l 1 1 1 3 1 3 1 2 1 2 1 3 1-1 1-1 1 2 1-1 1 2 1 3 1-2 1 1 1-1 1-2 1 2 1 2 1 0 1 0 1 1 1 1 1-1 1-1 1 3 1-1 1-1 1-2 1 2 1-2 1-2 1 3 1 2 1-3 1-3 1-4 1-3 1-1 1 3 1 0 1 3 1-3 1 4 1-2 1 4 1 1 1-4 1 4 1-1 1 1 1-2 1 2 1 1 1 3 1 2 1-1 1 0 1 0 1 3 1 2 1 1 1 0 1-2 1 1 1-2 1 1 1-2 1 0 1 1 1-1 1-3 1 0 1 1 1 1 1 8 1 2 1-1 1 2 1 0 1 4 1-2 1 3 1 2 1 3 1 0 1 1 1 2 1-1 1 3 1 4 1 1 1 2 1-2 1 3 1 8 1 3 1 2 1 0 1 1 1 0 1 3 1 0 1 0 1 0 1 2 1-1 1-1 1 4 1-2 1 0 1 2 1 1 1 6 1 4 1 2 1 1 1-1 1-1 1 0 1 4"/>
<path class="s2 t" d="M0 -3l 1 1 1 1 1 1 1 1 1 0 1 0 1-1 1 2 1 0 1 1 1-1 1 3 1 0 1-2 1 4 1 2 1-3 1 2 1 3 1 0 1 0 1 0 1 0 1-2 1 0 1-3 1 3 1 2 1-2 1 1 1 2 1-2 1 1 1-4 1-1 1-2 1 3 1-1 1 0 1-1 1 1 1-2 1 0 1 3 1 0 1 1 1 3 1-1 1 1 1-2 1-2 1 3 1 1 1 1 1-2 1 1 1 0 1 1 1 0 1 1 1 0 1-1 1 1 1 1 1 2 1 0 1 2 1 0 1 1 1 1 1-4 1 1 1 0 1 1 1 2 1 0 1-1 1 3 1-1 1 0 1 1 1-3 1 1 1 0 1-2 1-1 1 3 1-1 1 1 1 0 1-1 1-1 1 0 1 2 1 0 1 1 1 0 1 1 1 0 1-1 1-1 1 2 1 0 1 0 1-2 1 2 1-1 1 0 1 2 1 0 1 0 1 1 1-1 1-1 1 1 1-1 1 2 1 1 1 0 1 1"/>
</g></g>
<rect x="428.4" y="1307.5" width="147.1" height="154.0" fill="none" stroke="#000" stroke-width="1.1"/>
<path d="M423.5 1338.5H428.4 M423.5 1399.5H428.4 M423.5 1461.5H428.4 M452.5 1461.5V1466.4 M514.5 1461.5V1466.4 M575.5 1461.5V1466.4" stroke="#000" stroke-width="1.1" fill="none"/>
<rect x="483.8" y="1314.6" width="84.8" height="45.7" rx="4" ry="4" fill="#fff" fill-opacity="0.8" stroke="#cccccc" stroke-width="1.2"/>
<text x="488.2" y="1331.2" font-size="13.89" textLength="60.3" lengthAdjust="spacingAndGlyphs">MEKONG</text>
<text x="488.2" y="1352.0" font-size="13.89" textLength="72.2" lengthAdjust="spacingAndGlyphs">(AS, 0.1%)</text>
<clipPath id="c7_3"><rect x="611.9" y="1307.5" width="146.6" height="154.0"/></clipPath>
<g clip-path="url(#c7_3)">
<line x1="611.9" y1="1399.9" x2="758.5" y2="1399.9" stroke="#aaa" stroke-width="0.6" stroke-dasharray="1,1.7"/>
<g transform="matrix(1.2217 0 0 0.6160 611.90 1399.90)">
<path d="M0 -13l 1 0 1 2 1-2 1 0 1-1 1 0 1 1 1 3 1-2 1 0 1 0 1-4 1 1 1 1 1 0 1-1 1 1 1 0 1 7 1 1 1 0 1 1 1 0 1-3 1-1 1 0 1 0 1 1 1-1 1 3 1 0 1 1 1 5 1 0 1-1 1 0 1 3 1-3 1 3 1 3 1 0 1-1 1 1 1 2 1 4 1-1 1 3 1 2 1 1 1-1 1 1 1-2 1-2 1 0 1 0 1-1 1 1 1-2 1-2 1 1 1 1 1-2 1-2 1 0 1 4 1 1 1 3 1 2 1-1 1-1 1-1 1 1 1 2 1 0 1 4 1 0 1 2 1 2 1 0 1 1 1 0 1-3 1 5 1 0 1-3 1 5 1-3 1 2 1-1 1-1 1 0 1 2 1 0 1 2 1 0 1 2 1 1 1 0 1-2 1 0 1 4 1 3 1 2 1 0 1 1 1 1 1-2 1-1 1 1 1-1 1-3 1 1 1 4 1-2 1-4 1 0 1 2 1-1 1 1 1-1 0 49-1 4-1-2-1 6-1 0-1-1-1 2-1 1-1-5-1-1-1 3-1 4-1 1-1-3-1-2-1-6-1-4-1-2-1 2-1 0-1-2-1 2-1-3-1 0-1 2-1-2-1-2-1-2-1-1-1 2-1-2-1-1-1-2-1 0-1 2-1-4-1-3-1 2-1 0-1-1-1-2-1 0-1-2-1-2-1-2-1-1-1 1-1-3-1-4-1-2-1 2-1-1-1-1-1 0-1 0-1 1-1-1-1-1-1 1-1 1-1 2-1-2-1 1-1 2-1-3-1 0-1-1-1 0-1-2-1 1-1 1-1 0-1 0-1-3-1 1-1-1-1-6-1-3-1-2-1-3-1-1-1-2-1 1-1-2-1-5-1-1-1-2-1-1-1-3-1-3-1-1-1-1-1 3-1-1-1 0-1-2-1 1-1 0-1 1-1-3-1-1-1 1-1-3-1-2-1 2-1-2-1 0-1-2-1-1-1 0-1-1-1 4-1-2-1-2-1 0-1 0-1 0-1-1-1 1-1-1-1 1z" fill="#c2b27a"/>
</g><g transform="matrix(1.2217 0 0 0.6160 611.90 1401.10)">
<path class="d1" d="M0 -13l 1 0 1 2 1-2 1 0 1-1 1 0 1 1 1 3 1-2 1 0 1 0 1-4 1 1 1 1 1 0 1-1 1 1 1 0 1 7 1 1 1 0 1 1 1 0 1-3 1-1 1 0 1 0 1 1 1-1 1 3 1 0 1 1 1 5 1 0 1-1 1 0 1 3 1-3 1 3 1 3 1 0 1-1 1 1 1 2 1 4 1-1 1 3 1 2 1 1 1-1 1 1 1-2 1-2 1 0 1 0 1-1 1 1 1-2 1-2 1 1 1 1 1-2 1-2 1 0 1 4 1 1 1 3 1 2 1-1 1-1 1-1 1 1 1 2 1 0 1 4 1 0 1 2 1 2 1 0 1 1 1 0 1-3 1 5 1 0 1-3 1 5 1-3 1 2 1-1 1-1 1 0 1 2 1 0 1 2 1 0 1 2 1 1 1 0 1-2 1 0 1 4 1 3 1 2 1 0 1 1 1 1 1-2 1-1 1 1 1-1 1-3 1 1 1 4 1-2 1-4 1 0 1 2 1-1 1 1 1-1"/>
<path class="d1" d="M0 2l 1-1 1 1 1-1 1 1 1 0 1 0 1 0 1 2 1 2 1-4 1 1 1 0 1 1 1 2 1 0 1 2 1-2 1 2 1 3 1-1 1 1 1 3 1-1 1 0 1-1 1 2 1 0 1 1 1-3 1 1 1 1 1 3 1 3 1 1 1 2 1 1 1 5 1 2 1-1 1 2 1 1 1 3 1 2 1 3 1 6 1 1 1-1 1 3 1 0 1 0 1-1 1-1 1 2 1 0 1 1 1 0 1 3 1-2 1-1 1 2 1-2 1-1 1-1 1 1 1 1 1-1 1 0 1 0 1 1 1 1 1-2 1 2 1 4 1 3 1-1 1 1 1 2 1 2 1 2 1 0 1 2 1 1 1 0 1-2 1 3 1 4 1-2 1 0 1 2 1 1 1 2 1-2 1 1 1 2 1 2 1 2 1-2 1 0 1 3 1-2 1 2 1 0 1-2 1 2 1 4 1 6 1 2 1 3 1-1 1-4 1-3 1 1 1 5 1-1 1-2 1 1 1 0 1-6 1 2 1-4"/>
<path class="d2" d="M0 -6l 1 0 1 0 1-1 1 0 1 1 1 0 1-1 1 1 1 1 1-1 1 2 1-1 1 3 1-1 1 0 1 1 1 1 1 3 1-1 1 2 1 1 1 2 1 1 1 1 1 0 1-1 1 0 1 2 1-1 1 2 1 2 1 1 1 0 1 1 1 0 1 1 1 1 1 2 1-1 1 2 1 3 1 0 1-1 1 0 1 2 1 0 1 4 1-2 1 2 1 0 1 1 1-1 1-1 1 1 1 2 1 1 1 2 1 1 1-1 1-1 1 0 1 0 1 3 1-2 1 2 1 0 1 0 1 0 1 2 1 1 1 1 1 2 1 0 1 0 1 0 1 2 1 1 1 4 1 0 1 0 1 0 1-1 1 0 1 3 1-1 1 2 1 2 1 1 1 2 1-1 1 1 1-2 1-1 1 0 1 2 1-1 1 1 1 1 1 2 1 1 1 0 1 3 1 1 1 1 1-1 1-1 1-1 1 0 1 2 1 0 1 0 1 0 1 1 1 0 1 0 1 1 1-3 1 1 1-1 1 1"/>
</g><g transform="matrix(1.2217 0 0 0.6160 611.90 1399.90)">
<path class="s1 t" d="M0 -13l 1 0 1 2 1-2 1 0 1-1 1 0 1 1 1 3 1-2 1 0 1 0 1-4 1 1 1 1 1 0 1-1 1 1 1 0 1 7 1 1 1 0 1 1 1 0 1-3 1-1 1 0 1 0 1 1 1-1 1 3 1 0 1 1 1 5 1 0 1-1 1 0 1 3 1-3 1 3 1 3 1 0 1-1 1 1 1 2 1 4 1-1 1 3 1 2 1 1 1-1 1 1 1-2 1-2 1 0 1 0 1-1 1 1 1-2 1-2 1 1 1 1 1-2 1-2 1 0 1 4 1 1 1 3 1 2 1-1 1-1 1-1 1 1 1 2 1 0 1 4 1 0 1 2 1 2 1 0 1 1 1 0 1-3 1 5 1 0 1-3 1 5 1-3 1 2 1-1 1-1 1 0 1 2 1 0 1 2 1 0 1 2 1 1 1 0 1-2 1 0 1 4 1 3 1 2 1 0 1 1 1 1 1-2 1-1 1 1 1-1 1-3 1 1 1 4 1-2 1-4 1 0 1 2 1-1 1 1 1-1"/>
<path class="s1 t" d="M0 2l 1-1 1 1 1-1 1 1 1 0 1 0 1 0 1 2 1 2 1-4 1 1 1 0 1 1 1 2 1 0 1 2 1-2 1 2 1 3 1-1 1 1 1 3 1-1 1 0 1-1 1 2 1 0 1 1 1-3 1 1 1 1 1 3 1 3 1 1 1 2 1 1 1 5 1 2 1-1 1 2 1 1 1 3 1 2 1 3 1 6 1 1 1-1 1 3 1 0 1 0 1-1 1-1 1 2 1 0 1 1 1 0 1 3 1-2 1-1 1 2 1-2 1-1 1-1 1 1 1 1 1-1 1 0 1 0 1 1 1 1 1-2 1 2 1 4 1 3 1-1 1 1 1 2 1 2 1 2 1 0 1 2 1 1 1 0 1-2 1 3 1 4 1-2 1 0 1 2 1 1 1 2 1-2 1 1 1 2 1 2 1 2 1-2 1 0 1 3 1-2 1 2 1 0 1-2 1 2 1 4 1 6 1 2 1 3 1-1 1-4 1-3 1 1 1 5 1-1 1-2 1 1 1 0 1-6 1 2 1-4"/>
<path class="s2 t" d="M0 -6l 1 0 1 0 1-1 1 0 1 1 1 0 1-1 1 1 1 1 1-1 1 2 1-1 1 3 1-1 1 0 1 1 1 1 1 3 1-1 1 2 1 1 1 2 1 1 1 1 1 0 1-1 1 0 1 2 1-1 1 2 1 2 1 1 1 0 1 1 1 0 1 1 1 1 1 2 1-1 1 2 1 3 1 0 1-1 1 0 1 2 1 0 1 4 1-2 1 2 1 0 1 1 1-1 1-1 1 1 1 2 1 1 1 2 1 1 1-1 1-1 1 0 1 0 1 3 1-2 1 2 1 0 1 0 1 0 1 2 1 1 1 1 1 2 1 0 1 0 1 0 1 2 1 1 1 4 1 0 1 0 1 0 1-1 1 0 1 3 1-1 1 2 1 2 1 1 1 2 1-1 1 1 1-2 1-1 1 0 1 2 1-1 1 1 1 1 1 2 1 1 1 0 1 3 1 1 1 1 1-1 1-1 1-1 1 0 1 2 1 0 1 0 1 0 1 1 1 0 1 0 1 1 1-3 1 1 1-1 1 1"/>
</g></g>
<rect x="611.9" y="1307.5" width="146.6" height="154.0" fill="none" stroke="#000" stroke-width="1.1"/>
<path d="M607.0 1338.5H611.9 M607.0 1399.5H611.9 M607.0 1461.5H611.9 M636.5 1461.5V1466.4 M697.5 1461.5V1466.4 M758.5 1461.5V1466.4" stroke="#000" stroke-width="1.1" fill="none"/>
<rect x="666.1" y="1314.6" width="85.4" height="45.7" rx="4" ry="4" fill="#fff" fill-opacity="0.8" stroke="#cccccc" stroke-width="1.2"/>
<text x="670.6" y="1331.2" font-size="13.89" textLength="57.9" lengthAdjust="spacingAndGlyphs">DANUBE</text>
<text x="670.6" y="1352.0" font-size="13.89" textLength="72.8" lengthAdjust="spacingAndGlyphs">(EU, 0.1%)</text>
<clipPath id="c8_0"><rect x="61.5" y="1489.5" width="146.6" height="153.0"/></clipPath>
<g clip-path="url(#c8_0)">
<line x1="61.5" y1="1581.3" x2="208.1" y2="1581.3" stroke="#aaa" stroke-width="0.6" stroke-dasharray="1,1.7"/>
<g transform="matrix(1.2217 0 0 0.6120 61.50 1581.30)">
<path d="M0 -15l 1 1 1-1 1 1 1-3 1 2 1-1 1 2 1-1 1 1 1-2 1-1 1 2 1 0 1 3 1 1 1 0 1-1 1 1 1 2 1-4 1 5 1-1 1-1 1 4 1-3 1 2 1 2 1-1 1 3 1-3 1-3 1-1 1 0 1 3 1 2 1-1 1 3 1 0 1 2 1-2 1 2 1-4 1 3 1-1 1 2 1 1 1 1 1 3 1 2 1 1 1-1 1-4 1-4 1 1 1 3 1 1 1-1 1-1 1 4 1-1 1-1 1-1 1 1 1-6 1 2 1-2 1 4 1 1 1 1 1-3 1 4 1-2 1-2 1-2 1 1 1-1 1-3 1 3 1-3 1 0 1 2 1-3 1-5 1 0 1-3 1-3 1-3 1-3 1 0 1 4 1 2 1-1 1 0 1-1 1-2 1 0 1 1 1-1 1 3 1-2 1-2 1 3 1-2 1-2 1 4 1-2 1 0 1-2 1-6 1 4 1 1 1-5 1-3 1 6 1-1 1 4 1 1 1 3 1-4 1-1 0 87-1 1-1 0-1-2-1-1-1-1-1 1-1 2-1 0-1-2-1 0-1-3-1-2-1 1-1-3-1 2-1 3-1 3-1-2-1 3-1 0-1-2-1 0-1 1-1-1-1 0-1-1-1 0-1-2-1-1-1-2-1 0-1-3-1 0-1-3-1 1-1 3-1-3-1-1-1-2-1-1-1 2-1-4-1 1-1 0-1 2-1-1-1 1-1 1-1-1-1-3-1-1-1 3-1 1-1-2-1-2-1-4-1 1-1 0-1 2-1-2-1-2-1 3-1-2-1 2-1-2-1-2-1 0-1 0-1 2-1-3-1-1-1-2-1-2-1 0-1 1-1-3-1-4-1 1-1 0-1-4-1-2-1 1-1-2-1-2-1-1-1 2-1-5-1-1-1-2-1 2-1-1-1 3-1 0-1 0-1 1-1 0-1-1-1-2-1 2-1-2-1 0-1 3-1 0-1 0-1 0-1-2-1-2-1-1-1 2-1 0-1-1-1 1-1 0-1-2-1-3-1-1-1 0-1-2-1 1-1-3z" fill="#c2b27a"/>
</g><g transform="matrix(1.2217 0 0 0.6120 61.50 1582.50)">
<path class="d1" d="M0 -15l 1 1 1-1 1 1 1-3 1 2 1-1 1 2 1-1 1 1 1-2 1-1 1 2 1 0 1 3 1 1 1 0 1-1 1 1 1 2 1-4 1 5 1-1 1-1 1 4 1-3 1 2 1 2 1-1 1 3 1-3 1-3 1-1 1 0 1 3 1 2 1-1 1 3 1 0 1 2 1-2 1 2 1-4 1 3 1-1 1 2 1 1 1 1 1 3 1 2 1 1 1-1 1-4 1-4 1 1 1 3 1 1 1-1 1-1 1 4 1-1 1-1 1-1 1 1 1-6 1 2 1-2 1 4 1 1 1 1 1-3 1 4 1-2 1-2 1-2 1 1 1-1 1-3 1 3 1-3 1 0 1 2 1-3 1-5 1 0 1-3 1-3 1-3 1-3 1 0 1 4 1 2 1-1 1 0 1-1 1-2 1 0 1 1 1-1 1 3 1-2 1-2 1 3 1-2 1-2 1 4 1-2 1 0 1-2 1-6 1 4 1 1 1-5 1-3 1 6 1-1 1 4 1 1 1 3 1-4 1-1"/>
<path class="d1" d="M0 2l 1 3 1-1 1 2 1 0 1 1 1 3 1 2 1 0 1-1 1 1 1 0 1-2 1 1 1 2 1 2 1 0 1 0 1 0 1-3 1 0 1 2 1-2 1 2 1 1 1 0 1-1 1 0 1 0 1-3 1 1 1-2 1 2 1 1 1 5 1-2 1 1 1 2 1 2 1-1 1 2 1 4 1 0 1-1 1 4 1 3 1-1 1 0 1 2 1 2 1 1 1 3 1-2 1 0 1 0 1 2 1 2 1-2 1 2 1-3 1 2 1 2 1-2 1 0 1-1 1 4 1 2 1 2 1-1 1-3 1 1 1 3 1 1 1-1 1-1 1 1 1-2 1 0 1-1 1 4 1-2 1 1 1 2 1 1 1 3 1-3 1-1 1 3 1 0 1 3 1 0 1 2 1 1 1 2 1 0 1 1 1 0 1 1 1-1 1 0 1 2 1 0 1-3 1 2 1-3 1-3 1-2 1 3 1-1 1 2 1 3 1 0 1 2 1 0 1-2 1-1 1 1 1 1 1 2 1 0 1-1"/>
<path class="d2" d="M0 -5l 1 0 1 0 1 1 1 0 1 0 1 2 1 0 1-2 1 1 1 0 1 1 1 2 1-1 1 1 1-1 1 1 1 0 1 1 1 0 1 1 1 0 1-1 1 1 1 0 1 2 1-2 1 0 1 1 1 2 1 1 1 1 1 1 1 0 1-1 1-1 1 1 1 1 1 1 1 1 1 0 1 1 1 1 1 2 1-1 1-1 1 1 1-1 1 1 1 0 1 2 1 0 1 2 1-1 1 0 1-1 1 1 1 1 1 1 1 2 1-1 1 0 1 1 1-2 1 0 1 0 1 0 1 0 1-3 1 1 1-1 1 0 1 1 1 0 1 2 1 0 1-1 1 0 1-1 1 1 1-2 1 1 1 1 1 0 1 1 1 1 1-1 1-2 1 0 1-1 1 0 1 0 1 2 1 0 1 1 1 0 1 2 1 1 1 2 1 0 1-2 1 2 1 0 1-2 1-1 1 3 1 1 1-1 1-2 1 0 1 0 1 0 1-1 1 1 1 0 1 1 1 1 1 1 1 0 1-1 1 1"/>
</g><g transform="matrix(1.2217 0 0 0.6120 61.50 1581.30)">
<path class="s1 t" d="M0 -15l 1 1 1-1 1 1 1-3 1 2 1-1 1 2 1-1 1 1 1-2 1-1 1 2 1 0 1 3 1 1 1 0 1-1 1 1 1 2 1-4 1 5 1-1 1-1 1 4 1-3 1 2 1 2 1-1 1 3 1-3 1-3 1-1 1 0 1 3 1 2 1-1 1 3 1 0 1 2 1-2 1 2 1-4 1 3 1-1 1 2 1 1 1 1 1 3 1 2 1 1 1-1 1-4 1-4 1 1 1 3 1 1 1-1 1-1 1 4 1-1 1-1 1-1 1 1 1-6 1 2 1-2 1 4 1 1 1 1 1-3 1 4 1-2 1-2 1-2 1 1 1-1 1-3 1 3 1-3 1 0 1 2 1-3 1-5 1 0 1-3 1-3 1-3 1-3 1 0 1 4 1 2 1-1 1 0 1-1 1-2 1 0 1 1 1-1 1 3 1-2 1-2 1 3 1-2 1-2 1 4 1-2 1 0 1-2 1-6 1 4 1 1 1-5 1-3 1 6 1-1 1 4 1 1 1 3 1-4 1-1"/>
<path class="s1 t" d="M0 2l 1 3 1-1 1 2 1 0 1 1 1 3 1 2 1 0 1-1 1 1 1 0 1-2 1 1 1 2 1 2 1 0 1 0 1 0 1-3 1 0 1 2 1-2 1 2 1 1 1 0 1-1 1 0 1 0 1-3 1 1 1-2 1 2 1 1 1 5 1-2 1 1 1 2 1 2 1-1 1 2 1 4 1 0 1-1 1 4 1 3 1-1 1 0 1 2 1 2 1 1 1 3 1-2 1 0 1 0 1 2 1 2 1-2 1 2 1-3 1 2 1 2 1-2 1 0 1-1 1 4 1 2 1 2 1-1 1-3 1 1 1 3 1 1 1-1 1-1 1 1 1-2 1 0 1-1 1 4 1-2 1 1 1 2 1 1 1 3 1-3 1-1 1 3 1 0 1 3 1 0 1 2 1 1 1 2 1 0 1 1 1 0 1 1 1-1 1 0 1 2 1 0 1-3 1 2 1-3 1-3 1-2 1 3 1-1 1 2 1 3 1 0 1 2 1 0 1-2 1-1 1 1 1 1 1 2 1 0 1-1"/>
<path class="s2 t" d="M0 -5l 1 0 1 0 1 1 1 0 1 0 1 2 1 0 1-2 1 1 1 0 1 1 1 2 1-1 1 1 1-1 1 1 1 0 1 1 1 0 1 1 1 0 1-1 1 1 1 0 1 2 1-2 1 0 1 1 1 2 1 1 1 1 1 1 1 0 1-1 1-1 1 1 1 1 1 1 1 1 1 0 1 1 1 1 1 2 1-1 1-1 1 1 1-1 1 1 1 0 1 2 1 0 1 2 1-1 1 0 1-1 1 1 1 1 1 1 1 2 1-1 1 0 1 1 1-2 1 0 1 0 1 0 1 0 1-3 1 1 1-1 1 0 1 1 1 0 1 2 1 0 1-1 1 0 1-1 1 1 1-2 1 1 1 1 1 0 1 1 1 1 1-1 1-2 1 0 1-1 1 0 1 0 1 2 1 0 1 1 1 0 1 2 1 1 1 2 1 0 1-2 1 2 1 0 1-2 1-1 1 3 1 1 1-1 1-2 1 0 1 0 1 0 1-1 1 1 1 0 1 1 1 1 1 1 1 0 1-1 1 1"/>
</g></g>
<rect x="61.5" y="1489.5" width="146.6" height="153.0" fill="none" stroke="#000" stroke-width="1.1"/>
<path d="M56.6 1520.5H61.5 M56.6 1581.5H61.5 M56.6 1642.5H61.5 M85.5 1642.5V1647.4 M147.5 1642.5V1647.4 M208.5 1642.5V1647.4" stroke="#000" stroke-width="1.1" fill="none"/>
<text x="51.8" y="1525.7" text-anchor="end" font-size="16.67" textLength="10.3" lengthAdjust="spacingAndGlyphs">1</text>
<text x="51.8" y="1586.9" text-anchor="end" font-size="16.67" textLength="10.3" lengthAdjust="spacingAndGlyphs">0</text>
<text x="51.8" y="1648.1" text-anchor="end" font-size="16.67" textLength="23.8" lengthAdjust="spacingAndGlyphs">−1</text>
<text transform="translate(17.2,1566.5) rotate(-90)" text-anchor="middle" font-size="13.89" textLength="106.9" lengthAdjust="spacingAndGlyphs">Roll. mean SPEI</text>
<rect x="87.7" y="1496.6" width="114.6" height="45.7" rx="4" ry="4" fill="#fff" fill-opacity="0.8" stroke="#cccccc" stroke-width="1.2"/>
<text x="92.2" y="1513.2" font-size="13.89" textLength="101.6" lengthAdjust="spacingAndGlyphs">NELSON RIVER</text>
<text x="92.2" y="1534.0" font-size="13.89" textLength="73.7" lengthAdjust="spacingAndGlyphs">(NA, 0.0%)</text>
<clipPath id="c8_1"><rect x="245.1" y="1489.5" width="146.8" height="153.0"/></clipPath>
<g clip-path="url(#c8_1)">
<line x1="245.1" y1="1581.3" x2="391.9" y2="1581.3" stroke="#aaa" stroke-width="0.6" stroke-dasharray="1,1.7"/>
<g transform="matrix(1.2233 0 0 0.6120 245.10 1581.30)">
<path d="M0 -10l 1 0 1 0 1-1 1 0 1 1 1 1 1-2 1-2 1 0 1-1 1 0 1-3 1 1 1 4 1 0 1 3 1-1 1 3 1 1 1-1 1-1 1-2 1 2 1-2 1 3 1-1 1 0 1 0 1-2 1 1 1-4 1 1 1 1 1 2 1 0 1 5 1 3 1 2 1-3 1 2 1-2 1 2 1 0 1 1 1 5 1-1 1 0 1 1 1 1 1-1 1 1 1 0 1-3 1-1 1 2 1 0 1 0 1 1 1 5 1-2 1 3 1 1 1 0 1 3 1 3 1 0 1-3 1 2 1 0 1 3 1-4 1 4 1 1 1 0 1 5 1-2 1-1 1-1 1 1 1-2 1 1 1-7 1 4 1-1 1 2 1 4 1 0 1-1 1-1 1 2 1-1 1 1 1 2 1-3 1-2 1-1 1 3 1 0 1-2 1 0 1 3 1 1 1-1 1 2 1 3 1 1 1 4 1 2 1 0 1 0 1-1 1-1 1 3 1 0 1-1 1-3 1-3 1 1 1 0 1 0 0 42-1 1-1-2-1-4-1 0-1 2-1 2-1-1-1-2-1-4-1 2-1 0-1 0-1 0-1 2-1 2-1 2-1-1-1-1-1-1-1 0-1-2-1-3-1 2-1 0-1 2-1-2-1-5-1-1-1-2-1-1-1-2-1 0-1-1-1-2-1-2-1-2-1-2-1 1-1-4-1 1-1 3-1 1-1-2-1-1-1-1-1 0-1-1-1 3-1-2-1 0-1-2-1 0-1-2-1-1-1-2-1 0-1 4-1-2-1-2-1 1-1-2-1-2-1 0-1 0-1-3-1-2-1-1-1 3-1 1-1-2-1 0-1-1-1-4-1-2-1-1-1-1-1-2-1-1-1 1-1-1-1-2-1 0-1 1-1-3-1 1-1-3-1-1-1 0-1 0-1-3-1-2-1-4-1 1-1 0-1-1-1 1-1 0-1-4-1 3-1-1-1-1-1-1-1-2-1 2-1-2-1 1-1 0-1-3-1 5-1-1-1 2-1 0-1-1-1 0-1-1-1-1-1 2-1 1-1 0-1-1z" fill="#c2b27a"/>
</g><g transform="matrix(1.2233 0 0 0.6120 245.10 1582.50)">
<path class="d1" d="M0 -10l 1 0 1 0 1-1 1 0 1 1 1 1 1-2 1-2 1 0 1-1 1 0 1-3 1 1 1 4 1 0 1 3 1-1 1 3 1 1 1-1 1-1 1-2 1 2 1-2 1 3 1-1 1 0 1 0 1-2 1 1 1-4 1 1 1 1 1 2 1 0 1 5 1 3 1 2 1-3 1 2 1-2 1 2 1 0 1 1 1 5 1-1 1 0 1 1 1 1 1-1 1 1 1 0 1-3 1-1 1 2 1 0 1 0 1 1 1 5 1-2 1 3 1 1 1 0 1 3 1 3 1 0 1-3 1 2 1 0 1 3 1-4 1 4 1 1 1 0 1 5 1-2 1-1 1-1 1 1 1-2 1 1 1-7 1 4 1-1 1 2 1 4 1 0 1-1 1-1 1 2 1-1 1 1 1 2 1-3 1-2 1-1 1 3 1 0 1-2 1 0 1 3 1 1 1-1 1 2 1 3 1 1 1 4 1 2 1 0 1 0 1-1 1-1 1 3 1 0 1-1 1-3 1-3 1 1 1 0 1 0"/>
<path class="d1" d="M0 2l 1 1 1 0 1-1 1-2 1 1 1 1 1 0 1 1 1 0 1-2 1 1 1-5 1 3 1 0 1-1 1 2 1-2 1 2 1 1 1 1 1 1 1-3 1 4 1 0 1-1 1 1 1 0 1-1 1 4 1 2 1 3 1 0 1 0 1 1 1 3 1-1 1 3 1-1 1 0 1 2 1 1 1-1 1 1 1 2 1 1 1 1 1 2 1 4 1 1 1 0 1 2 1-1 1-3 1 1 1 2 1 3 1 0 1 0 1 2 1 2 1-1 1 2 1 2 1-4 1 0 1 2 1 1 1 2 1 0 1 2 1 0 1 2 1-3 1 1 1 0 1 1 1 1 1 2 1-1 1-3 1-1 1 4 1-1 1 2 1 2 1 2 1 2 1 1 1 0 1 2 1 1 1 2 1 1 1 5 1 2 1-2 1 0 1-2 1 3 1 2 1 0 1 1 1 1 1 1 1-2 1-2 1-2 1 0 1 0 1 0 1-2 1 4 1 2 1 1 1-2 1-2 1 0 1 4 1 2 1-1"/>
<path class="d2" d="M0 -5l 1 0 1 0 1 0 1 1 1-1 1 1 1-1 1-3 1 1 1-2 1 0 1-1 1 2 1 1 1 0 1 2 1 1 1 4 1-1 1 1 1 0 1 0 1-1 1 1 1 2 1-2 1 1 1 1 1-2 1 3 1-2 1 2 1 1 1 0 1 2 1 3 1-1 1-1 1 0 1 2 1 3 1-1 1 0 1-1 1-1 1 4 1 1 1 1 1 0 1 1 1 1 1 0 1-1 1-1 1 2 1 0 1 1 1 1 1 2 1-1 1 3 1 0 1 0 1 0 1 2 1 0 1-2 1 2 1 1 1 1 1 1 1-1 1 0 1 0 1 2 1 3 1 0 1 0 1 2 1 2 1 1 1 1 1-4 1 2 1 0 1 1 1 2 1-2 1 0 1 1 1 1 1 1 1 1 1 1 1 0 1 3 1 0 1 0 1 1 1-2 1 1 1-2 1 3 1-1 1-2 1-1 1 1 1 3 1 0 1-2 1 2 1 1 1-2 1 2 1 2 1 0 1 1 1-2 1 0 1 1"/>
</g><g transform="matrix(1.2233 0 0 0.6120 245.10 1581.30)">
<path class="s1 t" d="M0 -10l 1 0 1 0 1-1 1 0 1 1 1 1 1-2 1-2 1 0 1-1 1 0 1-3 1 1 1 4 1 0 1 3 1-1 1 3 1 1 1-1 1-1 1-2 1 2 1-2 1 3 1-1 1 0 1 0 1-2 1 1 1-4 1 1 1 1 1 2 1 0 1 5 1 3 1 2 1-3 1 2 1-2 1 2 1 0 1 1 1 5 1-1 1 0 1 1 1 1 1-1 1 1 1 0 1-3 1-1 1 2 1 0 1 0 1 1 1 5 1-2 1 3 1 1 1 0 1 3 1 3 1 0 1-3 1 2 1 0 1 3 1-4 1 4 1 1 1 0 1 5 1-2 1-1 1-1 1 1 1-2 1 1 1-7 1 4 1-1 1 2 1 4 1 0 1-1 1-1 1 2 1-1 1 1 1 2 1-3 1-2 1-1 1 3 1 0 1-2 1 0 1 3 1 1 1-1 1 2 1 3 1 1 1 4 1 2 1 0 1 0 1-1 1-1 1 3 1 0 1-1 1-3 1-3 1 1 1 0 1 0"/>
<path class="s1 t" d="M0 2l 1 1 1 0 1-1 1-2 1 1 1 1 1 0 1 1 1 0 1-2 1 1 1-5 1 3 1 0 1-1 1 2 1-2 1 2 1 1 1 1 1 1 1-3 1 4 1 0 1-1 1 1 1 0 1-1 1 4 1 2 1 3 1 0 1 0 1 1 1 3 1-1 1 3 1-1 1 0 1 2 1 1 1-1 1 1 1 2 1 1 1 1 1 2 1 4 1 1 1 0 1 2 1-1 1-3 1 1 1 2 1 3 1 0 1 0 1 2 1 2 1-1 1 2 1 2 1-4 1 0 1 2 1 1 1 2 1 0 1 2 1 0 1 2 1-3 1 1 1 0 1 1 1 1 1 2 1-1 1-3 1-1 1 4 1-1 1 2 1 2 1 2 1 2 1 1 1 0 1 2 1 1 1 2 1 1 1 5 1 2 1-2 1 0 1-2 1 3 1 2 1 0 1 1 1 1 1 1 1-2 1-2 1-2 1 0 1 0 1 0 1-2 1 4 1 2 1 1 1-2 1-2 1 0 1 4 1 2 1-1"/>
<path class="s2 t" d="M0 -5l 1 0 1 0 1 0 1 1 1-1 1 1 1-1 1-3 1 1 1-2 1 0 1-1 1 2 1 1 1 0 1 2 1 1 1 4 1-1 1 1 1 0 1 0 1-1 1 1 1 2 1-2 1 1 1 1 1-2 1 3 1-2 1 2 1 1 1 0 1 2 1 3 1-1 1-1 1 0 1 2 1 3 1-1 1 0 1-1 1-1 1 4 1 1 1 1 1 0 1 1 1 1 1 0 1-1 1-1 1 2 1 0 1 1 1 1 1 2 1-1 1 3 1 0 1 0 1 0 1 2 1 0 1-2 1 2 1 1 1 1 1 1 1-1 1 0 1 0 1 2 1 3 1 0 1 0 1 2 1 2 1 1 1 1 1-4 1 2 1 0 1 1 1 2 1-2 1 0 1 1 1 1 1 1 1 1 1 1 1 0 1 3 1 0 1 0 1 1 1-2 1 1 1-2 1 3 1-1 1-2 1-1 1 1 1 3 1 0 1-2 1 2 1 1 1-2 1 2 1 2 1 0 1 1 1-2 1 0 1 1"/>
</g></g>
<rect x="245.1" y="1489.5" width="146.8" height="153.0" fill="none" stroke="#000" stroke-width="1.1"/>
<path d="M240.2 1520.5H245.1 M240.2 1581.5H245.1 M240.2 1642.5H245.1 M269.5 1642.5V1647.4 M330.5 1642.5V1647.4 M391.5 1642.5V1647.4" stroke="#000" stroke-width="1.1" fill="none"/>
<rect x="299.5" y="1496.6" width="85.4" height="45.7" rx="4" ry="4" fill="#fff" fill-opacity="0.8" stroke="#cccccc" stroke-width="1.2"/>
<text x="304.0" y="1513.2" font-size="13.89" textLength="19.0" lengthAdjust="spacingAndGlyphs">PO</text>
<text x="304.0" y="1534.0" font-size="13.89" textLength="72.8" lengthAdjust="spacingAndGlyphs">(EU, 0.5%)</text>
<clipPath id="c8_2"><rect x="428.4" y="1489.5" width="147.1" height="153.0"/></clipPath>
<g clip-path="url(#c8_2)">
<line x1="428.4" y1="1581.3" x2="575.5" y2="1581.3" stroke="#aaa" stroke-width="0.6" stroke-dasharray="1,1.7"/>
<g transform="matrix(1.2258 0 0 0.6120 428.40 1581.30)">
<path d="M0 -5l 1 0 1-2 1 1 1-3 1 2 1 1 1-2 1 0 1 0 1 1 1 1 1-4 1 2 1 0 1 0 1-3 1 1 1-2 1 3 1-2 1-2 1-4 1-2 1 4 1 1 1 0 1-1 1 1 1 0 1-2 1 0 1 1 1-1 1 4 1-2 1 2 1 1 1 3 1-1 1-1 1-1 1-1 1-1 1-3 1-4 1 2 1-4 1-2 1-2 1 1 1-2 1 3 1-1 1-3 1 2 1-1 1-2 1-3 1 2 1-3 1 1 1-3 1 0 1-5 1-4 1-1 1-3 1 1 1-5 1-2 1 4 1 2 1 0 1 4 1 1 1 2 1 1 1-2 1 0 1 4 1 1 1 1 1-4 1-4 1-2 1 1 1-3 1-1 1-3 1-3 1-2 1 3 1-1 1 3 1-2 1 3 1 0 1 1 1-3 1 0 1 0 1 0 1 0 1 2 1-2 1-3 1 1 1-4 1-1 1 2 1 0 1-2 1 3 1 2 1 0 1 2 1 0 1 1 1-1 1 0 0 52-1 0-1 2-1-3-1-1-1 0-1 3-1-4-1-1-1-1-1 1-1 4-1 1-1-6-1 1-1 2-1 3-1-4-1 2-1-4-1-1-1 2-1-1-1-3-1 0-1-2-1 3-1-3-1-2-1-3-1 5-1 4-1-2-1 2-1-2-1 3-1 0-1 3-1 1-1 2-1 0-1 1-1-5-1-1-1 3-1 2-1 0-1 1-1 3-1-5-1-3-1-1-1 2-1-2-1 1-1 0-1 3-1 1-1-1-1-2-1-4-1 5-1-1-1-1-1 1-1-2-1 0-1 3-1 3-1-1-1 1-1-1-1 0-1-5-1 2-1 2-1-2-1 1-1 2-1-1-1 1-1-4-1 4-1 3-1 3-1 3-1 1-1-1-1-1-1-1-1 0-1 0-1-1-1 0-1-1-1 2-1-4-1-2-1 0-1 2-1-3-1 2-1 2-1-2-1 1-1 2-1-1-1 2-1-2-1-1-1 1-1 4-1-2-1 1-1 0-1-2-1-3-1 2-1-1-1-2-1 0z" fill="#c2b27a"/>
</g><g transform="matrix(1.2258 0 0 0.6120 428.40 1582.50)">
<path class="d1" d="M0 -5l 1 0 1-2 1 1 1-3 1 2 1 1 1-2 1 0 1 0 1 1 1 1 1-4 1 2 1 0 1 0 1-3 1 1 1-2 1 3 1-2 1-2 1-4 1-2 1 4 1 1 1 0 1-1 1 1 1 0 1-2 1 0 1 1 1-1 1 4 1-2 1 2 1 1 1 3 1-1 1-1 1-1 1-1 1-1 1-3 1-4 1 2 1-4 1-2 1-2 1 1 1-2 1 3 1-1 1-3 1 2 1-1 1-2 1-3 1 2 1-3 1 1 1-3 1 0 1-5 1-4 1-1 1-3 1 1 1-5 1-2 1 4 1 2 1 0 1 4 1 1 1 2 1 1 1-2 1 0 1 4 1 1 1 1 1-4 1-4 1-2 1 1 1-3 1-1 1-3 1-3 1-2 1 3 1-1 1 3 1-2 1 3 1 0 1 1 1-3 1 0 1 0 1 0 1 0 1 2 1-2 1-3 1 1 1-4 1-1 1 2 1 0 1-2 1 3 1 2 1 0 1 2 1 0 1 1 1-1 1 0"/>
<path class="d1" d="M0 1l 1 0 1 2 1 1 1-2 1 3 1 2 1 0 1-1 1 2 1-4 1-1 1 1 1 2 1-2 1 1 1-2 1-1 1 2 1-2 1-2 1 3 1-2 1 0 1 2 1 4 1-2 1 1 1 0 1 1 1 0 1 0 1 1 1 1 1 1 1-1 1-3 1-3 1-3 1-4 1 4 1-1 1 1 1-2 1-1 1 2 1-2 1-2 1 5 1 0 1 1 1-1 1 1 1-3 1-3 1 0 1 2 1-1 1 1 1 1 1-5 1 4 1 2 1 1 1-1 1-3 1 0 1-1 1 2 1-2 1 1 1 3 1 5 1-3 1-1 1 0 1-2 1-3 1 1 1 5 1-1 1 0 1-2 1-1 1-3 1 0 1-3 1 2 1-2 1 2 1-4 1-5 1 3 1 2 1 3 1-3 1 2 1 0 1 3 1 1 1-2 1 1 1 4 1-2 1 4 1-3 1-2 1-1 1 6 1-1 1-4 1-1 1 1 1 1 1 4 1-3 1 0 1 1 1 3 1-2 1 0"/>
<path class="d2" d="M0 -1l 1-1 1 0 1 1 1 0 1 1 1 0 1-1 1-2 1 1 1-2 1 2 1 0 1 0 1-1 1-1 1-1 1 0 1-1 1 1 1 0 1-1 1 1 1 0 1 0 1 0 1-2 1 0 1 1 1 1 1-1 1-1 1-1 1 0 1 1 1 1 1-2 1 1 1-2 1-1 1 1 1 0 1-1 1 0 1-1 1-2 1 0 1-1 1-1 1-1 1 0 1 2 1-2 1-2 1-1 1 1 1-3 1-1 1 1 1-2 1 3 1-3 1-1 1 1 1-1 1-1 1-1 1 1 1 2 1-1 1 0 1 0 1 1 1 0 1 1 1-2 1 0 1 0 1 0 1 0 1 0 1-1 1 3 1-1 1 0 1-2 1 0 1-1 1-2 1 1 1-2 1 1 1 0 1 0 1-1 1 2 1 0 1 0 1-1 1-1 1-1 1 0 1 1 1-1 1 0 1 1 1-2 1 0 1 1 1 0 1-1 1 0 1 1 1-1 1 1 1-1 1-1 1 0 1-1 1-1 1-2"/>
</g><g transform="matrix(1.2258 0 0 0.6120 428.40 1581.30)">
<path class="s1 t" d="M0 -5l 1 0 1-2 1 1 1-3 1 2 1 1 1-2 1 0 1 0 1 1 1 1 1-4 1 2 1 0 1 0 1-3 1 1 1-2 1 3 1-2 1-2 1-4 1-2 1 4 1 1 1 0 1-1 1 1 1 0 1-2 1 0 1 1 1-1 1 4 1-2 1 2 1 1 1 3 1-1 1-1 1-1 1-1 1-1 1-3 1-4 1 2 1-4 1-2 1-2 1 1 1-2 1 3 1-1 1-3 1 2 1-1 1-2 1-3 1 2 1-3 1 1 1-3 1 0 1-5 1-4 1-1 1-3 1 1 1-5 1-2 1 4 1 2 1 0 1 4 1 1 1 2 1 1 1-2 1 0 1 4 1 1 1 1 1-4 1-4 1-2 1 1 1-3 1-1 1-3 1-3 1-2 1 3 1-1 1 3 1-2 1 3 1 0 1 1 1-3 1 0 1 0 1 0 1 0 1 2 1-2 1-3 1 1 1-4 1-1 1 2 1 0 1-2 1 3 1 2 1 0 1 2 1 0 1 1 1-1 1 0"/>
<path class="s1 t" d="M0 1l 1 0 1 2 1 1 1-2 1 3 1 2 1 0 1-1 1 2 1-4 1-1 1 1 1 2 1-2 1 1 1-2 1-1 1 2 1-2 1-2 1 3 1-2 1 0 1 2 1 4 1-2 1 1 1 0 1 1 1 0 1 0 1 1 1 1 1 1 1-1 1-3 1-3 1-3 1-4 1 4 1-1 1 1 1-2 1-1 1 2 1-2 1-2 1 5 1 0 1 1 1-1 1 1 1-3 1-3 1 0 1 2 1-1 1 1 1 1 1-5 1 4 1 2 1 1 1-1 1-3 1 0 1-1 1 2 1-2 1 1 1 3 1 5 1-3 1-1 1 0 1-2 1-3 1 1 1 5 1-1 1 0 1-2 1-1 1-3 1 0 1-3 1 2 1-2 1 2 1-4 1-5 1 3 1 2 1 3 1-3 1 2 1 0 1 3 1 1 1-2 1 1 1 4 1-2 1 4 1-3 1-2 1-1 1 6 1-1 1-4 1-1 1 1 1 1 1 4 1-3 1 0 1 1 1 3 1-2 1 0"/>
<path class="s2 t" d="M0 -1l 1-1 1 0 1 1 1 0 1 1 1 0 1-1 1-2 1 1 1-2 1 2 1 0 1 0 1-1 1-1 1-1 1 0 1-1 1 1 1 0 1-1 1 1 1 0 1 0 1 0 1-2 1 0 1 1 1 1 1-1 1-1 1-1 1 0 1 1 1 1 1-2 1 1 1-2 1-1 1 1 1 0 1-1 1 0 1-1 1-2 1 0 1-1 1-1 1-1 1 0 1 2 1-2 1-2 1-1 1 1 1-3 1-1 1 1 1-2 1 3 1-3 1-1 1 1 1-1 1-1 1-1 1 1 1 2 1-1 1 0 1 0 1 1 1 0 1 1 1-2 1 0 1 0 1 0 1 0 1 0 1-1 1 3 1-1 1 0 1-2 1 0 1-1 1-2 1 1 1-2 1 1 1 0 1 0 1-1 1 2 1 0 1 0 1-1 1-1 1-1 1 0 1 1 1-1 1 0 1 1 1-2 1 0 1 1 1 0 1-1 1 0 1 1 1-1 1 1 1-1 1-1 1 0 1-1 1-1 1-2"/>
</g></g>
<rect x="428.4" y="1489.5" width="147.1" height="153.0" fill="none" stroke="#000" stroke-width="1.1"/>
<path d="M423.5 1520.5H428.4 M423.5 1581.5H428.4 M423.5 1642.5H428.4 M452.5 1642.5V1647.4 M514.5 1642.5V1647.4 M575.5 1642.5V1647.4" stroke="#000" stroke-width="1.1" fill="none"/>
<rect x="471.2" y="1496.6" width="97.2" height="45.7" rx="4" ry="4" fill="#fff" fill-opacity="0.8" stroke="#cccccc" stroke-width="1.2"/>
<text x="475.8" y="1513.2" font-size="13.89" textLength="84.5" lengthAdjust="spacingAndGlyphs">KAMCHATKA</text>
<text x="475.8" y="1534.0" font-size="13.89" textLength="72.2" lengthAdjust="spacingAndGlyphs">(AS, 0.6%)</text>
<clipPath id="c8_3"><rect x="611.9" y="1489.5" width="146.6" height="153.0"/></clipPath>
<g clip-path="url(#c8_3)">
<line x1="611.9" y1="1581.3" x2="758.5" y2="1581.3" stroke="#aaa" stroke-width="0.6" stroke-dasharray="1,1.7"/>
<g transform="matrix(1.2217 0 0 0.6120 611.90 1581.30)">
<path d="M0 -4l 1 0 1-1 1 0 1-1 1 0 1 1 1 1 1-1 1 1 1-4 1 1 1 2 1-2 1-3 1 2 1-2 1 2 1 1 1 1 1 1 1-3 1 0 1 2 1-6 1 4 1-3 1 2 1 3 1 1 1 0 1 0 1 1 1-3 1 2 1 3 1 1 1 0 1-6 1 2 1-3 1-4 1 3 1 3 1 2 1 3 1 1 1 0 1 0 1 0 1-3 1 2 1 2 1 1 1 3 1-1 1 3 1-1 1 2 1 0 1-2 1 1 1-3 1 4 1-3 1 0 1 5 1-1 1 3 1-5 1-1 1 0 1 1 1 2 1 1 1 1 1-5 1-2 1 5 1 2 1-3 1-8 1 0 1-1 1-3 1 4 1 1 1-5 1 2 1 0 1 0 1 0 1 2 1-3 1 2 1 0 1 4 1-4 1 3 1-2 1-3 1 1 1 0 1 5 1 1 1 3 1 3 1 1 1 1 1 2 1-1 1-7 1 6 1 1 1 2 1-3 1-6 1 3 1-1 1-2 1 0 0 56-1-1-1-3-1-3-1 0-1-1-1 1-1-4-1-1-1 0-1-1-1 1-1-3-1 3-1 1-1 3-1 0-1 1-1 2-1 1-1 3-1-5-1 3-1 2-1-3-1 1-1-1-1 1-1-1-1-2-1-3-1 1-1-2-1-2-1 0-1-1-1 1-1 0-1-1-1-2-1 3-1-1-1-5-1 3-1-5-1 2-1 1-1-2-1 2-1-3-1 0-1-2-1 3-1 1-1-2-1-1-1 1-1 3-1-2-1 0-1-7-1 1-1 1-1-4-1 0-1 0-1-1-1 0-1-1-1-2-1 0-1 3-1-3-1-1-1-4-1-4-1 1-1-3-1-3-1 1-1-2-1 2-1-2-1 4-1-1-1 0-1 1-1-3-1 0-1-4-1 5-1 0-1 3-1-2-1-1-1 2-1-1-1-3-1 0-1 0-1 0-1 0-1-1-1 0-1-1-1 3-1-2-1-2-1-4-1 3-1 0-1 3-1-2-1-1-1 2-1-6-1-2-1 0-1 1-1-2-1 0z" fill="#c2b27a"/>
</g><g transform="matrix(1.2217 0 0 0.6120 611.90 1582.50)">
<path class="d1" d="M0 -4l 1 0 1-1 1 0 1-1 1 0 1 1 1 1 1-1 1 1 1-4 1 1 1 2 1-2 1-3 1 2 1-2 1 2 1 1 1 1 1 1 1-3 1 0 1 2 1-6 1 4 1-3 1 2 1 3 1 1 1 0 1 0 1 1 1-3 1 2 1 3 1 1 1 0 1-6 1 2 1-3 1-4 1 3 1 3 1 2 1 3 1 1 1 0 1 0 1 0 1-3 1 2 1 2 1 1 1 3 1-1 1 3 1-1 1 2 1 0 1-2 1 1 1-3 1 4 1-3 1 0 1 5 1-1 1 3 1-5 1-1 1 0 1 1 1 2 1 1 1 1 1-5 1-2 1 5 1 2 1-3 1-8 1 0 1-1 1-3 1 4 1 1 1-5 1 2 1 0 1 0 1 0 1 2 1-3 1 2 1 0 1 4 1-4 1 3 1-2 1-3 1 1 1 0 1 5 1 1 1 3 1 3 1 1 1 1 1 2 1-1 1-7 1 6 1 1 1 2 1-3 1-6 1 3 1-1 1-2 1 0"/>
<path class="d1" d="M0 4l 1 0 1 2 1-1 1 0 1 2 1 6 1-2 1 1 1 2 1-3 1 0 1-3 1 4 1 2 1 2 1-3 1 1 1 0 1 1 1 0 1 0 1 0 1 0 1 3 1 1 1-2 1 1 1 2 1-3 1 0 1-5 1 4 1 0 1 3 1-1 1 0 1 1 1-4 1 2 1-2 1 2 1-1 1 3 1 3 1-1 1 4 1 4 1 1 1 3 1-3 1 0 1 2 1 1 1 0 1 1 1 0 1 0 1 4 1-1 1-1 1 7 1 0 1 2 1-3 1-1 1 1 1 2 1-1 1-3 1 2 1 0 1 3 1-2 1 2 1-1 1-2 1 5 1-3 1 5 1 1 1-3 1 2 1 1 1 0 1-1 1 1 1 0 1 2 1 2 1-1 1 3 1 2 1 1 1-1 1 1 1-1 1 3 1-2 1-3 1 5 1-3 1-1 1-2 1-1 1 0 1-3 1-1 1-3 1 3 1-1 1 1 1 0 1 1 1 4 1-1 1 1 1 0 1 3 1 3 1 1"/>
<path class="d2" d="M0 -2l 1 0 1 0 1 1 1 0 1 2 1 1 1-1 1 1 1-1 1 0 1 1 1 0 1 1 1 0 1 0 1 1 1 0 1 0 1 1 1-2 1 1 1 1 1 0 1-1 1 2 1 0 1 2 1-1 1 1 1 0 1 1 1 0 1 0 1-1 1 1 1 1 1 3 1-2 1 1 1-1 1-1 1-1 1-1 1 1 1 0 1 2 1 3 1 1 1-1 1 1 1 0 1 4 1 1 1 0 1 0 1-1 1 0 1 1 1-3 1 2 1-2 1 1 1 1 1 0 1 2 1 1 1-1 1 2 1 2 1-2 1 2 1-3 1 3 1 1 1-1 1 0 1 0 1 0 1 0 1-2 1 3 1 0 1 0 1 1 1-1 1 1 1 0 1 2 1-3 1 2 1 1 1 1 1 1 1 1 1 0 1-2 1 2 1-1 1 0 1 1 1 1 1-1 1 0 1-1 1-1 1 3 1 1 1 0 1 0 1-1 1 0 1 0 1-1 1-1 1 3 1-1 1 0 1 1 1 1 1-1"/>
</g><g transform="matrix(1.2217 0 0 0.6120 611.90 1581.30)">
<path class="s1 t" d="M0 -4l 1 0 1-1 1 0 1-1 1 0 1 1 1 1 1-1 1 1 1-4 1 1 1 2 1-2 1-3 1 2 1-2 1 2 1 1 1 1 1 1 1-3 1 0 1 2 1-6 1 4 1-3 1 2 1 3 1 1 1 0 1 0 1 1 1-3 1 2 1 3 1 1 1 0 1-6 1 2 1-3 1-4 1 3 1 3 1 2 1 3 1 1 1 0 1 0 1 0 1-3 1 2 1 2 1 1 1 3 1-1 1 3 1-1 1 2 1 0 1-2 1 1 1-3 1 4 1-3 1 0 1 5 1-1 1 3 1-5 1-1 1 0 1 1 1 2 1 1 1 1 1-5 1-2 1 5 1 2 1-3 1-8 1 0 1-1 1-3 1 4 1 1 1-5 1 2 1 0 1 0 1 0 1 2 1-3 1 2 1 0 1 4 1-4 1 3 1-2 1-3 1 1 1 0 1 5 1 1 1 3 1 3 1 1 1 1 1 2 1-1 1-7 1 6 1 1 1 2 1-3 1-6 1 3 1-1 1-2 1 0"/>
<path class="s1 t" d="M0 4l 1 0 1 2 1-1 1 0 1 2 1 6 1-2 1 1 1 2 1-3 1 0 1-3 1 4 1 2 1 2 1-3 1 1 1 0 1 1 1 0 1 0 1 0 1 0 1 3 1 1 1-2 1 1 1 2 1-3 1 0 1-5 1 4 1 0 1 3 1-1 1 0 1 1 1-4 1 2 1-2 1 2 1-1 1 3 1 3 1-1 1 4 1 4 1 1 1 3 1-3 1 0 1 2 1 1 1 0 1 1 1 0 1 0 1 4 1-1 1-1 1 7 1 0 1 2 1-3 1-1 1 1 1 2 1-1 1-3 1 2 1 0 1 3 1-2 1 2 1-1 1-2 1 5 1-3 1 5 1 1 1-3 1 2 1 1 1 0 1-1 1 1 1 0 1 2 1 2 1-1 1 3 1 2 1 1 1-1 1 1 1-1 1 3 1-2 1-3 1 5 1-3 1-1 1-2 1-1 1 0 1-3 1-1 1-3 1 3 1-1 1 1 1 0 1 1 1 4 1-1 1 1 1 0 1 3 1 3 1 1"/>
<path class="s2 t" d="M0 -2l 1 0 1 0 1 1 1 0 1 2 1 1 1-1 1 1 1-1 1 0 1 1 1 0 1 1 1 0 1 0 1 1 1 0 1 0 1 1 1-2 1 1 1 1 1 0 1-1 1 2 1 0 1 2 1-1 1 1 1 0 1 1 1 0 1 0 1-1 1 1 1 1 1 3 1-2 1 1 1-1 1-1 1-1 1-1 1 1 1 0 1 2 1 3 1 1 1-1 1 1 1 0 1 4 1 1 1 0 1 0 1-1 1 0 1 1 1-3 1 2 1-2 1 1 1 1 1 0 1 2 1 1 1-1 1 2 1 2 1-2 1 2 1-3 1 3 1 1 1-1 1 0 1 0 1 0 1 0 1-2 1 3 1 0 1 0 1 1 1-1 1 1 1 0 1 2 1-3 1 2 1 1 1 1 1 1 1 1 1 0 1-2 1 2 1-1 1 0 1 1 1 1 1-1 1 0 1-1 1-1 1 3 1 1 1 0 1 0 1-1 1 0 1 0 1-1 1-1 1 3 1-1 1 0 1 1 1 1 1-1"/>
</g></g>
<rect x="611.9" y="1489.5" width="146.6" height="153.0" fill="none" stroke="#000" stroke-width="1.1"/>
<path d="M607.0 1520.5H611.9 M607.0 1581.5H611.9 M607.0 1642.5H611.9 M636.5 1642.5V1647.4 M697.5 1642.5V1647.4 M758.5 1642.5V1647.4" stroke="#000" stroke-width="1.1" fill="none"/>
<rect x="666.1" y="1496.6" width="85.4" height="45.7" rx="4" ry="4" fill="#fff" fill-opacity="0.8" stroke="#cccccc" stroke-width="1.2"/>
<text x="670.6" y="1513.2" font-size="13.89" textLength="42.7" lengthAdjust="spacingAndGlyphs">RHINE</text>
<text x="670.6" y="1534.0" font-size="13.89" textLength="72.8" lengthAdjust="spacingAndGlyphs">(EU, 0.1%)</text>
<clipPath id="c9_0"><rect x="61.5" y="1669.5" width="146.6" height="155.0"/></clipPath>
<g clip-path="url(#c9_0)">
<line x1="61.5" y1="1762.5" x2="208.1" y2="1762.5" stroke="#aaa" stroke-width="0.6" stroke-dasharray="1,1.7"/>
<g transform="matrix(1.2217 0 0 0.6200 61.50 1762.50)">
<path d="M0 -9l 1 0 1-1 1 0 1 1 1-2 1-3 1-2 1 2 1 1 1-1 1-5 1 5 1-3 1-1 1 1 1-2 1 3 1 0 1-1 1-1 1 4 1-5 1 1 1 0 1 1 1-3 1-6 1-1 1-2 1 0 1 3 1 3 1 0 1-1 1 2 1-3 1-1 1 3 1-1 1-1 1-4 1 1 1-2 1-1 1 0 1 3 1-1 1 1 1-1 1 3 1-2 1-1 1 3 1 0 1 0 1-1 1-4 1 0 1 2 1 0 1-2 1-4 1 2 1-1 1 4 1-2 1 0 1-1 1-2 1 3 1 0 1 1 1-2 1-3 1-3 1-2 1-2 1 2 1 1 1 1 1-3 1 3 1-3 1-1 1-1 1 7 1-2 1 4 1 1 1-2 1 1 1-2 1-1 1-5 1 5 1 1 1 0 1-2 1-2 1 0 1 0 1-2 1 2 1-2 1 0 1-1 1 1 1-8 1 2 1 0 1-3 1 2 1 2 1 2 1 1 1 0 1 0 1 2 1 4 1 1 0 23-1-4-1-2-1 0-1 1-1-3-1 1-1 1-1-1-1-1-1 0-1 4-1-2-1 2-1 0-1 0-1 0-1 1-1-2-1 1-1 0-1 0-1 1-1 2-1-1-1 3-1-2-1 2-1-4-1 2-1 3-1 1-1-1-1 4-1-4-1-1-1 4-1 1-1 0-1 0-1 2-1-4-1 2-1 0-1 1-1-2-1 0-1 0-1 1-1 2-1 0-1 2-1-1-1-1-1 2-1-4-1 0-1 1-1 2-1-3-1-2-1 1-1 0-1-1-1 0-1-2-1 0-1 5-1-2-1 2-1-2-1 1-1 2-1-1-1 0-1 1-1-1-1 0-1 0-1-4-1 2-1 3-1 0-1-1-1-1-1-1-1 3-1 0-1 2-1 0-1 2-1-1-1 4-1-1-1 0-1 0-1 0-1 0-1 0-1-1-1 1-1 3-1 2-1 4-1 0-1-2-1-1-1-1-1 1-1 2-1-2-1 1-1 1-1-2-1-1-1-1-1 1-1-2-1-1-1-2-1 0z" fill="#c2b27a"/>
</g><g transform="matrix(1.2217 0 0 0.6200 61.50 1763.70)">
<path class="d1" d="M0 -9l 1 0 1-1 1 0 1 1 1-2 1-3 1-2 1 2 1 1 1-1 1-5 1 5 1-3 1-1 1 1 1-2 1 3 1 0 1-1 1-1 1 4 1-5 1 1 1 0 1 1 1-3 1-6 1-1 1-2 1 0 1 3 1 3 1 0 1-1 1 2 1-3 1-1 1 3 1-1 1-1 1-4 1 1 1-2 1-1 1 0 1 3 1-1 1 1 1-1 1 3 1-2 1-1 1 3 1 0 1 0 1-1 1-4 1 0 1 2 1 0 1-2 1-4 1 2 1-1 1 4 1-2 1 0 1-1 1-2 1 3 1 0 1 1 1-2 1-3 1-3 1-2 1-2 1 2 1 1 1 1 1-3 1 3 1-3 1-1 1-1 1 7 1-2 1 4 1 1 1-2 1 1 1-2 1-1 1-5 1 5 1 1 1 0 1-2 1-2 1 0 1 0 1-2 1 2 1-2 1 0 1-1 1 1 1-8 1 2 1 0 1-3 1 2 1 2 1 2 1 1 1 0 1 0 1 2 1 4 1 1"/>
<path class="d1" d="M0 -1l 1 0 1 2 1 1 1 2 1-1 1 1 1 1 1 2 1-1 1-1 1 2 1-2 1-1 1 1 1 1 1 2 1 0 1-4 1-2 1-3 1-1 1 1 1 0 1 0 1 0 1 0 1 0 1 1 1-4 1 1 1-2 1 0 1-2 1 0 1-3 1 1 1 1 1 1 1 0 1-3 1-2 1 4 1 0 1 0 1 1 1-1 1 0 1 1 1-2 1-1 1 2 1-2 1 2 1-5 1 0 1 2 1 0 1 1 1 0 1-1 1 2 1 3 1-2 1-1 1 0 1 4 1-2 1 1 1 1 1-2 1 0 1-2 1-1 1 0 1 0 1 2 1-1 1 0 1-2 1 4 1-2 1 0 1 0 1-1 1-4 1 1 1 4 1-4 1 1 1-1 1-3 1-2 1 4 1-2 1 2 1-3 1 1 1-2 1-1 1 0 1 0 1-1 1 2 1-1 1 0 1 0 1 0 1-2 1 2 1-4 1 0 1 1 1 1 1-1 1-1 1 3 1-1 1 0 1 2 1 4"/>
<path class="d2" d="M0 -7l 1 1 1 0 1 1 1-1 1 0 1 0 1-1 1 1 1-2 1 0 1 2 1-1 1 1 1 0 1-2 1-1 1 1 1 0 1-2 1 1 1 1 1-1 1-1 1 1 1 0 1-2 1-3 1 0 1 1 1-2 1 1 1-2 1 2 1-1 1 0 1-1 1 0 1 1 1 2 1-2 1-1 1-3 1 0 1 1 1 2 1-1 1-1 1 1 1-1 1-3 1 1 1 0 1-1 1 1 1 0 1 1 1-1 1 0 1 0 1-1 1 0 1-2 1 2 1-1 1 0 1 3 1-1 1-2 1 1 1 2 1-1 1-1 1 2 1 1 1 0 1-3 1 0 1-2 1-1 1-1 1 0 1-1 1 0 1 1 1-1 1 4 1-1 1 0 1-2 1 2 1 0 1 1 1-3 1 0 1 1 1 0 1-2 1-2 1 1 1 0 1 0 1 0 1 1 1 0 1-1 1 0 1 0 1-1 1 3 1-3 1 1 1-2 1 2 1 1 1 1 1-4 1-1 1 0 1 2 1-2"/>
</g><g transform="matrix(1.2217 0 0 0.6200 61.50 1762.50)">
<path class="s1 t" d="M0 -9l 1 0 1-1 1 0 1 1 1-2 1-3 1-2 1 2 1 1 1-1 1-5 1 5 1-3 1-1 1 1 1-2 1 3 1 0 1-1 1-1 1 4 1-5 1 1 1 0 1 1 1-3 1-6 1-1 1-2 1 0 1 3 1 3 1 0 1-1 1 2 1-3 1-1 1 3 1-1 1-1 1-4 1 1 1-2 1-1 1 0 1 3 1-1 1 1 1-1 1 3 1-2 1-1 1 3 1 0 1 0 1-1 1-4 1 0 1 2 1 0 1-2 1-4 1 2 1-1 1 4 1-2 1 0 1-1 1-2 1 3 1 0 1 1 1-2 1-3 1-3 1-2 1-2 1 2 1 1 1 1 1-3 1 3 1-3 1-1 1-1 1 7 1-2 1 4 1 1 1-2 1 1 1-2 1-1 1-5 1 5 1 1 1 0 1-2 1-2 1 0 1 0 1-2 1 2 1-2 1 0 1-1 1 1 1-8 1 2 1 0 1-3 1 2 1 2 1 2 1 1 1 0 1 0 1 2 1 4 1 1"/>
<path class="s1 t" d="M0 -1l 1 0 1 2 1 1 1 2 1-1 1 1 1 1 1 2 1-1 1-1 1 2 1-2 1-1 1 1 1 1 1 2 1 0 1-4 1-2 1-3 1-1 1 1 1 0 1 0 1 0 1 0 1 0 1 1 1-4 1 1 1-2 1 0 1-2 1 0 1-3 1 1 1 1 1 1 1 0 1-3 1-2 1 4 1 0 1 0 1 1 1-1 1 0 1 1 1-2 1-1 1 2 1-2 1 2 1-5 1 0 1 2 1 0 1 1 1 0 1-1 1 2 1 3 1-2 1-1 1 0 1 4 1-2 1 1 1 1 1-2 1 0 1-2 1-1 1 0 1 0 1 2 1-1 1 0 1-2 1 4 1-2 1 0 1 0 1-1 1-4 1 1 1 4 1-4 1 1 1-1 1-3 1-2 1 4 1-2 1 2 1-3 1 1 1-2 1-1 1 0 1 0 1-1 1 2 1-1 1 0 1 0 1 0 1-2 1 2 1-4 1 0 1 1 1 1 1-1 1-1 1 3 1-1 1 0 1 2 1 4"/>
<path class="s2 t" d="M0 -7l 1 1 1 0 1 1 1-1 1 0 1 0 1-1 1 1 1-2 1 0 1 2 1-1 1 1 1 0 1-2 1-1 1 1 1 0 1-2 1 1 1 1 1-1 1-1 1 1 1 0 1-2 1-3 1 0 1 1 1-2 1 1 1-2 1 2 1-1 1 0 1-1 1 0 1 1 1 2 1-2 1-1 1-3 1 0 1 1 1 2 1-1 1-1 1 1 1-1 1-3 1 1 1 0 1-1 1 1 1 0 1 1 1-1 1 0 1 0 1-1 1 0 1-2 1 2 1-1 1 0 1 3 1-1 1-2 1 1 1 2 1-1 1-1 1 2 1 1 1 0 1-3 1 0 1-2 1-1 1-1 1 0 1-1 1 0 1 1 1-1 1 4 1-1 1 0 1-2 1 2 1 0 1 1 1-3 1 0 1 1 1 0 1-2 1-2 1 1 1 0 1 0 1 0 1 1 1 0 1-1 1 0 1 0 1-1 1 3 1-3 1 1 1-2 1 2 1 1 1 1 1-4 1-1 1 0 1 2 1-2"/>
</g></g>
<rect x="61.5" y="1669.5" width="146.6" height="155.0" fill="none" stroke="#000" stroke-width="1.1"/>
<path d="M56.6 1700.5H61.5 M56.6 1762.5H61.5 M56.6 1824.5H61.5 M85.5 1824.5V1829.4 M85.5 1664.6V1669.5 M147.5 1824.5V1829.4 M147.5 1664.6V1669.5 M208.5 1824.5V1829.4 M208.5 1664.6V1669.5" stroke="#000" stroke-width="1.1" fill="none"/>
<text x="51.8" y="1706.1" text-anchor="end" font-size="16.67" textLength="10.3" lengthAdjust="spacingAndGlyphs">1</text>
<text x="51.8" y="1768.1" text-anchor="end" font-size="16.67" textLength="10.3" lengthAdjust="spacingAndGlyphs">0</text>
<text x="51.8" y="1830.1" text-anchor="end" font-size="16.67" textLength="23.8" lengthAdjust="spacingAndGlyphs">−1</text>
<text transform="translate(17.2,1747.5) rotate(-90)" text-anchor="middle" font-size="13.89" textLength="106.9" lengthAdjust="spacingAndGlyphs">Roll. mean SPEI</text>
<text x="85.9" y="1844.0" text-anchor="middle" font-size="13.89" textLength="33.9" lengthAdjust="spacingAndGlyphs">2000</text>
<text x="147.0" y="1844.0" text-anchor="middle" font-size="13.89" textLength="33.9" lengthAdjust="spacingAndGlyphs">2050</text>
<text x="208.1" y="1844.0" text-anchor="middle" font-size="13.89" textLength="33.9" lengthAdjust="spacingAndGlyphs">2100</text>
<text x="134.8" y="1864.0" text-anchor="middle" font-size="13.89" textLength="28.5" lengthAdjust="spacingAndGlyphs">Year</text>
<rect x="116.9" y="1676.6" width="85.4" height="45.7" rx="4" ry="4" fill="#fff" fill-opacity="0.8" stroke="#cccccc" stroke-width="1.2"/>
<text x="121.4" y="1693.2" font-size="13.89" textLength="49.7" lengthAdjust="spacingAndGlyphs">GLOMA</text>
<text x="121.4" y="1714.0" font-size="13.89" textLength="72.8" lengthAdjust="spacingAndGlyphs">(EU, 0.6%)</text>
<clipPath id="c9_1"><rect x="245.1" y="1669.5" width="146.8" height="155.0"/></clipPath>
<g clip-path="url(#c9_1)">
<line x1="245.1" y1="1762.5" x2="391.9" y2="1762.5" stroke="#aaa" stroke-width="0.6" stroke-dasharray="1,1.7"/>
<g transform="matrix(1.2233 0 0 0.6200 245.10 1762.50)">
<path d="M0 -5l 1-1 1-1 1-2 1-1 1-1 1 0 1 1 1-2 1 3 1-5 1 4 1-2 1-3 1 4 1-4 1 1 1-6 1 8 1-2 1-2 1 2 1 1 1-2 1 1 1 0 1 1 1-2 1-1 1 2 1 1 1-1 1 1 1-5 1 5 1 0 1 0 1 0 1-1 1 2 1-3 1 6 1-1 1 3 1-1 1-1 1 1 1 0 1 0 1 2 1-1 1 4 1-1 1 0 1 4 1-4 1 1 1 1 1 3 1 0 1 3 1-1 1-1 1-2 1-1 1-1 1 1 1 0 1 0 1 0 1 0 1 4 1-5 1-1 1 1 1-2 1 3 1-2 1 0 1-1 1-4 1 2 1 0 1-1 1 2 1 4 1-3 1-2 1 1 1-2 1 2 1-3 1-3 1 5 1 0 1-2 1 3 1 1 1 1 1-4 1 1 1-1 1 2 1-5 1 2 1-3 1-1 1-1 1 0 1-2 1-2 1 2 1-1 1-5 1 0 1 1 1 0 1-2 1-4 1 3 1 1 0 34-1 0-1 2-1-2-1 3-1 1-1 0-1 3-1-1-1-2-1 3-1-2-1 2-1 0-1 5-1-1-1 2-1 6-1 1-1 3-1-5-1 2-1 2-1-2-1 0-1-2-1 1-1-7-1 2-1 5-1-1-1 1-1 0-1-2-1-1-1-4-1 3-1 1-1 0-1 1-1-2-1 0-1 1-1-1-1-2-1 1-1-1-1-1-1-3-1 3-1 0-1 1-1-1-1 4-1-3-1-2-1 2-1 1-1-2-1 2-1-3-1 0-1-1-1-2-1-1-1 1-1 3-1 1-1-1-1-4-1 1-1-1-1-1-1-2-1 0-1 1-1 0-1 2-1-3-1-2-1 2-1 2-1 0-1-4-1 0-1 1-1 1-1 0-1 6-1 1-1-1-1-3-1-1-1-4-1 0-1 0-1 1-1 0-1 1-1-2-1 1-1-5-1 2-1 0-1 2-1 4-1 2-1 0-1-2-1-2-1 2-1 2-1 0-1-3-1-2-1-2-1-2-1-4-1-1-1-3-1-3z" fill="#c2b27a"/>
</g><g transform="matrix(1.2233 0 0 0.6200 245.10 1763.70)">
<path class="d1" d="M0 -5l 1-1 1-1 1-2 1-1 1-1 1 0 1 1 1-2 1 3 1-5 1 4 1-2 1-3 1 4 1-4 1 1 1-6 1 8 1-2 1-2 1 2 1 1 1-2 1 1 1 0 1 1 1-2 1-1 1 2 1 1 1-1 1 1 1-5 1 5 1 0 1 0 1 0 1-1 1 2 1-3 1 6 1-1 1 3 1-1 1-1 1 1 1 0 1 0 1 2 1-1 1 4 1-1 1 0 1 4 1-4 1 1 1 1 1 3 1 0 1 3 1-1 1-1 1-2 1-1 1-1 1 1 1 0 1 0 1 0 1 0 1 4 1-5 1-1 1 1 1-2 1 3 1-2 1 0 1-1 1-4 1 2 1 0 1-1 1 2 1 4 1-3 1-2 1 1 1-2 1 2 1-3 1-3 1 5 1 0 1-2 1 3 1 1 1 1 1-4 1 1 1-1 1 2 1-5 1 2 1-3 1-1 1-1 1 0 1-2 1-2 1 2 1-1 1-5 1 0 1 1 1 0 1-2 1-4 1 3 1 1"/>
<path class="d1" d="M0 0l 1 3 1 3 1 1 1 4 1 2 1 2 1 2 1 3 1 0 1-2 1-2 1 2 1 2 1 0 1-2 1-4 1-2 1 0 1-2 1 5 1-1 1 2 1-1 1 0 1-1 1 0 1 0 1 4 1 1 1 3 1 1 1-1 1-6 1 0 1-1 1-1 1 0 1 4 1 0 1-2 1-2 1 2 1 3 1-2 1 0 1-1 1 0 1 2 1 1 1 1 1-1 1 4 1 1 1-1 1-3 1-1 1 1 1 2 1 1 1 0 1 3 1-2 1 2 1-1 1-2 1 2 1 3 1-4 1 1 1-1 1 0 1-3 1 3 1 1 1 1 1-1 1 2 1 1 1-1 1 0 1 2 1-1 1 0 1-1 1-3 1 4 1 1 1 2 1 0 1-1 1 1 1-5 1-2 1 7 1-1 1 2 1 0 1 2 1-2 1-2 1 5 1-3 1-1 1-6 1-2 1 1 1-5 1 0 1-2 1 2 1-3 1 2 1 1 1-3 1 0 1-1 1-3 1 2 1-2 1 0"/>
<path class="d2" d="M0 -3l 1 0 1-1 1 0 1 1 1 0 1-1 1-1 1 0 1 2 1-1 1 1 1-1 1 1 1 2 1 0 1 0 1-3 1 1 1 0 1 1 1 1 1 0 1-2 1 2 1-1 1-1 1-1 1-2 1 3 1 0 1 0 1-2 1 0 1 1 1 0 1 0 1 2 1-1 1 4 1-2 1 1 1-1 1 1 1-1 1 2 1 2 1 1 1 1 1 0 1 0 1-1 1 0 1 1 1 0 1 0 1 1 1 1 1 2 1-1 1 0 1-1 1-1 1 1 1 0 1 0 1 0 1-2 1 1 1 0 1 1 1 1 1-3 1 2 1 1 1-3 1-2 1 1 1 2 1 1 1 0 1 1 1 2 1 0 1 0 1-1 1 0 1 4 1-1 1-1 1 0 1-1 1 1 1 1 1 0 1 2 1-3 1 1 1 1 1 0 1-3 1 4 1 0 1 1 1-3 1 0 1-2 1 1 1 1 1-3 1-3 1 0 1 2 1-2 1-1 1-1 1-1 1-2 1 0 1-1 1 0"/>
</g><g transform="matrix(1.2233 0 0 0.6200 245.10 1762.50)">
<path class="s1 t" d="M0 -5l 1-1 1-1 1-2 1-1 1-1 1 0 1 1 1-2 1 3 1-5 1 4 1-2 1-3 1 4 1-4 1 1 1-6 1 8 1-2 1-2 1 2 1 1 1-2 1 1 1 0 1 1 1-2 1-1 1 2 1 1 1-1 1 1 1-5 1 5 1 0 1 0 1 0 1-1 1 2 1-3 1 6 1-1 1 3 1-1 1-1 1 1 1 0 1 0 1 2 1-1 1 4 1-1 1 0 1 4 1-4 1 1 1 1 1 3 1 0 1 3 1-1 1-1 1-2 1-1 1-1 1 1 1 0 1 0 1 0 1 0 1 4 1-5 1-1 1 1 1-2 1 3 1-2 1 0 1-1 1-4 1 2 1 0 1-1 1 2 1 4 1-3 1-2 1 1 1-2 1 2 1-3 1-3 1 5 1 0 1-2 1 3 1 1 1 1 1-4 1 1 1-1 1 2 1-5 1 2 1-3 1-1 1-1 1 0 1-2 1-2 1 2 1-1 1-5 1 0 1 1 1 0 1-2 1-4 1 3 1 1"/>
<path class="s1 t" d="M0 0l 1 3 1 3 1 1 1 4 1 2 1 2 1 2 1 3 1 0 1-2 1-2 1 2 1 2 1 0 1-2 1-4 1-2 1 0 1-2 1 5 1-1 1 2 1-1 1 0 1-1 1 0 1 0 1 4 1 1 1 3 1 1 1-1 1-6 1 0 1-1 1-1 1 0 1 4 1 0 1-2 1-2 1 2 1 3 1-2 1 0 1-1 1 0 1 2 1 1 1 1 1-1 1 4 1 1 1-1 1-3 1-1 1 1 1 2 1 1 1 0 1 3 1-2 1 2 1-1 1-2 1 2 1 3 1-4 1 1 1-1 1 0 1-3 1 3 1 1 1 1 1-1 1 2 1 1 1-1 1 0 1 2 1-1 1 0 1-1 1-3 1 4 1 1 1 2 1 0 1-1 1 1 1-5 1-2 1 7 1-1 1 2 1 0 1 2 1-2 1-2 1 5 1-3 1-1 1-6 1-2 1 1 1-5 1 0 1-2 1 2 1-3 1 2 1 1 1-3 1 0 1-1 1-3 1 2 1-2 1 0"/>
<path class="s2 t" d="M0 -3l 1 0 1-1 1 0 1 1 1 0 1-1 1-1 1 0 1 2 1-1 1 1 1-1 1 1 1 2 1 0 1 0 1-3 1 1 1 0 1 1 1 1 1 0 1-2 1 2 1-1 1-1 1-1 1-2 1 3 1 0 1 0 1-2 1 0 1 1 1 0 1 0 1 2 1-1 1 4 1-2 1 1 1-1 1 1 1-1 1 2 1 2 1 1 1 1 1 0 1 0 1-1 1 0 1 1 1 0 1 0 1 1 1 1 1 2 1-1 1 0 1-1 1-1 1 1 1 0 1 0 1 0 1-2 1 1 1 0 1 1 1 1 1-3 1 2 1 1 1-3 1-2 1 1 1 2 1 1 1 0 1 1 1 2 1 0 1 0 1-1 1 0 1 4 1-1 1-1 1 0 1-1 1 1 1 1 1 0 1 2 1-3 1 1 1 1 1 0 1-3 1 4 1 0 1 1 1-3 1 0 1-2 1 1 1 1 1-3 1-3 1 0 1 2 1-2 1-1 1-1 1-1 1-2 1 0 1-1 1 0"/>
</g></g>
<rect x="245.1" y="1669.5" width="146.8" height="155.0" fill="none" stroke="#000" stroke-width="1.1"/>
<path d="M240.2 1700.5H245.1 M240.2 1762.5H245.1 M240.2 1824.5H245.1 M269.5 1824.5V1829.4 M269.5 1664.6V1669.5 M330.5 1824.5V1829.4 M330.5 1664.6V1669.5 M391.5 1824.5V1829.4 M391.5 1664.6V1669.5" stroke="#000" stroke-width="1.1" fill="none"/>
<text x="269.6" y="1844.0" text-anchor="middle" font-size="13.89" textLength="33.9" lengthAdjust="spacingAndGlyphs">2000</text>
<text x="330.7" y="1844.0" text-anchor="middle" font-size="13.89" textLength="33.9" lengthAdjust="spacingAndGlyphs">2050</text>
<text x="391.9" y="1844.0" text-anchor="middle" font-size="13.89" textLength="33.9" lengthAdjust="spacingAndGlyphs">2100</text>
<text x="318.5" y="1864.0" text-anchor="middle" font-size="13.89" textLength="28.5" lengthAdjust="spacingAndGlyphs">Year</text>
<rect x="298.5" y="1676.6" width="86.4" height="45.7" rx="4" ry="4" fill="#fff" fill-opacity="0.8" stroke="#cccccc" stroke-width="1.2"/>
<text x="303.0" y="1693.2" font-size="13.89" textLength="73.8" lengthAdjust="spacingAndGlyphs">HUANG HE</text>
<text x="303.0" y="1714.0" font-size="13.89" textLength="72.2" lengthAdjust="spacingAndGlyphs">(AS, 0.0%)</text>
<clipPath id="c9_2"><rect x="428.4" y="1669.5" width="147.1" height="155.0"/></clipPath>
<g clip-path="url(#c9_2)">
<line x1="428.4" y1="1762.5" x2="575.5" y2="1762.5" stroke="#aaa" stroke-width="0.6" stroke-dasharray="1,1.7"/>
<g transform="matrix(1.2258 0 0 0.6200 428.40 1762.50)">
<path d="M0 -8l 1-1 1 2 1-1 1-1 1 0 1 0 1-1 1 3 1-1 1 4 1 2 1-1 1-1 1-2 1-3 1 1 1 0 1 1 1 0 1-3 1 1 1 1 1 0 1 2 1-2 1 0 1 1 1 0 1-3 1-1 1-1 1-2 1-5 1 1 1 0 1-4 1-7 1-1 1-2 1-3 1 0 1 0 1 1 1 0 1 4 1-1 1 0 1-1 1 1 1-4 1-4 1-1 1 1 1-5 1 0 1-2 1-4 1-2 1-2 1-4 1 2 1 0 1 2 1 1 1 0 1 2 1-1 1-2 1-2 1 2 1 0 1-3 1-4 1-3 1-2 1 0 1-3 1-2 1-4 1 0 1 1 1-1 1 0 1-3 1-1 1-5 1-3 1 1 1-1 1 5 1-4 1 2 1-1 1-2 1-2 1 4 1 1 1 2 1 3 1-1 1 2 1 0 1-1 1-3 1 1 1-2 1 5 1-1 1-1 1-3 1 2 1 0 1-2 1 1 1 2 1-4 1-2 1-2 1-1 1-2 0 37-1-1-1 1-1 1-1-4-1 0-1-1-1-2-1 2-1 3-1-1-1 0-1-5-1 3-1 1-1 3-1-6-1 2-1 2-1 2-1-4-1 0-1 9-1 1-1-6-1 3-1-1-1 1-1 0-1 3-1 2-1 0-1-2-1 2-1 1-1 2-1 1-1 0-1 2-1 2-1 0-1 3-1 1-1-1-1 3-1 2-1 1-1-1-1-1-1 2-1 1-1 1-1 1-1 1-1 2-1 4-1 0-1 5-1-1-1 0-1 2-1-2-1 2-1 1-1 0-1-2-1 0-1-1-1 1-1 1-1-2-1 3-1-2-1 1-1-1-1-1-1 3-1 0-1-1-1 4-1-1-1 2-1-4-1 0-1 4-1 1-1 5-1 3-1-5-1 0-1 1-1 1-1-1-1 3-1 1-1 6-1 0-1 1-1-4-1 0-1-2-1 3-1 2-1-3-1 0-1 0-1 0-1 0-1 1-1 0-1-4-1 4-1-1-1 1-1-2-1 1-1 1-1 0-1 1-1 0-1-1z" fill="#c2b27a"/>
</g><g transform="matrix(1.2258 0 0 0.6200 428.40 1763.70)">
<path class="d1" d="M0 -8l 1-1 1 2 1-1 1-1 1 0 1 0 1-1 1 3 1-1 1 4 1 2 1-1 1-1 1-2 1-3 1 1 1 0 1 1 1 0 1-3 1 1 1 1 1 0 1 2 1-2 1 0 1 1 1 0 1-3 1-1 1-1 1-2 1-5 1 1 1 0 1-4 1-7 1-1 1-2 1-3 1 0 1 0 1 1 1 0 1 4 1-1 1 0 1-1 1 1 1-4 1-4 1-1 1 1 1-5 1 0 1-2 1-4 1-2 1-2 1-4 1 2 1 0 1 2 1 1 1 0 1 2 1-1 1-2 1-2 1 2 1 0 1-3 1-4 1-3 1-2 1 0 1-3 1-2 1-4 1 0 1 1 1-1 1 0 1-3 1-1 1-5 1-3 1 1 1-1 1 5 1-4 1 2 1-1 1-2 1-2 1 4 1 1 1 2 1 3 1-1 1 2 1 0 1-1 1-3 1 1 1-2 1 5 1-1 1-1 1-3 1 2 1 0 1-2 1 1 1 2 1-4 1-2 1-2 1-1 1-2"/>
<path class="d1" d="M0 5l 1 1 1 0 1-1 1 0 1-1 1-1 1 2 1-1 1 1 1-4 1 4 1 0 1-1 1 0 1 0 1 0 1 0 1 3 1-2 1-3 1 2 1 0 1 4 1-1 1 0 1-6 1-1 1-3 1 1 1-1 1-1 1 0 1 5 1-3 1-5 1-1 1-4 1 0 1 4 1-2 1 1 1-4 1 1 1 0 1-3 1 1 1 1 1-1 1 2 1-3 1 2 1-1 1-1 1 1 1 0 1 2 1 0 1-1 1-2 1 2 1-2 1 0 1 1 1-5 1 0 1-4 1-2 1-1 1-1 1-1 1-1 1-2 1 1 1 1 1-1 1-2 1-3 1 1 1-1 1-3 1 0 1-2 1-2 1 0 1-1 1-2 1-1 1-2 1 2 1 0 1-2 1-3 1 0 1-1 1 1 1-3 1 6 1-1 1-9 1 0 1 4 1-2 1-2 1-2 1 6 1-3 1-1 1-3 1 5 1 0 1 1 1-3 1-2 1 2 1 1 1 0 1 4 1-1 1-1 1 1"/>
<path class="d2" d="M0 -3l 1 1 1 0 1 0 1 1 1-1 1 0 1 1 1 3 1-1 1-3 1 0 1 0 1 1 1-1 1 2 1 0 1-2 1-1 1 2 1-1 1 0 1-2 1-1 1 0 1-1 1 0 1-2 1-1 1 0 1 0 1-1 1-1 1-3 1-1 1-2 1-1 1-2 1 1 1-2 1-1 1 1 1-1 1 0 1 1 1-1 1 1 1-2 1-2 1-1 1 0 1 0 1-2 1-1 1-1 1-3 1 0 1 1 1-2 1-2 1 0 1 0 1 1 1-3 1 0 1-1 1-1 1 0 1-2 1-1 1-1 1-1 1-2 1-2 1-3 1-1 1-1 1 2 1-3 1-1 1-2 1-1 1 3 1-3 1-1 1 0 1-1 1-2 1 0 1 0 1 1 1-2 1-2 1-1 1 0 1 0 1-2 1-1 1-1 1-1 1 0 1 0 1 0 1 1 1 2 1 2 1 0 1 0 1-1 1 0 1 0 1 0 1 0 1-2 1-1 1 1 1 1 1 0 1 3 1-1 1 1"/>
</g><g transform="matrix(1.2258 0 0 0.6200 428.40 1762.50)">
<path class="s1 t" d="M0 -8l 1-1 1 2 1-1 1-1 1 0 1 0 1-1 1 3 1-1 1 4 1 2 1-1 1-1 1-2 1-3 1 1 1 0 1 1 1 0 1-3 1 1 1 1 1 0 1 2 1-2 1 0 1 1 1 0 1-3 1-1 1-1 1-2 1-5 1 1 1 0 1-4 1-7 1-1 1-2 1-3 1 0 1 0 1 1 1 0 1 4 1-1 1 0 1-1 1 1 1-4 1-4 1-1 1 1 1-5 1 0 1-2 1-4 1-2 1-2 1-4 1 2 1 0 1 2 1 1 1 0 1 2 1-1 1-2 1-2 1 2 1 0 1-3 1-4 1-3 1-2 1 0 1-3 1-2 1-4 1 0 1 1 1-1 1 0 1-3 1-1 1-5 1-3 1 1 1-1 1 5 1-4 1 2 1-1 1-2 1-2 1 4 1 1 1 2 1 3 1-1 1 2 1 0 1-1 1-3 1 1 1-2 1 5 1-1 1-1 1-3 1 2 1 0 1-2 1 1 1 2 1-4 1-2 1-2 1-1 1-2"/>
<path class="s1 t" d="M0 5l 1 1 1 0 1-1 1 0 1-1 1-1 1 2 1-1 1 1 1-4 1 4 1 0 1-1 1 0 1 0 1 0 1 0 1 3 1-2 1-3 1 2 1 0 1 4 1-1 1 0 1-6 1-1 1-3 1 1 1-1 1-1 1 0 1 5 1-3 1-5 1-1 1-4 1 0 1 4 1-2 1 1 1-4 1 1 1 0 1-3 1 1 1 1 1-1 1 2 1-3 1 2 1-1 1-1 1 1 1 0 1 2 1 0 1-1 1-2 1 2 1-2 1 0 1 1 1-5 1 0 1-4 1-2 1-1 1-1 1-1 1-1 1-2 1 1 1 1 1-1 1-2 1-3 1 1 1-1 1-3 1 0 1-2 1-2 1 0 1-1 1-2 1-1 1-2 1 2 1 0 1-2 1-3 1 0 1-1 1 1 1-3 1 6 1-1 1-9 1 0 1 4 1-2 1-2 1-2 1 6 1-3 1-1 1-3 1 5 1 0 1 1 1-3 1-2 1 2 1 1 1 0 1 4 1-1 1-1 1 1"/>
<path class="s2 t" d="M0 -3l 1 1 1 0 1 0 1 1 1-1 1 0 1 1 1 3 1-1 1-3 1 0 1 0 1 1 1-1 1 2 1 0 1-2 1-1 1 2 1-1 1 0 1-2 1-1 1 0 1-1 1 0 1-2 1-1 1 0 1 0 1-1 1-1 1-3 1-1 1-2 1-1 1-2 1 1 1-2 1-1 1 1 1-1 1 0 1 1 1-1 1 1 1-2 1-2 1-1 1 0 1 0 1-2 1-1 1-1 1-3 1 0 1 1 1-2 1-2 1 0 1 0 1 1 1-3 1 0 1-1 1-1 1 0 1-2 1-1 1-1 1-1 1-2 1-2 1-3 1-1 1-1 1 2 1-3 1-1 1-2 1-1 1 3 1-3 1-1 1 0 1-1 1-2 1 0 1 0 1 1 1-2 1-2 1-1 1 0 1 0 1-2 1-1 1-1 1-1 1 0 1 0 1 0 1 1 1 2 1 2 1 0 1 0 1-1 1 0 1 0 1 0 1 0 1-2 1-1 1 1 1 1 1 0 1 3 1-1 1 1"/>
</g></g>
<rect x="428.4" y="1669.5" width="147.1" height="155.0" fill="none" stroke="#000" stroke-width="1.1"/>
<path d="M423.5 1700.5H428.4 M423.5 1762.5H428.4 M423.5 1824.5H428.4 M452.5 1824.5V1829.4 M452.5 1664.6V1669.5 M514.5 1824.5V1829.4 M514.5 1664.6V1669.5 M575.5 1824.5V1829.4 M575.5 1664.6V1669.5" stroke="#000" stroke-width="1.1" fill="none"/>
<text x="452.9" y="1844.0" text-anchor="middle" font-size="13.89" textLength="33.9" lengthAdjust="spacingAndGlyphs">2000</text>
<text x="514.2" y="1844.0" text-anchor="middle" font-size="13.89" textLength="33.9" lengthAdjust="spacingAndGlyphs">2050</text>
<text x="575.5" y="1844.0" text-anchor="middle" font-size="13.89" textLength="33.9" lengthAdjust="spacingAndGlyphs">2100</text>
<text x="501.9" y="1864.0" text-anchor="middle" font-size="13.89" textLength="28.5" lengthAdjust="spacingAndGlyphs">Year</text>
<rect x="435.4" y="1771.9" width="84.8" height="45.7" rx="4" ry="4" fill="#fff" fill-opacity="0.8" stroke="#cccccc" stroke-width="1.2"/>
<text x="439.9" y="1788.5" font-size="13.89" textLength="71.1" lengthAdjust="spacingAndGlyphs">INDIGIRKA</text>
<text x="439.9" y="1809.3" font-size="13.89" textLength="72.2" lengthAdjust="spacingAndGlyphs">(AS, 0.1%)</text>
<clipPath id="c9_3"><rect x="611.9" y="1669.5" width="146.6" height="155.0"/></clipPath>
<g clip-path="url(#c9_3)">
<line x1="611.9" y1="1762.5" x2="758.5" y2="1762.5" stroke="#aaa" stroke-width="0.6" stroke-dasharray="1,1.7"/>
<g transform="matrix(1.2217 0 0 0.6200 611.90 1762.50)">
<path d="M0 -10l 1 1 1 0 1 1 1 0 1 2 1-2 1 1 1-4 1 2 1 4 1-1 1 0 1 1 1-5 1 1 1-5 1-2 1 0 1-3 1-3 1-4 1 2 1-2 1 1 1 0 1 2 1 1 1-4 1 0 1-4 1 0 1 1 1-1 1 0 1 0 1-1 1-1 1 0 1-5 1 2 1 3 1-2 1 1 1-3 1-3 1 0 1-2 1-3 1-1 1 3 1 2 1-1 1 1 1-4 1 0 1-2 1 2 1-2 1 2 1-1 1 1 1 0 1 0 1-4 1 2 1 1 1 4 1 0 1 1 1 0 1 1 1-1 1 2 1-1 1-3 1-1 1-6 1 0 1 3 1-1 1-2 1 0 1-3 1 0 1 3 1-1 1-1 1 2 1 0 1-1 1 0 1-1 1-1 1-1 1-3 1-1 1-3 1 0 1 2 1-3 1-2 1-2 1 2 1-3 1-6 1 4 1 2 1 0 1-4 1-4 1 3 1 3 1 2 1 1 1 2 1 0 1 2 1-3 1 1 1 0 0 38-1 1-1 1-1 4-1 1-1-6-1-2-1 3-1 4-1-3-1-5-1-1-1 4-1 0-1-1-1-1-1 3-1 0-1 1-1-2-1-1-1 3-1 1-1 1-1-1-1 0-1 0-1-2-1-1-1 5-1-1-1 3-1 1-1-1-1-2-1-2-1 2-1-3-1 0-1 1-1 1-1-3-1 1-1 1-1 1-1 1-1 0-1 2-1 3-1-2-1 1-1 0-1 4-1-3-1-4-1 0-1 2-1 2-1-2-1-1-1-3-1 2-1 0-1 1-1 4-1-6-1 1-1 1-1 1-1 1-1 3-1-2-1 2-1 1-1-3-1 3-1 1-1 3-1 2-1 0-1-1-1-2-1 6-1 0-1-3-1 1-1 2-1 3-1-3-1 2-1 0-1 0-1 2-1 1-1 0-1 0-1-3-1 4-1 0-1 1-1 1-1-2-1 0-1-6-1-2-1 5-1 3-1-2-1 1-1 3-1 0-1 1-1 1-1 0-1-3-1 1-1 1-1-1-1-2-1 0-1 0z" fill="#9999cc"/>
<path d="M0 -6l 1-1 1 0 1 0 1 0 1 2 1-2 1 1 1 1 1 4 1-1 1 0 1-2 1-1 1-2 1-4 1 0 1 2 1-3 1 0 1-4 1-1 1-1 1 0 1-1 1 2 1 1 1-1 1-3 1 5 1-1 1-5 1 3 1-2 1-6 1 1 1-2 1-1 1 0 1 3 1 1 1-4 1-2 1-1 1-3 1 1 1-1 1 0 1-1 1 1 1 0 1 1 1 1 1 0 1-3 1 2 1-3 1-1 1-2 1 2 1 1 1 0 1 3 1-1 1 3 1-2 1 2 1 2 1-3 1-2 1-2 1 2 1 0 1 3 1-2 1-2 1-3 1-1 1 0 1-1 1 3 1-1 1-3 1-3 1 0 1 2 1 0 1-2 1 3 1-3 1 1 1 2 1-1 1-6 1 0 1-1 1-3 1 1 1 2 1-3 1 6 1-2 1-1 1 0 1-2 1-2 1-4 1 2 1-1 1-1 1 1 1 0 1-1 1 1 1-5 1 3 1 1 1 1 1-1 1-1 1 3 0 37-1 3-1-1-1 0-1 0-1 4-1-3-1 0-1-1-1-1-1 1-1 2-1 0-1 1-1 0-1 1-1 1-1-5-1 1-1 2-1-2-1 2-1 0-1 2-1 0-1 1-1 2-1 3-1-4-1 2-1-2-1-2-1 1-1 3-1 0-1 4-1-3-1-2-1-5-1 4-1-3-1 1-1 0-1 1-1 1-1 1-1-2-1 0-1 2-1 3-1 0-1 4-1-1-1 0-1 0-1-1-1 0-1 1-1-1-1-1-1 1-1 1-1-6-1 0-1-1-1 1-1 7-1-1-1-1-1 1-1 2-1-1-1 1-1 0-1 0-1 1-1 2-1 0-1-2-1 2-1-1-1 3-1 0-1 2-1-2-1 2-1 3-1 2-1 1-1-1-1-2-1-3-1 3-1-3-1 0-1 0-1 2-1 2-1-2-1 3-1 2-1 0-1-2-1 3-1 1-1 0-1-1-1 2-1-1-1-2-1 0-1 0-1-2-1-2-1-1-1-2-1-3-1 1-1 0-1-1-1 1z" fill="#ffd700" fill-opacity="0.4"/>
<path class="d1" d="M0 -6l 1-1 1 0 1 0 1 0 1 2 1-2 1 1 1 1 1 4 1-1 1 0 1-2 1-1 1-2 1-4 1 0 1 2 1-3 1 0 1-4 1-1 1-1 1 0 1-1 1 2 1 1 1-1 1-3 1 5 1-1 1-5 1 3 1-2 1-6 1 1 1-2 1-1 1 0 1 3 1 1 1-4 1-2 1-1 1-3 1 1 1-1 1 0 1-1 1 1 1 0 1 1 1 1 1 0 1-3 1 2 1-3 1-1 1-2 1 2 1 1 1 0 1 3 1-1 1 3 1-2 1 2 1 2 1-3 1-2 1-2 1 2 1 0 1 3 1-2 1-2 1-3 1-1 1 0 1-1 1 3 1-1 1-3 1-3 1 0 1 2 1 0 1-2 1 3 1-3 1 1 1 2 1-1 1-6 1 0 1-1 1-3 1 1 1 2 1-3 1 6 1-2 1-1 1 0 1-2 1-2 1-4 1 2 1-1 1-1 1 1 1 0 1-1 1 1 1-5 1 3 1 1 1 1 1-1 1-1 1 3"/>
<path class="d1" d="M0 5l 1-1 1 1 1 0 1-1 1 3 1 2 1 1 1 2 1 2 1 0 1 0 1 2 1 1 1-2 1 1 1 0 1-1 1-3 1 2 1 0 1-2 1-3 1 2 1-2 1-2 1 0 1 0 1 3 1-3 1 3 1 2 1 1 1-1 1-2 1-3 1-2 1 2 1-2 1 0 1-3 1 1 1-2 1 2 1 0 1-2 1-1 1 0 1 0 1-1 1 1 1-2 1-1 1 1 1 1 1-7 1-1 1 1 1 0 1 6 1-1 1-1 1 1 1 1 1-1 1 0 1 1 1 0 1 0 1 1 1-4 1 0 1-3 1-2 1 0 1 2 1-1 1-1 1-1 1 0 1-1 1 3 1-4 1 5 1 2 1 3 1-4 1 0 1-3 1-1 1 2 1 2 1-2 1 4 1-3 1-2 1-1 1 0 1-2 1 0 1-2 1 2 1-2 1-1 1 5 1-1 1-1 1 0 1-1 1 0 1-2 1-1 1 1 1 1 1 0 1 3 1-4 1 0 1 0 1 1 1-3"/>
<path class="d2" d="M0 2l 1 0 1-1 1 1 1 0 1 0 1 1 1 1 1 0 1 2 1-1 1-3 1 0 1-1 1 1 1 0 1 0 1-1 1-1 1-2 1 2 1 2 1-2 1-1 1-2 1-2 1 2 1 1 1 0 1 1 1-1 1-1 1-1 1-3 1 1 1 0 1 0 1 1 1 0 1 2 1-1 1-3 1 0 1-2 1 1 1-1 1 0 1 0 1-1 1-2 1 2 1-1 1 0 1-2 1-2 1 1 1 1 1-1 1-1 1 1 1-1 1 0 1 0 1 0 1 0 1 0 1-1 1 1 1 1 1 1 1-2 1 1 1-2 1-1 1-3 1 2 1-2 1 0 1-3 1-2 1-1 1 1 1 0 1 1 1 0 1-1 1 2 1-1 1 2 1-3 1 0 1-1 1-1 1 0 1-1 1 2 1-1 1-1 1-1 1 2 1 0 1-2 1 1 1 1 1 0 1 0 1-2 1-2 1-3 1 0 1 1 1 2 1-3 1 0 1 2 1 0 1 0 1 0 1-3 1 2 1-2"/>
<path class="s1" d="M0 -10l 1 1 1 0 1 1 1 0 1 2 1-2 1 1 1-4 1 2 1 4 1-1 1 0 1 1 1-5 1 1 1-5 1-2 1 0 1-3 1-3 1-4 1 2 1-2 1 1 1 0 1 2 1 1 1-4 1 0 1-4 1 0 1 1 1-1 1 0 1 0 1-1 1-1 1 0 1-5 1 2 1 3 1-2 1 1 1-3 1-3 1 0 1-2 1-3 1-1 1 3 1 2 1-1 1 1 1-4 1 0 1-2 1 2 1-2 1 2 1-1 1 1 1 0 1 0 1-4 1 2 1 1 1 4 1 0 1 1 1 0 1 1 1-1 1 2 1-1 1-3 1-1 1-6 1 0 1 3 1-1 1-2 1 0 1-3 1 0 1 3 1-1 1-1 1 2 1 0 1-1 1 0 1-1 1-1 1-1 1-3 1-1 1-3 1 0 1 2 1-3 1-2 1-2 1 2 1-3 1-6 1 4 1 2 1 0 1-4 1-4 1 3 1 3 1 2 1 1 1 2 1 0 1 2 1-3 1 1 1 0"/>
<path class="s1" d="M0 4l 1 0 1 0 1 2 1 1 1-1 1-1 1 3 1 0 1-1 1-1 1 0 1-3 1-1 1 2 1-3 1-5 1 2 1 6 1 0 1 2 1-1 1-1 1 0 1-4 1 3 1 0 1 0 1-1 1-2 1 0 1 0 1-2 1 3 1-3 1-2 1-1 1 3 1 0 1-6 1 2 1 1 1 0 1-2 1-3 1-1 1-3 1 3 1-1 1-2 1 2 1-3 1-1 1-1 1-1 1-1 1 6 1-4 1-1 1 0 1-2 1 3 1 1 1 2 1-2 1-2 1 0 1 4 1 3 1-4 1 0 1-1 1 2 1-3 1-2 1 0 1-1 1-1 1-1 1-1 1 3 1-1 1-1 1 0 1 3 1-2 1 2 1 2 1 1 1-1 1-3 1 1 1-5 1 1 1 2 1 0 1 0 1 1 1-1 1-1 1-3 1 1 1 2 1-1 1 0 1-3 1 1 1 1 1 0 1-4 1 1 1 5 1 3 1-4 1-3 1 2 1 6 1-1 1-4 1-1 1-1"/>
<path class="s2" d="M0 -1l 1 1 1 0 1 1 1 0 1 0 1 2 1-1 1 0 1-1 1 2 1-2 1 0 1 0 1-1 1-2 1-1 1-2 1-1 1-2 1 1 1-1 1-1 1-2 1-1 1 0 1-1 1 0 1-2 1 1 1-1 1 0 1-2 1-1 1 0 1 0 1 0 1 0 1-1 1 0 1-1 1 1 1-1 1-1 1-1 1-2 1 0 1 3 1 1 1-2 1-1 1 1 1 1 1-2 1-1 1 0 1 1 1-1 1-3 1 1 1 0 1-1 1 0 1 0 1 1 1 1 1-1 1-1 1-1 1-1 1 3 1-1 1-1 1 1 1 0 1-1 1 0 1-3 1 1 1 1 1 0 1-2 1 1 1-1 1 0 1 0 1-3 1 1 1-4 1 1 1 0 1 0 1 2 1 0 1-1 1 0 1 0 1-2 1 0 1-1 1 2 1-2 1-3 1 0 1-3 1-1 1-1 1 3 1 1 1-1 1-1 1 0 1 1 1 0 1-1 1 0 1 0 1 0 1-1 1 0 1 0"/>
</g></g>
<rect x="611.9" y="1669.5" width="146.6" height="155.0" fill="none" stroke="#000" stroke-width="1.1"/>
<path d="M607.0 1700.5H611.9 M607.0 1762.5H611.9 M607.0 1824.5H611.9 M636.5 1824.5V1829.4 M636.5 1664.6V1669.5 M697.5 1824.5V1829.4 M697.5 1664.6V1669.5 M758.5 1824.5V1829.4 M758.5 1664.6V1669.5" stroke="#000" stroke-width="1.1" fill="none"/>
<text x="636.3" y="1844.0" text-anchor="middle" font-size="13.89" textLength="33.9" lengthAdjust="spacingAndGlyphs">2000</text>
<text x="697.4" y="1844.0" text-anchor="middle" font-size="13.89" textLength="33.9" lengthAdjust="spacingAndGlyphs">2050</text>
<text x="758.5" y="1844.0" text-anchor="middle" font-size="13.89" textLength="33.9" lengthAdjust="spacingAndGlyphs">2100</text>
<text x="685.2" y="1864.0" text-anchor="middle" font-size="13.89" textLength="28.5" lengthAdjust="spacingAndGlyphs">Year</text>
<rect x="618.9" y="1676.6" width="85.4" height="45.7" rx="4" ry="4" fill="#fff" fill-opacity="0.8" stroke="#cccccc" stroke-width="1.2"/>
<text x="623.4" y="1693.2" font-size="13.89" textLength="33.2" lengthAdjust="spacingAndGlyphs">LULE</text>
<text x="623.4" y="1714.0" font-size="13.89" textLength="72.8" lengthAdjust="spacingAndGlyphs">(EU, 1.0%)</text>
<clipPath id="c10_0"><rect x="61.5" y="1877.5" width="146.6" height="138.0"/></clipPath>
<g clip-path="url(#c10_0)">
<line x1="61.5" y1="1960.3" x2="208.1" y2="1960.3" stroke="#aaa" stroke-width="0.6" stroke-dasharray="1,1.7"/>
<g transform="matrix(1.2217 0 0 0.5520 61.50 1960.30)">
<path d="M0 -5l 1 0 1 2 1 0 1 1 1 0 1-2 1-1 1-1 1 0 1 1 1-3 1 1 1 1 1 2 1-1 1 0 1-3 1-1 1-2 1 2 1 1 1 2 1 0 1-2 1 0 1 3 1-3 1 3 1 3 1-6 1-2 1 0 1 2 1 3 1 3 1 0 1 4 1 0 1-1 1 3 1-1 1 3 1 1 1-1 1-3 1 1 1 2 1-2 1-3 1 3 1 3 1 2 1 1 1 0 1 5 1 0 1-2 1 2 1 4 1-3 1 0 1 3 1 3 1-1 1 1 1 0 1-1 1-1 1 3 1 0 1 1 1 1 1 3 1 3 1 1 1-4 1 1 1 2 1-1 1 4 1 0 1 0 1 1 1 6 1-3 1 2 1 1 1-1 1 4 1-1 1 0 1 0 1-2 1 2 1 3 1 2 1-5 1 2 1 1 1 3 1-2 1-3 1 1 1 1 1 5 1-2 1 1 1 2 1-1 1 0 1-2 1 2 1-1 1 1 1-1 1 0 1-1 1 3 1-2 1 2 0 58-1-2-1 4-1 1-1-2-1-1-1 2-1 0-1 3-1-2-1-1-1-1-1-1-1-1-1-2-1 2-1 3-1-2-1 0-1 4-1 1-1-1-1-5-1 0-1 3-1-4-1 0-1 5-1-5-1 3-1-1-1-2-1 0-1 0-1-1-1 0-1 1-1-2-1 3-1-1-1-2-1-3-1 0-1 0-1 1-1-2-1 0-1-5-1-4-1 1-1-2-1 1-1-3-1 0-1-1-1-2-1-2-1-8-1 1-1-4-1-4-1 2-1-2-1-3-1 1-1-1-1-1-1-4-1 0-1-4-1-2-1-4-1-2-1 0-1-2-1-2-1-1-1-4-1-3-1 0-1-1-1-4-1-3-1-2-1-2-1-3-1-1-1-2-1-1-1-1-1-4-1-2-1 0-1-4-1-2-1 1-1-1-1 1-1 1-1-2-1-3-1 2-1 2-1-1-1 2-1 0-1-3-1-2-1-1-1 1-1 0-1 2-1 0-1-1-1 1-1 0-1 2-1-1-1 0-1 1-1 0z" fill="#9999cc"/>
<path d="M0 0l 1-1 1 0 1 0 1-1 1 0 1 2 1-1 1 1 1 3 1-3 1 2 1-2 1-3 1-2 1-4 1-1 1 5 1 1 1 0 1-2 1 1 1 0 1-3 1-2 1 1 1 0 1 1 1 0 1 1 1 2 1 2 1 0 1 0 1 1 1 2 1 3 1 0 1-1 1 0 1 2 1-1 1 0 1 1 1 1 1 2 1 1 1 1 1 3 1 1 1-3 1 1 1 0 1 0 1 1 1 3 1 1 1 4 1-2 1-1 1 0 1 1 1 5 1 1 1-1 1 0 1 1 1-1 1 2 1-2 1 0 1 4 1 1 1 0 1 2 1 2 1 3 1-2 1 2 1 4 1 4 1 2 1 2 1 0 1-3 1-1 1 1 1-3 1 3 1 2 1 0 1 1 1-1 1 1 1 2 1-3 1 1 1-1 1 1 1-4 1 2 1 2 1 4 1 1 1-1 1 0 1 3 1 2 1-1 1-4 1 0 1 1 1 0 1 0 1 0 1-2 1-2 1 0 1 1 1 3 1-2 0 70-1 0-1-2-1 1-1 2-1 1-1 2-1-2-1 1-1-2-1 3-1-1-1-6-1 0-1 0-1 1-1-2-1 2-1-1-1 0-1 3-1 2-1 0-1-2-1 2-1-1-1 3-1-1-1-3-1 1-1 2-1-3-1 4-1-2-1-3-1 0-1 0-1 1-1 3-1-4-1 4-1-3-1 0-1 1-1 0-1-4-1-4-1-7-1-3-1 0-1 1-1-3-1 2-1-2-1-1-1 0-1 1-1-2-1-2-1 2-1-5-1 3-1-3-1-3-1-2-1-4-1-5-1-1-1-2-1-1-1-2-1-3-1-5-1-2-1-3-1 1-1-2-1-6-1-4-1 2-1-1-1-1-1-4-1-1-1 0-1-4-1-7-1-3-1-2-1-2-1 2-1-3-1 1-1-2-1-1-1-2-1-1-1-1-1-1-1-2-1-3-1 1-1-3-1-1-1 3-1-5-1-2-1 2-1-1-1 0-1 0-1 3-1-3-1-1-1 0-1 1-1-1-1 0-1 3-1-2-1-1z" fill="#ffd700" fill-opacity="0.4"/>
<path class="d1" d="M0 0l 1-1 1 0 1 0 1-1 1 0 1 2 1-1 1 1 1 3 1-3 1 2 1-2 1-3 1-2 1-4 1-1 1 5 1 1 1 0 1-2 1 1 1 0 1-3 1-2 1 1 1 0 1 1 1 0 1 1 1 2 1 2 1 0 1 0 1 1 1 2 1 3 1 0 1-1 1 0 1 2 1-1 1 0 1 1 1 1 1 2 1 1 1 1 1 3 1 1 1-3 1 1 1 0 1 0 1 1 1 3 1 1 1 4 1-2 1-1 1 0 1 1 1 5 1 1 1-1 1 0 1 1 1-1 1 2 1-2 1 0 1 4 1 1 1 0 1 2 1 2 1 3 1-2 1 2 1 4 1 4 1 2 1 2 1 0 1-3 1-1 1 1 1-3 1 3 1 2 1 0 1 1 1-1 1 1 1 2 1-3 1 1 1-1 1 1 1-4 1 2 1 2 1 4 1 1 1-1 1 0 1 3 1 2 1-1 1-4 1 0 1 1 1 0 1 0 1 0 1-2 1-2 1 0 1 1 1 3 1-2"/>
<path class="d1" d="M0 7l 1 1 1 2 1-3 1 0 1 1 1-1 1 0 1 1 1 3 1-3 1 0 1 0 1 1 1-2 1 2 1 5 1-3 1 1 1 3 1-1 1 3 1 2 1 1 1 1 1 1 1 2 1 1 1 2 1-1 1 3 1-2 1 2 1 2 1 3 1 7 1 4 1 0 1 1 1 4 1 1 1 1 1-2 1 4 1 6 1 2 1-1 1 3 1 2 1 5 1 3 1 2 1 1 1 2 1 1 1 5 1 4 1 2 1 3 1 3 1-3 1 5 1-2 1 2 1 2 1-1 1 0 1 1 1 2 1-2 1 3 1-1 1 0 1 3 1 7 1 4 1 4 1 0 1-1 1 0 1 3 1-4 1 4 1-3 1-1 1 0 1 0 1 3 1 2 1-4 1 3 1-2 1-1 1 3 1 1 1-3 1 1 1-2 1 2 1 0 1-2 1-3 1 0 1 1 1-2 1 2 1-1 1 0 1 0 1 6 1 1 1-3 1 2 1-1 1 2 1-2 1-1 1-2 1-1 1 2 1 0"/>
<path class="d2" d="M0 4l 1 0 1 0 1 0 1-1 1 0 1 0 1 0 1 0 1 0 1 2 1-1 1 0 1 0 1-1 1-1 1 2 1 3 1 0 1 0 1 0 1 1 1 1 1 0 1 2 1 4 1 0 1 4 1 1 1 1 1 1 1 1 1 2 1 2 1-1 1 0 1 4 1 3 1-2 1 3 1 1 1 1 1 1 1 0 1 0 1 1 1 1 1 3 1 1 1 1 1 1 1 1 1 2 1 0 1 2 1-1 1 2 1 2 1 3 1 3 1 1 1-1 1 1 1 1 1 2 1-1 1 1 1 0 1-1 1 3 1-2 1 0 1 2 1 0 1 1 1 3 1-2 1 3 1 0 1 1 1 1 1 0 1 0 1 1 1 0 1 2 1 0 1 0 1-1 1 1 1 2 1 1 1 0 1 1 1 1 1 2 1 0 1 2 1 0 1 1 1 1 1 0 1 1 1 1 1-3 1 0 1 0 1 0 1 3 1 1 1 1 1 0 1-1 1-1 1 2 1 0 1-2 1 0 1 1 1 0 1-2"/>
<path class="s1" d="M0 -5l 1 0 1 2 1 0 1 1 1 0 1-2 1-1 1-1 1 0 1 1 1-3 1 1 1 1 1 2 1-1 1 0 1-3 1-1 1-2 1 2 1 1 1 2 1 0 1-2 1 0 1 3 1-3 1 3 1 3 1-6 1-2 1 0 1 2 1 3 1 3 1 0 1 4 1 0 1-1 1 3 1-1 1 3 1 1 1-1 1-3 1 1 1 2 1-2 1-3 1 3 1 3 1 2 1 1 1 0 1 5 1 0 1-2 1 2 1 4 1-3 1 0 1 3 1 3 1-1 1 1 1 0 1-1 1-1 1 3 1 0 1 1 1 1 1 3 1 3 1 1 1-4 1 1 1 2 1-1 1 4 1 0 1 0 1 1 1 6 1-3 1 2 1 1 1-1 1 4 1-1 1 0 1 0 1-2 1 2 1 3 1 2 1-5 1 2 1 1 1 3 1-2 1-3 1 1 1 1 1 5 1-2 1 1 1 2 1-1 1 0 1-2 1 2 1-1 1 1 1-1 1 0 1-1 1 3 1-2 1 2"/>
<path class="s1" d="M0 7l 1 0 1-1 1 0 1 1 1-2 1 0 1-1 1 1 1 0 1-2 1 0 1-1 1 1 1 2 1 3 1 0 1-2 1 1 1-2 1-2 1 3 1 2 1-1 1-1 1 1 1-1 1 2 1 4 1 0 1 2 1 4 1 1 1 1 1 2 1 1 1 3 1 2 1 2 1 3 1 4 1 1 1 0 1 3 1 4 1 1 1 2 1 2 1 0 1 2 1 4 1 2 1 4 1 0 1 4 1 1 1 1 1-1 1 3 1 2 1-2 1 4 1 4 1-1 1 8 1 2 1 2 1 1 1 0 1 3 1-1 1 2 1-1 1 4 1 5 1 0 1 2 1-1 1 0 1 0 1 3 1 2 1 1 1-3 1 2 1-1 1 0 1 1 1 0 1 0 1 2 1 1 1-3 1 5 1-5 1 0 1 4 1-3 1 0 1 5 1 1 1-1 1-4 1 0 1 2 1-3 1-2 1 2 1 1 1 1 1 1 1 1 1 2 1-3 1 0 1-2 1 1 1 2 1-1 1-4 1 2"/>
<path class="s2" d="M0 4l 1 0 1-1 1-1 1 0 1-2 1 0 1 0 1 0 1 2 1-1 1 0 1 0 1 3 1-2 1-1 1 0 1-2 1 0 1 1 1 1 1-2 1 0 1 1 1 0 1 0 1 2 1 1 1 0 1 1 1 0 1 2 1 1 1 3 1 0 1 2 1 0 1 0 1 2 1 1 1 1 1 0 1 0 1 0 1-1 1 3 1 2 1 2 1 1 1 1 1 0 1 2 1 0 1 2 1 2 1 0 1 1 1 0 1 1 1 0 1 1 1 1 1 0 1 1 1 2 1 1 1 1 1 2 1 1 1 1 1-1 1 4 1 1 1 0 1 1 1 0 1 3 1 0 1 4 1-1 1 2 1 0 1 2 1 1 1 3 1-1 1 1 1 0 1 0 1 2 1 0 1 1 1 0 1-1 1 1 1 1 1 0 1 0 1 2 1 2 1 0 1 1 1 1 1 0 1-1 1 1 1 1 1 0 1 3 1 0 1 2 1-1 1 0 1 0 1-1 1 1 1-2 1 1 1 2 1-3 1 1"/>
</g></g>
<rect x="61.5" y="1877.5" width="146.6" height="138.0" fill="none" stroke="#000" stroke-width="1.1"/>
<path d="M56.6 1905.5H61.5 M56.6 1960.5H61.5 M56.6 2015.5H61.5 M85.5 2015.5V2020.4 M147.5 2015.5V2020.4 M208.5 2015.5V2020.4" stroke="#000" stroke-width="1.1" fill="none"/>
<text x="51.8" y="1910.7" text-anchor="end" font-size="16.67" textLength="10.3" lengthAdjust="spacingAndGlyphs">1</text>
<text x="51.8" y="1965.9" text-anchor="end" font-size="16.67" textLength="10.3" lengthAdjust="spacingAndGlyphs">0</text>
<text x="51.8" y="2021.1" text-anchor="end" font-size="16.67" textLength="23.8" lengthAdjust="spacingAndGlyphs">−1</text>
<text transform="translate(17.2,1947.0) rotate(-90)" text-anchor="middle" font-size="13.89" textLength="106.9" lengthAdjust="spacingAndGlyphs">Roll. mean SPEI</text>
<rect x="117.3" y="1884.6" width="85.0" height="45.7" rx="4" ry="4" fill="#fff" fill-opacity="0.8" stroke="#cccccc" stroke-width="1.2"/>
<text x="121.8" y="1901.2" font-size="13.89" textLength="42.8" lengthAdjust="spacingAndGlyphs">RAPEL</text>
<text x="121.8" y="1922.0" font-size="13.89" textLength="72.4" lengthAdjust="spacingAndGlyphs">(SA, 1.5%)</text>
<clipPath id="c10_1"><rect x="245.1" y="1877.5" width="146.8" height="138.0"/></clipPath>
<g clip-path="url(#c10_1)">
<line x1="245.1" y1="1960.3" x2="391.9" y2="1960.3" stroke="#aaa" stroke-width="0.6" stroke-dasharray="1,1.7"/>
<g transform="matrix(1.2233 0 0 0.5520 245.10 1960.30)">
<path d="M0 -10l 1-3 1-2 1-3 1-2 1-2 1-3 1 0 1-5 1 3 1-3 1-2 1 0 1-1 1 3 1-4 1 2 1-2 1 0 1-2 1 1 1-2 1 0 1-1 1-1 1-1 1-3 1-2 1 1 1-1 1-3 1 3 1 1 1 1 1 2 1 2 1-1 1 2 1 2 1-1 1-1 1 0 1 0 1-2 1-1 1 0 1-2 1 0 1-2 1-5 1 2 1 0 1 1 1-1 1-2 1 1 1-3 1-1 1 2 1 2 1 0 1-1 1-4 1 1 1-2 1-1 1-3 1-3 1 2 1-1 1 0 1 0 1 1 1 0 1 2 1 0 1 1 1 1 1-2 1 0 1 3 1 1 1-1 1 0 1 3 1 2 1 3 1 1 1-2 1 2 1 2 1-1 1 1 1 2 1 2 1 2 1 2 1-1 1 3 1 1 1 2 1-2 1 0 1-4 1-2 1-2 1-2 1 0 1-1 1-2 1-4 1-1 1 1 1-1 1 0 1-1 1-1 1 0 1 0 1-4 1-2 0 85-1 6-1 0-1-1-1 2-1 0-1-1-1 1-1 2-1 2-1 0-1 3-1-1-1-2-1 1-1 1-1 1-1 2-1-1-1 2-1-2-1-3-1-1-1 0-1-1-1 2-1-3-1 1-1 0-1-2-1 0-1-2-1-7-1 2-1-2-1-4-1 0-1-3-1-3-1-1-1-4-1-2-1-2-1-4-1-3-1-2-1-2-1-2-1 0-1-1-1-3-1 0-1 1-1 0-1-1-1 1-1 2-1-2-1 1-1-2-1 3-1-5-1 4-1 0-1 1-1-1-1 2-1 1-1-4-1 2-1-1-1 3-1 3-1-1-1 2-1 3-1-1-1 4-1 0-1 1-1 0-1-1-1 0-1 0-1-1-1 0-1-1-1 3-1 2-1-2-1-1-1 0-1 4-1-2-1-3-1 2-1 0-1 0-1-2-1 0-1-1-1 3-1-1-1 1-1 2-1 0-1 0-1-3-1-2-1 0-1-6-1 1-1 0-1-1-1 0-1 2-1-3-1 2-1-1-1 0-1 0z" fill="#9999cc"/>
<path d="M0 -10l 1-3 1-2 1-2 1 0 1-1 1-1 1 0 1-3 1-3 1-2 1-3 1 1 1-3 1 0 1 2 1 0 1 0 1-1 1 1 1-4 1-2 1 0 1 1 1-1 1 1 1-4 1 4 1-3 1-1 1-2 1 3 1-2 1-4 1 2 1-1 1 2 1 2 1-2 1-3 1 0 1-2 1 1 1-1 1 2 1 0 1-4 1 0 1-2 1 1 1 1 1-1 1 2 1-3 1 0 1 0 1 1 1-1 1 0 1 1 1-5 1 0 1-2 1-1 1 1 1 0 1 0 1 0 1 2 1 3 1-1 1 0 1-3 1 0 1 1 1 1 1-3 1 0 1 4 1 3 1 4 1-2 1 0 1-3 1 5 1 0 1 7 1-1 1 3 1 0 1 0 1 1 1-1 1-1 1 3 1 2 1 3 1 1 1 1 1-1 1 0 1 4 1-5 1-1 1 0 1-4 1-3 1-3 1-2 1-3 1 0 1 0 1 1 1 1 1 0 1 0 1-1 1 0 1-3 1-3 1-2 0 98-1-3-1 3-1-2-1 2-1 2-1-2-1 0-1-3-1-4-1 0-1 3-1 0-1-1-1 1-1-1-1 1-1 4-1 0-1-2-1 1-1 1-1 2-1-1-1-2-1 0-1 1-1 0-1-2-1 2-1-1-1 2-1-2-1 2-1-4-1-1-1-3-1-2-1 0-1-2-1 2-1 1-1-2-1-2-1-1-1-2-1-1-1-2-1-3-1-3-1 3-1-3-1 2-1-1-1 1-1-2-1 0-1-3-1-3-1 0-1 0-1 2-1 0-1 0-1-1-1 3-1 1-1 1-1 2-1-1-1-2-1-2-1 1-1-3-1 1-1 1-1 1-1 0-1 1-1-3-1 0-1-2-1-1-1-1-1-4-1-2-1-1-1-1-1 1-1 1-1 1-1-3-1 0-1 2-1 2-1-1-1 0-1-4-1 2-1-3-1-2-1 1-1-1-1 2-1 1-1-4-1 3-1 4-1-4-1-1-1 1-1 2-1-2-1-3-1-3-1 4-1-1-1-1-1 0-1-2-1 0z" fill="#ffd700" fill-opacity="0.4"/>
<path class="d1" d="M0 -10l 1-3 1-2 1-2 1 0 1-1 1-1 1 0 1-3 1-3 1-2 1-3 1 1 1-3 1 0 1 2 1 0 1 0 1-1 1 1 1-4 1-2 1 0 1 1 1-1 1 1 1-4 1 4 1-3 1-1 1-2 1 3 1-2 1-4 1 2 1-1 1 2 1 2 1-2 1-3 1 0 1-2 1 1 1-1 1 2 1 0 1-4 1 0 1-2 1 1 1 1 1-1 1 2 1-3 1 0 1 0 1 1 1-1 1 0 1 1 1-5 1 0 1-2 1-1 1 1 1 0 1 0 1 0 1 2 1 3 1-1 1 0 1-3 1 0 1 1 1 1 1-3 1 0 1 4 1 3 1 4 1-2 1 0 1-3 1 5 1 0 1 7 1-1 1 3 1 0 1 0 1 1 1-1 1-1 1 3 1 2 1 3 1 1 1 1 1-1 1 0 1 4 1-5 1-1 1 0 1-4 1-3 1-3 1-2 1-3 1 0 1 0 1 1 1 1 1 0 1 0 1-1 1 0 1-3 1-3 1-2"/>
<path class="d1" d="M0 -2l 1 0 1 2 1 0 1 1 1 1 1-4 1 3 1 3 1 2 1-2 1-1 1 1 1 4 1-4 1-3 1 4 1-1 1-2 1 1 1-1 1 2 1 3 1-2 1 4 1 0 1 1 1-2 1-2 1 0 1 3 1-1 1-1 1-1 1 1 1 1 1 2 1 4 1 1 1 1 1 2 1 0 1 3 1-1 1 0 1-1 1-1 1-1 1 3 1-1 1 2 1 2 1 1 1-2 1-1 1-1 1-3 1 1 1 0 1 0 1-2 1 0 1 0 1 3 1 3 1 0 1 2 1-1 1 1 1-2 1 3 1-3 1 3 1 3 1 2 1 1 1 2 1 1 1 2 1 2 1-1 1-2 1 2 1 0 1 2 1 3 1 1 1 4 1-2 1 2 1-2 1 1 1-2 1 2 1 0 1-1 1 0 1 2 1 1 1-2 1-1 1-1 1 2 1 0 1-4 1-1 1 1 1-1 1 1 1 0 1-3 1 0 1 4 1 3 1 0 1 2 1-2 1-2 1 2 1-3 1 3"/>
<path class="d2" d="M0 -3l 1-2 1-1 1 0 1-2 1 0 1-1 1-2 1 1 1-1 1-1 1 1 1 0 1-1 1 3 1-1 1 2 1 1 1-3 1-2 1 0 1 1 1 1 1 0 1 3 1-1 1 0 1 0 1 1 1-2 1 0 1-1 1 0 1 0 1 0 1 0 1 1 1 0 1 0 1-1 1 1 1-1 1-1 1-2 1 1 1 0 1 1 1 0 1 0 1-1 1-1 1-1 1 2 1 1 1 2 1-3 1-1 1-2 1 1 1-1 1 0 1 0 1 1 1 0 1-1 1 1 1 0 1 3 1-3 1 1 1-3 1 0 1 2 1-1 1 5 1-1 1 0 1 1 1 0 1 0 1 1 1 1 1-1 1 0 1-1 1 2 1 1 1 0 1 2 1 1 1-1 1 0 1 2 1-1 1 2 1 1 1 0 1 2 1 0 1-2 1 1 1 1 1 0 1 2 1-1 1 2 1 2 1-5 1 0 1 0 1 0 1 1 1 1 1 1 1-1 1-1 1 1 1 1 1-1 1 3 1-1"/>
<path class="s1" d="M0 -10l 1-3 1-2 1-3 1-2 1-2 1-3 1 0 1-5 1 3 1-3 1-2 1 0 1-1 1 3 1-4 1 2 1-2 1 0 1-2 1 1 1-2 1 0 1-1 1-1 1-1 1-3 1-2 1 1 1-1 1-3 1 3 1 1 1 1 1 2 1 2 1-1 1 2 1 2 1-1 1-1 1 0 1 0 1-2 1-1 1 0 1-2 1 0 1-2 1-5 1 2 1 0 1 1 1-1 1-2 1 1 1-3 1-1 1 2 1 2 1 0 1-1 1-4 1 1 1-2 1-1 1-3 1-3 1 2 1-1 1 0 1 0 1 1 1 0 1 2 1 0 1 1 1 1 1-2 1 0 1 3 1 1 1-1 1 0 1 3 1 2 1 3 1 1 1-2 1 2 1 2 1-1 1 1 1 2 1 2 1 2 1 2 1-1 1 3 1 1 1 2 1-2 1 0 1-4 1-2 1-2 1-2 1 0 1-1 1-2 1-4 1-1 1 1 1-1 1 0 1-1 1-1 1 0 1 0 1-4 1-2"/>
<path class="s1" d="M0 -4l 1 0 1 0 1 1 1-2 1 3 1-2 1 0 1 1 1 0 1-1 1 6 1 0 1 2 1 3 1 0 1 0 1-2 1-1 1 1 1-3 1 1 1 0 1 2 1 0 1 0 1-2 1 3 1 2 1-4 1 0 1 1 1 2 1-2 1-3 1 1 1 0 1 1 1 0 1 0 1 1 1 0 1-1 1 0 1-4 1 1 1-3 1-2 1 1 1-3 1-3 1 1 1-2 1 4 1-1 1-2 1 1 1-1 1 0 1-4 1 5 1-3 1 2 1-1 1 2 1-2 1-1 1 1 1 0 1-1 1 0 1 3 1 1 1 0 1 2 1 2 1 2 1 3 1 4 1 2 1 2 1 4 1 1 1 3 1 3 1 0 1 4 1 2 1-2 1 7 1 2 1 0 1 2 1 0 1-1 1 3 1-2 1 1 1 0 1 1 1 3 1 2 1-2 1 1 1-2 1-1 1-1 1-1 1 2 1 1 1-3 1 0 1-2 1-2 1-1 1 1 1 0 1-2 1 1 1 0 1-6"/>
<path class="s2" d="M0 -8l 1 0 1-1 1 0 1-1 1-1 1-2 1-1 1 1 1-1 1-1 1-1 1-3 1 1 1 1 1-3 1 3 1 0 1-1 1 3 1-2 1 0 1 0 1 0 1-1 1 0 1 1 1-2 1 0 1-3 1 0 1-1 1 1 1 0 1 0 1-2 1-1 1 1 1-1 1 1 1 1 1 0 1-1 1 1 1-2 1-2 1 0 1-2 1 1 1 0 1-1 1 0 1 0 1-2 1-2 1 0 1 0 1 1 1 0 1 0 1 1 1 2 1-1 1 2 1-3 1 2 1 1 1-1 1 0 1 3 1-1 1-1 1-1 1-2 1 2 1-1 1 1 1 1 1 2 1 0 1 1 1 0 1 2 1 3 1 1 1-3 1 0 1 0 1 0 1 2 1 0 1 0 1 0 1 0 1 2 1 2 1 0 1 0 1 1 1 1 1 0 1-2 1 1 1 0 1 1 1 1 1 1 1 0 1 1 1-1 1 2 1 1 1-1 1-1 1 2 1 0 1 0 1 0 1-1 1 2 1-2"/>
</g></g>
<rect x="245.1" y="1877.5" width="146.8" height="138.0" fill="none" stroke="#000" stroke-width="1.1"/>
<path d="M240.2 1905.5H245.1 M240.2 1960.5H245.1 M240.2 2015.5H245.1 M269.5 2015.5V2020.4 M330.5 2015.5V2020.4 M391.5 2015.5V2020.4" stroke="#000" stroke-width="1.1" fill="none"/>
<rect x="252.1" y="1884.6" width="85.0" height="45.7" rx="4" ry="4" fill="#fff" fill-opacity="0.8" stroke="#cccccc" stroke-width="1.2"/>
<text x="256.6" y="1901.2" font-size="13.89" textLength="45.2" lengthAdjust="spacingAndGlyphs">SANTA</text>
<text x="256.6" y="1922.0" font-size="13.89" textLength="72.4" lengthAdjust="spacingAndGlyphs">(SA, 1.7%)</text>
<clipPath id="c10_2"><rect x="428.4" y="1877.5" width="147.1" height="138.0"/></clipPath>
<g clip-path="url(#c10_2)">
<line x1="428.4" y1="1960.3" x2="575.5" y2="1960.3" stroke="#aaa" stroke-width="0.6" stroke-dasharray="1,1.7"/>
<g transform="matrix(1.2258 0 0 0.5520 428.40 1960.30)">
<path d="M0 -8l 1-1 1-2 1 0 1-3 1 2 1-4 1 0 1-2 1 1 1 3 1 2 1 1 1 1 1 1 1-2 1-4 1 1 1 0 1 2 1 0 1 3 1-1 1 1 1-1 1 4 1 1 1-2 1-4 1 0 1 0 1 0 1-4 1-5 1 1 1 0 1 0 1 4 1-3 1 0 1-2 1-1 1 1 1 1 1 3 1-1 1-2 1-3 1 1 1 3 1-1 1 1 1 1 1-1 1 2 1 0 1 0 1 3 1 0 1 2 1-2 1-1 1-2 1 5 1-2 1 6 1-3 1 4 1 0 1-2 1 0 1 0 1 3 1-5 1 1 1 1 1-3 1-2 1 0 1 1 1-3 1 0 1 2 1 2 1 0 1-1 1 3 1 0 1 1 1 0 1 2 1 0 1 2 1-4 1 4 1-3 1 1 1 2 1 1 1 1 1 0 1-1 1 1 1 1 1-3 1-4 1 1 1 2 1-1 1-4 1-4 1 2 1 1 1-4 1 0 1-1 1-1 1-2 1-1 1 2 1 1 0 21-1-3-1 1-1 4-1-2-1-2-1 2-1-4-1 2-1 1-1 2-1-1-1 1-1 3-1-2-1 0-1-1-1 5-1-3-1 3-1-1-1-2-1 0-1-3-1 3-1 0-1-1-1-1-1 0-1 5-1-2-1 2-1-3-1 0-1 1-1-1-1 1-1 0-1-1-1 0-1-3-1 2-1 0-1-1-1 3-1-4-1 1-1 1-1 1-1 0-1-1-1 3-1-2-1-1-1-2-1 2-1-2-1 0-1-3-1 5-1 2-1 0-1 1-1-1-1-3-1 1-1-1-1 0-1-1-1-3-1 1-1-3-1-1-1 0-1 2-1 3-1 2-1-2-1-1-1 1-1-5-1 4-1-2-1 2-1-3-1-4-1 1-1 1-1-1-1 2-1-3-1 1-1 0-1 2-1 5-1-3-1 4-1-4-1-6-1 3-1 0-1 2-1 2-1-5-1-2-1 1-1 4-1 0-1 1-1-1-1 1-1-2-1 5-1-2-1 0-1 0-1 1-1 1-1 1-1 0-1-1z" fill="#9999cc"/>
<path d="M0 -4l 1-1 1 1 1 1 1-2 1 0 1 0 1 1 1-3 1 3 1 2 1 6 1-3 1-2 1-1 1-3 1-4 1-1 1-1 1 3 1 1 1 0 1 1 1 2 1 0 1 1 1-2 1 4 1-1 1 2 1 1 1 2 1 1 1 0 1-2 1 1 1-1 1 1 1 4 1-5 1 2 1 0 1-2 1 3 1 3 1 0 1-4 1-3 1 3 1 1 1 4 1-5 1 0 1-1 1 1 1-1 1 2 1 1 1-1 1 3 1-3 1 1 1 2 1-1 1 3 1 2 1-3 1 0 1 6 1 3 1-2 1-1 1-5 1-1 1 0 1-1 1-2 1 1 1 1 1 2 1-2 1-1 1-2 1 3 1 2 1 2 1-3 1-5 1 5 1 4 1 1 1-1 1-4 1 1 1-2 1 2 1 2 1 0 1 1 1 2 1 1 1-4 1-1 1-1 1-2 1 2 1-2 1 1 1 1 1 2 1-3 1 3 1-2 1 0 1-2 1-3 1 2 1 1 1-1 1-1 1-1 0 39-1 2-1 2-1 2-1-1-1-1-1-1-1-2-1 0-1-2-1-1-1-2-1 1-1 0-1-2-1-1-1 2-1 1-1-4-1 1-1-2-1-3-1 5-1 2-1 1-1 2-1 1-1 0-1 1-1 2-1 2-1-2-1 4-1-2-1-1-1-2-1-3-1 0-1 0-1 0-1-2-1 1-1 1-1-4-1 1-1 2-1 0-1-3-1-1-1 1-1 1-1 1-1-1-1-1-1 1-1-1-1-1-1 0-1 0-1 1-1-1-1 3-1-3-1-1-1-1-1 3-1-1-1 0-1 1-1 0-1-3-1 1-1 0-1 1-1-3-1 0-1 0-1-2-1-2-1-1-1-6-1 0-1 0-1-2-1-1-1 0-1 0-1-2-1-1-1 2-1-1-1-3-1 1-1-1-1-3-1-2-1 0-1-2-1 3-1 1-1-2-1 0-1-2-1-2-1 0-1 1-1 0-1-1-1 1-1 0-1 3-1 1-1-5-1 1-1 1-1 0-1 0-1-2-1 3-1-2-1 0z" fill="#ffd700" fill-opacity="0.4"/>
<path class="d1" d="M0 -4l 1-1 1 1 1 1 1-2 1 0 1 0 1 1 1-3 1 3 1 2 1 6 1-3 1-2 1-1 1-3 1-4 1-1 1-1 1 3 1 1 1 0 1 1 1 2 1 0 1 1 1-2 1 4 1-1 1 2 1 1 1 2 1 1 1 0 1-2 1 1 1-1 1 1 1 4 1-5 1 2 1 0 1-2 1 3 1 3 1 0 1-4 1-3 1 3 1 1 1 4 1-5 1 0 1-1 1 1 1-1 1 2 1 1 1-1 1 3 1-3 1 1 1 2 1-1 1 3 1 2 1-3 1 0 1 6 1 3 1-2 1-1 1-5 1-1 1 0 1-1 1-2 1 1 1 1 1 2 1-2 1-1 1-2 1 3 1 2 1 2 1-3 1-5 1 5 1 4 1 1 1-1 1-4 1 1 1-2 1 2 1 2 1 0 1 1 1 2 1 1 1-4 1-1 1-1 1-2 1 2 1-2 1 1 1 1 1 2 1-3 1 3 1-2 1 0 1-2 1-3 1 2 1 1 1-1 1-1 1-1"/>
<path class="d1" d="M0 8l 1 0 1 2 1-3 1 2 1 0 1 0 1-1 1-1 1 5 1-1 1-3 1 0 1-1 1 1 1 0 1-1 1 0 1 2 1 2 1 0 1 2 1-1 1-3 1 2 1 0 1 2 1 3 1 1 1-1 1 3 1 1 1-2 1 1 1 2 1 0 1 0 1 1 1 2 1 0 1 0 1 6 1 1 1 2 1 2 1 0 1 0 1 3 1-1 1 0 1-1 1 3 1 0 1-1 1 0 1 1 1-3 1 1 1 1 1 3 1-3 1 1 1-1 1 0 1 0 1 1 1 1 1-1 1 1 1 1 1-1 1-1 1-1 1 1 1 3 1 0 1-2 1-1 1 4 1-1 1-1 1 2 1 0 1 0 1 0 1 3 1 2 1 1 1 2 1-4 1 2 1-2 1-2 1-1 1 0 1-1 1-2 1-1 1-2 1-5 1 3 1 2 1-1 1 4 1-1 1-2 1 1 1 2 1 0 1-1 1 2 1 1 1 2 1 0 1 2 1 1 1 1 1 1 1-2 1-2 1-2"/>
<path class="d2" d="M0 0l 1 0 1 0 1 0 1 1 1 0 1 0 1 2 1 1 1-2 1 0 1 2 1-2 1 2 1 0 1-2 1-1 1 1 1-1 1 1 1 1 1-1 1 1 1 1 1 2 1 1 1 2 1 0 1 4 1-1 1 0 1 0 1 0 1 1 1-1 1 1 1-1 1 1 1 3 1 0 1-1 1-1 1 1 1 1 1 0 1 1 1 0 1 0 1 0 1-2 1-1 1 1 1 2 1 2 1-1 1 2 1-2 1 1 1 1 1 1 1 0 1-1 1 2 1 0 1-1 1 1 1-2 1 3 1-1 1 1 1 1 1 2 1-1 1 0 1 1 1-1 1-1 1 0 1 1 1 0 1-1 1 0 1 0 1 1 1-1 1 0 1 1 1-1 1-1 1 0 1 1 1 0 1 1 1 3 1-1 1-1 1-1 1 0 1 1 1-1 1-1 1 1 1-1 1 1 1 0 1 1 1-1 1-1 1 2 1 0 1-1 1 1 1-1 1 0 1-2 1 2 1 2 1 0 1-2 1 0 1-2"/>
<path class="s1" d="M0 -8l 1-1 1-2 1 0 1-3 1 2 1-4 1 0 1-2 1 1 1 3 1 2 1 1 1 1 1 1 1-2 1-4 1 1 1 0 1 2 1 0 1 3 1-1 1 1 1-1 1 4 1 1 1-2 1-4 1 0 1 0 1 0 1-4 1-5 1 1 1 0 1 0 1 4 1-3 1 0 1-2 1-1 1 1 1 1 1 3 1-1 1-2 1-3 1 1 1 3 1-1 1 1 1 1 1-1 1 2 1 0 1 0 1 3 1 0 1 2 1-2 1-1 1-2 1 5 1-2 1 6 1-3 1 4 1 0 1-2 1 0 1 0 1 3 1-5 1 1 1 1 1-3 1-2 1 0 1 1 1-3 1 0 1 2 1 2 1 0 1-1 1 3 1 0 1 1 1 0 1 2 1 0 1 2 1-4 1 4 1-3 1 1 1 2 1 1 1 1 1 0 1-1 1 1 1 1 1-3 1-4 1 1 1 2 1-1 1-4 1-4 1 2 1 1 1-4 1 0 1-1 1-1 1-2 1-1 1 2 1 1"/>
<path class="s1" d="M0 3l 1 1 1 0 1-1 1-1 1-1 1 0 1 0 1 2 1-5 1 2 1-1 1 1 1-1 1 0 1-4 1-1 1 2 1 5 1-2 1-2 1 0 1-3 1 6 1 4 1-4 1 3 1-5 1-2 1 0 1-1 1 3 1-2 1 1 1-1 1-1 1 4 1 3 1-2 1 2 1-4 1 5 1-1 1 1 1 2 1-2 1-3 1-2 1 0 1 1 1 3 1-1 1 3 1 1 1 0 1 1 1-1 1 3 1 1 1-1 1 0 1-2 1-5 1 3 1 0 1 2 1-2 1 2 1 1 1 2 1-3 1 1 1 0 1-1 1-1 1-1 1 4 1-3 1 1 1 0 1-2 1 3 1 0 1 1 1 0 1-1 1 1 1-1 1 0 1 3 1-2 1 2 1-5 1 0 1 1 1 1 1 0 1-3 1 3 1 0 1 2 1 1 1-3 1 3 1-5 1 1 1 0 1 2 1-3 1-1 1 1 1-2 1-1 1-2 1 4 1-2 1 2 1 2 1-4 1-1 1 3"/>
<path class="s2" d="M0 -4l 1 0 1 0 1 0 1 0 1-1 1 0 1 0 1-3 1 2 1 0 1 2 1 0 1-2 1 2 1-1 1 0 1-1 1-3 1 1 1-1 1 0 1 0 1-1 1 2 1-2 1 0 1 1 1 1 1-1 1 0 1 2 1 0 1 1 1-3 1 2 1 0 1-2 1 0 1 3 1 0 1-1 1 0 1 0 1-2 1-2 1 3 1 1 1 1 1-3 1 1 1 0 1 3 1-2 1-1 1 1 1 3 1 0 1-1 1-1 1 2 1-1 1 3 1 1 1 0 1 0 1 0 1-1 1 1 1-1 1 3 1 0 1 1 1-1 1-1 1-1 1-3 1 1 1 1 1 2 1 0 1 1 1 3 1 0 1-3 1 0 1 0 1 1 1 1 1 1 1 0 1-2 1 1 1 1 1 0 1 0 1-1 1 2 1-1 1-1 1 3 1-2 1 1 1 0 1 0 1-2 1-1 1 1 1 0 1-2 1 0 1 1 1-1 1-2 1 1 1 1 1 0 1 1 1 0 1-1 1-1"/>
</g></g>
<rect x="428.4" y="1877.5" width="147.1" height="138.0" fill="none" stroke="#000" stroke-width="1.1"/>
<path d="M423.5 1905.5H428.4 M423.5 1960.5H428.4 M423.5 2015.5H428.4 M452.5 2015.5V2020.4 M514.5 2015.5V2020.4 M575.5 2015.5V2020.4" stroke="#000" stroke-width="1.1" fill="none"/>
<rect x="482.2" y="1884.6" width="86.3" height="45.7" rx="4" ry="4" fill="#fff" fill-opacity="0.8" stroke="#cccccc" stroke-width="1.2"/>
<text x="486.7" y="1901.2" font-size="13.89" textLength="49.5" lengthAdjust="spacingAndGlyphs">SKAGIT</text>
<text x="486.7" y="1922.0" font-size="13.89" textLength="73.7" lengthAdjust="spacingAndGlyphs">(NA, 2.0%)</text>
<clipPath id="c10_3"><rect x="611.9" y="1877.5" width="146.6" height="138.0"/></clipPath>
<g clip-path="url(#c10_3)">
<line x1="611.9" y1="1960.3" x2="758.5" y2="1960.3" stroke="#aaa" stroke-width="0.6" stroke-dasharray="1,1.7"/>
<g transform="matrix(1.2217 0 0 0.5520 611.90 1960.30)">
<path d="M0 -9l 1-1 1 0 1 0 1 0 1-1 1 4 1-1 1-1 1-1 1 0 1-7 1 4 1 3 1-1 1 4 1-4 1 1 1-1 1 3 1-1 1-1 1-1 1-2 1 2 1 3 1 3 1 2 1 3 1 0 1 0 1-1 1 3 1-2 1-2 1-2 1-1 1-1 1 1 1-3 1 1 1 2 1 3 1 3 1-3 1 0 1-2 1 2 1-4 1-1 1 1 1-1 1 2 1 7 1 0 1 0 1 4 1 1 1 2 1-2 1 3 1-1 1 0 1-2 1-3 1 3 1-2 1 0 1 1 1 1 1 0 1 0 1-2 1 4 1-2 1 2 1 1 1-3 1 0 1 0 1 0 1-3 1-1 1 3 1 5 1 0 1-1 1-2 1 4 1-1 1 3 1 0 1-2 1 3 1 1 1-1 1 4 1 8 1 2 1 0 1-4 1 3 1 0 1 2 1 0 1 0 1 0 1 2 1 2 1 2 1 1 1 1 1 1 1-4 1 3 1-1 1-1 1 1 1 5 1 1 1-1 0 41-1-2-1 1-1-3-1 0-1 4-1-2-1 2-1-4-1-1-1 1-1 2-1-1-1 1-1-1-1-1-1-1-1 0-1-4-1-6-1 5-1-1-1-1-1-3-1-2-1 1-1-1-1 2-1-1-1-1-1-2-1 0-1 0-1 0-1-2-1 1-1-1-1-5-1 3-1-2-1 3-1 1-1-2-1-1-1-3-1-1-1 2-1 2-1-1-1-2-1-1-1-3-1 4-1-2-1 0-1-2-1-4-1 2-1 1-1 0-1-2-1 5-1-2-1 5-1-6-1 2-1-6-1-5-1 3-1-1-1-1-1 0-1-2-1 1-1-1-1 1-1-5-1 2-1-3-1 0-1 1-1 0-1-2-1-6-1-1-1 0-1-5-1-7-1 0-1-3-1 0-1-3-1 2-1-1-1 0-1 0-1-3-1-4-1 1-1 2-1-2-1 2-1 0-1 0-1 1-1-3-1-1-1 0-1 2-1-2-1 1-1 0-1-2-1 5-1-3-1 0-1-1-1 0-1-1-1 2-1-2z" fill="#c2b27a"/>
</g><g transform="matrix(1.2217 0 0 0.5520 611.90 1961.50)">
<path class="d1" d="M0 -9l 1-1 1 0 1 0 1 0 1-1 1 4 1-1 1-1 1-1 1 0 1-7 1 4 1 3 1-1 1 4 1-4 1 1 1-1 1 3 1-1 1-1 1-1 1-2 1 2 1 3 1 3 1 2 1 3 1 0 1 0 1-1 1 3 1-2 1-2 1-2 1-1 1-1 1 1 1-3 1 1 1 2 1 3 1 3 1-3 1 0 1-2 1 2 1-4 1-1 1 1 1-1 1 2 1 7 1 0 1 0 1 4 1 1 1 2 1-2 1 3 1-1 1 0 1-2 1-3 1 3 1-2 1 0 1 1 1 1 1 0 1 0 1-2 1 4 1-2 1 2 1 1 1-3 1 0 1 0 1 0 1-3 1-1 1 3 1 5 1 0 1-1 1-2 1 4 1-1 1 3 1 0 1-2 1 3 1 1 1-1 1 4 1 8 1 2 1 0 1-4 1 3 1 0 1 2 1 0 1 0 1 0 1 2 1 2 1 2 1 1 1 1 1 1 1-4 1 3 1-1 1-1 1 1 1 5 1 1 1-1"/>
<path class="d1" d="M0 3l 1 2 1-2 1 1 1 0 1 1 1 0 1 3 1-5 1 2 1 0 1-1 1 2 1-2 1 0 1 1 1 3 1-1 1 0 1 0 1-2 1 2 1-2 1-1 1 4 1 3 1 0 1 0 1 1 1-2 1 3 1 0 1 3 1 0 1 7 1 5 1 0 1 1 1 6 1 2 1 0 1-1 1 0 1 3 1-2 1 5 1-1 1 1 1-1 1 2 1 0 1 1 1 1 1-3 1 5 1 6 1-2 1 6 1-5 1 2 1-5 1 2 1 0 1-1 1-2 1 4 1 2 1 0 1 2 1-4 1 3 1 1 1 2 1 1 1-2 1-2 1 1 1 3 1 1 1 2 1-1 1-3 1 2 1-3 1 5 1 1 1-1 1 2 1 0 1 0 1 0 1 2 1 1 1 1 1-2 1 1 1-1 1 2 1 3 1 1 1 1 1-5 1 6 1 4 1 0 1 1 1 1 1 1 1-1 1 1 1-2 1-1 1 1 1 4 1-2 1 2 1-4 1 0 1 3 1-1 1 2"/>
<path class="d2" d="M0 -4l 1 0 1 0 1 0 1 0 1 0 1 0 1 0 1 0 1 0 1-2 1 0 1-2 1 1 1 3 1 0 1 3 1-1 1 0 1 0 1 0 1-1 1 2 1-1 1 2 1 0 1 3 1 2 1-1 1 1 1-1 1 2 1-2 1-1 1-1 1 3 1-1 1 2 1-1 1 2 1 2 1 0 1 1 1 2 1-1 1 0 1 0 1 1 1 0 1 1 1 1 1 3 1 0 1-1 1-1 1 1 1-1 1 1 1 3 1-1 1 0 1 4 1-1 1 0 1 0 1 1 1 1 1 0 1 3 1 2 1 1 1-2 1 1 1-3 1 1 1 0 1 0 1 2 1 1 1 3 1-3 1 1 1 2 1-1 1 1 1 1 1-1 1 2 1 0 1 0 1 2 1 0 1 0 1 2 1 0 1 1 1 0 1 1 1 3 1 1 1 1 1 0 1 1 1 1 1 1 1 1 1 0 1 0 1 4 1 1 1 0 1 2 1-3 1 1 1-1 1-1 1 3 1-1 1 1 1-1 1 0"/>
</g><g transform="matrix(1.2217 0 0 0.5520 611.90 1960.30)">
<path class="s1 t" d="M0 -9l 1-1 1 0 1 0 1 0 1-1 1 4 1-1 1-1 1-1 1 0 1-7 1 4 1 3 1-1 1 4 1-4 1 1 1-1 1 3 1-1 1-1 1-1 1-2 1 2 1 3 1 3 1 2 1 3 1 0 1 0 1-1 1 3 1-2 1-2 1-2 1-1 1-1 1 1 1-3 1 1 1 2 1 3 1 3 1-3 1 0 1-2 1 2 1-4 1-1 1 1 1-1 1 2 1 7 1 0 1 0 1 4 1 1 1 2 1-2 1 3 1-1 1 0 1-2 1-3 1 3 1-2 1 0 1 1 1 1 1 0 1 0 1-2 1 4 1-2 1 2 1 1 1-3 1 0 1 0 1 0 1-3 1-1 1 3 1 5 1 0 1-1 1-2 1 4 1-1 1 3 1 0 1-2 1 3 1 1 1-1 1 4 1 8 1 2 1 0 1-4 1 3 1 0 1 2 1 0 1 0 1 0 1 2 1 2 1 2 1 1 1 1 1 1 1-4 1 3 1-1 1-1 1 1 1 5 1 1 1-1"/>
<path class="s1 t" d="M0 3l 1 2 1-2 1 1 1 0 1 1 1 0 1 3 1-5 1 2 1 0 1-1 1 2 1-2 1 0 1 1 1 3 1-1 1 0 1 0 1-2 1 2 1-2 1-1 1 4 1 3 1 0 1 0 1 1 1-2 1 3 1 0 1 3 1 0 1 7 1 5 1 0 1 1 1 6 1 2 1 0 1-1 1 0 1 3 1-2 1 5 1-1 1 1 1-1 1 2 1 0 1 1 1 1 1-3 1 5 1 6 1-2 1 6 1-5 1 2 1-5 1 2 1 0 1-1 1-2 1 4 1 2 1 0 1 2 1-4 1 3 1 1 1 2 1 1 1-2 1-2 1 1 1 3 1 1 1 2 1-1 1-3 1 2 1-3 1 5 1 1 1-1 1 2 1 0 1 0 1 0 1 2 1 1 1 1 1-2 1 1 1-1 1 2 1 3 1 1 1 1 1-5 1 6 1 4 1 0 1 1 1 1 1 1 1-1 1 1 1-2 1-1 1 1 1 4 1-2 1 2 1-4 1 0 1 3 1-1 1 2"/>
<path class="s2 t" d="M0 -4l 1 0 1 0 1 0 1 0 1 0 1 0 1 0 1 0 1 0 1-2 1 0 1-2 1 1 1 3 1 0 1 3 1-1 1 0 1 0 1 0 1-1 1 2 1-1 1 2 1 0 1 3 1 2 1-1 1 1 1-1 1 2 1-2 1-1 1-1 1 3 1-1 1 2 1-1 1 2 1 2 1 0 1 1 1 2 1-1 1 0 1 0 1 1 1 0 1 1 1 1 1 3 1 0 1-1 1-1 1 1 1-1 1 1 1 3 1-1 1 0 1 4 1-1 1 0 1 0 1 1 1 1 1 0 1 3 1 2 1 1 1-2 1 1 1-3 1 1 1 0 1 0 1 2 1 1 1 3 1-3 1 1 1 2 1-1 1 1 1 1 1-1 1 2 1 0 1 0 1 2 1 0 1 0 1 2 1 0 1 1 1 0 1 1 1 3 1 1 1 1 1 0 1 1 1 1 1 1 1 1 1 0 1 0 1 4 1 1 1 0 1 2 1-3 1 1 1-1 1-1 1 3 1-1 1 1 1-1 1 0"/>
</g></g>
<rect x="611.9" y="1877.5" width="146.6" height="138.0" fill="none" stroke="#000" stroke-width="1.1"/>
<path d="M607.0 1905.5H611.9 M607.0 1960.5H611.9 M607.0 2015.5H611.9 M636.5 2015.5V2020.4 M697.5 2015.5V2020.4 M758.5 2015.5V2020.4" stroke="#000" stroke-width="1.1" fill="none"/>
<rect x="666.8" y="1884.6" width="84.8" height="45.7" rx="4" ry="4" fill="#fff" fill-opacity="0.8" stroke="#cccccc" stroke-width="1.2"/>
<text x="671.2" y="1901.2" font-size="13.89" textLength="47.6" lengthAdjust="spacingAndGlyphs">KUBAN</text>
<text x="671.2" y="1922.0" font-size="13.89" textLength="72.2" lengthAdjust="spacingAndGlyphs">(AS, 0.2%)</text>
<clipPath id="c11_0"><rect x="61.5" y="2073.5" width="146.6" height="138.0"/></clipPath>
<g clip-path="url(#c11_0)">
<line x1="61.5" y1="2156.3" x2="208.1" y2="2156.3" stroke="#aaa" stroke-width="0.6" stroke-dasharray="1,1.7"/>
<g transform="matrix(1.2217 0 0 0.5520 61.50 2156.30)">
<path d="M0 -2l 1-2 1 0 1-1 1 0 1-1 1 0 1-3 1-1 1 1 1 1 1 2 1-1 1-3 1-1 1 2 1 0 1 1 1-4 1 0 1 2 1 1 1-5 1-1 1-7 1 0 1 2 1 2 1-2 1-3 1 0 1 0 1 0 1 0 1-2 1 3 1 3 1 2 1 0 1-3 1-1 1-3 1 0 1 1 1 3 1 2 1 0 1 4 1 2 1-3 1-3 1-1 1 7 1-1 1 5 1 0 1 0 1-1 1 2 1 3 1-2 1-1 1 2 1 1 1 1 1-2 1-1 1 0 1-1 1 1 1-2 1-2 1 1 1-5 1-3 1-7 1 1 1-4 1 0 1-4 1-3 1-3 1-4 1 0 1-5 1-6 1 0 1-3 1-1 1-1 1-2 1-3 1 0 1-2 1 2 1 0 1 0 1 0 1-2 1 0 1 0 1-2 1 2 1-1 1-1 1-2 1 1 1 1 1-2 1 0 1 4 1-3 1 0 1 0 1 0 1-2 1 0 1 3 1-3 1-5 1 0 0 135-1 6-1-1-1 2-1 3-1-3-1 2-1 3-1 1-1 1-1 2-1 3-1-1-1-2-1-1-1-2-1-3-1 1-1 2-1-1-1-5-1-2-1 2-1 2-1-2-1 1-1-4-1-1-1-2-1-1-1 2-1-3-1 0-1-1-1 3-1-1-1 0-1-1-1 0-1 0-1 0-1 4-1-4-1 2-1-4-1 0-1 1-1-1-1-4-1 0-1-2-1 0-1-5-1 2-1-2-1-2-1 0-1 0-1-3-1 3-1-4-1 1-1-2-1 1-1-2-1-1-1-4-1 1-1 3-1-3-1 2-1 1-1-4-1 1-1-1-1-1-1-1-1 1-1-1-1-3-1-1-1 1-1 0-1-2-1 1-1-3-1-3-1 1-1 0-1-6-1 1-1-1-1 1-1 2-1-1-1-2-1 2-1-2-1 0-1-5-1 1-1-1-1-1-1 3-1-1-1 1-1-2-1 0-1-1-1-1-1-3-1 1-1 0-1-1-1 0-1-1-1-2-1-1-1-1-1 0-1 0z" fill="#c2b27a"/>
</g><g transform="matrix(1.2217 0 0 0.5520 61.50 2157.50)">
<path class="d1" d="M0 -2l 1-2 1 0 1-1 1 0 1-1 1 0 1-3 1-1 1 1 1 1 1 2 1-1 1-3 1-1 1 2 1 0 1 1 1-4 1 0 1 2 1 1 1-5 1-1 1-7 1 0 1 2 1 2 1-2 1-3 1 0 1 0 1 0 1 0 1-2 1 3 1 3 1 2 1 0 1-3 1-1 1-3 1 0 1 1 1 3 1 2 1 0 1 4 1 2 1-3 1-3 1-1 1 7 1-1 1 5 1 0 1 0 1-1 1 2 1 3 1-2 1-1 1 2 1 1 1 1 1-2 1-1 1 0 1-1 1 1 1-2 1-2 1 1 1-5 1-3 1-7 1 1 1-4 1 0 1-4 1-3 1-3 1-4 1 0 1-5 1-6 1 0 1-3 1-1 1-1 1-2 1-3 1 0 1-2 1 2 1 0 1 0 1 0 1-2 1 0 1 0 1-2 1 2 1-1 1-1 1-2 1 1 1 1 1-2 1 0 1 4 1-3 1 0 1 0 1 0 1-2 1 0 1 3 1-3 1-5 1 0"/>
<path class="d1" d="M0 2l 1 0 1 0 1 1 1 1 1 2 1 1 1 0 1 1 1 0 1-1 1 3 1 1 1 1 1 0 1 2 1-1 1 1 1-3 1 1 1 1 1-1 1 5 1 0 1 2 1-2 1 2 1 1 1-2 1-1 1 1 1-1 1 6 1 0 1-1 1 3 1 3 1-1 1 2 1 0 1-1 1 1 1 3 1 1 1-1 1 1 1 1 1 1 1-1 1 4 1-1 1-2 1 3 1-3 1-1 1 4 1 1 1 2 1-1 1 2 1-1 1 4 1-3 1 3 1 0 1 0 1 2 1 2 1-2 1 5 1 0 1 2 1 0 1 4 1 1 1-1 1 0 1 4 1-2 1 4 1-4 1 0 1 0 1 0 1 1 1 0 1 1 1-3 1 1 1 0 1 3 1-2 1 1 1 2 1 1 1 4 1-1 1 2 1-2 1-2 1 2 1 5 1 1 1-2 1-1 1 3 1 2 1 1 1 2 1 1 1-3 1-2 1-1 1-1 1-3 1-2 1 3 1-3 1-2 1 1 1-6"/>
<path class="d2" d="M0 0l 1 0 1-1 1 0 1 0 1-1 1 0 1-1 1 1 1 1 1-3 1 0 1 2 1 1 1-1 1 1 1 0 1-1 1 0 1 1 1 3 1-1 1 0 1-1 1 0 1 1 1 1 1 0 1 2 1-2 1 0 1-1 1 2 1 0 1-1 1 2 1 2 1 1 1 1 1 1 1 2 1-1 1 0 1 1 1 1 1-2 1 1 1 0 1 0 1-1 1 2 1-2 1-3 1 1 1 1 1 1 1 2 1-3 1-1 1 1 1 0 1 2 1-2 1 2 1 0 1-1 1 0 1-1 1-2 1 2 1 0 1-1 1 1 1-1 1 3 1-1 1 3 1-1 1-2 1 1 1 1 1-1 1-2 1-1 1 0 1 1 1 0 1 0 1 2 1-2 1 0 1-1 1-1 1 2 1 0 1-1 1 0 1-2 1 1 1 1 1-2 1-3 1 0 1 2 1 1 1 2 1-1 1 0 1-1 1 1 1-1 1 0 1 0 1 1 1 0 1 1 1-1 1-2 1 1 1-1 1 2"/>
</g><g transform="matrix(1.2217 0 0 0.5520 61.50 2156.30)">
<path class="s1 t" d="M0 -2l 1-2 1 0 1-1 1 0 1-1 1 0 1-3 1-1 1 1 1 1 1 2 1-1 1-3 1-1 1 2 1 0 1 1 1-4 1 0 1 2 1 1 1-5 1-1 1-7 1 0 1 2 1 2 1-2 1-3 1 0 1 0 1 0 1 0 1-2 1 3 1 3 1 2 1 0 1-3 1-1 1-3 1 0 1 1 1 3 1 2 1 0 1 4 1 2 1-3 1-3 1-1 1 7 1-1 1 5 1 0 1 0 1-1 1 2 1 3 1-2 1-1 1 2 1 1 1 1 1-2 1-1 1 0 1-1 1 1 1-2 1-2 1 1 1-5 1-3 1-7 1 1 1-4 1 0 1-4 1-3 1-3 1-4 1 0 1-5 1-6 1 0 1-3 1-1 1-1 1-2 1-3 1 0 1-2 1 2 1 0 1 0 1 0 1-2 1 0 1 0 1-2 1 2 1-1 1-1 1-2 1 1 1 1 1-2 1 0 1 4 1-3 1 0 1 0 1 0 1-2 1 0 1 3 1-3 1-5 1 0"/>
<path class="s1 t" d="M0 2l 1 0 1 0 1 1 1 1 1 2 1 1 1 0 1 1 1 0 1-1 1 3 1 1 1 1 1 0 1 2 1-1 1 1 1-3 1 1 1 1 1-1 1 5 1 0 1 2 1-2 1 2 1 1 1-2 1-1 1 1 1-1 1 6 1 0 1-1 1 3 1 3 1-1 1 2 1 0 1-1 1 1 1 3 1 1 1-1 1 1 1 1 1 1 1-1 1 4 1-1 1-2 1 3 1-3 1-1 1 4 1 1 1 2 1-1 1 2 1-1 1 4 1-3 1 3 1 0 1 0 1 2 1 2 1-2 1 5 1 0 1 2 1 0 1 4 1 1 1-1 1 0 1 4 1-2 1 4 1-4 1 0 1 0 1 0 1 1 1 0 1 1 1-3 1 1 1 0 1 3 1-2 1 1 1 2 1 1 1 4 1-1 1 2 1-2 1-2 1 2 1 5 1 1 1-2 1-1 1 3 1 2 1 1 1 2 1 1 1-3 1-2 1-1 1-1 1-3 1-2 1 3 1-3 1-2 1 1 1-6"/>
<path class="s2 t" d="M0 0l 1 0 1-1 1 0 1 0 1-1 1 0 1-1 1 1 1 1 1-3 1 0 1 2 1 1 1-1 1 1 1 0 1-1 1 0 1 1 1 3 1-1 1 0 1-1 1 0 1 1 1 1 1 0 1 2 1-2 1 0 1-1 1 2 1 0 1-1 1 2 1 2 1 1 1 1 1 1 1 2 1-1 1 0 1 1 1 1 1-2 1 1 1 0 1 0 1-1 1 2 1-2 1-3 1 1 1 1 1 1 1 2 1-3 1-1 1 1 1 0 1 2 1-2 1 2 1 0 1-1 1 0 1-1 1-2 1 2 1 0 1-1 1 1 1-1 1 3 1-1 1 3 1-1 1-2 1 1 1 1 1-1 1-2 1-1 1 0 1 1 1 0 1 0 1 2 1-2 1 0 1-1 1-1 1 2 1 0 1-1 1 0 1-2 1 1 1 1 1-2 1-3 1 0 1 2 1 1 1 2 1-1 1 0 1-1 1 1 1-1 1 0 1 0 1 1 1 0 1 1 1-1 1-2 1 1 1-1 1 2"/>
</g></g>
<rect x="61.5" y="2073.5" width="146.6" height="138.0" fill="none" stroke="#000" stroke-width="1.1"/>
<path d="M56.6 2101.5H61.5 M56.6 2156.5H61.5 M56.6 2211.5H61.5 M85.5 2211.5V2216.4 M147.5 2211.5V2216.4 M208.5 2211.5V2216.4" stroke="#000" stroke-width="1.1" fill="none"/>
<text x="51.8" y="2106.7" text-anchor="end" font-size="16.67" textLength="10.3" lengthAdjust="spacingAndGlyphs">1</text>
<text x="51.8" y="2161.9" text-anchor="end" font-size="16.67" textLength="10.3" lengthAdjust="spacingAndGlyphs">0</text>
<text x="51.8" y="2217.1" text-anchor="end" font-size="16.67" textLength="23.8" lengthAdjust="spacingAndGlyphs">−1</text>
<text transform="translate(17.2,2143.0) rotate(-90)" text-anchor="middle" font-size="13.89" textLength="106.9" lengthAdjust="spacingAndGlyphs">Roll. mean SPEI</text>
<rect x="68.5" y="2080.6" width="85.0" height="45.7" rx="4" ry="4" fill="#fff" fill-opacity="0.8" stroke="#cccccc" stroke-width="1.2"/>
<text x="73.0" y="2097.2" font-size="13.89" textLength="62.4" lengthAdjust="spacingAndGlyphs">TITICACA</text>
<text x="73.0" y="2118.0" font-size="13.89" textLength="72.4" lengthAdjust="spacingAndGlyphs">(SA, 0.1%)</text>
<clipPath id="c11_1"><rect x="245.1" y="2073.5" width="146.8" height="138.0"/></clipPath>
<g clip-path="url(#c11_1)">
<line x1="245.1" y1="2156.3" x2="391.9" y2="2156.3" stroke="#aaa" stroke-width="0.6" stroke-dasharray="1,1.7"/>
<g transform="matrix(1.2233 0 0 0.5520 245.10 2156.30)">
<path d="M0 -13l 1 0 1 1 1 0 1 1 1-2 1-3 1 4 1 0 1 2 1 1 1-6 1-2 1 2 1 1 1 1 1 0 1 2 1-2 1 0 1 1 1-4 1-3 1-2 1 1 1-4 1-1 1 2 1 0 1-2 1 2 1 0 1-1 1 0 1 1 1-1 1 3 1 0 1 0 1-1 1 0 1-1 1 0 1 0 1-1 1 1 1 3 1 0 1-2 1 1 1-4 1 0 1-2 1-1 1-5 1 0 1 3 1 0 1 0 1 0 1 0 1 1 1-2 1 1 1-1 1-1 1-1 1-3 1 0 1-3 1 2 1-1 1 1 1 0 1-2 1 0 1-1 1-1 1 3 1 0 1-1 1-1 1-1 1-5 1 2 1 0 1-2 1-1 1-2 1-1 1 0 1 1 1 2 1-4 1 1 1 0 1-1 1 4 1 0 1 1 1-1 1 0 1-2 1-3 1 1 1 2 1-4 1-2 1 1 1 0 1 1 1-1 1 1 1 0 1-4 1-1 1 1 1-2 1 3 1-2 1 0 0 37-1 1-1-4-1-1-1 1-1 3-1 0-1-4-1-2-1 0-1-1-1-1-1 5-1-2-1 1-1 4-1-1-1 0-1-3-1 0-1-1-1 5-1 3-1-5-1-1-1-3-1 1-1 0-1 2-1 6-1 1-1-2-1 5-1-3-1-1-1 2-1 0-1-2-1-2-1 1-1 2-1 2-1-2-1 0-1-1-1 2-1 2-1 0-1-2-1 4-1-2-1 2-1 3-1 1-1-2-1 3-1-1-1 2-1-1-1 4-1-7-1 3-1 4-1 1-1-2-1-2-1-1-1-1-1 3-1-2-1 0-1 2-1 2-1-2-1 1-1-3-1 3-1-2-1 4-1 3-1-1-1-5-1 3-1 2-1 0-1 3-1 4-1-1-1-1-1 1-1 0-1-3-1 1-1 1-1-1-1-2-1 6-1-1-1 0-1-2-1 0-1 0-1-3-1 3-1 1-1-4-1-1-1-2-1 0-1 3-1-1-1 2-1-1-1 2-1-2-1 1-1 0-1-1-1 0-1 0-1 1z" fill="#c2b27a"/>
</g><g transform="matrix(1.2233 0 0 0.5520 245.10 2157.50)">
<path class="d1" d="M0 -13l 1 0 1 1 1 0 1 1 1-2 1-3 1 4 1 0 1 2 1 1 1-6 1-2 1 2 1 1 1 1 1 0 1 2 1-2 1 0 1 1 1-4 1-3 1-2 1 1 1-4 1-1 1 2 1 0 1-2 1 2 1 0 1-1 1 0 1 1 1-1 1 3 1 0 1 0 1-1 1 0 1-1 1 0 1 0 1-1 1 1 1 3 1 0 1-2 1 1 1-4 1 0 1-2 1-1 1-5 1 0 1 3 1 0 1 0 1 0 1 0 1 1 1-2 1 1 1-1 1-1 1-1 1-3 1 0 1-3 1 2 1-1 1 1 1 0 1-2 1 0 1-1 1-1 1 3 1 0 1-1 1-1 1-1 1-5 1 2 1 0 1-2 1-1 1-2 1-1 1 0 1 1 1 2 1-4 1 1 1 0 1-1 1 4 1 0 1 1 1-1 1 0 1-2 1-3 1 1 1 2 1-4 1-2 1 1 1 0 1 1 1-1 1 1 1 0 1-4 1-1 1 1 1-2 1 3 1-2 1 0"/>
<path class="d1" d="M0 3l 1-1 1 0 1 0 1 1 1 0 1-1 1 2 1-2 1 1 1-2 1 1 1-3 1 0 1 2 1 1 1 4 1-1 1-3 1 3 1 0 1 0 1 2 1 0 1 1 1-6 1 2 1 1 1-1 1-1 1 3 1 0 1-1 1 1 1 1 1-4 1-3 1 0 1-2 1-3 1 5 1 1 1-3 1-4 1 2 1-3 1 3 1-1 1 2 1-2 1-2 1 0 1 2 1-3 1 1 1 1 1 2 1 2 1-1 1-4 1-3 1 7 1-4 1 1 1-2 1 1 1-3 1 2 1-1 1-3 1-2 1 2 1-4 1 2 1 0 1-2 1-2 1 1 1 0 1 2 1-2 1-2 1-1 1 2 1 2 1 0 1-2 1 1 1 3 1-5 1 2 1-1 1-6 1-2 1 0 1-1 1 3 1 1 1 5 1-3 1-5 1 1 1 0 1 3 1 0 1 1 1-4 1-1 1 2 1-5 1 1 1 1 1 0 1 2 1 4 1 0 1-3 1-1 1 1 1 4 1-1"/>
<path class="d2" d="M0 -5l 1 0 1 0 1 0 1 0 1 1 1-1 1 0 1 0 1 0 1 0 1-1 1-2 1 1 1 1 1 0 1 1 1 1 1-1 1 0 1-1 1 1 1-2 1 1 1-3 1 0 1-1 1 1 1-2 1 2 1-1 1 0 1 1 1 1 1-2 1 1 1 0 1 0 1-1 1-1 1-2 1-1 1-1 1 0 1 0 1 0 1 0 1 2 1-1 1-2 1 3 1-1 1 0 1-1 1 1 1-2 1 1 1 0 1-1 1 0 1 0 1-1 1-1 1-1 1-1 1 0 1-3 1 2 1-3 1 0 1-2 1 1 1 1 1-1 1 1 1 1 1-3 1-1 1-1 1 1 1 0 1-1 1 0 1-1 1-1 1 0 1 2 1-3 1 0 1 2 1 0 1 0 1-1 1 0 1 1 1-1 1-1 1 0 1-1 1-1 1-1 1-1 1 0 1 1 1-1 1 0 1 0 1-1 1 0 1 0 1 1 1-2 1 0 1-1 1 2 1 0 1 0 1-1 1 1 1 1 1-1"/>
</g><g transform="matrix(1.2233 0 0 0.5520 245.10 2156.30)">
<path class="s1 t" d="M0 -13l 1 0 1 1 1 0 1 1 1-2 1-3 1 4 1 0 1 2 1 1 1-6 1-2 1 2 1 1 1 1 1 0 1 2 1-2 1 0 1 1 1-4 1-3 1-2 1 1 1-4 1-1 1 2 1 0 1-2 1 2 1 0 1-1 1 0 1 1 1-1 1 3 1 0 1 0 1-1 1 0 1-1 1 0 1 0 1-1 1 1 1 3 1 0 1-2 1 1 1-4 1 0 1-2 1-1 1-5 1 0 1 3 1 0 1 0 1 0 1 0 1 1 1-2 1 1 1-1 1-1 1-1 1-3 1 0 1-3 1 2 1-1 1 1 1 0 1-2 1 0 1-1 1-1 1 3 1 0 1-1 1-1 1-1 1-5 1 2 1 0 1-2 1-1 1-2 1-1 1 0 1 1 1 2 1-4 1 1 1 0 1-1 1 4 1 0 1 1 1-1 1 0 1-2 1-3 1 1 1 2 1-4 1-2 1 1 1 0 1 1 1-1 1 1 1 0 1-4 1-1 1 1 1-2 1 3 1-2 1 0"/>
<path class="s1 t" d="M0 3l 1-1 1 0 1 0 1 1 1 0 1-1 1 2 1-2 1 1 1-2 1 1 1-3 1 0 1 2 1 1 1 4 1-1 1-3 1 3 1 0 1 0 1 2 1 0 1 1 1-6 1 2 1 1 1-1 1-1 1 3 1 0 1-1 1 1 1 1 1-4 1-3 1 0 1-2 1-3 1 5 1 1 1-3 1-4 1 2 1-3 1 3 1-1 1 2 1-2 1-2 1 0 1 2 1-3 1 1 1 1 1 2 1 2 1-1 1-4 1-3 1 7 1-4 1 1 1-2 1 1 1-3 1 2 1-1 1-3 1-2 1 2 1-4 1 2 1 0 1-2 1-2 1 1 1 0 1 2 1-2 1-2 1-1 1 2 1 2 1 0 1-2 1 1 1 3 1-5 1 2 1-1 1-6 1-2 1 0 1-1 1 3 1 1 1 5 1-3 1-5 1 1 1 0 1 3 1 0 1 1 1-4 1-1 1 2 1-5 1 1 1 1 1 0 1 2 1 4 1 0 1-3 1-1 1 1 1 4 1-1"/>
<path class="s2 t" d="M0 -5l 1 0 1 0 1 0 1 0 1 1 1-1 1 0 1 0 1 0 1 0 1-1 1-2 1 1 1 1 1 0 1 1 1 1 1-1 1 0 1-1 1 1 1-2 1 1 1-3 1 0 1-1 1 1 1-2 1 2 1-1 1 0 1 1 1 1 1-2 1 1 1 0 1 0 1-1 1-1 1-2 1-1 1-1 1 0 1 0 1 0 1 0 1 2 1-1 1-2 1 3 1-1 1 0 1-1 1 1 1-2 1 1 1 0 1-1 1 0 1 0 1-1 1-1 1-1 1-1 1 0 1-3 1 2 1-3 1 0 1-2 1 1 1 1 1-1 1 1 1 1 1-3 1-1 1-1 1 1 1 0 1-1 1 0 1-1 1-1 1 0 1 2 1-3 1 0 1 2 1 0 1 0 1-1 1 0 1 1 1-1 1-1 1 0 1-1 1-1 1-1 1-1 1 0 1 1 1-1 1 0 1 0 1-1 1 0 1 0 1 1 1-2 1 0 1-1 1 2 1 0 1 0 1-1 1 1 1 1 1-1"/>
</g></g>
<rect x="245.1" y="2073.5" width="146.8" height="138.0" fill="none" stroke="#000" stroke-width="1.1"/>
<path d="M240.2 2101.5H245.1 M240.2 2156.5H245.1 M240.2 2211.5H245.1 M269.5 2211.5V2216.4 M330.5 2211.5V2216.4 M391.5 2211.5V2216.4" stroke="#000" stroke-width="1.1" fill="none"/>
<rect x="252.1" y="2080.6" width="90.2" height="45.7" rx="4" ry="4" fill="#fff" fill-opacity="0.8" stroke="#cccccc" stroke-width="1.2"/>
<text x="256.6" y="2097.2" font-size="13.89" textLength="77.3" lengthAdjust="spacingAndGlyphs">NUSHAGAK</text>
<text x="256.6" y="2118.0" font-size="13.89" textLength="73.7" lengthAdjust="spacingAndGlyphs">(NA, 0.3%)</text>
<clipPath id="c11_2"><rect x="428.4" y="2073.5" width="147.1" height="138.0"/></clipPath>
<g clip-path="url(#c11_2)">
<line x1="428.4" y1="2156.3" x2="575.5" y2="2156.3" stroke="#aaa" stroke-width="0.6" stroke-dasharray="1,1.7"/>
<g transform="matrix(1.2258 0 0 0.5520 428.40 2156.30)">
<path d="M0 -5l 1 1 1 1 1 1 1 1 1-3 1 4 1-1 1 2 1 1 1 0 1 0 1 5 1 0 1 1 1 3 1-2 1-2 1-1 1 4 1-2 1 3 1 0 1-1 1 2 1 2 1-3 1 2 1-1 1 1 1 0 1-4 1 5 1-1 1 2 1-1 1 1 1 4 1-1 1 4 1-3 1-5 1 4 1-1 1-1 1 2 1-3 1 6 1 0 1-6 1 2 1 3 1 5 1 0 1-1 1 5 1 1 1 1 1-1 1 1 1-2 1 5 1 4 1 1 1 0 1 0 1-2 1 2 1 3 1 0 1 0 1-3 1 1 1 1 1-1 1 0 1-1 1-1 1-3 1 1 1 2 1 2 1-2 1 0 1 0 1 1 1 3 1-4 1 1 1-1 1-3 1 2 1 2 1 1 1 1 1 3 1-1 1 0 1 1 1 2 1 1 1 1 1 0 1 1 1 4 1 3 1 3 1-1 1 1 1 4 1-1 1 0 1 3 1 0 1 2 1 1 1-3 1 5 1-3 1 2 1 4 0 59-1 0-1 1-1 0-1 2-1 1-1-5-1 0-1-5-1 1-1 4-1 0-1-4-1 2-1 2-1 2-1-2-1 0-1 2-1-3-1 0-1-1-1-1-1 1-1-2-1 6-1-3-1 0-1-3-1-1-1-2-1 0-1-1-1 5-1 4-1-3-1 2-1-1-1 2-1-2-1-1-1-1-1 1-1 1-1-6-1-1-1-4-1-1-1-1-1-6-1-4-1-2-1 0-1 1-1-1-1-1-1-5-1 1-1 2-1-2-1-4-1-5-1 0-1-6-1-6-1-1-1 0-1-4-1-4-1 0-1-1-1-6-1-4-1 2-1-3-1-1-1-4-1 2-1-2-1-4-1 0-1-1-1-3-1-4-1 2-1-4-1-5-1 2-1-2-1 0-1-2-1 2-1-2-1-4-1-3-1-4-1 0-1-2-1 0-1 0-1 0-1-1-1-2-1 3-1-2-1 0-1 0-1-1-1 1-1-5-1-4-1 0-1-2-1 0-1 1-1 0-1-3-1 1-1 1-1-2-1-2z" fill="#c2b27a"/>
</g><g transform="matrix(1.2258 0 0 0.5520 428.40 2157.50)">
<path class="d1" d="M0 -5l 1 1 1 1 1 1 1 1 1-3 1 4 1-1 1 2 1 1 1 0 1 0 1 5 1 0 1 1 1 3 1-2 1-2 1-1 1 4 1-2 1 3 1 0 1-1 1 2 1 2 1-3 1 2 1-1 1 1 1 0 1-4 1 5 1-1 1 2 1-1 1 1 1 4 1-1 1 4 1-3 1-5 1 4 1-1 1-1 1 2 1-3 1 6 1 0 1-6 1 2 1 3 1 5 1 0 1-1 1 5 1 1 1 1 1-1 1 1 1-2 1 5 1 4 1 1 1 0 1 0 1-2 1 2 1 3 1 0 1 0 1-3 1 1 1 1 1-1 1 0 1-1 1-1 1-3 1 1 1 2 1 2 1-2 1 0 1 0 1 1 1 3 1-4 1 1 1-1 1-3 1 2 1 2 1 1 1 1 1 3 1-1 1 0 1 1 1 2 1 1 1 1 1 0 1 1 1 4 1 3 1 3 1-1 1 1 1 4 1-1 1 0 1 3 1 0 1 2 1 1 1-3 1 5 1-3 1 2 1 4"/>
<path class="d1" d="M0 2l 1 2 1 2 1-1 1-1 1 3 1 0 1-1 1 0 1 2 1 0 1 4 1 5 1-1 1 1 1 0 1 0 1 2 1-3 1 2 1 1 1 0 1 0 1 0 1 2 1 0 1 4 1 3 1 4 1 2 1-2 1 2 1 0 1 2 1-2 1 5 1 4 1-2 1 4 1 3 1 1 1 0 1 4 1 2 1-2 1 4 1 1 1 3 1-2 1 4 1 6 1 1 1 0 1 4 1 4 1 0 1 1 1 6 1 6 1 0 1 5 1 4 1 2 1-2 1-1 1 5 1 1 1 1 1-1 1 0 1 2 1 4 1 6 1 1 1 1 1 4 1 1 1 6 1-1 1-1 1 1 1 1 1 2 1-2 1 1 1-2 1 3 1-4 1-5 1 1 1 0 1 2 1 1 1 3 1 0 1 3 1-6 1 2 1-1 1 1 1 1 1 0 1 3 1-2 1 0 1 2 1-2 1-2 1-2 1 4 1 0 1-4 1-1 1 5 1 0 1 5 1-1 1-2 1 0 1-1 1 0"/>
<path class="d2" d="M0 0l 1 1 1 0 1 0 1 1 1 1 1 1 1 3 1 1 1 3 1-3 1 0 1 0 1 3 1-3 1 2 1-1 1 1 1-1 1 4 1 0 1 0 1 4 1-2 1 2 1 2 1 1 1 1 1-1 1 4 1 1 1-1 1 3 1 1 1 2 1 2 1-2 1 2 1 2 1 1 1 1 1 1 1 0 1 0 1 3 1-1 1 2 1 2 1 1 1-2 1 1 1 5 1 1 1-1 1 1 1 3 1 1 1-1 1 3 1 3 1-1 1 0 1 2 1 0 1 1 1 1 1-1 1 2 1 1 1 1 1 2 1 1 1 1 1-1 1 0 1 1 1 1 1 1 1 0 1 1 1 0 1-1 1 4 1-1 1 1 1 2 1 1 1 1 1 0 1 2 1-2 1 2 1 0 1 0 1 4 1 2 1 0 1-1 1 3 1-2 1 1 1 0 1 2 1 1 1 0 1 0 1 0 1 1 1 3 1 2 1 1 1 1 1-1 1 0 1 1 1 1 1-2 1 1 1 0 1-1 1 1"/>
</g><g transform="matrix(1.2258 0 0 0.5520 428.40 2156.30)">
<path class="s1 t" d="M0 -5l 1 1 1 1 1 1 1 1 1-3 1 4 1-1 1 2 1 1 1 0 1 0 1 5 1 0 1 1 1 3 1-2 1-2 1-1 1 4 1-2 1 3 1 0 1-1 1 2 1 2 1-3 1 2 1-1 1 1 1 0 1-4 1 5 1-1 1 2 1-1 1 1 1 4 1-1 1 4 1-3 1-5 1 4 1-1 1-1 1 2 1-3 1 6 1 0 1-6 1 2 1 3 1 5 1 0 1-1 1 5 1 1 1 1 1-1 1 1 1-2 1 5 1 4 1 1 1 0 1 0 1-2 1 2 1 3 1 0 1 0 1-3 1 1 1 1 1-1 1 0 1-1 1-1 1-3 1 1 1 2 1 2 1-2 1 0 1 0 1 1 1 3 1-4 1 1 1-1 1-3 1 2 1 2 1 1 1 1 1 3 1-1 1 0 1 1 1 2 1 1 1 1 1 0 1 1 1 4 1 3 1 3 1-1 1 1 1 4 1-1 1 0 1 3 1 0 1 2 1 1 1-3 1 5 1-3 1 2 1 4"/>
<path class="s1 t" d="M0 2l 1 2 1 2 1-1 1-1 1 3 1 0 1-1 1 0 1 2 1 0 1 4 1 5 1-1 1 1 1 0 1 0 1 2 1-3 1 2 1 1 1 0 1 0 1 0 1 2 1 0 1 4 1 3 1 4 1 2 1-2 1 2 1 0 1 2 1-2 1 5 1 4 1-2 1 4 1 3 1 1 1 0 1 4 1 2 1-2 1 4 1 1 1 3 1-2 1 4 1 6 1 1 1 0 1 4 1 4 1 0 1 1 1 6 1 6 1 0 1 5 1 4 1 2 1-2 1-1 1 5 1 1 1 1 1-1 1 0 1 2 1 4 1 6 1 1 1 1 1 4 1 1 1 6 1-1 1-1 1 1 1 1 1 2 1-2 1 1 1-2 1 3 1-4 1-5 1 1 1 0 1 2 1 1 1 3 1 0 1 3 1-6 1 2 1-1 1 1 1 1 1 0 1 3 1-2 1 0 1 2 1-2 1-2 1-2 1 4 1 0 1-4 1-1 1 5 1 0 1 5 1-1 1-2 1 0 1-1 1 0"/>
<path class="s2 t" d="M0 0l 1 1 1 0 1 0 1 1 1 1 1 1 1 3 1 1 1 3 1-3 1 0 1 0 1 3 1-3 1 2 1-1 1 1 1-1 1 4 1 0 1 0 1 4 1-2 1 2 1 2 1 1 1 1 1-1 1 4 1 1 1-1 1 3 1 1 1 2 1 2 1-2 1 2 1 2 1 1 1 1 1 1 1 0 1 0 1 3 1-1 1 2 1 2 1 1 1-2 1 1 1 5 1 1 1-1 1 1 1 3 1 1 1-1 1 3 1 3 1-1 1 0 1 2 1 0 1 1 1 1 1-1 1 2 1 1 1 1 1 2 1 1 1 1 1-1 1 0 1 1 1 1 1 1 1 0 1 1 1 0 1-1 1 4 1-1 1 1 1 2 1 1 1 1 1 0 1 2 1-2 1 2 1 0 1 0 1 4 1 2 1 0 1-1 1 3 1-2 1 1 1 0 1 2 1 1 1 0 1 0 1 0 1 1 1 3 1 2 1 1 1 1 1-1 1 0 1 1 1 1 1-2 1 1 1 0 1-1 1 1"/>
</g></g>
<rect x="428.4" y="2073.5" width="147.1" height="138.0" fill="none" stroke="#000" stroke-width="1.1"/>
<path d="M423.5 2101.5H428.4 M423.5 2156.5H428.4 M423.5 2211.5H428.4 M452.5 2211.5V2216.4 M514.5 2211.5V2216.4 M575.5 2211.5V2216.4" stroke="#000" stroke-width="1.1" fill="none"/>
<rect x="483.5" y="2080.6" width="85.0" height="45.7" rx="4" ry="4" fill="#fff" fill-opacity="0.8" stroke="#cccccc" stroke-width="1.2"/>
<text x="488.0" y="2097.2" font-size="13.89" textLength="48.4" lengthAdjust="spacingAndGlyphs">BIOBIO</text>
<text x="488.0" y="2118.0" font-size="13.89" textLength="72.4" lengthAdjust="spacingAndGlyphs">(SA, 0.3%)</text>
<clipPath id="c11_3"><rect x="611.9" y="2073.5" width="146.6" height="138.0"/></clipPath>
<g clip-path="url(#c11_3)">
<line x1="611.9" y1="2156.3" x2="758.5" y2="2156.3" stroke="#aaa" stroke-width="0.6" stroke-dasharray="1,1.7"/>
<g transform="matrix(1.2217 0 0 0.5520 611.90 2156.30)">
<path d="M0 -16l 1 2 1-1 1 1 1 1 1 0 1 0 1 0 1 0 1 0 1-1 1 1 1-1 1-1 1 1 1 2 1 0 1-1 1 0 1 1 1-3 1-1 1 3 1 0 1 0 1 3 1-2 1 2 1-2 1-1 1 0 1 3 1 3 1-6 1 0 1 2 1-3 1-1 1 0 1 3 1-3 1-1 1 0 1-1 1 2 1 2 1 1 1 1 1-3 1 2 1 2 1 2 1 0 1-4 1 3 1-1 1-1 1 4 1 1 1 0 1-4 1 0 1-2 1-1 1 3 1-4 1 2 1-5 1 1 1 1 1-3 1-3 1 1 1 5 1 1 1 0 1 1 1 1 1 0 1 1 1-2 1-5 1 1 1-3 1-4 1 2 1 4 1 3 1 0 1-1 1 1 1-4 1 2 1-1 1 1 1 1 1-1 1-2 1 2 1-1 1 1 1 3 1 2 1-5 1 0 1-5 1 3 1-4 1-3 1 0 1 0 1 2 1-1 1-2 1-2 1-3 1 0 1 3 1 0 1 0 1 0 0 59-1-5-1-1-1 3-1-1-1 1-1 2-1-2-1-1-1-1-1 0-1 3-1-3-1-2-1 2-1 3-1-3-1-1-1 2-1-2-1 0-1-4-1 2-1-3-1 3-1-4-1-1-1 1-1-4-1 1-1-4-1 1-1 0-1 1-1 2-1 0-1 0-1 2-1-5-1 3-1-1-1 1-1 1-1 0-1-1-1-1-1 0-1-1-1 4-1-1-1-1-1-1-1-3-1 2-1-5-1-2-1 1-1 3-1 1-1-3-1-2-1 4-1-3-1 1-1-1-1 1-1-2-1-2-1-1-1 1-1 0-1 0-1 3-1 0-1 0-1 0-1-2-1 1-1 2-1-3-1-2-1-1-1-3-1 3-1 3-1 2-1 1-1-1-1 2-1-1-1 1-1 1-1 3-1-2-1-3-1-1-1-4-1-2-1-2-1-1-1 3-1 0-1 2-1 0-1 3-1-1-1 2-1-1-1 3-1 0-1 1-1-1-1 0-1 0-1-1-1-1-1-1-1 0-1-1-1-2-1 1z" fill="#c2b27a"/>
</g><g transform="matrix(1.2217 0 0 0.5520 611.90 2157.50)">
<path class="d1" d="M0 -16l 1 2 1-1 1 1 1 1 1 0 1 0 1 0 1 0 1 0 1-1 1 1 1-1 1-1 1 1 1 2 1 0 1-1 1 0 1 1 1-3 1-1 1 3 1 0 1 0 1 3 1-2 1 2 1-2 1-1 1 0 1 3 1 3 1-6 1 0 1 2 1-3 1-1 1 0 1 3 1-3 1-1 1 0 1-1 1 2 1 2 1 1 1 1 1-3 1 2 1 2 1 2 1 0 1-4 1 3 1-1 1-1 1 4 1 1 1 0 1-4 1 0 1-2 1-1 1 3 1-4 1 2 1-5 1 1 1 1 1-3 1-3 1 1 1 5 1 1 1 0 1 1 1 1 1 0 1 1 1-2 1-5 1 1 1-3 1-4 1 2 1 4 1 3 1 0 1-1 1 1 1-4 1 2 1-1 1 1 1 1 1-1 1-2 1 2 1-1 1 1 1 3 1 2 1-5 1 0 1-5 1 3 1-4 1-3 1 0 1 0 1 2 1-1 1-2 1-2 1-3 1 0 1 3 1 0 1 0 1 0"/>
<path class="d1" d="M0 4l 1-1 1 2 1 1 1 0 1 1 1 1 1 1 1 0 1 0 1 1 1-1 1 0 1-3 1 1 1-2 1 1 1-3 1 0 1-2 1 0 1-3 1 1 1 2 1 2 1 4 1 1 1 3 1 2 1-3 1-1 1-1 1 1 1-2 1 1 1-1 1-2 1-3 1-3 1 3 1 1 1 2 1 3 1-2 1-1 1 2 1 0 1 0 1 0 1-3 1 0 1 0 1-1 1 1 1 2 1 2 1-1 1 1 1-1 1 3 1-4 1 2 1 3 1-1 1-3 1-1 1 2 1 5 1-2 1 3 1 1 1 1 1 1 1-4 1 1 1 0 1 1 1 1 1 0 1-1 1-1 1 1 1-3 1 5 1-2 1 0 1 0 1-2 1-1 1 0 1-1 1 4 1-1 1 4 1-1 1 1 1 4 1-3 1 3 1-2 1 4 1 0 1 2 1-2 1 1 1 3 1-3 1-2 1 2 1 3 1-3 1 0 1 1 1 1 1 2 1-2 1-1 1 1 1-3 1 1 1 5"/>
<path class="d2" d="M0 -8l 1 0 1 0 1 0 1 0 1-1 1 1 1 2 1-1 1 1 1 1 1 1 1 0 1 0 1 0 1 1 1-1 1 0 1 0 1 2 1-1 1 0 1 0 1-2 1 2 1-1 1-1 1 1 1-2 1 0 1 1 1 1 1 0 1-1 1 0 1 0 1 2 1-3 1-1 1 2 1 0 1-2 1 2 1-1 1 1 1-1 1 3 1-1 1-1 1-1 1-2 1 1 1 2 1-2 1 1 1 1 1 0 1 1 1 0 1 1 1-1 1 1 1-3 1 0 1 0 1-1 1 0 1 0 1 1 1-1 1-1 1 1 1 0 1 2 1 0 1-2 1 2 1 3 1-1 1-2 1 0 1 2 1 0 1-2 1 0 1-1 1 1 1 0 1 2 1-2 1-2 1 1 1-1 1 1 1 1 1-1 1 1 1 1 1 0 1 0 1 1 1-2 1-1 1 1 1-1 1 0 1 0 1 1 1 1 1-2 1 1 1-1 1-2 1-2 1 3 1 0 1 0 1-1 1-2 1 1 1 0"/>
</g><g transform="matrix(1.2217 0 0 0.5520 611.90 2156.30)">
<path class="s1 t" d="M0 -16l 1 2 1-1 1 1 1 1 1 0 1 0 1 0 1 0 1 0 1-1 1 1 1-1 1-1 1 1 1 2 1 0 1-1 1 0 1 1 1-3 1-1 1 3 1 0 1 0 1 3 1-2 1 2 1-2 1-1 1 0 1 3 1 3 1-6 1 0 1 2 1-3 1-1 1 0 1 3 1-3 1-1 1 0 1-1 1 2 1 2 1 1 1 1 1-3 1 2 1 2 1 2 1 0 1-4 1 3 1-1 1-1 1 4 1 1 1 0 1-4 1 0 1-2 1-1 1 3 1-4 1 2 1-5 1 1 1 1 1-3 1-3 1 1 1 5 1 1 1 0 1 1 1 1 1 0 1 1 1-2 1-5 1 1 1-3 1-4 1 2 1 4 1 3 1 0 1-1 1 1 1-4 1 2 1-1 1 1 1 1 1-1 1-2 1 2 1-1 1 1 1 3 1 2 1-5 1 0 1-5 1 3 1-4 1-3 1 0 1 0 1 2 1-1 1-2 1-2 1-3 1 0 1 3 1 0 1 0 1 0"/>
<path class="s1 t" d="M0 4l 1-1 1 2 1 1 1 0 1 1 1 1 1 1 1 0 1 0 1 1 1-1 1 0 1-3 1 1 1-2 1 1 1-3 1 0 1-2 1 0 1-3 1 1 1 2 1 2 1 4 1 1 1 3 1 2 1-3 1-1 1-1 1 1 1-2 1 1 1-1 1-2 1-3 1-3 1 3 1 1 1 2 1 3 1-2 1-1 1 2 1 0 1 0 1 0 1-3 1 0 1 0 1-1 1 1 1 2 1 2 1-1 1 1 1-1 1 3 1-4 1 2 1 3 1-1 1-3 1-1 1 2 1 5 1-2 1 3 1 1 1 1 1 1 1-4 1 1 1 0 1 1 1 1 1 0 1-1 1-1 1 1 1-3 1 5 1-2 1 0 1 0 1-2 1-1 1 0 1-1 1 4 1-1 1 4 1-1 1 1 1 4 1-3 1 3 1-2 1 4 1 0 1 2 1-2 1 1 1 3 1-3 1-2 1 2 1 3 1-3 1 0 1 1 1 1 1 2 1-2 1-1 1 1 1-3 1 1 1 5"/>
<path class="s2 t" d="M0 -8l 1 0 1 0 1 0 1 0 1-1 1 1 1 2 1-1 1 1 1 1 1 1 1 0 1 0 1 0 1 1 1-1 1 0 1 0 1 2 1-1 1 0 1 0 1-2 1 2 1-1 1-1 1 1 1-2 1 0 1 1 1 1 1 0 1-1 1 0 1 0 1 2 1-3 1-1 1 2 1 0 1-2 1 2 1-1 1 1 1-1 1 3 1-1 1-1 1-1 1-2 1 1 1 2 1-2 1 1 1 1 1 0 1 1 1 0 1 1 1-1 1 1 1-3 1 0 1 0 1-1 1 0 1 0 1 1 1-1 1-1 1 1 1 0 1 2 1 0 1-2 1 2 1 3 1-1 1-2 1 0 1 2 1 0 1-2 1 0 1-1 1 1 1 0 1 2 1-2 1-2 1 1 1-1 1 1 1 1 1-1 1 1 1 1 1 0 1 0 1 1 1-2 1-1 1 1 1-1 1 0 1 0 1 1 1 1 1-2 1 1 1-1 1-2 1-2 1 3 1 0 1 0 1-1 1-2 1 1 1 0"/>
</g></g>
<rect x="611.9" y="2073.5" width="146.6" height="138.0" fill="none" stroke="#000" stroke-width="1.1"/>
<path d="M607.0 2101.5H611.9 M607.0 2156.5H611.9 M607.0 2211.5H611.9 M636.5 2211.5V2216.4 M697.5 2211.5V2216.4 M758.5 2211.5V2216.4" stroke="#000" stroke-width="1.1" fill="none"/>
<rect x="656.8" y="2080.6" width="94.7" height="45.7" rx="4" ry="4" fill="#fff" fill-opacity="0.8" stroke="#cccccc" stroke-width="1.2"/>
<text x="661.3" y="2097.2" font-size="13.89" textLength="81.9" lengthAdjust="spacingAndGlyphs">IRRAWADDY</text>
<text x="661.3" y="2118.0" font-size="13.89" textLength="72.2" lengthAdjust="spacingAndGlyphs">(AS, 0.0%)</text>
<clipPath id="c12_0"><rect x="61.5" y="2270.5" width="146.6" height="138.0"/></clipPath>
<g clip-path="url(#c12_0)">
<line x1="61.5" y1="2353.3" x2="208.1" y2="2353.3" stroke="#aaa" stroke-width="0.6" stroke-dasharray="1,1.7"/>
<g transform="matrix(1.2217 0 0 0.5520 61.50 2353.30)">
<path d="M0 -6l 1 0 1 0 1 0 1 1 1-1 1-2 1 3 1 1 1-1 1-2 1 3 1-2 1 0 1 2 1-1 1 0 1-5 1 5 1 2 1-3 1 0 1 3 1-2 1 0 1 1 1 0 1 0 1 0 1 2 1-1 1-2 1 0 1 0 1 3 1 0 1 0 1 1 1-1 1 3 1-2 1-4 1 4 1 1 1-2 1 1 1 0 1-2 1 2 1 0 1-1 1 0 1 0 1 1 1 0 1 1 1-2 1 0 1-3 1 2 1-1 1 3 1-2 1-2 1 3 1 1 1 1 1 2 1 0 1 6 1 4 1 2 1 0 1 0 1 3 1-1 1-3 1-2 1 1 1 6 1 0 1 2 1-1 1 3 1 2 1 1 1-2 1-2 1 1 1 1 1 2 1 4 1-3 1-4 1-1 1-1 1-2 1 0 1 1 1-2 1-1 1 2 1-1 1 2 1-3 1-2 1-3 1 3 1 0 1 2 1-1 1 1 1 0 1 0 1-1 1-2 1-1 1 2 1 4 1 2 1-4 0 105-1 0-1 0-1 0-1-3-1-3-1-1-1 0-1 5-1-2-1-4-1-3-1-4-1 4-1-2-1 1-1-3-1-4-1-1-1-2-1-2-1-3-1 0-1 2-1 0-1-4-1-1-1-3-1 1-1-2-1-2-1 1-1 0-1-3-1-3-1-1-1-2-1 1-1 1-1 1-1 2-1 1-1-2-1-5-1 1-1-2-1-4-1-2-1-1-1 0-1-1-1-2-1 1-1 1-1-2-1 1-1-5-1-4-1-1-1-3-1 1-1 0-1 2-1-3-1-3-1 2-1-1-1-3-1-1-1-2-1-1-1-3-1-2-1 2-1-3-1-1-1 3-1-1-1-1-1 1-1 1-1-1-1 0-1-3-1-2-1-3-1 0-1-4-1-2-1-3-1 0-1-3-1 0-1-3-1-1-1-7-1 1-1-3-1 1-1 1-1-3-1-1-1 0-1 2-1 1-1 1-1 1-1 5-1-1-1 1-1-3-1 1-1-4-1-1-1 2-1-1-1 0-1-2-1 2-1 0-1-1z" fill="#c2b27a"/>
</g><g transform="matrix(1.2217 0 0 0.5520 61.50 2354.50)">
<path class="d1" d="M0 -6l 1 0 1 0 1 0 1 1 1-1 1-2 1 3 1 1 1-1 1-2 1 3 1-2 1 0 1 2 1-1 1 0 1-5 1 5 1 2 1-3 1 0 1 3 1-2 1 0 1 1 1 0 1 0 1 0 1 2 1-1 1-2 1 0 1 0 1 3 1 0 1 0 1 1 1-1 1 3 1-2 1-4 1 4 1 1 1-2 1 1 1 0 1-2 1 2 1 0 1-1 1 0 1 0 1 1 1 0 1 1 1-2 1 0 1-3 1 2 1-1 1 3 1-2 1-2 1 3 1 1 1 1 1 2 1 0 1 6 1 4 1 2 1 0 1 0 1 3 1-1 1-3 1-2 1 1 1 6 1 0 1 2 1-1 1 3 1 2 1 1 1-2 1-2 1 1 1 1 1 2 1 4 1-3 1-4 1-1 1-1 1-2 1 0 1 1 1-2 1-1 1 2 1-1 1 2 1-3 1-2 1-3 1 3 1 0 1 2 1-1 1 1 1 0 1 0 1-1 1-2 1-1 1 2 1 4 1 2 1-4"/>
<path class="d1" d="M0 7l 1 1 1 0 1-2 1 2 1 0 1 1 1-2 1 1 1 4 1-1 1 3 1-1 1 1 1-5 1-1 1-1 1-1 1-2 1 0 1 1 1 3 1-1 1-1 1 3 1-1 1 7 1 1 1 3 1 0 1 3 1 0 1 3 1 2 1 4 1 0 1 3 1 2 1 3 1 0 1 1 1-1 1-1 1 1 1 1 1-3 1 1 1 3 1-2 1 2 1 3 1 1 1 2 1 1 1 3 1 1 1-2 1 3 1 3 1-2 1 0 1-1 1 3 1 1 1 4 1 5 1-1 1 2 1-1 1-1 1 2 1 1 1 0 1 1 1 2 1 4 1 2 1-1 1 5 1 2 1-1 1-2 1-1 1-1 1-1 1 2 1 1 1 3 1 3 1 0 1-1 1 2 1 2 1-1 1 3 1 1 1 4 1 0 1-2 1 0 1 3 1 2 1 2 1 1 1 4 1 3 1-1 1 2 1-4 1 4 1 3 1 4 1 2 1-5 1 0 1 1 1 3 1 3 1 0 1 0 1 0"/>
<path class="d2" d="M0 -3l 1 0 1 1 1 0 1-1 1 1 1 0 1 0 1 0 1 1 1 1 1 1 1 1 1-1 1-2 1 1 1 0 1 1 1 1 1-1 1 3 1 2 1-1 1 1 1 0 1 0 1 2 1 2 1 2 1 2 1-1 1 3 1 2 1 0 1 0 1 1 1 1 1-1 1 2 1 1 1 1 1 0 1 1 1 1 1-2 1 2 1 1 1-1 1 2 1 1 1 0 1 0 1 3 1 1 1-3 1 0 1 1 1 0 1 0 1 0 1 0 1 0 1 2 1 3 1-1 1 0 1 1 1-2 1 0 1 3 1 0 1 0 1 0 1 2 1-1 1 4 1 3 1 0 1 0 1 0 1 0 1-2 1 2 1 1 1 2 1 0 1 1 1-2 1 1 1-1 1 2 1-2 1 2 1-1 1 1 1 4 1 1 1-2 1 0 1 1 1 1 1 1 1 0 1-1 1 0 1 3 1-3 1 2 1 2 1-1 1 1 1 1 1 1 1-1 1 2 1 1 1-2 1 0 1 3 1-2 1 1"/>
</g><g transform="matrix(1.2217 0 0 0.5520 61.50 2353.30)">
<path class="s1 t" d="M0 -6l 1 0 1 0 1 0 1 1 1-1 1-2 1 3 1 1 1-1 1-2 1 3 1-2 1 0 1 2 1-1 1 0 1-5 1 5 1 2 1-3 1 0 1 3 1-2 1 0 1 1 1 0 1 0 1 0 1 2 1-1 1-2 1 0 1 0 1 3 1 0 1 0 1 1 1-1 1 3 1-2 1-4 1 4 1 1 1-2 1 1 1 0 1-2 1 2 1 0 1-1 1 0 1 0 1 1 1 0 1 1 1-2 1 0 1-3 1 2 1-1 1 3 1-2 1-2 1 3 1 1 1 1 1 2 1 0 1 6 1 4 1 2 1 0 1 0 1 3 1-1 1-3 1-2 1 1 1 6 1 0 1 2 1-1 1 3 1 2 1 1 1-2 1-2 1 1 1 1 1 2 1 4 1-3 1-4 1-1 1-1 1-2 1 0 1 1 1-2 1-1 1 2 1-1 1 2 1-3 1-2 1-3 1 3 1 0 1 2 1-1 1 1 1 0 1 0 1-1 1-2 1-1 1 2 1 4 1 2 1-4"/>
<path class="s1 t" d="M0 7l 1 1 1 0 1-2 1 2 1 0 1 1 1-2 1 1 1 4 1-1 1 3 1-1 1 1 1-5 1-1 1-1 1-1 1-2 1 0 1 1 1 3 1-1 1-1 1 3 1-1 1 7 1 1 1 3 1 0 1 3 1 0 1 3 1 2 1 4 1 0 1 3 1 2 1 3 1 0 1 1 1-1 1-1 1 1 1 1 1-3 1 1 1 3 1-2 1 2 1 3 1 1 1 2 1 1 1 3 1 1 1-2 1 3 1 3 1-2 1 0 1-1 1 3 1 1 1 4 1 5 1-1 1 2 1-1 1-1 1 2 1 1 1 0 1 1 1 2 1 4 1 2 1-1 1 5 1 2 1-1 1-2 1-1 1-1 1-1 1 2 1 1 1 3 1 3 1 0 1-1 1 2 1 2 1-1 1 3 1 1 1 4 1 0 1-2 1 0 1 3 1 2 1 2 1 1 1 4 1 3 1-1 1 2 1-4 1 4 1 3 1 4 1 2 1-5 1 0 1 1 1 3 1 3 1 0 1 0 1 0"/>
<path class="s2 t" d="M0 -3l 1 0 1 1 1 0 1-1 1 1 1 0 1 0 1 0 1 1 1 1 1 1 1 1 1-1 1-2 1 1 1 0 1 1 1 1 1-1 1 3 1 2 1-1 1 1 1 0 1 0 1 2 1 2 1 2 1 2 1-1 1 3 1 2 1 0 1 0 1 1 1 1 1-1 1 2 1 1 1 1 1 0 1 1 1 1 1-2 1 2 1 1 1-1 1 2 1 1 1 0 1 0 1 3 1 1 1-3 1 0 1 1 1 0 1 0 1 0 1 0 1 0 1 2 1 3 1-1 1 0 1 1 1-2 1 0 1 3 1 0 1 0 1 0 1 2 1-1 1 4 1 3 1 0 1 0 1 0 1 0 1-2 1 2 1 1 1 2 1 0 1 1 1-2 1 1 1-1 1 2 1-2 1 2 1-1 1 1 1 4 1 1 1-2 1 0 1 1 1 1 1 1 1 0 1-1 1 0 1 3 1-3 1 2 1 2 1-1 1 1 1 1 1 1 1-1 1 2 1 1 1-2 1 0 1 3 1-2 1 1"/>
</g></g>
<rect x="61.5" y="2270.5" width="146.6" height="138.0" fill="none" stroke="#000" stroke-width="1.1"/>
<path d="M56.6 2298.5H61.5 M56.6 2353.5H61.5 M56.6 2408.5H61.5 M85.5 2408.5V2413.4 M147.5 2408.5V2413.4 M208.5 2408.5V2413.4" stroke="#000" stroke-width="1.1" fill="none"/>
<text x="51.8" y="2303.7" text-anchor="end" font-size="16.67" textLength="10.3" lengthAdjust="spacingAndGlyphs">1</text>
<text x="51.8" y="2358.9" text-anchor="end" font-size="16.67" textLength="10.3" lengthAdjust="spacingAndGlyphs">0</text>
<text x="51.8" y="2414.1" text-anchor="end" font-size="16.67" textLength="23.8" lengthAdjust="spacingAndGlyphs">−1</text>
<text transform="translate(17.2,2340.0) rotate(-90)" text-anchor="middle" font-size="13.89" textLength="106.9" lengthAdjust="spacingAndGlyphs">Roll. mean SPEI</text>
<rect x="117.3" y="2277.6" width="85.0" height="45.7" rx="4" ry="4" fill="#fff" fill-opacity="0.8" stroke="#cccccc" stroke-width="1.2"/>
<text x="121.8" y="2294.2" font-size="13.89" textLength="49.8" lengthAdjust="spacingAndGlyphs">NEGRO</text>
<text x="121.8" y="2315.0" font-size="13.89" textLength="72.4" lengthAdjust="spacingAndGlyphs">(SA, 0.0%)</text>
<clipPath id="c12_1"><rect x="245.1" y="2270.5" width="146.8" height="138.0"/></clipPath>
<g clip-path="url(#c12_1)">
<line x1="245.1" y1="2353.3" x2="391.9" y2="2353.3" stroke="#aaa" stroke-width="0.6" stroke-dasharray="1,1.7"/>
<g transform="matrix(1.2233 0 0 0.5520 245.10 2353.30)">
<path d="M0 -8l 1 0 1-1 1-2 1-2 1 0 1-3 1 0 1 2 1 1 1-5 1 2 1 0 1 2 1-1 1-2 1 1 1-1 1 2 1 0 1-1 1-1 1 0 1 1 1 0 1-1 1-3 1 0 1-2 1-1 1-1 1 4 1-1 1 1 1-3 1 0 1 1 1-5 1 2 1 0 1-1 1 2 1 0 1-1 1 0 1 0 1 2 1 4 1 1 1 1 1 3 1-1 1 0 1-2 1-3 1-2 1 1 1 2 1 3 1 4 1 1 1 0 1 0 1 2 1-1 1 2 1-1 1 0 1 0 1 0 1 1 1 1 1-1 1 0 1-2 1-2 1-1 1 3 1-3 1-1 1-3 1 3 1 3 1 4 1-2 1-1 1-1 1 3 1 1 1-1 1 0 1-1 1-2 1 0 1-3 1 3 1-2 1 0 1-1 1-2 1 1 1-1 1 0 1 4 1-2 1-2 1 0 1-1 1 0 1-3 1 0 1-1 1 2 1-2 1-3 1-2 1-1 1 2 1-1 1-2 1 2 0 81-1-1-1 1-1 3-1-2-1 1-1 3-1-3-1 3-1 1-1-3-1 1-1-1-1 1-1 2-1-3-1-1-1-1-1-1-1-1-1-2-1-2-1-1-1 2-1-4-1 1-1 0-1-1-1-3-1 0-1-2-1-2-1 0-1-2-1-4-1 2-1-3-1 4-1 0-1-1-1 2-1-3-1-1-1 4-1 0-1 1-1 2-1 0-1 2-1 1-1 0-1 0-1 2-1-1-1 2-1-3-1-3-1-1-1 0-1-1-1-2-1 0-1-1-1 3-1 0-1-2-1 3-1-1-1 3-1-3-1-5-1 1-1-3-1-1-1-1-1 2-1 0-1 0-1-1-1 2-1 0-1 0-1-5-1-1-1-4-1 0-1-4-1-2-1-1-1 0-1 1-1-1-1-3-1 2-1 3-1-5-1-1-1 0-1 1-1-8-1-1-1-1-1-1-1 1-1 3-1-2-1 1-1 0-1 1-1 0-1-5-1 1-1 0-1-2-1 0-1 0-1-1-1 1-1 0-1 0-1-2z" fill="#c2b27a"/>
</g><g transform="matrix(1.2233 0 0 0.5520 245.10 2354.50)">
<path class="d1" d="M0 -8l 1 0 1-1 1-2 1-2 1 0 1-3 1 0 1 2 1 1 1-5 1 2 1 0 1 2 1-1 1-2 1 1 1-1 1 2 1 0 1-1 1-1 1 0 1 1 1 0 1-1 1-3 1 0 1-2 1-1 1-1 1 4 1-1 1 1 1-3 1 0 1 1 1-5 1 2 1 0 1-1 1 2 1 0 1-1 1 0 1 0 1 2 1 4 1 1 1 1 1 3 1-1 1 0 1-2 1-3 1-2 1 1 1 2 1 3 1 4 1 1 1 0 1 0 1 2 1-1 1 2 1-1 1 0 1 0 1 0 1 1 1 1 1-1 1 0 1-2 1-2 1-1 1 3 1-3 1-1 1-3 1 3 1 3 1 4 1-2 1-1 1-1 1 3 1 1 1-1 1 0 1-1 1-2 1 0 1-3 1 3 1-2 1 0 1-1 1-2 1 1 1-1 1 0 1 4 1-2 1-2 1 0 1-1 1 0 1-3 1 0 1-1 1 2 1-2 1-3 1-2 1-1 1 2 1-1 1-2 1 2"/>
<path class="d1" d="M0 -2l 1 2 1 0 1 0 1-1 1 1 1 0 1 0 1 2 1 0 1-1 1 5 1 0 1-1 1 0 1-1 1 2 1-3 1-1 1 1 1 1 1 1 1 8 1-1 1 0 1 1 1 5 1-3 1-2 1 3 1 1 1-1 1 0 1 1 1 2 1 4 1 0 1 4 1 1 1 5 1 0 1 0 1-2 1 1 1 0 1 0 1-2 1 1 1 1 1 3 1-1 1 5 1 3 1-3 1 1 1-3 1 2 1 0 1-3 1 1 1 0 1 2 1 1 1 0 1 1 1 3 1 3 1-2 1 1 1-2 1 0 1 0 1-1 1-2 1 0 1-2 1-1 1 0 1-4 1 1 1 3 1-2 1 1 1 0 1-4 1 3 1-2 1 4 1 2 1 0 1 2 1 2 1 0 1 3 1 1 1 0 1-1 1 4 1-2 1 1 1 2 1 2 1 1 1 1 1 1 1 1 1 3 1-2 1-1 1 1 1-1 1 3 1-1 1-3 1 3 1-3 1-1 1 2 1-3 1-1 1 1"/>
<path class="d2" d="M0 -5l 1 0 1-1 1 0 1 0 1-1 1 0 1 1 1-1 1-1 1 1 1 0 1-1 1 1 1 1 1-1 1 1 1-1 1 0 1 1 1 1 1-1 1-2 1 0 1 2 1 3 1 0 1-1 1-1 1 1 1 0 1 1 1 1 1 0 1-3 1 2 1-1 1 1 1 0 1-2 1 0 1 1 1-1 1-1 1-1 1 2 1 2 1-1 1 2 1 0 1 1 1 1 1-1 1 0 1-2 1 2 1-1 1-1 1 2 1 1 1-1 1-1 1 0 1 0 1 0 1 2 1-1 1-1 1 1 1 2 1 1 1 2 1-2 1 0 1 0 1 2 1 0 1 2 1 0 1-2 1-1 1 1 1 1 1 1 1 0 1 1 1 2 1-1 1 0 1 0 1-1 1 3 1-1 1-1 1 0 1 1 1 1 1-2 1 1 1 0 1-1 1 0 1 0 1 0 1-1 1 0 1-1 1 2 1 0 1 3 1-4 1 1 1-1 1-1 1 2 1-2 1 1 1 0 1-1 1-2 1 2"/>
</g><g transform="matrix(1.2233 0 0 0.5520 245.10 2353.30)">
<path class="s1 t" d="M0 -8l 1 0 1-1 1-2 1-2 1 0 1-3 1 0 1 2 1 1 1-5 1 2 1 0 1 2 1-1 1-2 1 1 1-1 1 2 1 0 1-1 1-1 1 0 1 1 1 0 1-1 1-3 1 0 1-2 1-1 1-1 1 4 1-1 1 1 1-3 1 0 1 1 1-5 1 2 1 0 1-1 1 2 1 0 1-1 1 0 1 0 1 2 1 4 1 1 1 1 1 3 1-1 1 0 1-2 1-3 1-2 1 1 1 2 1 3 1 4 1 1 1 0 1 0 1 2 1-1 1 2 1-1 1 0 1 0 1 0 1 1 1 1 1-1 1 0 1-2 1-2 1-1 1 3 1-3 1-1 1-3 1 3 1 3 1 4 1-2 1-1 1-1 1 3 1 1 1-1 1 0 1-1 1-2 1 0 1-3 1 3 1-2 1 0 1-1 1-2 1 1 1-1 1 0 1 4 1-2 1-2 1 0 1-1 1 0 1-3 1 0 1-1 1 2 1-2 1-3 1-2 1-1 1 2 1-1 1-2 1 2"/>
<path class="s1 t" d="M0 -2l 1 2 1 0 1 0 1-1 1 1 1 0 1 0 1 2 1 0 1-1 1 5 1 0 1-1 1 0 1-1 1 2 1-3 1-1 1 1 1 1 1 1 1 8 1-1 1 0 1 1 1 5 1-3 1-2 1 3 1 1 1-1 1 0 1 1 1 2 1 4 1 0 1 4 1 1 1 5 1 0 1 0 1-2 1 1 1 0 1 0 1-2 1 1 1 1 1 3 1-1 1 5 1 3 1-3 1 1 1-3 1 2 1 0 1-3 1 1 1 0 1 2 1 1 1 0 1 1 1 3 1 3 1-2 1 1 1-2 1 0 1 0 1-1 1-2 1 0 1-2 1-1 1 0 1-4 1 1 1 3 1-2 1 1 1 0 1-4 1 3 1-2 1 4 1 2 1 0 1 2 1 2 1 0 1 3 1 1 1 0 1-1 1 4 1-2 1 1 1 2 1 2 1 1 1 1 1 1 1 1 1 3 1-2 1-1 1 1 1-1 1 3 1-1 1-3 1 3 1-3 1-1 1 2 1-3 1-1 1 1"/>
<path class="s2 t" d="M0 -5l 1 0 1-1 1 0 1 0 1-1 1 0 1 1 1-1 1-1 1 1 1 0 1-1 1 1 1 1 1-1 1 1 1-1 1 0 1 1 1 1 1-1 1-2 1 0 1 2 1 3 1 0 1-1 1-1 1 1 1 0 1 1 1 1 1 0 1-3 1 2 1-1 1 1 1 0 1-2 1 0 1 1 1-1 1-1 1-1 1 2 1 2 1-1 1 2 1 0 1 1 1 1 1-1 1 0 1-2 1 2 1-1 1-1 1 2 1 1 1-1 1-1 1 0 1 0 1 0 1 2 1-1 1-1 1 1 1 2 1 1 1 2 1-2 1 0 1 0 1 2 1 0 1 2 1 0 1-2 1-1 1 1 1 1 1 1 1 0 1 1 1 2 1-1 1 0 1 0 1-1 1 3 1-1 1-1 1 0 1 1 1 1 1-2 1 1 1 0 1-1 1 0 1 0 1 0 1-1 1 0 1-1 1 2 1 0 1 3 1-4 1 1 1-1 1-1 1 2 1-2 1 1 1 0 1-1 1-2 1 2"/>
</g></g>
<rect x="245.1" y="2270.5" width="146.8" height="138.0" fill="none" stroke="#000" stroke-width="1.1"/>
<path d="M240.2 2298.5H245.1 M240.2 2353.5H245.1 M240.2 2408.5H245.1 M269.5 2408.5V2413.4 M330.5 2408.5V2413.4 M391.5 2408.5V2413.4" stroke="#000" stroke-width="1.1" fill="none"/>
<rect x="299.9" y="2277.6" width="85.0" height="45.7" rx="4" ry="4" fill="#fff" fill-opacity="0.8" stroke="#cccccc" stroke-width="1.2"/>
<text x="304.4" y="2294.2" font-size="13.89" textLength="42.5" lengthAdjust="spacingAndGlyphs">MAJES</text>
<text x="304.4" y="2315.0" font-size="13.89" textLength="72.4" lengthAdjust="spacingAndGlyphs">(SA, 0.3%)</text>
<clipPath id="c12_2"><rect x="428.4" y="2270.5" width="147.1" height="138.0"/></clipPath>
<g clip-path="url(#c12_2)">
<line x1="428.4" y1="2353.3" x2="575.5" y2="2353.3" stroke="#aaa" stroke-width="0.6" stroke-dasharray="1,1.7"/>
<g transform="matrix(1.2258 0 0 0.5520 428.40 2353.30)">
<path d="M0 0l 1-2 1-2 1 1 1 0 1 0 1-2 1 0 1 0 1 3 1-2 1-1 1-1 1 0 1 0 1 0 1 1 1 3 1-4 1 0 1 1 1-2 1 2 1-2 1 0 1 0 1-4 1 1 1-1 1 2 1 2 1-4 1 0 1 0 1-4 1 2 1-4 1-4 1 2 1-2 1-1 1 6 1-4 1 1 1-2 1-2 1 1 1-1 1-3 1-2 1-2 1-2 1 0 1-4 1 3 1-2 1-6 1 1 1-3 1-1 1-1 1-3 1 0 1-2 1-4 1 0 1-2 1 3 1-4 1 0 1-1 1-2 1 1 1 2 1-1 1 0 1-1 1-1 1 1 1-2 1 0 1 3 1 0 1 2 1-3 1 2 1-2 1-1 1 0 1 1 1-1 1 0 1-1 1 3 1-2 1 5 1 1 1 0 1 2 1 1 1 0 1-2 1 0 1-3 1 1 1 0 1 1 1-2 1 0 1 3 1-1 1 0 1-1 1 1 1 2 1-2 1 0 1 3 1 0 1 1 1 0 0 65-1-4-1 2-1-2-1-1-1 1-1 0-1-2-1 0-1 0-1-1-1 3-1 1-1 1-1 0-1-2-1-3-1 1-1-3-1-1-1-1-1 2-1-2-1-1-1 0-1-1-1 3-1-5-1 0-1 2-1-1-1 5-1-2-1-2-1-1-1 1-1-2-1-1-1-4-1-2-1 0-1 4-1-3-1 0-1 0-1 3-1-5-1-2-1 5-1-1-1 0-1 1-1-1-1-1-1 0-1 0-1 2-1 0-1 1-1 0-1 2-1 2-1-2-1 0-1 2-1-2-1 3-1 1-1 0-1 2-1 0-1 3-1 1-1-2-1 2-1-1-1 0-1 0-1 1-1-1-1 1-1 0-1 0-1-1-1 3-1 0-1-2-1 0-1 0-1-1-1 2-1-3-1 1-1 3-1 0-1-4-1 3-1 2-1 2-1 0-1 1-1-1-1 1-1-1-1 2-1-1-1-3-1-1-1-1-1-4-1-2-1-2-1 5-1-2-1-3-1 4-1-1-1-2-1 1-1 1-1-1z" fill="#c2b27a"/>
</g><g transform="matrix(1.2258 0 0 0.5520 428.40 2354.50)">
<path class="d1" d="M0 0l 1-2 1-2 1 1 1 0 1 0 1-2 1 0 1 0 1 3 1-2 1-1 1-1 1 0 1 0 1 0 1 1 1 3 1-4 1 0 1 1 1-2 1 2 1-2 1 0 1 0 1-4 1 1 1-1 1 2 1 2 1-4 1 0 1 0 1-4 1 2 1-4 1-4 1 2 1-2 1-1 1 6 1-4 1 1 1-2 1-2 1 1 1-1 1-3 1-2 1-2 1-2 1 0 1-4 1 3 1-2 1-6 1 1 1-3 1-1 1-1 1-3 1 0 1-2 1-4 1 0 1-2 1 3 1-4 1 0 1-1 1-2 1 1 1 2 1-1 1 0 1-1 1-1 1 1 1-2 1 0 1 3 1 0 1 2 1-3 1 2 1-2 1-1 1 0 1 1 1-1 1 0 1-1 1 3 1-2 1 5 1 1 1 0 1 2 1 1 1 0 1-2 1 0 1-3 1 1 1 0 1 1 1-2 1 0 1 3 1-1 1 0 1-1 1 1 1 2 1-2 1 0 1 3 1 0 1 1 1 0"/>
<path class="d1" d="M0 3l 1 1 1-1 1-1 1 2 1 1 1-4 1 3 1 2 1-5 1 2 1 2 1 4 1 1 1 1 1 3 1 1 1-2 1 1 1-1 1 1 1-1 1 0 1-2 1-2 1-3 1 4 1 0 1-3 1-1 1 3 1-2 1 1 1 0 1 0 1 2 1 0 1-3 1 1 1 0 1 0 1-1 1 1 1-1 1 0 1 0 1 1 1-2 1 2 1-1 1-3 1 0 1-2 1 0 1-1 1-3 1 2 1-2 1 0 1 2 1-2 1-2 1 0 1-1 1 0 1-2 1 0 1 0 1 1 1 1 1-1 1 0 1 1 1-5 1 2 1 5 1-3 1 0 1 0 1 3 1-4 1 0 1 2 1 4 1 1 1 2 1-1 1 1 1 2 1 2 1-5 1 1 1-2 1 0 1 5 1-3 1 1 1 0 1 1 1 2 1-2 1 1 1 1 1 3 1-1 1 3 1 2 1 0 1-1 1-1 1-3 1 1 1 0 1 0 1 2 1 0 1-1 1 1 1 2 1-2 1 4"/>
<path class="d2" d="M0 1l 1 0 1 0 1 0 1-1 1-1 1 1 1-1 1-2 1 1 1 0 1-2 1 0 1 1 1 0 1 0 1 1 1-1 1 2 1-2 1 1 1-1 1 1 1 2 1-3 1 0 1-1 1 0 1 0 1-1 1 0 1 2 1-1 1 1 1 1 1-1 1-1 1-1 1 0 1 0 1-1 1 0 1 0 1 0 1-2 1-1 1 0 1-3 1-1 1-1 1 0 1-2 1 1 1-1 1 1 1 2 1 0 1-1 1-2 1-2 1-2 1 1 1 1 1-3 1 1 1-3 1 1 1-2 1 0 1 0 1-2 1 1 1-1 1-2 1 0 1 0 1-1 1-1 1-1 1-1 1-1 1 0 1 2 1 0 1 0 1 2 1-2 1-1 1 0 1 0 1 0 1-1 1 1 1-1 1 1 1 1 1 1 1 1 1 0 1-1 1 2 1 1 1-1 1 0 1 0 1-1 1 1 1-1 1-1 1 2 1-2 1 0 1 0 1 2 1 1 1-2 1 1 1-1 1 0 1-2 1 0"/>
</g><g transform="matrix(1.2258 0 0 0.5520 428.40 2353.30)">
<path class="s1 t" d="M0 0l 1-2 1-2 1 1 1 0 1 0 1-2 1 0 1 0 1 3 1-2 1-1 1-1 1 0 1 0 1 0 1 1 1 3 1-4 1 0 1 1 1-2 1 2 1-2 1 0 1 0 1-4 1 1 1-1 1 2 1 2 1-4 1 0 1 0 1-4 1 2 1-4 1-4 1 2 1-2 1-1 1 6 1-4 1 1 1-2 1-2 1 1 1-1 1-3 1-2 1-2 1-2 1 0 1-4 1 3 1-2 1-6 1 1 1-3 1-1 1-1 1-3 1 0 1-2 1-4 1 0 1-2 1 3 1-4 1 0 1-1 1-2 1 1 1 2 1-1 1 0 1-1 1-1 1 1 1-2 1 0 1 3 1 0 1 2 1-3 1 2 1-2 1-1 1 0 1 1 1-1 1 0 1-1 1 3 1-2 1 5 1 1 1 0 1 2 1 1 1 0 1-2 1 0 1-3 1 1 1 0 1 1 1-2 1 0 1 3 1-1 1 0 1-1 1 1 1 2 1-2 1 0 1 3 1 0 1 1 1 0"/>
<path class="s1 t" d="M0 3l 1 1 1-1 1-1 1 2 1 1 1-4 1 3 1 2 1-5 1 2 1 2 1 4 1 1 1 1 1 3 1 1 1-2 1 1 1-1 1 1 1-1 1 0 1-2 1-2 1-3 1 4 1 0 1-3 1-1 1 3 1-2 1 1 1 0 1 0 1 2 1 0 1-3 1 1 1 0 1 0 1-1 1 1 1-1 1 0 1 0 1 1 1-2 1 2 1-1 1-3 1 0 1-2 1 0 1-1 1-3 1 2 1-2 1 0 1 2 1-2 1-2 1 0 1-1 1 0 1-2 1 0 1 0 1 1 1 1 1-1 1 0 1 1 1-5 1 2 1 5 1-3 1 0 1 0 1 3 1-4 1 0 1 2 1 4 1 1 1 2 1-1 1 1 1 2 1 2 1-5 1 1 1-2 1 0 1 5 1-3 1 1 1 0 1 1 1 2 1-2 1 1 1 1 1 3 1-1 1 3 1 2 1 0 1-1 1-1 1-3 1 1 1 0 1 0 1 2 1 0 1-1 1 1 1 2 1-2 1 4"/>
<path class="s2 t" d="M0 1l 1 0 1 0 1 0 1-1 1-1 1 1 1-1 1-2 1 1 1 0 1-2 1 0 1 1 1 0 1 0 1 1 1-1 1 2 1-2 1 1 1-1 1 1 1 2 1-3 1 0 1-1 1 0 1 0 1-1 1 0 1 2 1-1 1 1 1 1 1-1 1-1 1-1 1 0 1 0 1-1 1 0 1 0 1 0 1-2 1-1 1 0 1-3 1-1 1-1 1 0 1-2 1 1 1-1 1 1 1 2 1 0 1-1 1-2 1-2 1-2 1 1 1 1 1-3 1 1 1-3 1 1 1-2 1 0 1 0 1-2 1 1 1-1 1-2 1 0 1 0 1-1 1-1 1-1 1-1 1-1 1 0 1 2 1 0 1 0 1 2 1-2 1-1 1 0 1 0 1 0 1-1 1 1 1-1 1 1 1 1 1 1 1 1 1 0 1-1 1 2 1 1 1-1 1 0 1 0 1-1 1 1 1-1 1-1 1 2 1-2 1 0 1 0 1 2 1 1 1-2 1 1 1-1 1 0 1-2 1 0"/>
</g></g>
<rect x="428.4" y="2270.5" width="147.1" height="138.0" fill="none" stroke="#000" stroke-width="1.1"/>
<path d="M423.5 2298.5H428.4 M423.5 2353.5H428.4 M423.5 2408.5H428.4 M452.5 2408.5V2413.4 M514.5 2408.5V2413.4 M575.5 2408.5V2413.4" stroke="#000" stroke-width="1.1" fill="none"/>
<rect x="435.4" y="2277.6" width="86.3" height="45.7" rx="4" ry="4" fill="#fff" fill-opacity="0.8" stroke="#cccccc" stroke-width="1.2"/>
<text x="439.9" y="2294.2" font-size="13.89" textLength="54.5" lengthAdjust="spacingAndGlyphs">CLUTHA</text>
<text x="439.9" y="2315.0" font-size="13.89" textLength="73.7" lengthAdjust="spacingAndGlyphs">(NZ, 0.3%)</text>
<clipPath id="c12_3"><rect x="611.9" y="2270.5" width="146.6" height="138.0"/></clipPath>
<g clip-path="url(#c12_3)">
<line x1="611.9" y1="2353.3" x2="758.5" y2="2353.3" stroke="#aaa" stroke-width="0.6" stroke-dasharray="1,1.7"/>
<g transform="matrix(1.2217 0 0 0.5520 611.90 2353.30)">
<path d="M0 -13l 1 1 1-1 1 2 1-1 1-1 1-2 1 2 1-2 1-1 1-2 1-1 1 0 1-1 1-1 1 3 1 0 1-4 1-1 1-3 1 1 1-1 1-1 1-2 1 2 1-1 1 2 1-3 1-2 1-2 1 2 1-1 1 1 1 0 1 0 1 0 1 1 1-4 1 3 1-1 1 1 1 0 1-5 1 3 1-2 1 1 1 1 1-6 1 0 1-3 1-1 1-1 1-5 1 0 1-2 1 2 1 0 1-2 1-1 1 0 1-1 1 1 1-3 1 2 1-1 1 0 1 0 1-1 1 3 1-5 1 3 1-2 1 0 1-4 1 2 1 2 1-2 1-1 1 1 1-4 1-1 1-1 1-1 1-1 1 1 1-2 1 1 1-1 1-1 1 1 1 1 1-2 1 1 1 0 1 1 1 0 1 1 1 1 1-3 1 1 1 2 1-4 1 0 1-1 1 1 1-1 1-2 1 1 1-3 1 0 1 1 1 1 1-1 1 4 1-1 1-2 1 1 1 1 1-2 1 2 1-2 0 84-1 0-1 0-1 1-1-2-1-1-1 1-1 2-1 4-1-1-1-2-1 2-1 1-1 2-1 0-1 1-1 2-1 1-1 1-1-1-1 1-1 2-1-2-1-1-1 0-1 2-1 2-1 1-1 0-1 2-1 0-1 0-1-3-1-1-1 2-1 0-1 5-1 0-1 0-1 1-1 2-1-1-1-4-1 2-1-3-1 2-1-4-1-4-1-3-1-1-1-1-1 1-1-2-1-2-1 0-1-3-1-1-1-1-1 1-1 3-1 0-1 0-1 0-1 1-1 1-1-1-1 0-1 2-1 1-1 1-1-1-1 0-1 1-1 1-1-3-1-3-1-2-1 1-1-2-1-2-1 1-1 1-1-2-1 2-1-3-1-2-1-1-1 1-1 0-1 1-1 1-1 1-1 0-1-2-1 1-1-2-1 0-1-1-1 1-1 0-1 1-1 1-1 0-1 2-1-2-1 1-1-6-1 2-1-2-1 0-1-3-1 2-1-1-1 0-1-1-1 0-1-1-1-1-1 1-1-1-1 0z" fill="#c2b27a"/>
</g><g transform="matrix(1.2217 0 0 0.5520 611.90 2354.50)">
<path class="d1" d="M0 -13l 1 1 1-1 1 2 1-1 1-1 1-2 1 2 1-2 1-1 1-2 1-1 1 0 1-1 1-1 1 3 1 0 1-4 1-1 1-3 1 1 1-1 1-1 1-2 1 2 1-1 1 2 1-3 1-2 1-2 1 2 1-1 1 1 1 0 1 0 1 0 1 1 1-4 1 3 1-1 1 1 1 0 1-5 1 3 1-2 1 1 1 1 1-6 1 0 1-3 1-1 1-1 1-5 1 0 1-2 1 2 1 0 1-2 1-1 1 0 1-1 1 1 1-3 1 2 1-1 1 0 1 0 1-1 1 3 1-5 1 3 1-2 1 0 1-4 1 2 1 2 1-2 1-1 1 1 1-4 1-1 1-1 1-1 1-1 1 1 1-2 1 1 1-1 1-1 1 1 1 1 1-2 1 1 1 0 1 1 1 0 1 1 1 1 1-3 1 1 1 2 1-4 1 0 1-1 1 1 1-1 1-2 1 1 1-3 1 0 1 1 1 1 1-1 1 4 1-1 1-2 1 1 1 1 1-2 1 2 1-2"/>
<path class="d1" d="M0 0l 1 0 1 1 1-1 1 1 1 1 1 0 1 1 1 0 1 1 1-2 1 3 1 0 1 2 1-2 1 6 1-1 1 2 1-2 1 0 1-1 1-1 1 0 1-1 1 1 1 0 1 2 1-1 1 2 1 0 1-1 1-1 1-1 1 0 1-1 1 1 1 2 1 3 1-2 1 2 1-1 1-1 1 2 1 2 1-1 1 2 1 3 1 3 1-1 1-1 1 0 1 1 1-1 1-1 1-2 1 0 1 1 1-1 1-1 1 0 1 0 1 0 1-3 1-1 1 1 1 1 1 3 1 0 1 2 1 2 1-1 1 1 1 1 1 3 1 4 1 4 1-2 1 3 1-2 1 4 1 1 1-2 1-1 1 0 1 0 1-5 1 0 1-2 1 1 1 3 1 0 1 0 1-2 1 0 1-1 1-2 1-2 1 0 1 1 1 2 1-2 1-1 1 1 1-1 1-1 1-2 1-1 1 0 1-2 1-1 1-2 1 2 1 1 1-4 1-2 1-1 1 1 1 2 1-1 1 0 1 0"/>
<path class="d2" d="M0 -8l 1 0 1 1 1-1 1 0 1 0 1 0 1 1 1-1 1 0 1 0 1 1 1 0 1-1 1-3 1 1 1 0 1 1 1 0 1 1 1 0 1 1 1-2 1 1 1 0 1-2 1 2 1-4 1 1 1 0 1 3 1-3 1 1 1-1 1 2 1 0 1-1 1 1 1 0 1 0 1-2 1 1 1 2 1-1 1-1 1 0 1 2 1-2 1 1 1-1 1-2 1 2 1-1 1-1 1 0 1 1 1-1 1-1 1 1 1 0 1 0 1 0 1-1 1 1 1-1 1 4 1-2 1-2 1 0 1 1 1 2 1-3 1-2 1 1 1-2 1 1 1 0 1-3 1-1 1-1 1 0 1 2 1-1 1 4 1-1 1-3 1 2 1 0 1 1 1 1 1 3 1 0 1-1 1 0 1-2 1 0 1 0 1-1 1 0 1 1 1-1 1 2 1 2 1-3 1 1 1 0 1 1 1 2 1-2 1-2 1 1 1-1 1 1 1 1 1 0 1 0 1-1 1 1 1 0 1 1 1 0"/>
</g><g transform="matrix(1.2217 0 0 0.5520 611.90 2353.30)">
<path class="s1 t" d="M0 -13l 1 1 1-1 1 2 1-1 1-1 1-2 1 2 1-2 1-1 1-2 1-1 1 0 1-1 1-1 1 3 1 0 1-4 1-1 1-3 1 1 1-1 1-1 1-2 1 2 1-1 1 2 1-3 1-2 1-2 1 2 1-1 1 1 1 0 1 0 1 0 1 1 1-4 1 3 1-1 1 1 1 0 1-5 1 3 1-2 1 1 1 1 1-6 1 0 1-3 1-1 1-1 1-5 1 0 1-2 1 2 1 0 1-2 1-1 1 0 1-1 1 1 1-3 1 2 1-1 1 0 1 0 1-1 1 3 1-5 1 3 1-2 1 0 1-4 1 2 1 2 1-2 1-1 1 1 1-4 1-1 1-1 1-1 1-1 1 1 1-2 1 1 1-1 1-1 1 1 1 1 1-2 1 1 1 0 1 1 1 0 1 1 1 1 1-3 1 1 1 2 1-4 1 0 1-1 1 1 1-1 1-2 1 1 1-3 1 0 1 1 1 1 1-1 1 4 1-1 1-2 1 1 1 1 1-2 1 2 1-2"/>
<path class="s1 t" d="M0 0l 1 0 1 1 1-1 1 1 1 1 1 0 1 1 1 0 1 1 1-2 1 3 1 0 1 2 1-2 1 6 1-1 1 2 1-2 1 0 1-1 1-1 1 0 1-1 1 1 1 0 1 2 1-1 1 2 1 0 1-1 1-1 1-1 1 0 1-1 1 1 1 2 1 3 1-2 1 2 1-1 1-1 1 2 1 2 1-1 1 2 1 3 1 3 1-1 1-1 1 0 1 1 1-1 1-1 1-2 1 0 1 1 1-1 1-1 1 0 1 0 1 0 1-3 1-1 1 1 1 1 1 3 1 0 1 2 1 2 1-1 1 1 1 1 1 3 1 4 1 4 1-2 1 3 1-2 1 4 1 1 1-2 1-1 1 0 1 0 1-5 1 0 1-2 1 1 1 3 1 0 1 0 1-2 1 0 1-1 1-2 1-2 1 0 1 1 1 2 1-2 1-1 1 1 1-1 1-1 1-2 1-1 1 0 1-2 1-1 1-2 1 2 1 1 1-4 1-2 1-1 1 1 1 2 1-1 1 0 1 0"/>
<path class="s2 t" d="M0 -8l 1 0 1 1 1-1 1 0 1 0 1 0 1 1 1-1 1 0 1 0 1 1 1 0 1-1 1-3 1 1 1 0 1 1 1 0 1 1 1 0 1 1 1-2 1 1 1 0 1-2 1 2 1-4 1 1 1 0 1 3 1-3 1 1 1-1 1 2 1 0 1-1 1 1 1 0 1 0 1-2 1 1 1 2 1-1 1-1 1 0 1 2 1-2 1 1 1-1 1-2 1 2 1-1 1-1 1 0 1 1 1-1 1-1 1 1 1 0 1 0 1 0 1-1 1 1 1-1 1 4 1-2 1-2 1 0 1 1 1 2 1-3 1-2 1 1 1-2 1 1 1 0 1-3 1-1 1-1 1 0 1 2 1-1 1 4 1-1 1-3 1 2 1 0 1 1 1 1 1 3 1 0 1-1 1 0 1-2 1 0 1 0 1-1 1 0 1 1 1-1 1 2 1 2 1-3 1 1 1 0 1 1 1 2 1-2 1-2 1 1 1-1 1 1 1 1 1 0 1 0 1-1 1 1 1 0 1 1 1 0"/>
</g></g>
<rect x="611.9" y="2270.5" width="146.6" height="138.0" fill="none" stroke="#000" stroke-width="1.1"/>
<path d="M607.0 2298.5H611.9 M607.0 2353.5H611.9 M607.0 2408.5H611.9 M636.5 2408.5V2413.4 M697.5 2408.5V2413.4 M758.5 2408.5V2413.4" stroke="#000" stroke-width="1.1" fill="none"/>
<rect x="618.9" y="2277.6" width="113.6" height="45.7" rx="4" ry="4" fill="#fff" fill-opacity="0.8" stroke="#cccccc" stroke-width="1.2"/>
<text x="623.4" y="2294.2" font-size="13.89" textLength="100.6" lengthAdjust="spacingAndGlyphs">DAULE-VINCES</text>
<text x="623.4" y="2315.0" font-size="13.89" textLength="72.4" lengthAdjust="spacingAndGlyphs">(SA, 0.1%)</text>
<clipPath id="c13_0"><rect x="61.5" y="2466.5" width="146.6" height="138.0"/></clipPath>
<g clip-path="url(#c13_0)">
<line x1="61.5" y1="2549.3" x2="208.1" y2="2549.3" stroke="#aaa" stroke-width="0.6" stroke-dasharray="1,1.7"/>
<g transform="matrix(1.2217 0 0 0.5520 61.50 2549.30)">
<path d="M0 -8l 1 2 1 0 1 0 1 2 1-1 1 0 1 3 1-1 1-2 1 1 1 0 1-3 1 0 1 0 1-7 1-5 1 1 1-1 1-3 1-1 1-3 1 4 1-2 1-1 1-5 1 2 1-2 1 1 1-1 1 2 1 1 1 0 1 0 1-3 1 0 1 1 1-1 1 2 1 2 1 0 1 5 1-3 1-3 1-1 1-2 1-3 1 2 1 1 1-1 1-2 1 3 1 0 1 0 1-1 1 0 1 1 1 1 1-1 1-1 1 1 1 1 1 1 1 2 1 5 1-1 1 3 1 3 1 3 1-1 1-1 1 2 1-2 1 0 1-2 1-2 1-5 1-3 1-2 1 0 1-1 1-3 1-5 1 1 1-3 1-2 1-2 1-1 1 1 1 0 1-2 1-2 1 2 1 2 1-6 1-2 1 0 1-1 1 2 1-4 1-3 1 5 1 0 1-1 1 1 1 1 1-1 1-2 1 1 1 0 1 0 1 1 1-1 1 6 1 0 1-2 1-4 1 1 1-2 1-2 1-4 0 42-1 3-1-5-1 3-1 1-1 1-1 0-1 2-1 1-1-1-1 2-1 4-1 1-1-3-1 2-1-1-1 0-1 1-1-2-1-2-1 2-1 1-1-1-1 4-1-2-1 2-1 0-1 0-1 1-1 0-1 3-1-1-1-1-1 5-1-1-1 1-1-1-1-6-1 1-1 1-1-2-1 1-1 0-1-1-1-5-1 4-1-2-1 0-1 4-1-1-1-1-1 1-1-2-1 3-1-6-1-2-1 6-1-6-1 4-1-1-1 3-1 0-1 1-1 2-1 0-1 1-1-1-1-1-1 1-1 0-1 3-1 0-1-1-1-2-1-1-1 0-1 2-1 2-1 0-1-4-1 0-1 6-1-2-1 0-1 3-1 0-1 1-1-3-1 2-1-1-1 2-1-5-1 4-1-2-1 5-1 3-1-1-1 0-1-1-1 2-1 2-1-2-1 3-1 0-1-4-1 0-1-2-1 1-1 2-1 0-1 5-1-3-1 1-1-1-1-2-1-1-1 1-1 1-1-1-1 0-1 0z" fill="#c2b27a"/>
</g><g transform="matrix(1.2217 0 0 0.5520 61.50 2550.50)">
<path class="d1" d="M0 -8l 1 2 1 0 1 0 1 2 1-1 1 0 1 3 1-1 1-2 1 1 1 0 1-3 1 0 1 0 1-7 1-5 1 1 1-1 1-3 1-1 1-3 1 4 1-2 1-1 1-5 1 2 1-2 1 1 1-1 1 2 1 1 1 0 1 0 1-3 1 0 1 1 1-1 1 2 1 2 1 0 1 5 1-3 1-3 1-1 1-2 1-3 1 2 1 1 1-1 1-2 1 3 1 0 1 0 1-1 1 0 1 1 1 1 1-1 1-1 1 1 1 1 1 1 1 2 1 5 1-1 1 3 1 3 1 3 1-1 1-1 1 2 1-2 1 0 1-2 1-2 1-5 1-3 1-2 1 0 1-1 1-3 1-5 1 1 1-3 1-2 1-2 1-1 1 1 1 0 1-2 1-2 1 2 1 2 1-6 1-2 1 0 1-1 1 2 1-4 1-3 1 5 1 0 1-1 1 1 1 1 1-1 1-2 1 1 1 0 1 0 1 1 1-1 1 6 1 0 1-2 1-4 1 1 1-2 1-2 1-4"/>
<path class="d1" d="M0 8l 1 0 1 0 1 1 1-1 1-1 1 1 1 2 1 1 1-1 1 3 1-5 1 0 1-2 1-1 1 2 1 0 1 4 1 0 1-3 1 2 1-2 1-2 1 1 1 0 1 1 1-3 1-5 1 2 1-4 1 5 1-2 1 1 1-2 1 3 1-1 1 0 1-3 1 0 1 2 1-6 1 0 1 4 1 0 1-2 1-2 1 0 1 1 1 2 1 1 1 0 1-3 1 0 1-1 1 1 1 1 1-1 1 0 1-2 1-1 1 0 1-3 1 1 1-4 1 6 1-6 1 2 1 6 1-3 1 2 1-1 1 1 1 1 1-4 1 0 1 2 1-4 1 5 1 1 1 0 1-1 1 2 1-1 1-1 1 6 1 1 1-1 1 1 1-5 1 1 1 1 1-3 1 0 1-1 1 0 1 0 1-2 1 2 1-4 1 1 1-1 1-2 1 2 1 2 1-1 1 0 1 1 1-2 1 3 1-1 1-4 1-2 1 1 1-1 1-2 1 0 1-1 1-1 1-3 1 5 1-3"/>
<path class="d2" d="M0 -2l 1 0 1 1 1 0 1-1 1 2 1-2 1 2 1-2 1 0 1 0 1 2 1-1 1 1 1 0 1 0 1-2 1 0 1 0 1 0 1-1 1-1 1 2 1 0 1-3 1-2 1 0 1 1 1-1 1-1 1 0 1-1 1 1 1 0 1 0 1 2 1-2 1-3 1 1 1 0 1 0 1 1 1-4 1-1 1 2 1-3 1 1 1 1 1-2 1 1 1 0 1 1 1 1 1-1 1-1 1 0 1 0 1 0 1-1 1 1 1-2 1 1 1 2 1-1 1 1 1 0 1 0 1-1 1 0 1 1 1 1 1 0 1-3 1-1 1-2 1 0 1-2 1-1 1 1 1-1 1 0 1-1 1-1 1-3 1 0 1 0 1 1 1 1 1-1 1-1 1-1 1-1 1 2 1 1 1 0 1 1 1-3 1-2 1 1 1 1 1-1 1-2 1 1 1 0 1-1 1 0 1 0 1-1 1-1 1 0 1 1 1-3 1 0 1-2 1 0 1-1 1-1 1 1 1 2 1-2 1 1"/>
</g><g transform="matrix(1.2217 0 0 0.5520 61.50 2549.30)">
<path class="s1 t" d="M0 -8l 1 2 1 0 1 0 1 2 1-1 1 0 1 3 1-1 1-2 1 1 1 0 1-3 1 0 1 0 1-7 1-5 1 1 1-1 1-3 1-1 1-3 1 4 1-2 1-1 1-5 1 2 1-2 1 1 1-1 1 2 1 1 1 0 1 0 1-3 1 0 1 1 1-1 1 2 1 2 1 0 1 5 1-3 1-3 1-1 1-2 1-3 1 2 1 1 1-1 1-2 1 3 1 0 1 0 1-1 1 0 1 1 1 1 1-1 1-1 1 1 1 1 1 1 1 2 1 5 1-1 1 3 1 3 1 3 1-1 1-1 1 2 1-2 1 0 1-2 1-2 1-5 1-3 1-2 1 0 1-1 1-3 1-5 1 1 1-3 1-2 1-2 1-1 1 1 1 0 1-2 1-2 1 2 1 2 1-6 1-2 1 0 1-1 1 2 1-4 1-3 1 5 1 0 1-1 1 1 1 1 1-1 1-2 1 1 1 0 1 0 1 1 1-1 1 6 1 0 1-2 1-4 1 1 1-2 1-2 1-4"/>
<path class="s1 t" d="M0 8l 1 0 1 0 1 1 1-1 1-1 1 1 1 2 1 1 1-1 1 3 1-5 1 0 1-2 1-1 1 2 1 0 1 4 1 0 1-3 1 2 1-2 1-2 1 1 1 0 1 1 1-3 1-5 1 2 1-4 1 5 1-2 1 1 1-2 1 3 1-1 1 0 1-3 1 0 1 2 1-6 1 0 1 4 1 0 1-2 1-2 1 0 1 1 1 2 1 1 1 0 1-3 1 0 1-1 1 1 1 1 1-1 1 0 1-2 1-1 1 0 1-3 1 1 1-4 1 6 1-6 1 2 1 6 1-3 1 2 1-1 1 1 1 1 1-4 1 0 1 2 1-4 1 5 1 1 1 0 1-1 1 2 1-1 1-1 1 6 1 1 1-1 1 1 1-5 1 1 1 1 1-3 1 0 1-1 1 0 1 0 1-2 1 2 1-4 1 1 1-1 1-2 1 2 1 2 1-1 1 0 1 1 1-2 1 3 1-1 1-4 1-2 1 1 1-1 1-2 1 0 1-1 1-1 1-3 1 5 1-3"/>
<path class="s2 t" d="M0 -2l 1 0 1 1 1 0 1-1 1 2 1-2 1 2 1-2 1 0 1 0 1 2 1-1 1 1 1 0 1 0 1-2 1 0 1 0 1 0 1-1 1-1 1 2 1 0 1-3 1-2 1 0 1 1 1-1 1-1 1 0 1-1 1 1 1 0 1 0 1 2 1-2 1-3 1 1 1 0 1 0 1 1 1-4 1-1 1 2 1-3 1 1 1 1 1-2 1 1 1 0 1 1 1 1 1-1 1-1 1 0 1 0 1 0 1-1 1 1 1-2 1 1 1 2 1-1 1 1 1 0 1 0 1-1 1 0 1 1 1 1 1 0 1-3 1-1 1-2 1 0 1-2 1-1 1 1 1-1 1 0 1-1 1-1 1-3 1 0 1 0 1 1 1 1 1-1 1-1 1-1 1-1 1 2 1 1 1 0 1 1 1-3 1-2 1 1 1 1 1-1 1-2 1 1 1 0 1-1 1 0 1 0 1-1 1-1 1 0 1 1 1-3 1 0 1-2 1 0 1-1 1-1 1 1 1 2 1-2 1 1"/>
</g></g>
<rect x="61.5" y="2466.5" width="146.6" height="138.0" fill="none" stroke="#000" stroke-width="1.1"/>
<path d="M56.6 2494.5H61.5 M56.6 2549.5H61.5 M56.6 2604.5H61.5 M85.5 2604.5V2609.4 M85.5 2461.6V2466.5 M147.5 2604.5V2609.4 M147.5 2461.6V2466.5 M208.5 2604.5V2609.4 M208.5 2461.6V2466.5" stroke="#000" stroke-width="1.1" fill="none"/>
<text x="51.8" y="2499.7" text-anchor="end" font-size="16.67" textLength="10.3" lengthAdjust="spacingAndGlyphs">1</text>
<text x="51.8" y="2554.9" text-anchor="end" font-size="16.67" textLength="10.3" lengthAdjust="spacingAndGlyphs">0</text>
<text x="51.8" y="2610.1" text-anchor="end" font-size="16.67" textLength="23.8" lengthAdjust="spacingAndGlyphs">−1</text>
<text transform="translate(17.2,2536.0) rotate(-90)" text-anchor="middle" font-size="13.89" textLength="106.9" lengthAdjust="spacingAndGlyphs">Roll. mean SPEI</text>
<text x="85.9" y="2624.0" text-anchor="middle" font-size="13.89" textLength="33.9" lengthAdjust="spacingAndGlyphs">2000</text>
<text x="147.0" y="2624.0" text-anchor="middle" font-size="13.89" textLength="33.9" lengthAdjust="spacingAndGlyphs">2050</text>
<text x="208.1" y="2624.0" text-anchor="middle" font-size="13.89" textLength="33.9" lengthAdjust="spacingAndGlyphs">2100</text>
<text x="134.8" y="2644.0" text-anchor="middle" font-size="13.89" textLength="28.5" lengthAdjust="spacingAndGlyphs">Year</text>
<rect x="68.5" y="2473.6" width="104.4" height="45.7" rx="4" ry="4" fill="#fff" fill-opacity="0.8" stroke="#cccccc" stroke-width="1.2"/>
<text x="73.0" y="2490.2" font-size="13.89" textLength="91.5" lengthAdjust="spacingAndGlyphs">KALIXAELVEN</text>
<text x="73.0" y="2511.0" font-size="13.89" textLength="72.8" lengthAdjust="spacingAndGlyphs">(EU, 0.2%)</text>
<clipPath id="c13_1"><rect x="245.1" y="2466.5" width="146.8" height="138.0"/></clipPath>
<g clip-path="url(#c13_1)">
<line x1="245.1" y1="2549.3" x2="391.9" y2="2549.3" stroke="#aaa" stroke-width="0.6" stroke-dasharray="1,1.7"/>
<g transform="matrix(1.2233 0 0 0.5520 245.10 2549.30)">
<path d="M0 -5l 1 2 1-1 1 3 1 0 1 1 1 0 1 2 1 2 1 1 1 1 1 1 1 0 1-5 1 2 1-3 1 4 1 3 1-1 1-2 1-1 1-2 1 2 1 0 1 0 1-2 1-1 1 3 1-2 1 0 1 0 1-1 1-1 1 3 1 2 1 0 1-2 1 2 1-2 1 1 1 0 1-2 1 3 1-1 1 2 1 0 1-2 1 3 1 1 1-6 1 2 1-1 1 3 1-3 1 1 1 3 1-1 1 3 1 0 1 2 1-2 1 1 1-2 1-5 1-4 1-4 1-5 1-6 1-4 1-1 1 2 1 1 1 2 1 2 1 3 1 3 1 0 1 2 1 1 1 0 1 2 1 0 1-1 1 2 1-4 1 2 1-2 1 4 1 2 1 3 1 2 1 3 1-1 1 5 1-3 1 4 1 0 1 1 1 1 1 0 1-2 1 0 1 3 1 0 1-1 1 2 1-1 1 1 1 0 1 0 1 1 1 1 1 0 1-1 1 1 1-1 1 0 1 0 1-1 1-1 1 0 0 81-1-4-1-4-1 0-1-3-1 4-1 2-1-5-1-3-1 1-1-3-1 3-1 3-1-4-1 2-1-1-1-2-1-1-1 1-1 1-1 3-1-1-1-1-1-4-1-2-1-2-1 5-1-2-1-3-1 0-1-3-1-2-1 3-1-2-1-2-1 1-1-2-1-2-1 3-1-2-1-2-1 2-1 2-1 1-1 0-1 1-1-2-1 5-1-1-1 2-1 3-1-4-1 0-1-3-1-4-1 4-1-4-1-2-1-4-1 2-1-1-1-1-1 1-1 2-1 1-1-5-1-2-1 2-1-2-1 3-1-2-1-4-1-4-1 0-1-7-1 0-1-3-1-5-1-1-1 2-1-1-1 0-1 1-1-3-1 0-1 0-1-1-1 4-1 3-1 2-1 0-1 2-1 0-1-3-1 3-1-1-1-1-1 3-1 1-1 1-1 0-1-2-1-2-1 1-1-7-1-3-1 0-1 2-1-1-1-5-1-1-1 1-1 1-1-3-1-2-1-5-1-1-1-2-1-2-1 0-1-3z" fill="#c2b27a"/>
</g><g transform="matrix(1.2233 0 0 0.5520 245.10 2550.50)">
<path class="d1" d="M0 -5l 1 2 1-1 1 3 1 0 1 1 1 0 1 2 1 2 1 1 1 1 1 1 1 0 1-5 1 2 1-3 1 4 1 3 1-1 1-2 1-1 1-2 1 2 1 0 1 0 1-2 1-1 1 3 1-2 1 0 1 0 1-1 1-1 1 3 1 2 1 0 1-2 1 2 1-2 1 1 1 0 1-2 1 3 1-1 1 2 1 0 1-2 1 3 1 1 1-6 1 2 1-1 1 3 1-3 1 1 1 3 1-1 1 3 1 0 1 2 1-2 1 1 1-2 1-5 1-4 1-4 1-5 1-6 1-4 1-1 1 2 1 1 1 2 1 2 1 3 1 3 1 0 1 2 1 1 1 0 1 2 1 0 1-1 1 2 1-4 1 2 1-2 1 4 1 2 1 3 1 2 1 3 1-1 1 5 1-3 1 4 1 0 1 1 1 1 1 0 1-2 1 0 1 3 1 0 1-1 1 2 1-1 1 1 1 0 1 0 1 1 1 1 1 0 1-1 1 1 1-1 1 0 1 0 1-1 1-1 1 0"/>
<path class="d1" d="M0 15l 1 3 1 0 1 2 1 2 1 1 1 5 1 2 1 3 1-1 1-1 1 1 1 5 1 1 1-2 1 0 1 3 1 7 1-1 1 2 1 2 1 0 1-1 1-1 1-3 1 1 1 1 1-3 1 3 1 0 1-2 1 0 1-2 1-3 1-4 1 1 1 0 1 0 1 3 1-1 1 0 1 1 1-2 1 1 1 5 1 3 1 0 1 7 1 0 1 4 1 4 1 2 1-3 1 2 1-2 1 2 1 5 1-1 1-2 1-1 1 1 1 1 1-2 1 4 1 2 1 4 1-4 1 4 1 3 1 0 1 4 1-3 1-2 1 1 1-5 1 2 1-1 1 0 1-1 1-2 1-2 1 2 1 2 1-3 1 2 1 2 1-1 1 2 1 2 1-3 1 2 1 3 1 0 1 3 1 2 1-5 1 2 1 2 1 4 1 1 1 1 1-3 1-1 1-1 1 1 1 2 1 1 1-2 1 4 1-3 1-3 1 3 1-1 1 3 1 5 1-2 1-4 1 3 1 0 1 4 1 4"/>
<path class="d2" d="M0 8l 1 0 1 2 1 1 1 0 1 0 1 1 1 0 1 0 1 2 1 3 1-1 1-1 1 1 1 0 1-1 1 1 1 0 1 0 1 1 1 2 1 0 1-2 1 2 1 2 1 2 1-1 1 0 1 1 1 0 1 0 1 1 1 0 1 0 1 2 1-1 1 1 1-2 1-2 1-2 1 1 1 1 1-2 1 0 1 2 1 0 1 1 1-1 1 2 1-1 1 0 1-1 1 1 1 2 1-1 1 4 1 2 1 1 1 0 1 1 1-1 1 0 1 1 1 0 1-1 1 0 1 1 1-1 1 1 1-2 1 0 1 0 1 1 1-1 1 0 1 1 1-2 1 2 1 0 1 0 1 2 1 2 1 1 1 0 1 0 1 0 1 0 1-1 1 1 1 3 1 1 1-1 1 3 1-3 1 0 1-1 1 1 1 2 1 1 1-1 1-1 1 2 1-1 1 2 1 2 1-1 1 0 1 1 1 1 1 0 1 0 1 1 1-1 1 2 1-1 1-1 1 0 1 2 1 0 1 1 1 1"/>
</g><g transform="matrix(1.2233 0 0 0.5520 245.10 2549.30)">
<path class="s1 t" d="M0 -5l 1 2 1-1 1 3 1 0 1 1 1 0 1 2 1 2 1 1 1 1 1 1 1 0 1-5 1 2 1-3 1 4 1 3 1-1 1-2 1-1 1-2 1 2 1 0 1 0 1-2 1-1 1 3 1-2 1 0 1 0 1-1 1-1 1 3 1 2 1 0 1-2 1 2 1-2 1 1 1 0 1-2 1 3 1-1 1 2 1 0 1-2 1 3 1 1 1-6 1 2 1-1 1 3 1-3 1 1 1 3 1-1 1 3 1 0 1 2 1-2 1 1 1-2 1-5 1-4 1-4 1-5 1-6 1-4 1-1 1 2 1 1 1 2 1 2 1 3 1 3 1 0 1 2 1 1 1 0 1 2 1 0 1-1 1 2 1-4 1 2 1-2 1 4 1 2 1 3 1 2 1 3 1-1 1 5 1-3 1 4 1 0 1 1 1 1 1 0 1-2 1 0 1 3 1 0 1-1 1 2 1-1 1 1 1 0 1 0 1 1 1 1 1 0 1-1 1 1 1-1 1 0 1 0 1-1 1-1 1 0"/>
<path class="s1 t" d="M0 15l 1 3 1 0 1 2 1 2 1 1 1 5 1 2 1 3 1-1 1-1 1 1 1 5 1 1 1-2 1 0 1 3 1 7 1-1 1 2 1 2 1 0 1-1 1-1 1-3 1 1 1 1 1-3 1 3 1 0 1-2 1 0 1-2 1-3 1-4 1 1 1 0 1 0 1 3 1-1 1 0 1 1 1-2 1 1 1 5 1 3 1 0 1 7 1 0 1 4 1 4 1 2 1-3 1 2 1-2 1 2 1 5 1-1 1-2 1-1 1 1 1 1 1-2 1 4 1 2 1 4 1-4 1 4 1 3 1 0 1 4 1-3 1-2 1 1 1-5 1 2 1-1 1 0 1-1 1-2 1-2 1 2 1 2 1-3 1 2 1 2 1-1 1 2 1 2 1-3 1 2 1 3 1 0 1 3 1 2 1-5 1 2 1 2 1 4 1 1 1 1 1-3 1-1 1-1 1 1 1 2 1 1 1-2 1 4 1-3 1-3 1 3 1-1 1 3 1 5 1-2 1-4 1 3 1 0 1 4 1 4"/>
<path class="s2 t" d="M0 8l 1 0 1 2 1 1 1 0 1 0 1 1 1 0 1 0 1 2 1 3 1-1 1-1 1 1 1 0 1-1 1 1 1 0 1 0 1 1 1 2 1 0 1-2 1 2 1 2 1 2 1-1 1 0 1 1 1 0 1 0 1 1 1 0 1 0 1 2 1-1 1 1 1-2 1-2 1-2 1 1 1 1 1-2 1 0 1 2 1 0 1 1 1-1 1 2 1-1 1 0 1-1 1 1 1 2 1-1 1 4 1 2 1 1 1 0 1 1 1-1 1 0 1 1 1 0 1-1 1 0 1 1 1-1 1 1 1-2 1 0 1 0 1 1 1-1 1 0 1 1 1-2 1 2 1 0 1 0 1 2 1 2 1 1 1 0 1 0 1 0 1 0 1-1 1 1 1 3 1 1 1-1 1 3 1-3 1 0 1-1 1 1 1 2 1 1 1-1 1-1 1 2 1-1 1 2 1 2 1-1 1 0 1 1 1 1 1 0 1 0 1 1 1-1 1 2 1-1 1-1 1 0 1 2 1 0 1 1 1 1"/>
</g></g>
<rect x="245.1" y="2466.5" width="146.8" height="138.0" fill="none" stroke="#000" stroke-width="1.1"/>
<path d="M240.2 2494.5H245.1 M240.2 2549.5H245.1 M240.2 2604.5H245.1 M269.5 2604.5V2609.4 M269.5 2461.6V2466.5 M330.5 2604.5V2609.4 M330.5 2461.6V2466.5 M391.5 2604.5V2609.4 M391.5 2461.6V2466.5" stroke="#000" stroke-width="1.1" fill="none"/>
<text x="269.6" y="2624.0" text-anchor="middle" font-size="13.89" textLength="33.9" lengthAdjust="spacingAndGlyphs">2000</text>
<text x="330.7" y="2624.0" text-anchor="middle" font-size="13.89" textLength="33.9" lengthAdjust="spacingAndGlyphs">2050</text>
<text x="391.9" y="2624.0" text-anchor="middle" font-size="13.89" textLength="33.9" lengthAdjust="spacingAndGlyphs">2100</text>
<text x="318.5" y="2644.0" text-anchor="middle" font-size="13.89" textLength="28.5" lengthAdjust="spacingAndGlyphs">Year</text>
<rect x="285.0" y="2473.6" width="99.9" height="45.7" rx="4" ry="4" fill="#fff" fill-opacity="0.8" stroke="#cccccc" stroke-width="1.2"/>
<text x="289.5" y="2490.2" font-size="13.89" textLength="87.0" lengthAdjust="spacingAndGlyphs">MAGDALENA</text>
<text x="289.5" y="2511.0" font-size="13.89" textLength="72.4" lengthAdjust="spacingAndGlyphs">(SA, 0.0%)</text>
<clipPath id="c13_2"><rect x="428.4" y="2466.5" width="147.1" height="138.0"/></clipPath>
<g clip-path="url(#c13_2)">
<line x1="428.4" y1="2549.3" x2="575.5" y2="2549.3" stroke="#aaa" stroke-width="0.6" stroke-dasharray="1,1.7"/>
<g transform="matrix(1.2258 0 0 0.5520 428.40 2549.30)">
<path d="M0 -9l 1 2 1-2 1-2 1 1 1-4 1 0 1-1 1 1 1-2 1-1 1 3 1 1 1 1 1 3 1-1 1 1 1 0 1 2 1-1 1-1 1 3 1-3 1 0 1-5 1-1 1-1 1 3 1-6 1 0 1 1 1 0 1 1 1 0 1 4 1-4 1 5 1-4 1-2 1 2 1-3 1-2 1-2 1 4 1-1 1 1 1 3 1 5 1-3 1-1 1 0 1 0 1 0 1 1 1 0 1 0 1 1 1 0 1-3 1 1 1-1 1-4 1 1 1-1 1 5 1-2 1-1 1 1 1-3 1-2 1 2 1-4 1 0 1 3 1-1 1-2 1 0 1 2 1 0 1 1 1-8 1 4 1 0 1-1 1-2 1-2 1 0 1-2 1 3 1-3 1-1 1-1 1-2 1 4 1-2 1-6 1 4 1 3 1-1 1-2 1 0 1-1 1 3 1-5 1-3 1-2 1 1 1-1 1 1 1-2 1 1 1-4 1 2 1 3 1-4 1 5 1 1 1 0 1-1 1 1 1 0 0 43-1 1-1 1-1-2-1 0-1-2-1-2-1 0-1 2-1 1-1-1-1 0-1-1-1 0-1-3-1-1-1 3-1 0-1-1-1 3-1 2-1-2-1-7-1 0-1 1-1 2-1-1-1-2-1 4-1 7-1-7-1 1-1 5-1 0-1 3-1 4-1-2-1 4-1-4-1 1-1-2-1 2-1-4-1 1-1-5-1-3-1 2-1-2-1 0-1-2-1-1-1-2-1 0-1-1-1-4-1 3-1 1-1 1-1 2-1 0-1 3-1-2-1 2-1-1-1-5-1 5-1 0-1-2-1-1-1 0-1-1-1 1-1-2-1-1-1 1-1 3-1 5-1-1-1-3-1-5-1 3-1-2-1 2-1 2-1 4-1-1-1-1-1-1-1 7-1-3-1 1-1 1-1 2-1 0-1 2-1-2-1 2-1-1-1-2-1 4-1 3-1 0-1-4-1 0-1 3-1-1-1 0-1 3-1-1-1 0-1-1-1 0-1 2-1-3-1 0-1-2-1-3-1 1-1-4-1-1-1-1z" fill="#c2b27a"/>
</g><g transform="matrix(1.2258 0 0 0.5520 428.40 2550.50)">
<path class="d1" d="M0 -9l 1 2 1-2 1-2 1 1 1-4 1 0 1-1 1 1 1-2 1-1 1 3 1 1 1 1 1 3 1-1 1 1 1 0 1 2 1-1 1-1 1 3 1-3 1 0 1-5 1-1 1-1 1 3 1-6 1 0 1 1 1 0 1 1 1 0 1 4 1-4 1 5 1-4 1-2 1 2 1-3 1-2 1-2 1 4 1-1 1 1 1 3 1 5 1-3 1-1 1 0 1 0 1 0 1 1 1 0 1 0 1 1 1 0 1-3 1 1 1-1 1-4 1 1 1-1 1 5 1-2 1-1 1 1 1-3 1-2 1 2 1-4 1 0 1 3 1-1 1-2 1 0 1 2 1 0 1 1 1-8 1 4 1 0 1-1 1-2 1-2 1 0 1-2 1 3 1-3 1-1 1-1 1-2 1 4 1-2 1-6 1 4 1 3 1-1 1-2 1 0 1-1 1 3 1-5 1-3 1-2 1 1 1-1 1 1 1-2 1 1 1-4 1 2 1 3 1-4 1 5 1 1 1 0 1-1 1 1 1 0"/>
<path class="d1" d="M0 -1l 1 1 1 1 1 4 1-1 1 3 1 2 1 0 1 3 1-2 1 0 1 1 1 0 1 1 1-3 1 0 1 1 1-3 1 0 1 4 1 0 1-3 1-4 1 2 1 1 1-2 1 2 1-2 1 0 1-2 1-1 1-1 1 3 1-7 1 1 1 1 1 1 1-4 1-2 1-2 1 2 1-3 1 5 1 3 1 1 1-5 1-3 1-1 1 1 1 2 1-1 1 1 1 0 1 1 1 2 1 0 1-5 1 5 1 1 1-2 1 2 1-3 1 0 1-2 1-1 1-1 1-3 1 4 1 1 1 0 1 2 1 1 1 2 1 0 1 2 1-2 1 3 1 5 1-1 1 4 1-2 1 2 1-1 1 4 1-4 1 2 1-4 1-3 1 0 1-5 1-1 1 7 1-7 1-4 1 2 1 1 1-2 1-1 1 0 1 7 1 2 1-2 1-3 1 1 1 0 1-3 1 1 1 3 1 0 1 1 1 0 1 1 1-1 1-2 1 0 1 2 1 2 1 0 1 2 1-1 1-1"/>
<path class="d2" d="M0 -2l 1 0 1 0 1 1 1 0 1 1 1-2 1 0 1 1 1 1 1-1 1 1 1-1 1 0 1-2 1 1 1-2 1 0 1 0 1 0 1 0 1 0 1-2 1 1 1-1 1-1 1 2 1 0 1 0 1-1 1-1 1 1 1 1 1-1 1 1 1-1 1 1 1-2 1-1 1 2 1-3 1-1 1-2 1 3 1 0 1-3 1 4 1-2 1-1 1 1 1 0 1-1 1 2 1-2 1-1 1 0 1-1 1 1 1-1 1 0 1 2 1 0 1-1 1 0 1-1 1 0 1-1 1 0 1 0 1-2 1 0 1 0 1 2 1 0 1-1 1 0 1 1 1 0 1 1 1-2 1 1 1-2 1 1 1-4 1 2 1-1 1-1 1 1 1 0 1-2 1 0 1 1 1 1 1-1 1-1 1 0 1 0 1 2 1-1 1 2 1-2 1-2 1-1 1-1 1-1 1-2 1 0 1 0 1 0 1-1 1 2 1 1 1-2 1 3 1 1 1-1 1-3 1 1 1 0 1 2 1-1"/>
</g><g transform="matrix(1.2258 0 0 0.5520 428.40 2549.30)">
<path class="s1 t" d="M0 -9l 1 2 1-2 1-2 1 1 1-4 1 0 1-1 1 1 1-2 1-1 1 3 1 1 1 1 1 3 1-1 1 1 1 0 1 2 1-1 1-1 1 3 1-3 1 0 1-5 1-1 1-1 1 3 1-6 1 0 1 1 1 0 1 1 1 0 1 4 1-4 1 5 1-4 1-2 1 2 1-3 1-2 1-2 1 4 1-1 1 1 1 3 1 5 1-3 1-1 1 0 1 0 1 0 1 1 1 0 1 0 1 1 1 0 1-3 1 1 1-1 1-4 1 1 1-1 1 5 1-2 1-1 1 1 1-3 1-2 1 2 1-4 1 0 1 3 1-1 1-2 1 0 1 2 1 0 1 1 1-8 1 4 1 0 1-1 1-2 1-2 1 0 1-2 1 3 1-3 1-1 1-1 1-2 1 4 1-2 1-6 1 4 1 3 1-1 1-2 1 0 1-1 1 3 1-5 1-3 1-2 1 1 1-1 1 1 1-2 1 1 1-4 1 2 1 3 1-4 1 5 1 1 1 0 1-1 1 1 1 0"/>
<path class="s1 t" d="M0 -1l 1 1 1 1 1 4 1-1 1 3 1 2 1 0 1 3 1-2 1 0 1 1 1 0 1 1 1-3 1 0 1 1 1-3 1 0 1 4 1 0 1-3 1-4 1 2 1 1 1-2 1 2 1-2 1 0 1-2 1-1 1-1 1 3 1-7 1 1 1 1 1 1 1-4 1-2 1-2 1 2 1-3 1 5 1 3 1 1 1-5 1-3 1-1 1 1 1 2 1-1 1 1 1 0 1 1 1 2 1 0 1-5 1 5 1 1 1-2 1 2 1-3 1 0 1-2 1-1 1-1 1-3 1 4 1 1 1 0 1 2 1 1 1 2 1 0 1 2 1-2 1 3 1 5 1-1 1 4 1-2 1 2 1-1 1 4 1-4 1 2 1-4 1-3 1 0 1-5 1-1 1 7 1-7 1-4 1 2 1 1 1-2 1-1 1 0 1 7 1 2 1-2 1-3 1 1 1 0 1-3 1 1 1 3 1 0 1 1 1 0 1 1 1-1 1-2 1 0 1 2 1 2 1 0 1 2 1-1 1-1"/>
<path class="s2 t" d="M0 -2l 1 0 1 0 1 1 1 0 1 1 1-2 1 0 1 1 1 1 1-1 1 1 1-1 1 0 1-2 1 1 1-2 1 0 1 0 1 0 1 0 1 0 1-2 1 1 1-1 1-1 1 2 1 0 1 0 1-1 1-1 1 1 1 1 1-1 1 1 1-1 1 1 1-2 1-1 1 2 1-3 1-1 1-2 1 3 1 0 1-3 1 4 1-2 1-1 1 1 1 0 1-1 1 2 1-2 1-1 1 0 1-1 1 1 1-1 1 0 1 2 1 0 1-1 1 0 1-1 1 0 1-1 1 0 1 0 1-2 1 0 1 0 1 2 1 0 1-1 1 0 1 1 1 0 1 1 1-2 1 1 1-2 1 1 1-4 1 2 1-1 1-1 1 1 1 0 1-2 1 0 1 1 1 1 1-1 1-1 1 0 1 0 1 2 1-1 1 2 1-2 1-2 1-1 1-1 1-1 1-2 1 0 1 0 1 0 1-1 1 2 1 1 1-2 1 3 1 1 1-1 1-3 1 1 1 0 1 2 1-1"/>
</g></g>
<rect x="428.4" y="2466.5" width="147.1" height="138.0" fill="none" stroke="#000" stroke-width="1.1"/>
<path d="M423.5 2494.5H428.4 M423.5 2549.5H428.4 M423.5 2604.5H428.4 M452.5 2604.5V2609.4 M452.5 2461.6V2466.5 M514.5 2604.5V2609.4 M514.5 2461.6V2466.5 M575.5 2604.5V2609.4 M575.5 2461.6V2466.5" stroke="#000" stroke-width="1.1" fill="none"/>
<text x="452.9" y="2624.0" text-anchor="middle" font-size="13.89" textLength="33.9" lengthAdjust="spacingAndGlyphs">2000</text>
<text x="514.2" y="2624.0" text-anchor="middle" font-size="13.89" textLength="33.9" lengthAdjust="spacingAndGlyphs">2050</text>
<text x="575.5" y="2624.0" text-anchor="middle" font-size="13.89" textLength="33.9" lengthAdjust="spacingAndGlyphs">2100</text>
<text x="501.9" y="2644.0" text-anchor="middle" font-size="13.89" textLength="28.5" lengthAdjust="spacingAndGlyphs">Year</text>
<rect x="482.4" y="2473.6" width="86.1" height="45.7" rx="4" ry="4" fill="#fff" fill-opacity="0.8" stroke="#cccccc" stroke-width="1.2"/>
<text x="486.9" y="2490.2" font-size="13.89" textLength="73.5" lengthAdjust="spacingAndGlyphs">DRAMSELV</text>
<text x="486.9" y="2511.0" font-size="13.89" textLength="72.8" lengthAdjust="spacingAndGlyphs">(EU, 0.2%)</text>
<clipPath id="c13_3"><rect x="611.9" y="2466.5" width="146.6" height="138.0"/></clipPath>
<g clip-path="url(#c13_3)">
<line x1="611.9" y1="2549.3" x2="758.5" y2="2549.3" stroke="#aaa" stroke-width="0.6" stroke-dasharray="1,1.7"/>
<g transform="matrix(1.2217 0 0 0.5520 611.90 2549.30)">
<path d="M0 -7l 1 1 1 1 1 0 1 3 1-3 1 0 1-3 1 2 1 1 1 0 1-4 1 0 1 0 1 2 1-3 1 3 1-3 1-2 1 0 1 1 1-1 1-2 1 0 1-5 1-3 1 1 1-2 1-1 1 0 1-3 1-4 1 0 1-3 1 0 1 0 1 0 1 2 1 2 1 3 1-3 1-1 1 2 1-1 1 1 1-3 1 0 1-2 1 0 1 0 1 4 1-1 1 1 1 0 1-3 1-2 1-2 1 4 1 0 1 0 1-5 1 0 1 3 1 1 1 2 1-1 1 0 1 4 1-1 1 0 1 1 1-2 1-1 1 0 1-2 1-2 1-1 1 1 1-1 1 0 1-3 1-1 1-3 1-4 1-2 1-1 1-1 1-1 1-1 1-2 1-5 1-3 1 0 1 1 1-1 1-4 1-2 1-4 1 1 1-3 1 0 1 1 1 1 1-1 1-2 1 3 1-2 1 0 1 1 1 2 1-1 1 1 1-1 1 0 1 1 1-6 1-3 1 0 1 2 1-2 1-1 0 40-1 3-1-3-1-2-1 1-1-1-1-2-1 2-1-1-1-1-1 5-1-3-1-1-1-1-1-1-1 4-1 4-1-3-1 0-1 1-1 0-1 1-1 0-1-2-1 2-1 2-1-3-1 2-1 2-1-1-1 0-1-1-1 1-1 4-1-2-1 5-1 0-1 2-1 1-1 3-1-1-1-3-1 0-1 1-1 0-1-1-1 3-1 3-1 0-1-2-1 4-1-1-1 2-1-1-1 4-1 4-1-1-1-1-1 0-1 0-1-2-1 2-1 4-1-3-1 2-1-2-1 3-1-2-1 3-1-1-1 5-1-1-1 0-1-1-1 0-1 1-1 1-1 3-1-2-1 2-1-2-1 2-1 1-1-2-1 1-1 2-1 2-1-2-1 4-1 5-1-3-1 2-1 1-1 0-1-4-1 1-1 1-1-1-1-6-1 0-1-1-1 0-1 2-1 0-1-4-1 4-1 4-1-1-1 4-1-1-1 0-1 0-1-5-1 2-1 1-1 2-1-3-1 2-1 1-1-2-1 1z" fill="#c2b27a"/>
</g><g transform="matrix(1.2217 0 0 0.5520 611.90 2550.50)">
<path class="d1" d="M0 -7l 1 1 1 1 1 0 1 3 1-3 1 0 1-3 1 2 1 1 1 0 1-4 1 0 1 0 1 2 1-3 1 3 1-3 1-2 1 0 1 1 1-1 1-2 1 0 1-5 1-3 1 1 1-2 1-1 1 0 1-3 1-4 1 0 1-3 1 0 1 0 1 0 1 2 1 2 1 3 1-3 1-1 1 2 1-1 1 1 1-3 1 0 1-2 1 0 1 0 1 4 1-1 1 1 1 0 1-3 1-2 1-2 1 4 1 0 1 0 1-5 1 0 1 3 1 1 1 2 1-1 1 0 1 4 1-1 1 0 1 1 1-2 1-1 1 0 1-2 1-2 1-1 1 1 1-1 1 0 1-3 1-1 1-3 1-4 1-2 1-1 1-1 1-1 1-1 1-2 1-5 1-3 1 0 1 1 1-1 1-4 1-2 1-4 1 1 1-3 1 0 1 1 1 1 1-1 1-2 1 3 1-2 1 0 1 1 1 2 1-1 1 1 1-1 1 0 1 1 1-6 1-3 1 0 1 2 1-2 1-1"/>
<path class="d1" d="M0 4l 1-1 1 2 1-1 1-2 1 3 1-2 1-1 1-2 1 5 1 0 1 0 1 1 1-4 1 1 1-4 1-4 1 4 1 0 1-2 1 0 1 1 1 0 1 6 1 1 1-1 1-1 1 4 1 0 1-1 1-2 1 3 1-5 1-4 1 2 1-2 1-2 1-1 1 2 1-1 1-2 1 2 1-2 1 2 1-3 1-1 1-1 1 0 1 1 1 0 1 1 1-5 1 1 1-3 1 2 1-3 1 2 1-2 1 3 1-4 1-2 1 2 1 0 1 0 1 1 1 1 1-4 1-4 1 1 1-2 1 1 1-4 1 2 1 0 1-3 1-3 1 1 1 0 1-1 1 0 1 3 1 1 1-3 1-1 1-2 1 0 1-5 1 2 1-4 1-1 1 1 1 0 1 1 1-2 1-2 1 3 1-2 1-2 1 2 1 0 1-1 1 0 1-1 1 0 1 3 1-4 1-4 1 1 1 1 1 1 1 3 1-5 1 1 1 1 1-2 1 2 1 1 1-1 1 2 1 3 1-3"/>
<path class="d2" d="M0 -2l 1 0 1-1 1 0 1 0 1 1 1 0 1 0 1 0 1 1 1 0 1 0 1-1 1 0 1 0 1 0 1-2 1-2 1 1 1-2 1 0 1 0 1 0 1 1 1-1 1-1 1 1 1-2 1-1 1 2 1-1 1 1 1-1 1-1 1-2 1-1 1 0 1-1 1-1 1-2 1 0 1-1 1 0 1-2 1 1 1-3 1 1 1 0 1-1 1-1 1 2 1-2 1 0 1 0 1 0 1 1 1-1 1-1 1 0 1-2 1 1 1-1 1-1 1 0 1-1 1 0 1-2 1 1 1 0 1-1 1-1 1 1 1 1 1 0 1-1 1 0 1-2 1-2 1 1 1-1 1 0 1 0 1-1 1-2 1-1 1-3 1-2 1 0 1-1 1-1 1-2 1-2 1-1 1-3 1-2 1-1 1-2 1 0 1-2 1 0 1-2 1 0 1-1 1 0 1 1 1 1 1-2 1-1 1-4 1 2 1-1 1 2 1 1 1-1 1 2 1 0 1 1 1-1 1 1 1 0 1 1"/>
</g><g transform="matrix(1.2217 0 0 0.5520 611.90 2549.30)">
<path class="s1 t" d="M0 -7l 1 1 1 1 1 0 1 3 1-3 1 0 1-3 1 2 1 1 1 0 1-4 1 0 1 0 1 2 1-3 1 3 1-3 1-2 1 0 1 1 1-1 1-2 1 0 1-5 1-3 1 1 1-2 1-1 1 0 1-3 1-4 1 0 1-3 1 0 1 0 1 0 1 2 1 2 1 3 1-3 1-1 1 2 1-1 1 1 1-3 1 0 1-2 1 0 1 0 1 4 1-1 1 1 1 0 1-3 1-2 1-2 1 4 1 0 1 0 1-5 1 0 1 3 1 1 1 2 1-1 1 0 1 4 1-1 1 0 1 1 1-2 1-1 1 0 1-2 1-2 1-1 1 1 1-1 1 0 1-3 1-1 1-3 1-4 1-2 1-1 1-1 1-1 1-1 1-2 1-5 1-3 1 0 1 1 1-1 1-4 1-2 1-4 1 1 1-3 1 0 1 1 1 1 1-1 1-2 1 3 1-2 1 0 1 1 1 2 1-1 1 1 1-1 1 0 1 1 1-6 1-3 1 0 1 2 1-2 1-1"/>
<path class="s1 t" d="M0 4l 1-1 1 2 1-1 1-2 1 3 1-2 1-1 1-2 1 5 1 0 1 0 1 1 1-4 1 1 1-4 1-4 1 4 1 0 1-2 1 0 1 1 1 0 1 6 1 1 1-1 1-1 1 4 1 0 1-1 1-2 1 3 1-5 1-4 1 2 1-2 1-2 1-1 1 2 1-1 1-2 1 2 1-2 1 2 1-3 1-1 1-1 1 0 1 1 1 0 1 1 1-5 1 1 1-3 1 2 1-3 1 2 1-2 1 3 1-4 1-2 1 2 1 0 1 0 1 1 1 1 1-4 1-4 1 1 1-2 1 1 1-4 1 2 1 0 1-3 1-3 1 1 1 0 1-1 1 0 1 3 1 1 1-3 1-1 1-2 1 0 1-5 1 2 1-4 1-1 1 1 1 0 1 1 1-2 1-2 1 3 1-2 1-2 1 2 1 0 1-1 1 0 1-1 1 0 1 3 1-4 1-4 1 1 1 1 1 1 1 3 1-5 1 1 1 1 1-2 1 2 1 1 1-1 1 2 1 3 1-3"/>
<path class="s2 t" d="M0 -2l 1 0 1-1 1 0 1 0 1 1 1 0 1 0 1 0 1 1 1 0 1 0 1-1 1 0 1 0 1 0 1-2 1-2 1 1 1-2 1 0 1 0 1 0 1 1 1-1 1-1 1 1 1-2 1-1 1 2 1-1 1 1 1-1 1-1 1-2 1-1 1 0 1-1 1-1 1-2 1 0 1-1 1 0 1-2 1 1 1-3 1 1 1 0 1-1 1-1 1 2 1-2 1 0 1 0 1 0 1 1 1-1 1-1 1 0 1-2 1 1 1-1 1-1 1 0 1-1 1 0 1-2 1 1 1 0 1-1 1-1 1 1 1 1 1 0 1-1 1 0 1-2 1-2 1 1 1-1 1 0 1 0 1-1 1-2 1-1 1-3 1-2 1 0 1-1 1-1 1-2 1-2 1-1 1-3 1-2 1-1 1-2 1 0 1-2 1 0 1-2 1 0 1-1 1 0 1 1 1 1 1-2 1-1 1-4 1 2 1-1 1 2 1 1 1-1 1 2 1 0 1 1 1-1 1 1 1 0 1 1"/>
</g></g>
<rect x="611.9" y="2466.5" width="146.6" height="138.0" fill="none" stroke="#000" stroke-width="1.1"/>
<path d="M607.0 2494.5H611.9 M607.0 2549.5H611.9 M607.0 2604.5H611.9 M636.5 2604.5V2609.4 M636.5 2461.6V2466.5 M697.5 2604.5V2609.4 M697.5 2461.6V2466.5 M758.5 2604.5V2609.4 M758.5 2461.6V2466.5" stroke="#000" stroke-width="1.1" fill="none"/>
<text x="636.3" y="2624.0" text-anchor="middle" font-size="13.89" textLength="33.9" lengthAdjust="spacingAndGlyphs">2000</text>
<text x="697.4" y="2624.0" text-anchor="middle" font-size="13.89" textLength="33.9" lengthAdjust="spacingAndGlyphs">2050</text>
<text x="758.5" y="2624.0" text-anchor="middle" font-size="13.89" textLength="33.9" lengthAdjust="spacingAndGlyphs">2100</text>
<text x="685.2" y="2644.0" text-anchor="middle" font-size="13.89" textLength="28.5" lengthAdjust="spacingAndGlyphs">Year</text>
<rect x="618.9" y="2473.6" width="86.3" height="45.7" rx="4" ry="4" fill="#fff" fill-opacity="0.8" stroke="#cccccc" stroke-width="1.2"/>
<text x="623.4" y="2490.2" font-size="13.89" textLength="63.7" lengthAdjust="spacingAndGlyphs">COLVILLE</text>
<text x="623.4" y="2511.0" font-size="13.89" textLength="73.7" lengthAdjust="spacingAndGlyphs">(NA, 0.1%)</text>
</svg></body></html>
